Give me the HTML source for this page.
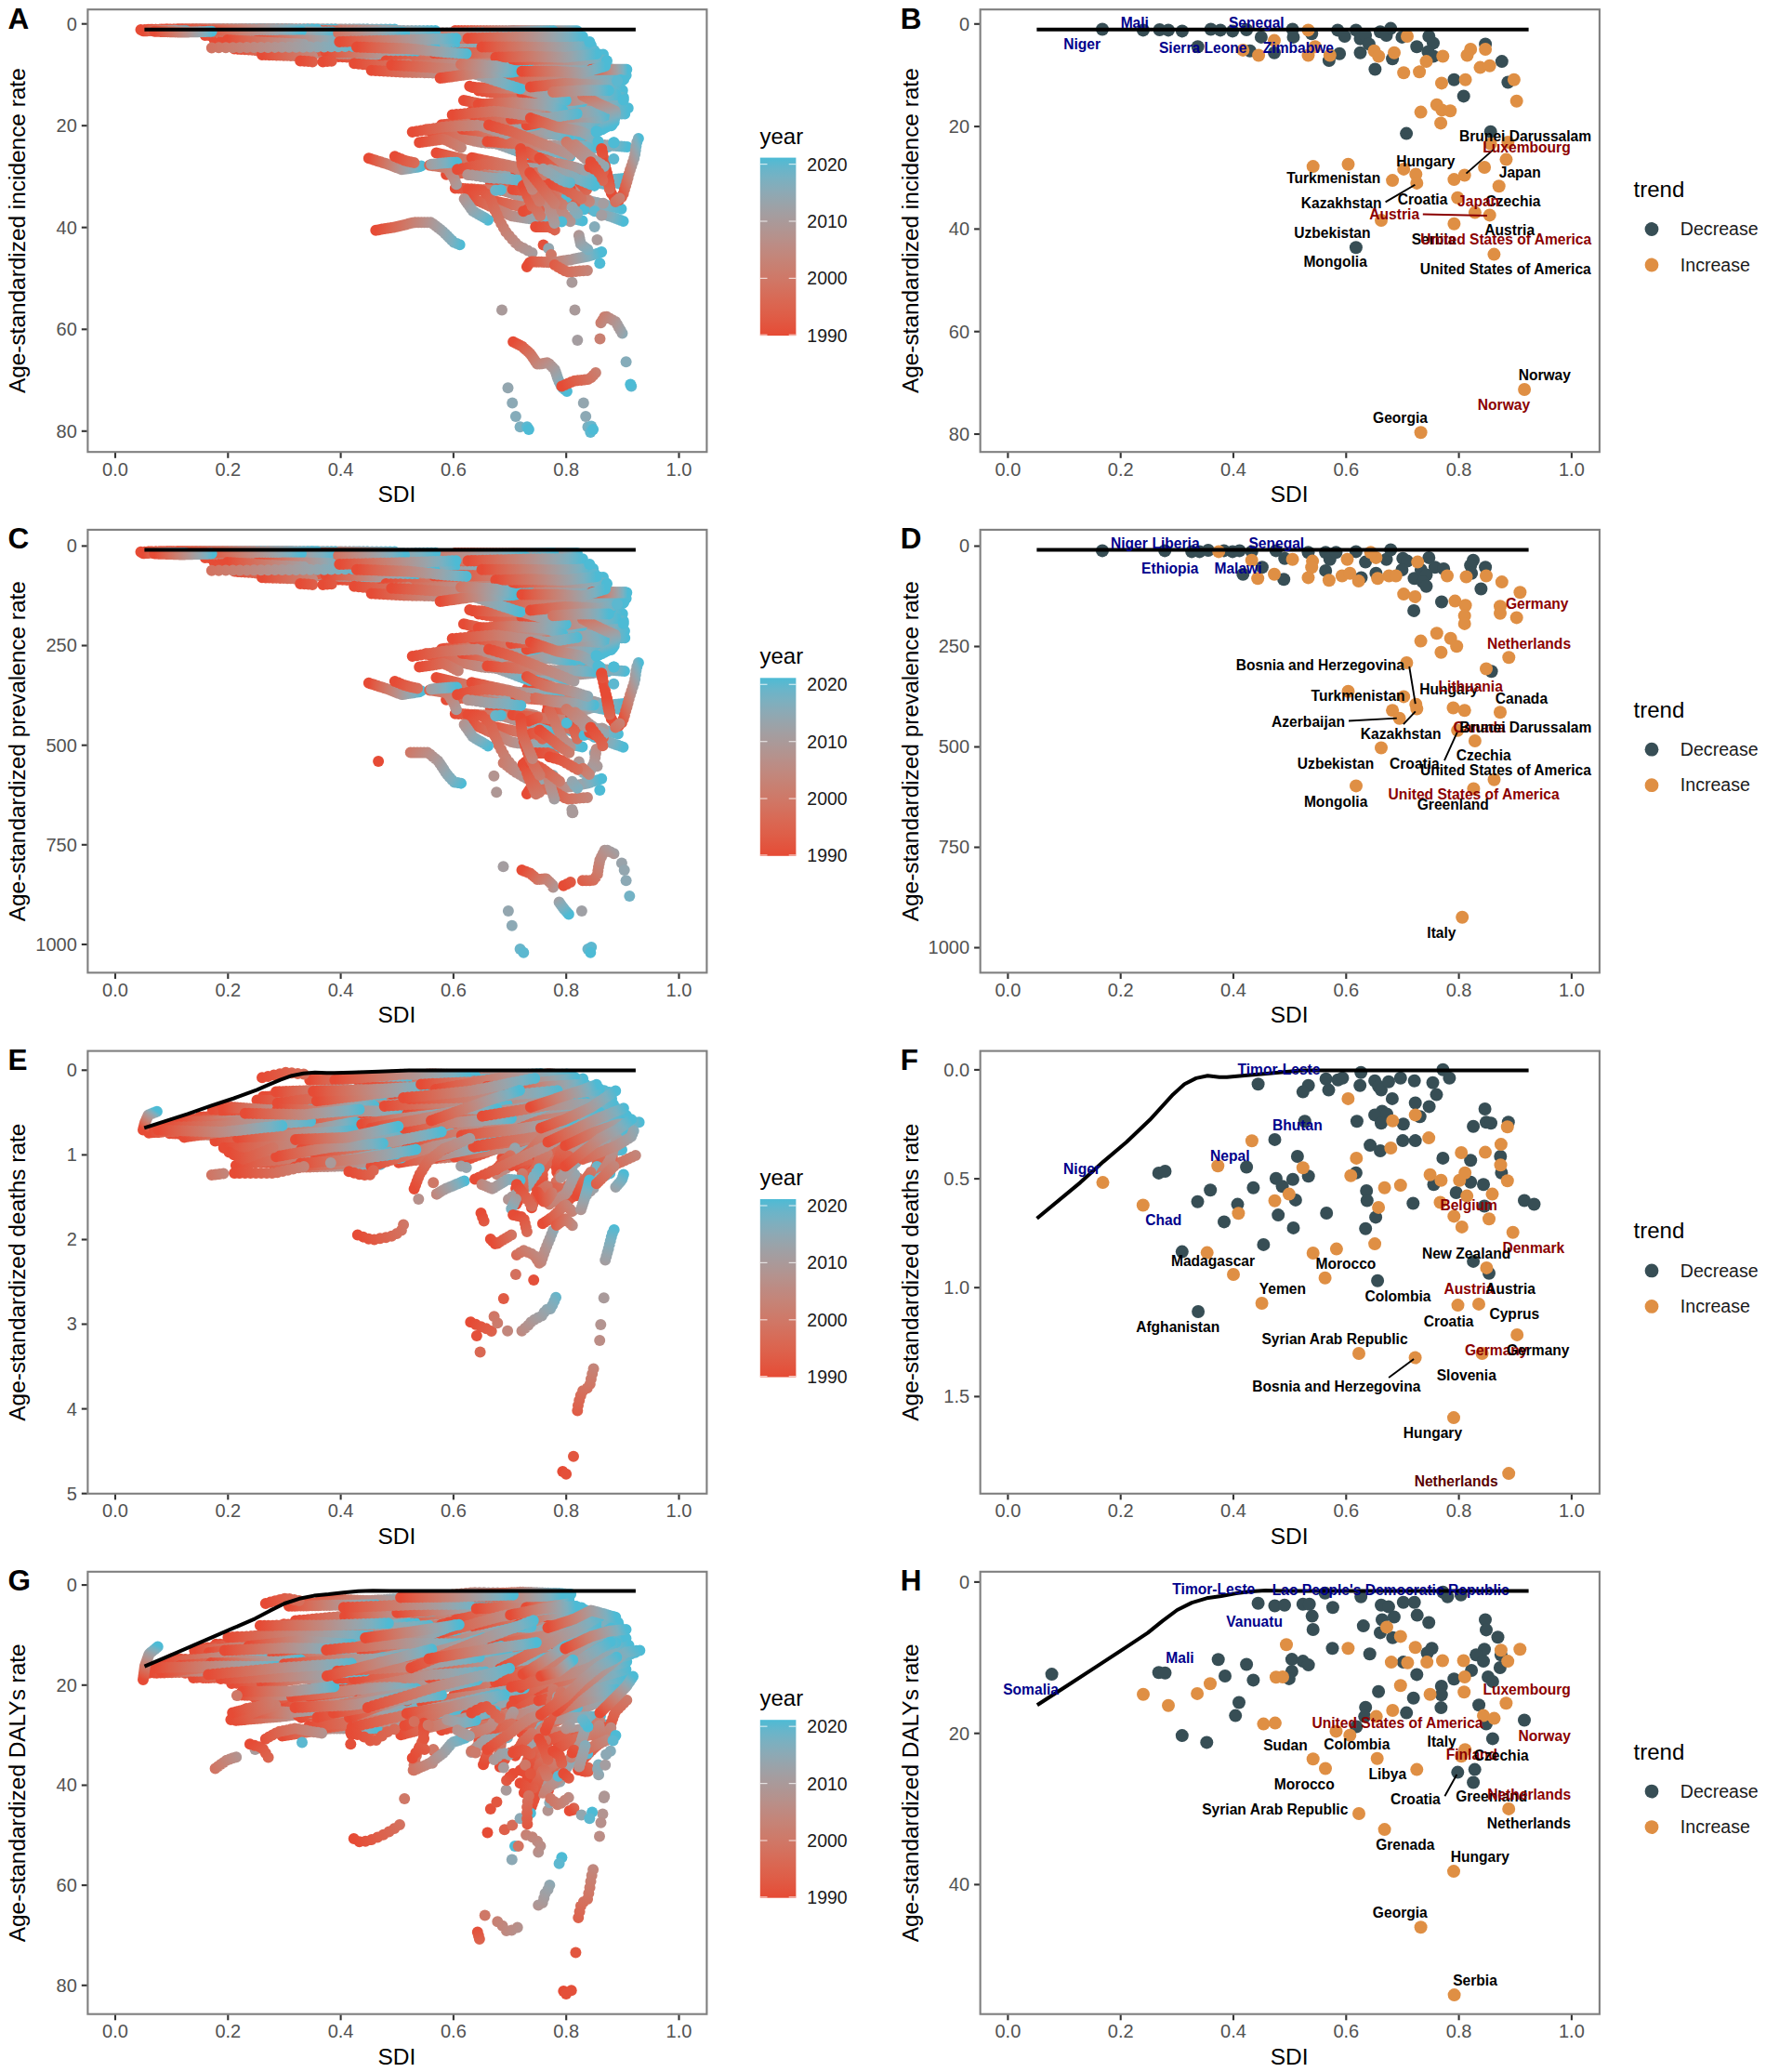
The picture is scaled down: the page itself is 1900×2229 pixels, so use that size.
<!DOCTYPE html><html><head><meta charset="utf-8"><title>SDI frontier analysis</title>
<style>html,body{margin:0;padding:0;background:#fff}svg{display:block}text{font-family:"Liberation Sans", Arial, Helvetica, sans-serif}</style></head><body>
<svg width="1900" height="2229" viewBox="0 0 1900 2229">
<defs><linearGradient id="gy" x1="0" y1="0" x2="0" y2="1"><stop offset="0.000" stop-color="#4dbbd5"/><stop offset="0.062" stop-color="#68b5ca"/><stop offset="0.125" stop-color="#7bb0c0"/><stop offset="0.188" stop-color="#8baab6"/><stop offset="0.250" stop-color="#98a4ab"/><stop offset="0.312" stop-color="#a39ea1"/><stop offset="0.375" stop-color="#ac9897"/><stop offset="0.438" stop-color="#b5928d"/><stop offset="0.500" stop-color="#bd8b83"/><stop offset="0.562" stop-color="#c48579"/><stop offset="0.625" stop-color="#ca7e6f"/><stop offset="0.688" stop-color="#d07766"/><stop offset="0.750" stop-color="#d56f5c"/><stop offset="0.812" stop-color="#da6752"/><stop offset="0.875" stop-color="#de5f49"/><stop offset="0.938" stop-color="#e2553f"/><stop offset="1.000" stop-color="#e64b35"/></linearGradient><linearGradient id="yg"><stop offset="0.000" stop-color="#e64b35"/><stop offset="0.125" stop-color="#de5f49"/><stop offset="0.250" stop-color="#d56f5c"/><stop offset="0.375" stop-color="#ca7e6f"/><stop offset="0.500" stop-color="#bd8b83"/><stop offset="0.625" stop-color="#ac9897"/><stop offset="0.750" stop-color="#98a4ab"/><stop offset="0.875" stop-color="#7bb0c0"/><stop offset="1.000" stop-color="#4dbbd5"/></linearGradient></defs>
<rect width="1900" height="2229" fill="#fff"/>
<g fill="none" stroke-width="12" stroke-linecap="round" stroke-linejoin="round">
<linearGradient id="t1" href="#yg" gradientUnits="userSpaceOnUse" x1="179.7" y1="31.6" x2="290.4" y2="32.2"/>
<path d="M179.7 31.6L235.1 32.1L290.4 32.2" stroke="url(#t1)" stroke-dasharray="0 3.57"/>
<linearGradient id="t2" href="#yg" gradientUnits="userSpaceOnUse" x1="574.5" y1="164.8" x2="656.9" y2="157.7"/>
<path d="M574.5 164.8L615.7 161.8L656.9 157.7" stroke="url(#t2)" stroke-dasharray="0 2.67"/>
<linearGradient id="t3" href="#yg" gradientUnits="userSpaceOnUse" x1="208.2" y1="31.6" x2="306.6" y2="32.2"/>
<path d="M208.2 31.6L257.4 32.1L306.6 32.2" stroke="url(#t3)" stroke-dasharray="0 3.17"/>
<linearGradient id="t4" href="#yg" gradientUnits="userSpaceOnUse" x1="530.0" y1="61.4" x2="633.3" y2="61.0"/>
<path d="M530.0 61.4L581.6 61.9L633.3 61.0" stroke="url(#t4)" stroke-dasharray="0 3.33"/>
<linearGradient id="t5" href="#yg" gradientUnits="userSpaceOnUse" x1="364.6" y1="46.4" x2="460.9" y2="44.1"/>
<path d="M364.6 46.4L412.7 46.1L460.9 44.1" stroke="url(#t5)" stroke-dasharray="0 3.11"/>
<linearGradient id="t6" href="#yg" gradientUnits="userSpaceOnUse" x1="527.8" y1="196.8" x2="623.4" y2="224.5"/>
<path d="M527.8 196.8L575.6 204.3L623.4 224.5" stroke="url(#t6)" stroke-dasharray="0 3.23"/>
<linearGradient id="t7" href="#yg" gradientUnits="userSpaceOnUse" x1="405.8" y1="34.9" x2="534.1" y2="35.4"/>
<path d="M405.8 34.9L470.0 35.4L534.1 35.4" stroke="url(#t7)" stroke-dasharray="0 4.14"/>
<linearGradient id="t8" href="#yg" gradientUnits="userSpaceOnUse" x1="587.8" y1="211.1" x2="670.6" y2="238.0"/>
<path d="M587.8 211.1L629.2 222.7L670.6 238.0" stroke="url(#t8)" stroke-dasharray="0 2.81"/>
<linearGradient id="t9" href="#yg" gradientUnits="userSpaceOnUse" x1="414.7" y1="37.9" x2="529.4" y2="38.5"/>
<path d="M414.7 37.9L472.0 38.4L529.4 38.5" stroke="url(#t9)" stroke-dasharray="0 3.70"/>
<linearGradient id="t10" href="#yg" gradientUnits="userSpaceOnUse" x1="346.0" y1="53.0" x2="502.2" y2="59.0"/>
<path d="M346.0 53.0L424.1 54.9L502.2 59.0" stroke="url(#t10)" stroke-dasharray="0 5.04"/>
<linearGradient id="t11" href="#yg" gradientUnits="userSpaceOnUse" x1="213.3" y1="32.5" x2="354.9" y2="37.6"/>
<path d="M213.3 32.5L284.1 37.0L354.9 37.6" stroke="url(#t11)" stroke-dasharray="0 4.57"/>
<linearGradient id="t12" href="#yg" gradientUnits="userSpaceOnUse" x1="375.3" y1="58.3" x2="527.7" y2="57.4"/>
<path d="M375.3 58.3L451.5 57.4L527.7 57.4" stroke="url(#t12)" stroke-dasharray="0 4.92"/>
<linearGradient id="t13" href="#yg" gradientUnits="userSpaceOnUse" x1="220.7" y1="38.0" x2="346.4" y2="37.7"/>
<path d="M220.7 38.0L283.6 37.9L346.4 37.7" stroke="url(#t13)" stroke-dasharray="0 4.06"/>
<linearGradient id="t14" href="#yg" gradientUnits="userSpaceOnUse" x1="432.0" y1="47.3" x2="590.8" y2="49.2"/>
<path d="M432.0 47.3L511.4 48.5L590.8 49.2" stroke="url(#t14)" stroke-dasharray="0 5.12"/>
<linearGradient id="t15" href="#yg" gradientUnits="userSpaceOnUse" x1="355.0" y1="43.3" x2="461.6" y2="42.7"/>
<path d="M355.0 43.3L408.3 41.9L461.6 42.7" stroke="url(#t15)" stroke-dasharray="0 3.44"/>
<linearGradient id="t16" href="#yg" gradientUnits="userSpaceOnUse" x1="193.0" y1="31.6" x2="305.2" y2="31.5"/>
<path d="M193.0 31.6L249.1 31.4L305.2 31.5" stroke="url(#t16)" stroke-dasharray="0 3.62"/>
<linearGradient id="t17" href="#yg" gradientUnits="userSpaceOnUse" x1="548.4" y1="58.3" x2="636.5" y2="60.6"/>
<path d="M548.4 58.3L592.5 58.6L636.5 60.6" stroke="url(#t17)" stroke-dasharray="0 2.85"/>
<linearGradient id="t18" href="#yg" gradientUnits="userSpaceOnUse" x1="212.3" y1="31.6" x2="339.1" y2="31.9"/>
<path d="M212.3 31.6L275.7 31.8L339.1 31.9" stroke="url(#t18)" stroke-dasharray="0 4.09"/>
<linearGradient id="t19" href="#yg" gradientUnits="userSpaceOnUse" x1="379.4" y1="59.2" x2="535.7" y2="56.4"/>
<path d="M379.4 59.2L457.6 57.5L535.7 56.4" stroke="url(#t19)" stroke-dasharray="0 5.04"/>
<linearGradient id="t20" href="#yg" gradientUnits="userSpaceOnUse" x1="208.1" y1="32.9" x2="337.2" y2="39.1"/>
<path d="M208.1 32.9L272.6 36.0L337.2 39.1" stroke="url(#t20)" stroke-dasharray="0 4.17"/>
<linearGradient id="t21" href="#yg" gradientUnits="userSpaceOnUse" x1="480.1" y1="187.8" x2="590.3" y2="184.5"/>
<path d="M480.1 187.8L535.2 182.3L590.3 184.5" stroke="url(#t21)" stroke-dasharray="0 3.56"/>
<linearGradient id="t22" href="#yg" gradientUnits="userSpaceOnUse" x1="517.2" y1="66.6" x2="643.0" y2="66.9"/>
<path d="M517.2 66.6L580.1 68.3L643.0 66.9" stroke="url(#t22)" stroke-dasharray="0 4.06"/>
<linearGradient id="t23" href="#yg" gradientUnits="userSpaceOnUse" x1="276.9" y1="31.5" x2="395.1" y2="31.6"/>
<path d="M276.9 31.5L336.0 31.6L395.1 31.6" stroke="url(#t23)" stroke-dasharray="0 3.81"/>
<linearGradient id="t24" href="#yg" gradientUnits="userSpaceOnUse" x1="537.8" y1="121.4" x2="626.5" y2="131.2"/>
<path d="M537.8 121.4L582.1 133.1L626.5 131.2" stroke="url(#t24)" stroke-dasharray="0 2.91"/>
<linearGradient id="t25" href="#yg" gradientUnits="userSpaceOnUse" x1="550.4" y1="93.1" x2="675.8" y2="116.3"/>
<path d="M550.4 93.1L613.1 98.6L675.8 116.3" stroke="url(#t25)" stroke-dasharray="0 4.13"/>
<linearGradient id="t26" href="#yg" gradientUnits="userSpaceOnUse" x1="521.6" y1="59.6" x2="649.0" y2="58.5"/>
<path d="M521.6 59.6L585.3 57.9L649.0 58.5" stroke="url(#t26)" stroke-dasharray="0 4.11"/>
<linearGradient id="t27" href="#yg" gradientUnits="userSpaceOnUse" x1="550.3" y1="73.4" x2="662.2" y2="75.4"/>
<path d="M550.3 73.4L606.2 74.0L662.2 75.4" stroke="url(#t27)" stroke-dasharray="0 3.61"/>
<linearGradient id="t28" href="#yg" gradientUnits="userSpaceOnUse" x1="191.6" y1="31.5" x2="310.2" y2="31.7"/>
<path d="M191.6 31.5L250.9 31.5L310.2 31.7" stroke="url(#t28)" stroke-dasharray="0 3.83"/>
<linearGradient id="t29" href="#yg" gradientUnits="userSpaceOnUse" x1="542.3" y1="93.4" x2="644.6" y2="89.5"/>
<path d="M542.3 93.4L593.4 89.3L644.6 89.5" stroke="url(#t29)" stroke-dasharray="0 3.31"/>
<linearGradient id="t30" href="#yg" gradientUnits="userSpaceOnUse" x1="170.7" y1="31.9" x2="278.8" y2="33.9"/>
<path d="M170.7 31.9L224.7 32.5L278.8 33.9" stroke="url(#t30)" stroke-dasharray="0 3.49"/>
<linearGradient id="t31" href="#yg" gradientUnits="userSpaceOnUse" x1="508.9" y1="70.6" x2="624.3" y2="72.9"/>
<path d="M508.9 70.6L566.6 71.6L624.3 72.9" stroke="url(#t31)" stroke-dasharray="0 3.72"/>
<linearGradient id="t32" href="#yg" gradientUnits="userSpaceOnUse" x1="257.9" y1="52.4" x2="415.4" y2="50.9"/>
<path d="M257.9 52.4L336.7 54.4L415.4 50.9" stroke="url(#t32)" stroke-dasharray="0 5.08"/>
<linearGradient id="t33" href="#yg" gradientUnits="userSpaceOnUse" x1="324.1" y1="35.7" x2="472.8" y2="36.3"/>
<path d="M324.1 35.7L398.4 36.4L472.8 36.3" stroke="url(#t33)" stroke-dasharray="0 4.80"/>
<linearGradient id="t34" href="#yg" gradientUnits="userSpaceOnUse" x1="202.1" y1="32.8" x2="306.9" y2="31.5"/>
<path d="M202.1 32.8L254.5 33.9L306.9 31.5" stroke="url(#t34)" stroke-dasharray="0 3.38"/>
<linearGradient id="t35" href="#yg" gradientUnits="userSpaceOnUse" x1="297.1" y1="55.7" x2="449.6" y2="53.2"/>
<path d="M297.1 55.7L373.3 52.9L449.6 53.2" stroke="url(#t35)" stroke-dasharray="0 4.92"/>
<linearGradient id="t36" href="#yg" gradientUnits="userSpaceOnUse" x1="429.0" y1="46.1" x2="551.8" y2="46.5"/>
<path d="M429.0 46.1L490.4 45.9L551.8 46.5" stroke="url(#t36)" stroke-dasharray="0 3.96"/>
<linearGradient id="t37" href="#yg" gradientUnits="userSpaceOnUse" x1="203.0" y1="32.1" x2="314.1" y2="31.5"/>
<path d="M203.0 32.1L258.6 31.7L314.1 31.5" stroke="url(#t37)" stroke-dasharray="0 3.58"/>
<linearGradient id="t38" href="#yg" gradientUnits="userSpaceOnUse" x1="446.1" y1="56.2" x2="542.3" y2="53.4"/>
<path d="M446.1 56.2L494.2 54.2L542.3 53.4" stroke="url(#t38)" stroke-dasharray="0 3.11"/>
<linearGradient id="t39" href="#yg" gradientUnits="userSpaceOnUse" x1="270.9" y1="43.5" x2="427.8" y2="42.6"/>
<path d="M270.9 43.5L349.4 42.8L427.8 42.6" stroke="url(#t39)" stroke-dasharray="0 5.06"/>
<linearGradient id="t40" href="#yg" gradientUnits="userSpaceOnUse" x1="210.4" y1="32.6" x2="322.0" y2="34.9"/>
<path d="M210.4 32.6L266.2 31.5L322.0 34.9" stroke="url(#t40)" stroke-dasharray="0 3.60"/>
<linearGradient id="t41" href="#yg" gradientUnits="userSpaceOnUse" x1="485.5" y1="44.0" x2="628.6" y2="44.0"/>
<path d="M485.5 44.0L557.1 43.2L628.6 44.0" stroke="url(#t41)" stroke-dasharray="0 4.62"/>
<linearGradient id="t42" href="#yg" gradientUnits="userSpaceOnUse" x1="257.1" y1="35.8" x2="375.9" y2="36.3"/>
<path d="M257.1 35.8L316.5 36.3L375.9 36.3" stroke="url(#t42)" stroke-dasharray="0 3.83"/>
<linearGradient id="t43" href="#yg" gradientUnits="userSpaceOnUse" x1="341.1" y1="34.7" x2="467.5" y2="34.7"/>
<path d="M341.1 34.7L404.3 34.5L467.5 34.7" stroke="url(#t43)" stroke-dasharray="0 4.08"/>
<linearGradient id="t44" href="#yg" gradientUnits="userSpaceOnUse" x1="193.0" y1="32.3" x2="342.3" y2="34.5"/>
<path d="M193.0 32.3L267.7 34.0L342.3 34.5" stroke="url(#t44)" stroke-dasharray="0 4.82"/>
<linearGradient id="t45" href="#yg" gradientUnits="userSpaceOnUse" x1="488.7" y1="136.5" x2="614.5" y2="143.8"/>
<path d="M488.7 136.5L551.6 135.0L614.5 143.8" stroke="url(#t45)" stroke-dasharray="0 4.08"/>
<linearGradient id="t46" href="#yg" gradientUnits="userSpaceOnUse" x1="513.6" y1="46.4" x2="626.8" y2="46.9"/>
<path d="M513.6 46.4L570.2 45.9L626.8 46.9" stroke="url(#t46)" stroke-dasharray="0 3.65"/>
<linearGradient id="t47" href="#yg" gradientUnits="userSpaceOnUse" x1="196.0" y1="32.3" x2="295.5" y2="32.5"/>
<path d="M196.0 32.3L245.8 31.5L295.5 32.5" stroke="url(#t47)" stroke-dasharray="0 3.21"/>
<linearGradient id="t48" href="#yg" gradientUnits="userSpaceOnUse" x1="504.0" y1="140.5" x2="591.4" y2="158.9"/>
<path d="M504.0 140.5L547.7 156.0L591.4 158.9" stroke="url(#t48)" stroke-dasharray="0 2.91"/>
<linearGradient id="t49" href="#yg" gradientUnits="userSpaceOnUse" x1="256.3" y1="34.9" x2="378.6" y2="34.9"/>
<path d="M256.3 34.9L317.5 34.9L378.6 34.9" stroke="url(#t49)" stroke-dasharray="0 3.94"/>
<linearGradient id="t50" href="#yg" gradientUnits="userSpaceOnUse" x1="457.7" y1="63.0" x2="595.5" y2="63.3"/>
<path d="M457.7 63.0L526.6 62.4L595.5 63.3" stroke="url(#t50)" stroke-dasharray="0 4.44"/>
<linearGradient id="t51" href="#yg" gradientUnits="userSpaceOnUse" x1="209.1" y1="32.0" x2="311.8" y2="31.5"/>
<path d="M209.1 32.0L260.5 31.9L311.8 31.5" stroke="url(#t51)" stroke-dasharray="0 3.31"/>
<linearGradient id="t52" href="#yg" gradientUnits="userSpaceOnUse" x1="503.8" y1="47.8" x2="612.8" y2="48.0"/>
<path d="M503.8 47.8L558.3 47.8L612.8 48.0" stroke="url(#t52)" stroke-dasharray="0 3.52"/>
<linearGradient id="t53" href="#yg" gradientUnits="userSpaceOnUse" x1="177.3" y1="32.1" x2="328.4" y2="33.4"/>
<path d="M177.3 32.1L252.9 34.0L328.4 33.4" stroke="url(#t53)" stroke-dasharray="0 4.87"/>
<linearGradient id="t54" href="#yg" gradientUnits="userSpaceOnUse" x1="517.0" y1="115.1" x2="597.2" y2="141.6"/>
<path d="M517.0 115.1L557.1 130.5L597.2 141.6" stroke="url(#t54)" stroke-dasharray="0 2.73"/>
<linearGradient id="t55" href="#yg" gradientUnits="userSpaceOnUse" x1="488.7" y1="45.5" x2="597.4" y2="45.0"/>
<path d="M488.7 45.5L543.1 45.4L597.4 45.0" stroke="url(#t55)" stroke-dasharray="0 3.51"/>
<linearGradient id="t56" href="#yg" gradientUnits="userSpaceOnUse" x1="550.8" y1="108.7" x2="669.9" y2="97.2"/>
<path d="M550.8 108.7L610.4 100.2L669.9 97.2" stroke="url(#t56)" stroke-dasharray="0 3.86"/>
<linearGradient id="t57" href="#yg" gradientUnits="userSpaceOnUse" x1="569.0" y1="127.9" x2="657.7" y2="135.2"/>
<path d="M569.0 127.9L613.3 126.1L657.7 135.2" stroke="url(#t57)" stroke-dasharray="0 2.89"/>
<linearGradient id="t58" href="#yg" gradientUnits="userSpaceOnUse" x1="588.7" y1="200.0" x2="670.9" y2="192.0"/>
<path d="M588.7 200.0L629.8 196.0L670.9 192.0" stroke="url(#t58)" stroke-dasharray="0 2.66"/>
<linearGradient id="t59" href="#yg" gradientUnits="userSpaceOnUse" x1="364.2" y1="61.1" x2="503.5" y2="64.9"/>
<path d="M364.2 61.1L433.8 64.5L503.5 64.9" stroke="url(#t59)" stroke-dasharray="0 4.50"/>
<linearGradient id="t60" href="#yg" gradientUnits="userSpaceOnUse" x1="230.6" y1="42.7" x2="338.9" y2="47.2"/>
<path d="M230.6 42.7L284.8 44.9L338.9 47.2" stroke="url(#t60)" stroke-dasharray="0 3.50"/>
<linearGradient id="t61" href="#yg" gradientUnits="userSpaceOnUse" x1="389.2" y1="48.1" x2="543.0" y2="49.0"/>
<path d="M389.2 48.1L466.1 48.6L543.0 49.0" stroke="url(#t61)" stroke-dasharray="0 4.96"/>
<linearGradient id="t62" href="#yg" gradientUnits="userSpaceOnUse" x1="423.6" y1="42.3" x2="578.8" y2="42.2"/>
<path d="M423.6 42.3L501.2 42.1L578.8 42.2" stroke="url(#t62)" stroke-dasharray="0 5.00"/>
<linearGradient id="t63" href="#yg" gradientUnits="userSpaceOnUse" x1="498.9" y1="108.0" x2="580.9" y2="109.7"/>
<path d="M498.9 108.0L539.9 116.5L580.9 109.7" stroke="url(#t63)" stroke-dasharray="0 2.69"/>
<linearGradient id="t64" href="#yg" gradientUnits="userSpaceOnUse" x1="551.0" y1="33.1" x2="623.1" y2="33.3"/>
<path d="M551.0 33.1L587.1 33.3L623.1 33.3" stroke="url(#t64)" stroke-dasharray="0 2.33"/>
<linearGradient id="t65" href="#yg" gradientUnits="userSpaceOnUse" x1="547.6" y1="82.5" x2="662.9" y2="80.9"/>
<path d="M547.6 82.5L605.3 83.0L662.9 80.9" stroke="url(#t65)" stroke-dasharray="0 3.72"/>
<linearGradient id="t66" href="#yg" gradientUnits="userSpaceOnUse" x1="450.3" y1="64.2" x2="574.6" y2="63.4"/>
<path d="M450.3 64.2L512.4 61.7L574.6 63.4" stroke="url(#t66)" stroke-dasharray="0 4.01"/>
<linearGradient id="t67" href="#yg" gradientUnits="userSpaceOnUse" x1="489.8" y1="33.1" x2="595.3" y2="33.2"/>
<path d="M489.8 33.1L542.6 33.1L595.3 33.2" stroke="url(#t67)" stroke-dasharray="0 3.40"/>
<linearGradient id="t68" href="#yg" gradientUnits="userSpaceOnUse" x1="543.0" y1="96.7" x2="657.0" y2="93.0"/>
<path d="M543.0 96.7L600.0 88.8L657.0 93.0" stroke="url(#t68)" stroke-dasharray="0 3.70"/>
<linearGradient id="t69" href="#yg" gradientUnits="userSpaceOnUse" x1="456.0" y1="60.9" x2="553.1" y2="61.0"/>
<path d="M456.0 60.9L504.5 60.2L553.1 61.0" stroke="url(#t69)" stroke-dasharray="0 3.13"/>
<linearGradient id="t70" href="#yg" gradientUnits="userSpaceOnUse" x1="334.3" y1="38.5" x2="446.7" y2="38.0"/>
<path d="M334.3 38.5L390.5 38.4L446.7 38.0" stroke="url(#t70)" stroke-dasharray="0 3.63"/>
<linearGradient id="t71" href="#yg" gradientUnits="userSpaceOnUse" x1="488.5" y1="78.7" x2="639.1" y2="75.3"/>
<path d="M488.5 78.7L563.8 74.9L639.1 75.3" stroke="url(#t71)" stroke-dasharray="0 4.86"/>
<linearGradient id="t72" href="#yg" gradientUnits="userSpaceOnUse" x1="161.5" y1="31.8" x2="274.6" y2="34.3"/>
<path d="M161.5 31.8L218.0 33.0L274.6 34.3" stroke="url(#t72)" stroke-dasharray="0 3.65"/>
<linearGradient id="t73" href="#yg" gradientUnits="userSpaceOnUse" x1="253.4" y1="40.0" x2="371.0" y2="42.7"/>
<path d="M253.4 40.0L312.2 42.6L371.0 42.7" stroke="url(#t73)" stroke-dasharray="0 3.79"/>
<linearGradient id="t74" href="#yg" gradientUnits="userSpaceOnUse" x1="572.7" y1="125.4" x2="675.4" y2="122.6"/>
<path d="M572.7 125.4L624.0 122.4L675.4 122.6" stroke="url(#t74)" stroke-dasharray="0 3.32"/>
<linearGradient id="t75" href="#yg" gradientUnits="userSpaceOnUse" x1="386.6" y1="65.7" x2="507.4" y2="72.6"/>
<path d="M386.6 65.7L447.0 67.9L507.4 72.6" stroke="url(#t75)" stroke-dasharray="0 3.90"/>
<linearGradient id="t76" href="#yg" gradientUnits="userSpaceOnUse" x1="422.8" y1="38.8" x2="579.4" y2="38.4"/>
<path d="M422.8 38.8L501.1 39.1L579.4 38.4" stroke="url(#t76)" stroke-dasharray="0 5.05"/>
<linearGradient id="t77" href="#yg" gradientUnits="userSpaceOnUse" x1="279.6" y1="31.6" x2="429.2" y2="31.6"/>
<path d="M279.6 31.6L354.4 31.6L429.2 31.6" stroke="url(#t77)" stroke-dasharray="0 4.83"/>
<linearGradient id="t78" href="#yg" gradientUnits="userSpaceOnUse" x1="515.8" y1="117.7" x2="653.3" y2="116.7"/>
<path d="M515.8 117.7L584.6 120.6L653.3 116.7" stroke="url(#t78)" stroke-dasharray="0 4.44"/>
<linearGradient id="t79" href="#yg" gradientUnits="userSpaceOnUse" x1="489.8" y1="202.4" x2="594.5" y2="222.6"/>
<path d="M489.8 202.4L542.2 205.2L594.5 222.6" stroke="url(#t79)" stroke-dasharray="0 3.47"/>
<linearGradient id="t80" href="#yg" gradientUnits="userSpaceOnUse" x1="235.6" y1="38.7" x2="341.1" y2="36.8"/>
<path d="M235.6 38.7L288.4 37.0L341.1 36.8" stroke="url(#t80)" stroke-dasharray="0 3.41"/>
<linearGradient id="t81" href="#yg" gradientUnits="userSpaceOnUse" x1="175.4" y1="32.7" x2="288.5" y2="34.7"/>
<path d="M175.4 32.7L232.0 34.4L288.5 34.7" stroke="url(#t81)" stroke-dasharray="0 3.65"/>
<linearGradient id="t82" href="#yg" gradientUnits="userSpaceOnUse" x1="450.6" y1="40.9" x2="581.4" y2="42.7"/>
<path d="M450.6 40.9L516.0 41.3L581.4 42.7" stroke="url(#t82)" stroke-dasharray="0 4.22"/>
<linearGradient id="t83" href="#yg" gradientUnits="userSpaceOnUse" x1="450.4" y1="71.1" x2="610.3" y2="68.8"/>
<path d="M450.4 71.1L530.3 72.4L610.3 68.8" stroke="url(#t83)" stroke-dasharray="0 5.16"/>
<linearGradient id="t84" href="#yg" gradientUnits="userSpaceOnUse" x1="430.0" y1="42.5" x2="570.1" y2="41.7"/>
<path d="M430.0 42.5L500.0 41.9L570.1 41.7" stroke="url(#t84)" stroke-dasharray="0 4.52"/>
<linearGradient id="t85" href="#yg" gradientUnits="userSpaceOnUse" x1="484.8" y1="139.0" x2="613.3" y2="168.6"/>
<path d="M484.8 139.0L549.1 147.4L613.3 168.6" stroke="url(#t85)" stroke-dasharray="0 4.27"/>
<linearGradient id="t86" href="#yg" gradientUnits="userSpaceOnUse" x1="429.9" y1="65.2" x2="537.7" y2="66.9"/>
<path d="M429.9 65.2L483.8 64.6L537.7 66.9" stroke="url(#t86)" stroke-dasharray="0 3.48"/>
<linearGradient id="t87" href="#yg" gradientUnits="userSpaceOnUse" x1="457.4" y1="50.7" x2="579.2" y2="50.8"/>
<path d="M457.4 50.7L518.3 50.3L579.2 50.8" stroke="url(#t87)" stroke-dasharray="0 3.93"/>
<linearGradient id="t88" href="#yg" gradientUnits="userSpaceOnUse" x1="356.8" y1="56.7" x2="506.1" y2="59.3"/>
<path d="M356.8 56.7L431.4 59.9L506.1 59.3" stroke="url(#t88)" stroke-dasharray="0 4.82"/>
<linearGradient id="t89" href="#yg" gradientUnits="userSpaceOnUse" x1="377.7" y1="35.8" x2="523.7" y2="35.6"/>
<path d="M377.7 35.8L450.7 35.5L523.7 35.6" stroke="url(#t89)" stroke-dasharray="0 4.71"/>
<linearGradient id="t90" href="#yg" gradientUnits="userSpaceOnUse" x1="232.4" y1="31.7" x2="360.2" y2="31.6"/>
<path d="M232.4 31.7L296.3 31.6L360.2 31.6" stroke="url(#t90)" stroke-dasharray="0 4.12"/>
<linearGradient id="t91" href="#yg" gradientUnits="userSpaceOnUse" x1="346.4" y1="54.9" x2="485.8" y2="58.1"/>
<path d="M346.4 54.9L416.1 54.5L485.8 58.1" stroke="url(#t91)" stroke-dasharray="0 4.50"/>
<linearGradient id="t92" href="#yg" gradientUnits="userSpaceOnUse" x1="475.7" y1="44.0" x2="616.1" y2="44.7"/>
<path d="M475.7 44.0L545.9 45.0L616.1 44.7" stroke="url(#t92)" stroke-dasharray="0 4.53"/>
<linearGradient id="t93" href="#yg" gradientUnits="userSpaceOnUse" x1="567.3" y1="176.1" x2="672.4" y2="199.4"/>
<path d="M567.3 176.1L619.8 184.5L672.4 199.4" stroke="url(#t93)" stroke-dasharray="0 3.48"/>
<linearGradient id="t94" href="#yg" gradientUnits="userSpaceOnUse" x1="584.2" y1="136.8" x2="674.9" y2="158.0"/>
<path d="M584.2 136.8L629.6 154.3L674.9 158.0" stroke="url(#t94)" stroke-dasharray="0 3.03"/>
<linearGradient id="t95" href="#yg" gradientUnits="userSpaceOnUse" x1="240.0" y1="40.1" x2="396.9" y2="44.0"/>
<path d="M240.0 40.1L318.5 42.9L396.9 44.0" stroke="url(#t95)" stroke-dasharray="0 5.06"/>
<linearGradient id="t96" href="#yg" gradientUnits="userSpaceOnUse" x1="457.6" y1="40.5" x2="583.6" y2="40.4"/>
<path d="M457.6 40.5L520.6 40.9L583.6 40.4" stroke="url(#t96)" stroke-dasharray="0 4.07"/>
<linearGradient id="t97" href="#yg" gradientUnits="userSpaceOnUse" x1="361.8" y1="47.1" x2="487.0" y2="50.9"/>
<path d="M361.8 47.1L424.4 48.1L487.0 50.9" stroke="url(#t97)" stroke-dasharray="0 4.04"/>
<linearGradient id="t98" href="#yg" gradientUnits="userSpaceOnUse" x1="301.4" y1="56.0" x2="433.2" y2="58.1"/>
<path d="M301.4 56.0L367.3 57.7L433.2 58.1" stroke="url(#t98)" stroke-dasharray="0 4.25"/>
<linearGradient id="t99" href="#yg" gradientUnits="userSpaceOnUse" x1="449.0" y1="63.6" x2="557.4" y2="65.1"/>
<path d="M449.0 63.6L503.2 63.8L557.4 65.1" stroke="url(#t99)" stroke-dasharray="0 3.50"/>
<linearGradient id="t100" href="#yg" gradientUnits="userSpaceOnUse" x1="530.9" y1="94.2" x2="656.3" y2="119.8"/>
<path d="M530.9 94.2L593.6 103.4L656.3 119.8" stroke="url(#t100)" stroke-dasharray="0 4.13"/>
<linearGradient id="t101" href="#yg" gradientUnits="userSpaceOnUse" x1="525.6" y1="115.5" x2="652.5" y2="111.8"/>
<path d="M525.6 115.5L589.1 117.7L652.5 111.8" stroke="url(#t101)" stroke-dasharray="0 4.10"/>
<linearGradient id="t102" href="#yg" gradientUnits="userSpaceOnUse" x1="383.9" y1="35.3" x2="524.5" y2="35.9"/>
<path d="M383.9 35.3L454.2 35.6L524.5 35.9" stroke="url(#t102)" stroke-dasharray="0 4.53"/>
<linearGradient id="t103" href="#yg" gradientUnits="userSpaceOnUse" x1="427.2" y1="69.0" x2="525.8" y2="75.6"/>
<path d="M427.2 69.0L476.5 73.9L525.8 75.6" stroke="url(#t103)" stroke-dasharray="0 3.19"/>
<linearGradient id="t104" href="#yg" gradientUnits="userSpaceOnUse" x1="151.5" y1="32.0" x2="278.4" y2="31.5"/>
<path d="M151.5 32.0L215.0 31.3L278.4 31.5" stroke="url(#t104)" stroke-dasharray="0 4.10"/>
<linearGradient id="t105" href="#yg" gradientUnits="userSpaceOnUse" x1="534.2" y1="88.4" x2="674.1" y2="86.5"/>
<path d="M534.2 88.4L604.1 85.9L674.1 86.5" stroke="url(#t105)" stroke-dasharray="0 4.52"/>
<linearGradient id="t106" href="#yg" gradientUnits="userSpaceOnUse" x1="290.2" y1="38.3" x2="391.1" y2="39.1"/>
<path d="M290.2 38.3L340.7 39.3L391.1 39.1" stroke="url(#t106)" stroke-dasharray="0 3.26"/>
<linearGradient id="t107" href="#yg" gradientUnits="userSpaceOnUse" x1="173.8" y1="31.6" x2="301.8" y2="31.5"/>
<path d="M173.8 31.6L237.8 31.4L301.8 31.5" stroke="url(#t107)" stroke-dasharray="0 4.13"/>
<linearGradient id="t108" href="#yg" gradientUnits="userSpaceOnUse" x1="512.3" y1="46.5" x2="636.0" y2="48.8"/>
<path d="M512.3 46.5L574.2 48.0L636.0 48.8" stroke="url(#t108)" stroke-dasharray="0 3.99"/>
<linearGradient id="t109" href="#yg" gradientUnits="userSpaceOnUse" x1="549.6" y1="92.2" x2="657.4" y2="84.0"/>
<path d="M549.6 92.2L603.5 90.1L657.4 84.0" stroke="url(#t109)" stroke-dasharray="0 3.49"/>
<linearGradient id="t110" href="#yg" gradientUnits="userSpaceOnUse" x1="259.8" y1="43.6" x2="363.2" y2="41.7"/>
<path d="M259.8 43.6L311.5 41.5L363.2 41.7" stroke="url(#t110)" stroke-dasharray="0 3.34"/>
<linearGradient id="t111" href="#yg" gradientUnits="userSpaceOnUse" x1="475.2" y1="134.3" x2="562.9" y2="126.2"/>
<path d="M475.2 134.3L519.1 129.3L562.9 126.2" stroke="url(#t111)" stroke-dasharray="0 2.84"/>
<linearGradient id="t112" href="#yg" gradientUnits="userSpaceOnUse" x1="534.6" y1="151.8" x2="627.7" y2="145.8"/>
<path d="M534.6 151.8L581.2 144.1L627.7 145.8" stroke="url(#t112)" stroke-dasharray="0 3.02"/>
<linearGradient id="t113" href="#yg" gradientUnits="userSpaceOnUse" x1="401.1" y1="53.5" x2="529.0" y2="54.2"/>
<path d="M401.1 53.5L465.1 54.0L529.0 54.2" stroke="url(#t113)" stroke-dasharray="0 4.12"/>
<linearGradient id="t114" href="#yg" gradientUnits="userSpaceOnUse" x1="459.6" y1="139.6" x2="569.9" y2="167.5"/>
<path d="M459.6 139.6L514.7 147.7L569.9 167.5" stroke="url(#t114)" stroke-dasharray="0 3.69"/>
<linearGradient id="t115" href="#yg" gradientUnits="userSpaceOnUse" x1="245.7" y1="44.1" x2="372.2" y2="41.0"/>
<path d="M245.7 44.1L308.9 42.3L372.2 41.0" stroke="url(#t115)" stroke-dasharray="0 4.08"/>
<linearGradient id="t116" href="#yg" gradientUnits="userSpaceOnUse" x1="589.6" y1="195.1" x2="653.1" y2="191.3"/>
<path d="M589.6 195.1L621.3 200.9L653.1 191.3" stroke="url(#t116)" stroke-dasharray="0 2.11"/>
<linearGradient id="t117" href="#yg" gradientUnits="userSpaceOnUse" x1="219.4" y1="33.8" x2="314.6" y2="36.4"/>
<path d="M219.4 33.8L267.0 34.4L314.6 36.4" stroke="url(#t117)" stroke-dasharray="0 3.07"/>
<linearGradient id="t118" href="#yg" gradientUnits="userSpaceOnUse" x1="499.2" y1="147.5" x2="623.5" y2="145.9"/>
<path d="M499.2 147.5L561.3 142.6L623.5 145.9" stroke="url(#t118)" stroke-dasharray="0 4.02"/>
<linearGradient id="t119" href="#yg" gradientUnits="userSpaceOnUse" x1="216.2" y1="33.2" x2="339.3" y2="31.9"/>
<path d="M216.2 33.2L277.7 31.9L339.3 31.9" stroke="url(#t119)" stroke-dasharray="0 3.97"/>
<linearGradient id="t120" href="#yg" gradientUnits="userSpaceOnUse" x1="285.2" y1="51.4" x2="394.7" y2="57.1"/>
<path d="M285.2 51.4L339.9 55.8L394.7 57.1" stroke="url(#t120)" stroke-dasharray="0 3.54"/>
<linearGradient id="t121" href="#yg" gradientUnits="userSpaceOnUse" x1="265.6" y1="38.8" x2="376.3" y2="37.9"/>
<path d="M265.6 38.8L321.0 38.3L376.3 37.9" stroke="url(#t121)" stroke-dasharray="0 3.57"/>
<linearGradient id="t122" href="#yg" gradientUnits="userSpaceOnUse" x1="551.6" y1="203.8" x2="668.6" y2="224.8"/>
<path d="M551.6 203.8L610.1 209.8L668.6 224.8" stroke="url(#t122)" stroke-dasharray="0 3.84"/>
<linearGradient id="t123" href="#yg" gradientUnits="userSpaceOnUse" x1="315.9" y1="33.5" x2="433.5" y2="33.2"/>
<path d="M315.9 33.5L374.7 33.4L433.5 33.2" stroke="url(#t123)" stroke-dasharray="0 3.79"/>
<linearGradient id="t124" href="#yg" gradientUnits="userSpaceOnUse" x1="505.3" y1="92.8" x2="640.5" y2="112.2"/>
<path d="M505.3 92.8L572.9 108.9L640.5 112.2" stroke="url(#t124)" stroke-dasharray="0 4.42"/>
<linearGradient id="t125" href="#yg" gradientUnits="userSpaceOnUse" x1="579.2" y1="99.8" x2="673.8" y2="104.4"/>
<path d="M579.2 99.8L626.5 110.0L673.8 104.4" stroke="url(#t125)" stroke-dasharray="0 3.10"/>
<linearGradient id="t126" href="#yg" gradientUnits="userSpaceOnUse" x1="546.4" y1="114.7" x2="647.9" y2="139.0"/>
<path d="M546.4 114.7L597.1 134.8L647.9 139.0" stroke="url(#t126)" stroke-dasharray="0 3.40"/>
<linearGradient id="t127" href="#yg" gradientUnits="userSpaceOnUse" x1="167.1" y1="31.9" x2="263.5" y2="33.0"/>
<path d="M167.1 31.9L215.3 32.5L263.5 33.0" stroke="url(#t127)" stroke-dasharray="0 3.11"/>
<linearGradient id="t128" href="#yg" gradientUnits="userSpaceOnUse" x1="515.0" y1="97.4" x2="653.4" y2="124.4"/>
<path d="M515.0 97.4L584.2 108.8L653.4 124.4" stroke="url(#t128)" stroke-dasharray="0 4.55"/>
<linearGradient id="t129" href="#yg" gradientUnits="userSpaceOnUse" x1="159.3" y1="31.7" x2="284.3" y2="31.5"/>
<path d="M159.3 31.7L221.8 31.9L284.3 31.5" stroke="url(#t129)" stroke-dasharray="0 4.03"/>
<linearGradient id="t130" href="#yg" gradientUnits="userSpaceOnUse" x1="412.0" y1="55.1" x2="531.2" y2="52.7"/>
<path d="M412.0 55.1L471.6 52.9L531.2 52.7" stroke="url(#t130)" stroke-dasharray="0 3.85"/>
<linearGradient id="t131" href="#yg" gradientUnits="userSpaceOnUse" x1="494.4" y1="57.1" x2="639.3" y2="55.0"/>
<path d="M494.4 57.1L566.8 56.6L639.3 55.0" stroke="url(#t131)" stroke-dasharray="0 4.68"/>
<linearGradient id="t132" href="#yg" gradientUnits="userSpaceOnUse" x1="506.6" y1="120.5" x2="630.2" y2="108.8"/>
<path d="M506.6 120.5L568.4 121.1L630.2 108.8" stroke="url(#t132)" stroke-dasharray="0 4.03"/>
<linearGradient id="t133" href="#yg" gradientUnits="userSpaceOnUse" x1="525.2" y1="215.1" x2="626.6" y2="237.6"/>
<path d="M525.2 215.1L575.9 225.3L626.6 237.6" stroke="url(#t133)" stroke-dasharray="0 3.35"/>
<linearGradient id="t134" href="#yg" gradientUnits="userSpaceOnUse" x1="417.7" y1="35.9" x2="564.7" y2="36.8"/>
<path d="M417.7 35.9L491.2 36.5L564.7 36.8" stroke="url(#t134)" stroke-dasharray="0 4.74"/>
<linearGradient id="t135" href="#yg" gradientUnits="userSpaceOnUse" x1="561.4" y1="100.6" x2="666.0" y2="101.5"/>
<path d="M561.4 100.6L613.7 108.3L666.0 101.5" stroke="url(#t135)" stroke-dasharray="0 3.41"/>
<linearGradient id="t136" href="#yg" gradientUnits="userSpaceOnUse" x1="559.5" y1="56.2" x2="641.8" y2="55.7"/>
<path d="M559.5 56.2L600.7 54.9L641.8 55.7" stroke="url(#t136)" stroke-dasharray="0 2.66"/>
<linearGradient id="t137" href="#yg" gradientUnits="userSpaceOnUse" x1="503.6" y1="211.1" x2="597.6" y2="239.3"/>
<path d="M503.6 211.1L550.6 232.4L597.6 239.3" stroke="url(#t137)" stroke-dasharray="0 3.20"/>
<linearGradient id="t138" href="#yg" gradientUnits="userSpaceOnUse" x1="541.1" y1="84.7" x2="678.0" y2="80.7"/>
<path d="M541.1 84.7L609.6 83.8L678.0 80.7" stroke="url(#t138)" stroke-dasharray="0 4.42"/>
<linearGradient id="t139" href="#yg" gradientUnits="userSpaceOnUse" x1="337.5" y1="33.1" x2="468.4" y2="33.0"/>
<path d="M337.5 33.1L402.9 33.2L468.4 33.0" stroke="url(#t139)" stroke-dasharray="0 4.22"/>
<linearGradient id="t140" href="#yg" gradientUnits="userSpaceOnUse" x1="553.7" y1="77.7" x2="658.5" y2="74.4"/>
<path d="M553.7 77.7L606.1 77.5L658.5 74.4" stroke="url(#t140)" stroke-dasharray="0 3.38"/>
<linearGradient id="t141" href="#yg" gradientUnits="userSpaceOnUse" x1="548.1" y1="65.8" x2="644.4" y2="66.4"/>
<path d="M548.1 65.8L596.3 67.3L644.4 66.4" stroke="url(#t141)" stroke-dasharray="0 3.11"/>
<linearGradient id="t142" href="#yg" gradientUnits="userSpaceOnUse" x1="323.1" y1="54.6" x2="477.4" y2="52.2"/>
<path d="M323.1 54.6L400.2 55.5L477.4 52.2" stroke="url(#t142)" stroke-dasharray="0 4.98"/>
<linearGradient id="t143" href="#yg" gradientUnits="userSpaceOnUse" x1="449.1" y1="72.9" x2="562.8" y2="73.7"/>
<path d="M449.1 72.9L505.9 74.8L562.8 73.7" stroke="url(#t143)" stroke-dasharray="0 3.67"/>
<linearGradient id="t144" href="#yg" gradientUnits="userSpaceOnUse" x1="282.8" y1="47.6" x2="387.6" y2="49.3"/>
<path d="M282.8 47.6L335.2 48.0L387.6 49.3" stroke="url(#t144)" stroke-dasharray="0 3.38"/>
<linearGradient id="t145" href="#yg" gradientUnits="userSpaceOnUse" x1="420.3" y1="62.6" x2="519.6" y2="59.6"/>
<path d="M420.3 62.6L470.0 60.0L519.6 59.6" stroke="url(#t145)" stroke-dasharray="0 3.21"/>
<linearGradient id="t146" href="#yg" gradientUnits="userSpaceOnUse" x1="350.6" y1="56.1" x2="445.8" y2="57.7"/>
<path d="M350.6 56.1L398.2 57.1L445.8 57.7" stroke="url(#t146)" stroke-dasharray="0 3.07"/>
<linearGradient id="t147" href="#yg" gradientUnits="userSpaceOnUse" x1="458.1" y1="139.4" x2="576.3" y2="158.2"/>
<path d="M458.1 139.4L517.2 153.2L576.3 158.2" stroke="url(#t147)" stroke-dasharray="0 3.87"/>
<linearGradient id="t148" href="#yg" gradientUnits="userSpaceOnUse" x1="508.5" y1="123.2" x2="614.3" y2="150.2"/>
<path d="M508.5 123.2L561.4 131.7L614.3 150.2" stroke="url(#t148)" stroke-dasharray="0 3.54"/>
<linearGradient id="t149" href="#yg" gradientUnits="userSpaceOnUse" x1="515.7" y1="74.1" x2="651.5" y2="71.8"/>
<path d="M515.7 74.1L583.6 73.0L651.5 71.8" stroke="url(#t149)" stroke-dasharray="0 4.38"/>
<linearGradient id="t150" href="#yg" gradientUnits="userSpaceOnUse" x1="415.3" y1="65.6" x2="574.9" y2="66.0"/>
<path d="M415.3 65.6L495.1 66.6L574.9 66.0" stroke="url(#t150)" stroke-dasharray="0 5.15"/>
<linearGradient id="t151" href="#yg" gradientUnits="userSpaceOnUse" x1="466.6" y1="57.0" x2="594.6" y2="61.6"/>
<path d="M466.6 57.0L530.6 59.1L594.6 61.6" stroke="url(#t151)" stroke-dasharray="0 4.13"/>
<linearGradient id="t152" href="#yg" gradientUnits="userSpaceOnUse" x1="179.7" y1="32.3" x2="335.7" y2="31.5"/>
<path d="M179.7 32.3L257.7 33.3L335.7 31.5" stroke="url(#t152)" stroke-dasharray="0 5.03"/>
<linearGradient id="t153" href="#yg" gradientUnits="userSpaceOnUse" x1="396.4" y1="44.9" x2="492.1" y2="47.7"/>
<path d="M396.4 44.9L444.3 46.6L492.1 47.7" stroke="url(#t153)" stroke-dasharray="0 3.09"/>
<linearGradient id="t154" href="#yg" gradientUnits="userSpaceOnUse" x1="310.9" y1="34.9" x2="431.8" y2="34.4"/>
<path d="M310.9 34.9L371.3 34.3L431.8 34.4" stroke="url(#t154)" stroke-dasharray="0 3.90"/>
<linearGradient id="t155" href="#yg" gradientUnits="userSpaceOnUse" x1="174.9" y1="32.3" x2="287.3" y2="35.5"/>
<path d="M174.9 32.3L231.1 33.0L287.3 35.5" stroke="url(#t155)" stroke-dasharray="0 3.63"/>
<linearGradient id="t156" href="#yg" gradientUnits="userSpaceOnUse" x1="497.1" y1="138.8" x2="579.3" y2="133.6"/>
<path d="M497.1 138.8L538.2 143.2L579.3 133.6" stroke="url(#t156)" stroke-dasharray="0 2.70"/>
<linearGradient id="t157" href="#yg" gradientUnits="userSpaceOnUse" x1="551.9" y1="55.4" x2="639.4" y2="54.2"/>
<path d="M551.9 55.4L595.7 53.7L639.4 54.2" stroke="url(#t157)" stroke-dasharray="0 2.82"/>
<linearGradient id="t158" href="#yg" gradientUnits="userSpaceOnUse" x1="469.4" y1="164.6" x2="568.1" y2="186.0"/>
<path d="M469.4 164.6L518.7 176.1L568.1 186.0" stroke="url(#t158)" stroke-dasharray="0 3.26"/>
<linearGradient id="t159" href="#yg" gradientUnits="userSpaceOnUse" x1="191.7" y1="31.9" x2="341.0" y2="31.5"/>
<path d="M191.7 31.9L266.3 31.3L341.0 31.5" stroke="url(#t159)" stroke-dasharray="0 4.81"/>
<linearGradient id="t160" href="#yg" gradientUnits="userSpaceOnUse" x1="408.7" y1="69.8" x2="563.0" y2="74.6"/>
<path d="M408.7 69.8L485.9 69.6L563.0 74.6" stroke="url(#t160)" stroke-dasharray="0 4.98"/>
<linearGradient id="t161" href="#yg" gradientUnits="userSpaceOnUse" x1="254.8" y1="33.8" x2="360.4" y2="34.6"/>
<path d="M254.8 33.8L307.6 34.3L360.4 34.6" stroke="url(#t161)" stroke-dasharray="0 3.41"/>
<linearGradient id="t162" href="#yg" gradientUnits="userSpaceOnUse" x1="359.5" y1="44.2" x2="466.8" y2="47.2"/>
<path d="M359.5 44.2L413.2 46.5L466.8 47.2" stroke="url(#t162)" stroke-dasharray="0 3.46"/>
<linearGradient id="t163" href="#yg" gradientUnits="userSpaceOnUse" x1="218.6" y1="33.0" x2="324.1" y2="33.5"/>
<path d="M218.6 33.0L271.4 32.8L324.1 33.5" stroke="url(#t163)" stroke-dasharray="0 3.40"/>
<linearGradient id="t164" href="#yg" gradientUnits="userSpaceOnUse" x1="524.4" y1="152.3" x2="642.0" y2="158.0"/>
<path d="M524.4 152.3L583.2 156.5L642.0 158.0" stroke="url(#t164)" stroke-dasharray="0 3.80"/>
<linearGradient id="t165" href="#yg" gradientUnits="userSpaceOnUse" x1="507.6" y1="169.7" x2="601.6" y2="183.8"/>
<path d="M507.6 169.7L554.6 179.5L601.6 183.8" stroke="url(#t165)" stroke-dasharray="0 3.07"/>
<linearGradient id="t166" href="#yg" gradientUnits="userSpaceOnUse" x1="485.8" y1="56.8" x2="608.8" y2="57.0"/>
<path d="M485.8 56.8L547.3 56.9L608.8 57.0" stroke="url(#t166)" stroke-dasharray="0 3.97"/>
<linearGradient id="t167" href="#yg" gradientUnits="userSpaceOnUse" x1="372.7" y1="49.4" x2="469.5" y2="53.4"/>
<path d="M372.7 49.4L421.1 52.1L469.5 53.4" stroke="url(#t167)" stroke-dasharray="0 3.12"/>
<linearGradient id="t168" href="#yg" gradientUnits="userSpaceOnUse" x1="508.3" y1="94.1" x2="612.0" y2="108.9"/>
<path d="M508.3 94.1L560.1 95.0L612.0 108.9" stroke="url(#t168)" stroke-dasharray="0 3.41"/>
<linearGradient id="t169" href="#yg" gradientUnits="userSpaceOnUse" x1="555.4" y1="185.5" x2="655.1" y2="199.0"/>
<path d="M555.4 185.5L605.3 189.5L655.1 199.0" stroke="url(#t169)" stroke-dasharray="0 3.25"/>
<linearGradient id="t170" href="#yg" gradientUnits="userSpaceOnUse" x1="566.7" y1="134.5" x2="656.4" y2="124.2"/>
<path d="M566.7 134.5L611.5 126.1L656.4 124.2" stroke="url(#t170)" stroke-dasharray="0 2.92"/>
<linearGradient id="t171" href="#yg" gradientUnits="userSpaceOnUse" x1="276.0" y1="43.9" x2="372.4" y2="44.3"/>
<path d="M276.0 43.9L324.2 43.3L372.4 44.3" stroke="url(#t171)" stroke-dasharray="0 3.11"/>
<linearGradient id="t172" href="#yg" gradientUnits="userSpaceOnUse" x1="529.8" y1="85.0" x2="671.2" y2="85.2"/>
<path d="M529.8 85.0L600.5 84.5L671.2 85.2" stroke="url(#t172)" stroke-dasharray="0 4.56"/>
<linearGradient id="t173" href="#yg" gradientUnits="userSpaceOnUse" x1="549.9" y1="128.1" x2="656.7" y2="117.1"/>
<path d="M549.9 128.1L603.3 124.5L656.7 117.1" stroke="url(#t173)" stroke-dasharray="0 3.47"/>
<linearGradient id="t174" href="#yg" gradientUnits="userSpaceOnUse" x1="154.0" y1="33.3" x2="201.7" y2="33.3"/>
<path d="M154.0 33.3L168.0 32.8L201.7 33.3" stroke="url(#t174)" stroke-dasharray="0 1.54"/>
<linearGradient id="t175" href="#yg" gradientUnits="userSpaceOnUse" x1="166.2" y1="33.7" x2="229.7" y2="33.7"/>
<path d="M166.2 33.7L196.1 34.6L229.7 33.7" stroke="url(#t175)" stroke-dasharray="0 2.05"/>
<linearGradient id="t176" href="#yg" gradientUnits="userSpaceOnUse" x1="244.6" y1="43.0" x2="360.5" y2="49.6"/>
<path d="M244.6 43.0L289.5 45.8L326.9 47.7" stroke="url(#t176)" stroke-dasharray="0 3.74"/>
<linearGradient id="t177" href="#yg" gradientUnits="userSpaceOnUse" x1="252.1" y1="52.4" x2="371.6" y2="61.4"/>
<path d="M252.1 52.4L289.5 55.2L313.8 57.0" stroke="url(#t177)" stroke-dasharray="0 3.87"/>
<linearGradient id="t178" href="#yg" gradientUnits="userSpaceOnUse" x1="282.0" y1="58.9" x2="402.0" y2="63.1"/>
<path d="M282.0 58.9L308.2 59.8L336.2 60.8" stroke="url(#t178)" stroke-dasharray="0 3.87"/>
<linearGradient id="t179" href="#yg" gradientUnits="userSpaceOnUse" x1="323.1" y1="65.5" x2="458.3" y2="75.1"/>
<path d="M323.1 65.5L336.2 66.4" stroke="url(#t179)" stroke-dasharray="0 4.37"/>
<linearGradient id="t180" href="#yg" gradientUnits="userSpaceOnUse" x1="347.4" y1="66.4" x2="492.2" y2="57.7"/>
<path d="M347.4 66.4L356.8 65.8" stroke="url(#t180)" stroke-dasharray="0 4.68"/>
<linearGradient id="t181" href="#yg" gradientUnits="userSpaceOnUse" x1="381.1" y1="68.3" x2="530.7" y2="70.7"/>
<path d="M381.1 68.3L411.0 71.1L439.0 69.2" stroke="url(#t181)" stroke-dasharray="0 4.84"/>
<linearGradient id="t182" href="#yg" gradientUnits="userSpaceOnUse" x1="399.7" y1="75.7" x2="535.9" y2="81.2"/>
<path d="M399.7 75.7L429.6 77.6L470.0 78.5" stroke="url(#t182)" stroke-dasharray="0 4.40"/>
<linearGradient id="t183" href="#yg" gradientUnits="userSpaceOnUse" x1="330.4" y1="35.7" x2="435.2" y2="35.2"/>
<path d="M364.2 35.6L401.6 35.9L435.2 35.2" stroke="url(#t183)" stroke-dasharray="0 3.38"/>
<linearGradient id="t184" href="#yg" gradientUnits="userSpaceOnUse" x1="159.8" y1="52.2" x2="394.1" y2="49.6"/>
<path d="M227.8 51.4L345.5 50.5L394.1 49.6" stroke="url(#t184)" stroke-dasharray="0 7.56"/>
<linearGradient id="t185" href="#yg" gradientUnits="userSpaceOnUse" x1="365.3" y1="44.9" x2="490.5" y2="41.2"/>
<path d="M365.3 44.9L440.0 43.0L490.5 41.2" stroke="url(#t185)" stroke-dasharray="0 4.04"/>
<linearGradient id="t186" href="#yg" gradientUnits="userSpaceOnUse" x1="383.9" y1="50.5" x2="505.4" y2="58.0"/>
<path d="M383.9 50.5L440.0 52.4L477.4 56.1L505.4 58.0" stroke="url(#t186)" stroke-dasharray="0 3.93"/>
<linearGradient id="t187" href="#yg" gradientUnits="userSpaceOnUse" x1="421.3" y1="70.1" x2="559.6" y2="95.4"/>
<path d="M421.3 70.1L440.0 71.1L496.1 74.8L559.6 95.4" stroke="url(#t187)" stroke-dasharray="0 4.57"/>
<linearGradient id="t188" href="#yg" gradientUnits="userSpaceOnUse" x1="503.5" y1="41.2" x2="626.9" y2="39.3"/>
<path d="M503.5 41.2L540.9 40.2L570.8 39.3L626.9 39.3" stroke="url(#t188)" stroke-dasharray="0 3.98"/>
<linearGradient id="t189" href="#yg" gradientUnits="userSpaceOnUse" x1="518.5" y1="50.5" x2="638.1" y2="49.6"/>
<path d="M518.5 50.5L561.5 50.5L598.8 51.4L638.1 49.6" stroke="url(#t189)" stroke-dasharray="0 3.86"/>
<linearGradient id="t190" href="#yg" gradientUnits="userSpaceOnUse" x1="552.1" y1="64.5" x2="654.9" y2="64.5"/>
<path d="M552.1 64.5L589.5 63.6L626.9 64.5L654.9 64.5" stroke="url(#t190)" stroke-dasharray="0 3.32"/>
<linearGradient id="t191" href="#yg" gradientUnits="userSpaceOnUse" x1="473.6" y1="84.1" x2="552.1" y2="77.6"/>
<path d="M473.6 84.1L514.7 78.5L552.1 77.6" stroke="url(#t191)" stroke-dasharray="0 2.54"/>
<linearGradient id="t192" href="#yg" gradientUnits="userSpaceOnUse" x1="636.2" y1="74.8" x2="675.4" y2="74.8"/>
<path d="M636.2 74.8L675.4 74.8" stroke="url(#t192)" stroke-dasharray="0 1.27"/>
<linearGradient id="t193" href="#yg" gradientUnits="userSpaceOnUse" x1="570.8" y1="93.5" x2="668.0" y2="86.0"/>
<path d="M570.8 93.5L608.2 89.7L645.5 91.6L668.0 86.0" stroke="url(#t193)" stroke-dasharray="0 3.16"/>
<linearGradient id="t194" href="#yg" gradientUnits="userSpaceOnUse" x1="514.7" y1="112.2" x2="608.2" y2="119.6"/>
<path d="M514.7 112.2L552.1 110.3L585.8 112.2L608.2 119.6" stroke="url(#t194)" stroke-dasharray="0 3.06"/>
<linearGradient id="t195" href="#yg" gradientUnits="userSpaceOnUse" x1="486.7" y1="123.4" x2="625.0" y2="121.5"/>
<path d="M486.7 123.4L533.4 119.6L589.5 127.1L625.0 121.5" stroke="url(#t195)" stroke-dasharray="0 4.50"/>
<linearGradient id="t196" href="#yg" gradientUnits="userSpaceOnUse" x1="443.7" y1="142.1" x2="585.9" y2="144.7"/>
<path d="M443.7 142.1L477.4 136.5L514.7 134.6L544.6 143.9" stroke="url(#t196)" stroke-dasharray="0 4.67"/>
<linearGradient id="t197" href="#yg" gradientUnits="userSpaceOnUse" x1="451.2" y1="153.3" x2="558.2" y2="166.6"/>
<path d="M451.2 153.3L477.4 149.5L496.1 158.9" stroke="url(#t197)" stroke-dasharray="0 3.64"/>
<linearGradient id="t198" href="#yg" gradientUnits="userSpaceOnUse" x1="570.8" y1="127.1" x2="645.5" y2="153.3"/>
<path d="M570.8 127.1L598.8 136.5L626.9 142.1L645.5 153.3" stroke="url(#t198)" stroke-dasharray="0 2.58"/>
<linearGradient id="t199" href="#yg" gradientUnits="userSpaceOnUse" x1="526.0" y1="134.6" x2="667.9" y2="186.7"/>
<path d="M526.0 134.6L552.1 142.1L589.5 157.0L617.5 168.2" stroke="url(#t199)" stroke-dasharray="0 4.88"/>
<linearGradient id="t200" href="#yg" gradientUnits="userSpaceOnUse" x1="621.7" y1="89.2" x2="641.8" y2="142.1"/>
<path d="M626.9 102.8L645.5 112.2L662.4 119.6L660.5 132.7L641.8 142.1" stroke="url(#t200)" stroke-dasharray="0 3.19"/>
<circle cx="670.8" cy="107.5" r="6" fill="#4dbbd5"/>
<circle cx="660.5" cy="153.3" r="6" fill="#4dbbd5"/>
<circle cx="653.0" cy="65.5" r="6" fill="#4dbbd5"/>
<circle cx="639.0" cy="55.2" r="6" fill="#5cb8d0"/>
<circle cx="634.3" cy="44.9" r="6" fill="#4dbbd5"/>
<circle cx="664.2" cy="86.9" r="6" fill="#5cb8d0"/>
<linearGradient id="t201" href="#yg" gradientUnits="userSpaceOnUse" x1="647.4" y1="160.8" x2="688.5" y2="144.9"/>
<path d="M647.4 160.8L649.3 170.1L653.0 186.9L654.9 194.4L656.8 206.5L664.2 216.8L669.8 211.2L674.5 195.3L677.3 185.0L682.9 168.2L684.8 154.2L688.5 144.9" stroke="url(#t201)" stroke-dasharray="0 4.40"/>
<linearGradient id="t202" href="#yg" gradientUnits="userSpaceOnUse" x1="533.4" y1="61.7" x2="641.8" y2="58.0"/>
<path d="M533.4 61.7L570.8 60.8L608.2 61.7L641.8 58.0" stroke="url(#t202)" stroke-dasharray="0 3.50"/>
<linearGradient id="t203" href="#yg" gradientUnits="userSpaceOnUse" x1="467.6" y1="65.6" x2="555.9" y2="76.7"/>
<path d="M496.1 69.2L533.4 71.1L555.9 76.7" stroke="url(#t203)" stroke-dasharray="0 2.88"/>
<linearGradient id="t204" href="#yg" gradientUnits="userSpaceOnUse" x1="561.5" y1="76.7" x2="651.2" y2="71.1"/>
<path d="M561.5 76.7L598.8 76.7L626.9 78.5L651.2 71.1" stroke="url(#t204)" stroke-dasharray="0 2.93"/>
<linearGradient id="t205" href="#yg" gradientUnits="userSpaceOnUse" x1="566.6" y1="100.0" x2="654.9" y2="97.2"/>
<path d="M595.1 99.1L626.9 97.2L654.9 97.2" stroke="url(#t205)" stroke-dasharray="0 2.85"/>
<linearGradient id="t206" href="#yg" gradientUnits="userSpaceOnUse" x1="396.8" y1="170.2" x2="454.7" y2="177.7"/>
<path d="M396.8 170.2L417.4 176.7L432.3 182.3L451.0 179.5L454.7 177.7" stroke="url(#t206)" stroke-dasharray="0 1.96"/>
<linearGradient id="t207" href="#yg" gradientUnits="userSpaceOnUse" x1="424.8" y1="168.3" x2="532.4" y2="201.4"/>
<path d="M424.8 168.3L436.1 173.0L449.1 175.8" stroke="url(#t207)" stroke-dasharray="0 3.65"/>
<linearGradient id="t208" href="#yg" gradientUnits="userSpaceOnUse" x1="449.4" y1="167.6" x2="515.6" y2="219.4"/>
<path d="M462.2 177.7L480.9 180.5L488.4 191.7L492.1 201.0" stroke="url(#t208)" stroke-dasharray="0 3.03"/>
<linearGradient id="t209" href="#yg" gradientUnits="userSpaceOnUse" x1="397.9" y1="181.3" x2="491.2" y2="174.8"/>
<path d="M464.1 176.7L484.6 174.8L491.2 174.8" stroke="url(#t209)" stroke-dasharray="0 3.02"/>
<linearGradient id="t210" href="#yg" gradientUnits="userSpaceOnUse" x1="492.1" y1="182.3" x2="657.6" y2="190.6"/>
<path d="M492.1 182.3L520.1 176.7L548.2 178.6L566.9 186.1" stroke="url(#t210)" stroke-dasharray="0 5.49"/>
<linearGradient id="t211" href="#yg" gradientUnits="userSpaceOnUse" x1="417.9" y1="178.9" x2="565.0" y2="194.5"/>
<path d="M503.3 187.9L529.5 191.7L538.8 191.7L565.0 194.5" stroke="url(#t211)" stroke-dasharray="0 4.78"/>
<linearGradient id="t212" href="#yg" gradientUnits="userSpaceOnUse" x1="503.3" y1="203.8" x2="610.5" y2="309.5"/>
<path d="M503.3 203.8L518.3 204.7L527.6 212.2L531.4 223.4L537.0 236.5L544.4 249.6L556.6 263.6L572.5 272.0" stroke="url(#t212)" stroke-dasharray="0 5.23"/>
<linearGradient id="t213" href="#yg" gradientUnits="userSpaceOnUse" x1="455.2" y1="175.6" x2="527.6" y2="238.4"/>
<path d="M499.6 214.1L508.9 227.2L522.0 234.6L527.6 238.4" stroke="url(#t213)" stroke-dasharray="0 3.16"/>
<linearGradient id="t214" href="#yg" gradientUnits="userSpaceOnUse" x1="370.7" y1="218.3" x2="544.4" y2="203.8"/>
<path d="M533.2 204.7L544.4 203.8" stroke="url(#t214)" stroke-dasharray="0 5.63"/>
<linearGradient id="t215" href="#yg" gradientUnits="userSpaceOnUse" x1="404.3" y1="247.7" x2="497.7" y2="264.5"/>
<path d="M404.3 247.7L426.7 244.0L445.4 239.3L464.1 239.3L477.2 249.6L488.4 260.8L497.7 264.5" stroke="url(#t215)" stroke-dasharray="0 3.33"/>
<linearGradient id="t216" href="#yg" gradientUnits="userSpaceOnUse" x1="568.7" y1="210.4" x2="665.3" y2="171.7"/>
<path d="M568.7 210.4L578.1 206.6" stroke="url(#t216)" stroke-dasharray="0 3.35"/>
<linearGradient id="t217" href="#yg" gradientUnits="userSpaceOnUse" x1="563.1" y1="227.2" x2="690.6" y2="238.8"/>
<path d="M563.1 227.2L576.2 221.6L583.7 229.0" stroke="url(#t217)" stroke-dasharray="0 4.96"/>
<linearGradient id="t218" href="#yg" gradientUnits="userSpaceOnUse" x1="576.2" y1="244.0" x2="701.7" y2="273.0"/>
<path d="M576.2 244.0L591.2 244.0L600.5 249.6" stroke="url(#t218)" stroke-dasharray="0 4.31"/>
<linearGradient id="t219" href="#yg" gradientUnits="userSpaceOnUse" x1="579.9" y1="179.5" x2="637.9" y2="280.9"/>
<path d="M591.2 199.1L598.6 214.1L604.2 227.2L613.6 238.4" stroke="url(#t219)" stroke-dasharray="0 3.79"/>
<linearGradient id="t220" href="#yg" gradientUnits="userSpaceOnUse" x1="613.6" y1="202.9" x2="646.7" y2="318.7"/>
<path d="M613.6 202.9L617.3 217.8L621.1 229.0" stroke="url(#t220)" stroke-dasharray="0 3.89"/>
<circle cx="604.2" cy="238.4" r="6" fill="#4dbbd5"/>
<circle cx="609.8" cy="212.2" r="6" fill="#4dbbd5"/>
<circle cx="628.5" cy="225.3" r="6" fill="#4dbbd5"/>
<circle cx="639.7" cy="227.2" r="6" fill="#5cb8d0"/>
<circle cx="639.7" cy="244.0" r="6" fill="#85acba"/>
<circle cx="649.1" cy="218.8" r="6" fill="#a49da0"/>
<circle cx="647.2" cy="231.8" r="6" fill="#a49da0"/>
<circle cx="642.5" cy="258.0" r="6" fill="#a99a9a"/>
<circle cx="647.2" cy="271.1" r="6" fill="#4dbbd5"/>
<circle cx="645.3" cy="283.2" r="6" fill="#4dbbd5"/>
<circle cx="615.4" cy="303.8" r="6" fill="#a99a9a"/>
<circle cx="584.6" cy="263.6" r="6" fill="#e4503a"/>
<circle cx="590.2" cy="267.3" r="6" fill="#93a6af"/>
<circle cx="593.0" cy="273.9" r="6" fill="#cf7867"/>
<circle cx="641.6" cy="141.2" r="6" fill="#4dbbd5"/>
<circle cx="660.3" cy="153.4" r="6" fill="#4dbbd5"/>
<circle cx="643.5" cy="152.4" r="6" fill="#4dbbd5"/>
<circle cx="660.3" cy="171.1" r="6" fill="#5cb8d0"/>
<linearGradient id="t221" href="#yg" gradientUnits="userSpaceOnUse" x1="566.9" y1="287.0" x2="645.3" y2="272.0"/>
<path d="M566.9 287.0L570.6 281.4L594.9 282.3L613.6 279.5L632.3 275.8L645.3 272.0" stroke="url(#t221)" stroke-dasharray="0 2.66"/>
<linearGradient id="t222" href="#yg" gradientUnits="userSpaceOnUse" x1="581.1" y1="282.9" x2="702.7" y2="300.2"/>
<path d="M596.8 285.1L609.8 292.6L636.0 290.7" stroke="url(#t222)" stroke-dasharray="0 4.13"/>
<linearGradient id="t223" href="#yg" gradientUnits="userSpaceOnUse" x1="591.8" y1="203.5" x2="640.1" y2="280.7"/>
<path d="M622.9 253.3L624.8 262.7L632.3 268.3" stroke="url(#t223)" stroke-dasharray="0 3.15"/>
<linearGradient id="t224" href="#yg" gradientUnits="userSpaceOnUse" x1="647.2" y1="159.9" x2="676.2" y2="304.7"/>
<path d="M647.2 159.9L649.1 169.2" stroke="url(#t224)" stroke-dasharray="0 4.76"/>
<linearGradient id="t225" href="#yg" gradientUnits="userSpaceOnUse" x1="652.8" y1="186.1" x2="672.1" y2="292.3"/>
<path d="M652.8 186.1L653.8 193.5L656.6 206.6" stroke="url(#t225)" stroke-dasharray="0 3.49"/>
<linearGradient id="t226" href="#yg" gradientUnits="userSpaceOnUse" x1="642.5" y1="233.7" x2="710.1" y2="175.8"/>
<path d="M662.2 216.9L668.7 211.3" stroke="url(#t226)" stroke-dasharray="0 2.87"/>
<linearGradient id="t227" href="#yg" gradientUnits="userSpaceOnUse" x1="553.5" y1="183.5" x2="641.6" y2="193.5"/>
<path d="M576.2 186.1L594.9 189.8L613.6 191.7L641.6 193.5" stroke="url(#t227)" stroke-dasharray="0 2.87"/>
<linearGradient id="t228" href="#yg" gradientUnits="userSpaceOnUse" x1="560.9" y1="161.8" x2="653.1" y2="190.7"/>
<path d="M566.9 163.6L585.5 173.0L613.6 178.6L632.3 184.2" stroke="url(#t228)" stroke-dasharray="0 3.14"/>
<circle cx="540.0" cy="333.5" r="6" fill="#a99a9a"/>
<circle cx="618.5" cy="333.5" r="6" fill="#a99a9a"/>
<circle cx="621.3" cy="365.9" r="6" fill="#a49da0"/>
<circle cx="645.5" cy="364.4" r="6" fill="#c97f71"/>
<linearGradient id="t229" href="#yg" gradientUnits="userSpaceOnUse" x1="616.6" y1="332.6" x2="687.9" y2="367.3"/>
<path d="M646.5 347.2L651.2 339.7L662.4 346.2L669.5 358.4" stroke="url(#t229)" stroke-dasharray="0 3.59"/>
<circle cx="673.6" cy="389.2" r="6" fill="#85acba"/>
<circle cx="679.2" cy="415.4" r="6" fill="#5cb8d0"/>
<circle cx="678.3" cy="413.5" r="6" fill="#4dbbd5"/>
<linearGradient id="t230" href="#yg" gradientUnits="userSpaceOnUse" x1="552.1" y1="367.7" x2="610.0" y2="421.0"/>
<path d="M552.1 367.7L561.5 372.4L570.8 380.8L578.3 392.0L589.5 390.1L597.0 397.6L600.7 408.8L604.4 416.3L610.0 421.0" stroke="url(#t230)" stroke-dasharray="0 2.77"/>
<linearGradient id="t231" href="#yg" gradientUnits="userSpaceOnUse" x1="604.4" y1="415.4" x2="707.1" y2="374.8"/>
<path d="M604.4 415.4L617.5 409.8L634.3 407.9L640.9 401.0" stroke="url(#t231)" stroke-dasharray="0 3.70"/>
<circle cx="546.5" cy="417.2" r="6" fill="#93a6af"/>
<circle cx="551.2" cy="433.5" r="6" fill="#8ca9b5"/>
<circle cx="554.9" cy="448.1" r="6" fill="#85acba"/>
<circle cx="559.6" cy="459.3" r="6" fill="#7cafbf"/>
<circle cx="567.1" cy="459.3" r="6" fill="#5cb8d0"/>
<circle cx="568.9" cy="462.1" r="6" fill="#4dbbd5"/>
<circle cx="627.8" cy="433.5" r="6" fill="#93a6af"/>
<circle cx="630.2" cy="448.1" r="6" fill="#8ca9b5"/>
<circle cx="632.5" cy="459.3" r="6" fill="#7cafbf"/>
<circle cx="636.2" cy="458.4" r="6" fill="#69b5ca"/>
<circle cx="635.3" cy="464.9" r="6" fill="#5cb8d0"/>
<circle cx="638.1" cy="462.1" r="6" fill="#4dbbd5"/>
<linearGradient id="t232" href="#yg" gradientUnits="userSpaceOnUse" x1="576.0" y1="168.6" x2="607.8" y2="279.1"/>
<path d="M590.4 218.5L593.6 230.6L597.6 243.4" stroke="url(#t232)" stroke-dasharray="0 3.71"/>
<linearGradient id="t233" href="#yg" gradientUnits="userSpaceOnUse" x1="604.0" y1="190.1" x2="675.8" y2="253.1"/>
<path d="M627.2 210.4L635.3 217.9L636.4 218.5" stroke="url(#t233)" stroke-dasharray="0 3.09"/>
<linearGradient id="t234" href="#yg" gradientUnits="userSpaceOnUse" x1="591.3" y1="197.6" x2="723.1" y2="259.9"/>
<path d="M591.3 197.6L603.6 200.9L625.3 213.7" stroke="url(#t234)" stroke-dasharray="0 4.74"/>
<linearGradient id="t235" href="#yg" gradientUnits="userSpaceOnUse" x1="634.3" y1="179.6" x2="787.8" y2="225.7"/>
<path d="M634.3 179.6L646.6 184.9L654.1 185.5" stroke="url(#t235)" stroke-dasharray="0 5.23"/>
<linearGradient id="t236" href="#yg" gradientUnits="userSpaceOnUse" x1="575.7" y1="123.4" x2="671.5" y2="195.1"/>
<path d="M618.9 155.8L639.1 172.0L649.9 178.9" stroke="url(#t236)" stroke-dasharray="0 3.87"/>
<linearGradient id="t237" href="#yg" gradientUnits="userSpaceOnUse" x1="565.3" y1="198.0" x2="605.7" y2="319.9"/>
<path d="M565.3 198.0L566.3 208.2L574.4 225.5" stroke="url(#t237)" stroke-dasharray="0 4.20"/>
<linearGradient id="t238" href="#yg" gradientUnits="userSpaceOnUse" x1="562.7" y1="200.0" x2="619.9" y2="299.9"/>
<path d="M562.7 200.0L571.7 215.9L581.1 232.3" stroke="url(#t238)" stroke-dasharray="0 3.71"/>
<linearGradient id="t239" href="#yg" gradientUnits="userSpaceOnUse" x1="570.6" y1="198.0" x2="667.5" y2="260.1"/>
<path d="M570.6 198.0L582.1 203.3L605.0 220.1" stroke="url(#t239)" stroke-dasharray="0 3.73"/>
<linearGradient id="t240" href="#yg" gradientUnits="userSpaceOnUse" x1="580.5" y1="169.9" x2="670.5" y2="237.9"/>
<path d="M580.5 169.9L602.2 187.3L615.3 196.2" stroke="url(#t240)" stroke-dasharray="0 3.64"/>
<linearGradient id="t241" href="#yg" gradientUnits="userSpaceOnUse" x1="580.5" y1="127.4" x2="662.2" y2="198.9"/>
<path d="M609.5 152.8L620.9 162.8L633.2 173.5" stroke="url(#t241)" stroke-dasharray="0 3.50"/>
<linearGradient id="t242" href="#yg" gradientUnits="userSpaceOnUse" x1="563.8" y1="180.5" x2="616.4" y2="291.5"/>
<path d="M563.8 180.5L569.2 196.2L582.5 219.9" stroke="url(#t242)" stroke-dasharray="0 3.98"/>
<linearGradient id="t243" href="#yg" gradientUnits="userSpaceOnUse" x1="560.1" y1="160.1" x2="590.6" y2="264.2"/>
<path d="M560.1 160.1L561.6 177.1L572.9 203.8" stroke="url(#t243)" stroke-dasharray="0 3.54"/>
<linearGradient id="t244" href="#yg" gradientUnits="userSpaceOnUse" x1="547.4" y1="139.8" x2="635.5" y2="246.9"/>
<path d="M615.6 222.7L617.0 225.0L624.1 233.0" stroke="url(#t244)" stroke-dasharray="0 4.49"/>
<linearGradient id="t245" href="#yg" gradientUnits="userSpaceOnUse" x1="635.5" y1="174.3" x2="715.2" y2="296.9"/>
<path d="M635.5 174.3L647.2 189.4L648.4 194.1" stroke="url(#t245)" stroke-dasharray="0 4.78"/>
<linearGradient id="t246" href="#yg" gradientUnits="userSpaceOnUse" x1="621.3" y1="192.8" x2="682.3" y2="262.1"/>
<path d="M621.3 192.8L624.5 196.7L631.2 204.0" stroke="url(#t246)" stroke-dasharray="0 2.98"/>
<linearGradient id="t247" href="#yg" gradientUnits="userSpaceOnUse" x1="505.7" y1="150.7" x2="639.6" y2="199.9"/>
<path d="M592.1 182.4L614.3 189.6L639.6 199.9" stroke="url(#t247)" stroke-dasharray="0 4.60"/>
<linearGradient id="t248" href="#yg" gradientUnits="userSpaceOnUse" x1="492.7" y1="138.6" x2="621.7" y2="199.5"/>
<path d="M584.3 181.8L606.2 195.0L617.5 197.5" stroke="url(#t248)" stroke-dasharray="0 4.65"/>
<linearGradient id="t249" href="#yg" gradientUnits="userSpaceOnUse" x1="570.2" y1="185.7" x2="645.1" y2="279.4"/>
<path d="M570.2 185.7L583.7 202.6L596.8 219.0" stroke="url(#t249)" stroke-dasharray="0 3.87"/>
</g>
<polyline points="155.4,31.7 683.9,31.7" fill="none" stroke="#000" stroke-width="4" stroke-linejoin="round"/>
<g fill="none" stroke-width="12" stroke-linecap="round" stroke-linejoin="round">
<linearGradient id="t250" href="#yg" gradientUnits="userSpaceOnUse" x1="179.7" y1="593.4" x2="290.4" y2="594.0"/>
<path d="M179.7 593.4L235.1 594.0L290.4 594.0" stroke="url(#t250)" stroke-dasharray="0 3.57"/>
<linearGradient id="t251" href="#yg" gradientUnits="userSpaceOnUse" x1="574.5" y1="729.3" x2="656.9" y2="722.0"/>
<path d="M574.5 729.3L615.7 726.2L656.9 722.0" stroke="url(#t251)" stroke-dasharray="0 2.67"/>
<linearGradient id="t252" href="#yg" gradientUnits="userSpaceOnUse" x1="208.2" y1="593.4" x2="306.6" y2="594.0"/>
<path d="M208.2 593.4L257.4 593.9L306.6 594.0" stroke="url(#t252)" stroke-dasharray="0 3.17"/>
<linearGradient id="t253" href="#yg" gradientUnits="userSpaceOnUse" x1="530.0" y1="623.8" x2="633.3" y2="623.4"/>
<path d="M530.0 623.8L581.6 624.3L633.3 623.4" stroke="url(#t253)" stroke-dasharray="0 3.33"/>
<linearGradient id="t254" href="#yg" gradientUnits="userSpaceOnUse" x1="364.6" y1="608.5" x2="460.9" y2="606.1"/>
<path d="M364.6 608.5L412.7 608.2L460.9 606.1" stroke="url(#t254)" stroke-dasharray="0 3.11"/>
<linearGradient id="t255" href="#yg" gradientUnits="userSpaceOnUse" x1="527.8" y1="761.9" x2="623.4" y2="790.2"/>
<path d="M527.8 761.9L575.6 769.6L623.4 790.2" stroke="url(#t255)" stroke-dasharray="0 3.24"/>
<linearGradient id="t256" href="#yg" gradientUnits="userSpaceOnUse" x1="405.8" y1="596.8" x2="534.1" y2="597.3"/>
<path d="M405.8 596.8L470.0 597.3L534.1 597.3" stroke="url(#t256)" stroke-dasharray="0 4.14"/>
<linearGradient id="t257" href="#yg" gradientUnits="userSpaceOnUse" x1="587.8" y1="776.5" x2="670.6" y2="803.9"/>
<path d="M587.8 776.5L629.2 788.4L670.6 803.9" stroke="url(#t257)" stroke-dasharray="0 2.81"/>
<linearGradient id="t258" href="#yg" gradientUnits="userSpaceOnUse" x1="414.7" y1="599.8" x2="529.4" y2="600.5"/>
<path d="M414.7 599.8L472.0 600.3L529.4 600.5" stroke="url(#t258)" stroke-dasharray="0 3.70"/>
<linearGradient id="t259" href="#yg" gradientUnits="userSpaceOnUse" x1="346.0" y1="615.3" x2="502.2" y2="621.3"/>
<path d="M346.0 615.3L424.1 617.2L502.2 621.3" stroke="url(#t259)" stroke-dasharray="0 5.04"/>
<linearGradient id="t260" href="#yg" gradientUnits="userSpaceOnUse" x1="213.3" y1="594.4" x2="354.9" y2="599.5"/>
<path d="M213.3 594.4L284.1 598.9L354.9 599.5" stroke="url(#t260)" stroke-dasharray="0 4.57"/>
<linearGradient id="t261" href="#yg" gradientUnits="userSpaceOnUse" x1="375.3" y1="620.6" x2="527.7" y2="619.7"/>
<path d="M375.3 620.6L451.5 619.7L527.7 619.7" stroke="url(#t261)" stroke-dasharray="0 4.92"/>
<linearGradient id="t262" href="#yg" gradientUnits="userSpaceOnUse" x1="220.7" y1="600.0" x2="346.4" y2="599.6"/>
<path d="M220.7 600.0L283.6 599.9L346.4 599.6" stroke="url(#t262)" stroke-dasharray="0 4.06"/>
<linearGradient id="t263" href="#yg" gradientUnits="userSpaceOnUse" x1="432.0" y1="609.4" x2="590.8" y2="611.3"/>
<path d="M432.0 609.4L511.4 610.7L590.8 611.3" stroke="url(#t263)" stroke-dasharray="0 5.12"/>
<linearGradient id="t264" href="#yg" gradientUnits="userSpaceOnUse" x1="355.0" y1="605.3" x2="461.6" y2="604.7"/>
<path d="M355.0 605.3L408.3 603.9L461.6 604.7" stroke="url(#t264)" stroke-dasharray="0 3.44"/>
<linearGradient id="t265" href="#yg" gradientUnits="userSpaceOnUse" x1="193.0" y1="593.4" x2="305.2" y2="593.3"/>
<path d="M193.0 593.4L249.1 593.2L305.2 593.3" stroke="url(#t265)" stroke-dasharray="0 3.62"/>
<linearGradient id="t266" href="#yg" gradientUnits="userSpaceOnUse" x1="548.4" y1="620.7" x2="636.5" y2="623.0"/>
<path d="M548.4 620.7L592.5 621.0L636.5 623.0" stroke="url(#t266)" stroke-dasharray="0 2.85"/>
<linearGradient id="t267" href="#yg" gradientUnits="userSpaceOnUse" x1="212.3" y1="593.4" x2="339.1" y2="593.7"/>
<path d="M212.3 593.4L275.7 593.6L339.1 593.7" stroke="url(#t267)" stroke-dasharray="0 4.09"/>
<linearGradient id="t268" href="#yg" gradientUnits="userSpaceOnUse" x1="379.4" y1="621.5" x2="535.7" y2="618.7"/>
<path d="M379.4 621.5L457.6 619.8L535.7 618.7" stroke="url(#t268)" stroke-dasharray="0 5.04"/>
<linearGradient id="t269" href="#yg" gradientUnits="userSpaceOnUse" x1="208.1" y1="594.7" x2="337.2" y2="601.1"/>
<path d="M208.1 594.7L272.6 597.9L337.2 601.1" stroke="url(#t269)" stroke-dasharray="0 4.17"/>
<linearGradient id="t270" href="#yg" gradientUnits="userSpaceOnUse" x1="480.1" y1="752.7" x2="590.3" y2="749.4"/>
<path d="M480.1 752.7L535.2 747.2L590.3 749.4" stroke="url(#t270)" stroke-dasharray="0 3.56"/>
<linearGradient id="t271" href="#yg" gradientUnits="userSpaceOnUse" x1="517.2" y1="629.1" x2="643.0" y2="629.4"/>
<path d="M517.2 629.1L580.1 630.9L643.0 629.4" stroke="url(#t271)" stroke-dasharray="0 4.06"/>
<linearGradient id="t272" href="#yg" gradientUnits="userSpaceOnUse" x1="276.9" y1="593.4" x2="395.1" y2="593.4"/>
<path d="M276.9 593.4L336.0 593.4L395.1 593.4" stroke="url(#t272)" stroke-dasharray="0 3.81"/>
<linearGradient id="t273" href="#yg" gradientUnits="userSpaceOnUse" x1="537.8" y1="685.0" x2="626.5" y2="695.1"/>
<path d="M537.8 685.0L582.1 697.0L626.5 695.1" stroke="url(#t273)" stroke-dasharray="0 2.92"/>
<linearGradient id="t274" href="#yg" gradientUnits="userSpaceOnUse" x1="550.4" y1="656.1" x2="675.8" y2="679.8"/>
<path d="M550.4 656.1L613.1 661.7L675.8 679.8" stroke="url(#t274)" stroke-dasharray="0 4.14"/>
<linearGradient id="t275" href="#yg" gradientUnits="userSpaceOnUse" x1="521.6" y1="622.0" x2="649.0" y2="620.9"/>
<path d="M521.6 622.0L585.3 620.2L649.0 620.9" stroke="url(#t275)" stroke-dasharray="0 4.11"/>
<linearGradient id="t276" href="#yg" gradientUnits="userSpaceOnUse" x1="550.3" y1="636.1" x2="662.2" y2="638.0"/>
<path d="M550.3 636.1L606.2 636.6L662.2 638.0" stroke="url(#t276)" stroke-dasharray="0 3.61"/>
<linearGradient id="t277" href="#yg" gradientUnits="userSpaceOnUse" x1="191.6" y1="593.4" x2="310.2" y2="593.5"/>
<path d="M191.6 593.4L250.9 593.4L310.2 593.5" stroke="url(#t277)" stroke-dasharray="0 3.83"/>
<linearGradient id="t278" href="#yg" gradientUnits="userSpaceOnUse" x1="542.3" y1="656.5" x2="644.6" y2="652.5"/>
<path d="M542.3 656.5L593.4 652.3L644.6 652.5" stroke="url(#t278)" stroke-dasharray="0 3.31"/>
<linearGradient id="t279" href="#yg" gradientUnits="userSpaceOnUse" x1="170.7" y1="593.7" x2="278.8" y2="595.7"/>
<path d="M170.7 593.7L224.7 594.3L278.8 595.7" stroke="url(#t279)" stroke-dasharray="0 3.49"/>
<linearGradient id="t280" href="#yg" gradientUnits="userSpaceOnUse" x1="508.9" y1="633.2" x2="624.3" y2="635.5"/>
<path d="M508.9 633.2L566.6 634.2L624.3 635.5" stroke="url(#t280)" stroke-dasharray="0 3.72"/>
<linearGradient id="t281" href="#yg" gradientUnits="userSpaceOnUse" x1="257.9" y1="614.7" x2="415.4" y2="613.1"/>
<path d="M257.9 614.7L336.7 616.6L415.4 613.1" stroke="url(#t281)" stroke-dasharray="0 5.08"/>
<linearGradient id="t282" href="#yg" gradientUnits="userSpaceOnUse" x1="324.1" y1="597.6" x2="472.8" y2="598.2"/>
<path d="M324.1 597.6L398.4 598.3L472.8 598.2" stroke="url(#t282)" stroke-dasharray="0 4.80"/>
<linearGradient id="t283" href="#yg" gradientUnits="userSpaceOnUse" x1="202.1" y1="594.6" x2="306.9" y2="593.3"/>
<path d="M202.1 594.6L254.5 595.8L306.9 593.3" stroke="url(#t283)" stroke-dasharray="0 3.38"/>
<linearGradient id="t284" href="#yg" gradientUnits="userSpaceOnUse" x1="297.1" y1="618.0" x2="449.6" y2="615.5"/>
<path d="M297.1 618.0L373.3 615.2L449.6 615.5" stroke="url(#t284)" stroke-dasharray="0 4.92"/>
<linearGradient id="t285" href="#yg" gradientUnits="userSpaceOnUse" x1="429.0" y1="608.2" x2="551.8" y2="608.7"/>
<path d="M429.0 608.2L490.4 608.0L551.8 608.7" stroke="url(#t285)" stroke-dasharray="0 3.96"/>
<linearGradient id="t286" href="#yg" gradientUnits="userSpaceOnUse" x1="203.0" y1="593.9" x2="314.1" y2="593.3"/>
<path d="M203.0 593.9L258.6 593.5L314.1 593.3" stroke="url(#t286)" stroke-dasharray="0 3.58"/>
<linearGradient id="t287" href="#yg" gradientUnits="userSpaceOnUse" x1="446.1" y1="618.5" x2="542.3" y2="615.7"/>
<path d="M446.1 618.5L494.2 616.5L542.3 615.7" stroke="url(#t287)" stroke-dasharray="0 3.11"/>
<linearGradient id="t288" href="#yg" gradientUnits="userSpaceOnUse" x1="270.9" y1="605.6" x2="427.8" y2="604.6"/>
<path d="M270.9 605.6L349.4 604.8L427.8 604.6" stroke="url(#t288)" stroke-dasharray="0 5.06"/>
<linearGradient id="t289" href="#yg" gradientUnits="userSpaceOnUse" x1="210.4" y1="594.5" x2="322.0" y2="596.8"/>
<path d="M210.4 594.5L266.2 593.3L322.0 596.8" stroke="url(#t289)" stroke-dasharray="0 3.60"/>
<linearGradient id="t290" href="#yg" gradientUnits="userSpaceOnUse" x1="485.5" y1="606.1" x2="628.6" y2="606.1"/>
<path d="M485.5 606.1L557.1 605.3L628.6 606.1" stroke="url(#t290)" stroke-dasharray="0 4.62"/>
<linearGradient id="t291" href="#yg" gradientUnits="userSpaceOnUse" x1="257.1" y1="597.7" x2="375.9" y2="598.2"/>
<path d="M257.1 597.7L316.5 598.3L375.9 598.2" stroke="url(#t291)" stroke-dasharray="0 3.83"/>
<linearGradient id="t292" href="#yg" gradientUnits="userSpaceOnUse" x1="341.1" y1="596.6" x2="467.5" y2="596.6"/>
<path d="M341.1 596.6L404.3 596.4L467.5 596.6" stroke="url(#t292)" stroke-dasharray="0 4.08"/>
<linearGradient id="t293" href="#yg" gradientUnits="userSpaceOnUse" x1="193.0" y1="594.1" x2="342.3" y2="596.4"/>
<path d="M193.0 594.1L267.7 595.9L342.3 596.4" stroke="url(#t293)" stroke-dasharray="0 4.82"/>
<linearGradient id="t294" href="#yg" gradientUnits="userSpaceOnUse" x1="488.7" y1="700.4" x2="614.5" y2="707.8"/>
<path d="M488.7 700.4L551.6 698.9L614.5 707.8" stroke="url(#t294)" stroke-dasharray="0 4.08"/>
<linearGradient id="t295" href="#yg" gradientUnits="userSpaceOnUse" x1="513.6" y1="608.5" x2="626.8" y2="609.0"/>
<path d="M513.6 608.5L570.2 608.0L626.8 609.0" stroke="url(#t295)" stroke-dasharray="0 3.65"/>
<linearGradient id="t296" href="#yg" gradientUnits="userSpaceOnUse" x1="196.0" y1="594.1" x2="295.5" y2="594.3"/>
<path d="M196.0 594.1L245.8 593.3L295.5 594.3" stroke="url(#t296)" stroke-dasharray="0 3.21"/>
<linearGradient id="t297" href="#yg" gradientUnits="userSpaceOnUse" x1="504.0" y1="704.4" x2="591.4" y2="723.3"/>
<path d="M504.0 704.4L547.7 720.3L591.4 723.3" stroke="url(#t297)" stroke-dasharray="0 2.91"/>
<linearGradient id="t298" href="#yg" gradientUnits="userSpaceOnUse" x1="256.3" y1="596.8" x2="378.6" y2="596.8"/>
<path d="M256.3 596.8L317.5 596.8L378.6 596.8" stroke="url(#t298)" stroke-dasharray="0 3.94"/>
<linearGradient id="t299" href="#yg" gradientUnits="userSpaceOnUse" x1="457.7" y1="625.4" x2="595.5" y2="625.7"/>
<path d="M457.7 625.4L526.6 624.8L595.5 625.7" stroke="url(#t299)" stroke-dasharray="0 4.44"/>
<linearGradient id="t300" href="#yg" gradientUnits="userSpaceOnUse" x1="209.1" y1="593.8" x2="311.8" y2="593.3"/>
<path d="M209.1 593.8L260.5 593.7L311.8 593.3" stroke="url(#t300)" stroke-dasharray="0 3.31"/>
<linearGradient id="t301" href="#yg" gradientUnits="userSpaceOnUse" x1="503.8" y1="609.9" x2="612.8" y2="610.1"/>
<path d="M503.8 609.9L558.3 609.9L612.8 610.1" stroke="url(#t301)" stroke-dasharray="0 3.52"/>
<linearGradient id="t302" href="#yg" gradientUnits="userSpaceOnUse" x1="177.3" y1="593.9" x2="328.4" y2="595.3"/>
<path d="M177.3 593.9L252.9 595.9L328.4 595.3" stroke="url(#t302)" stroke-dasharray="0 4.87"/>
<linearGradient id="t303" href="#yg" gradientUnits="userSpaceOnUse" x1="517.0" y1="678.6" x2="597.2" y2="705.7"/>
<path d="M517.0 678.6L557.1 694.3L597.2 705.7" stroke="url(#t303)" stroke-dasharray="0 2.73"/>
<linearGradient id="t304" href="#yg" gradientUnits="userSpaceOnUse" x1="488.7" y1="607.6" x2="597.4" y2="607.1"/>
<path d="M488.7 607.6L543.1 607.5L597.4 607.1" stroke="url(#t304)" stroke-dasharray="0 3.51"/>
<linearGradient id="t305" href="#yg" gradientUnits="userSpaceOnUse" x1="550.8" y1="672.1" x2="669.9" y2="660.3"/>
<path d="M550.8 672.1L610.4 663.4L669.9 660.3" stroke="url(#t305)" stroke-dasharray="0 3.86"/>
<linearGradient id="t306" href="#yg" gradientUnits="userSpaceOnUse" x1="569.0" y1="691.6" x2="657.7" y2="699.1"/>
<path d="M569.0 691.6L613.3 689.8L657.7 699.1" stroke="url(#t306)" stroke-dasharray="0 2.89"/>
<linearGradient id="t307" href="#yg" gradientUnits="userSpaceOnUse" x1="588.7" y1="765.1" x2="670.9" y2="757.0"/>
<path d="M588.7 765.1L629.8 761.1L670.9 757.0" stroke="url(#t307)" stroke-dasharray="0 2.66"/>
<linearGradient id="t308" href="#yg" gradientUnits="userSpaceOnUse" x1="364.2" y1="623.5" x2="503.5" y2="627.4"/>
<path d="M364.2 623.5L433.8 627.0L503.5 627.4" stroke="url(#t308)" stroke-dasharray="0 4.50"/>
<linearGradient id="t309" href="#yg" gradientUnits="userSpaceOnUse" x1="230.6" y1="604.8" x2="338.9" y2="609.3"/>
<path d="M230.6 604.8L284.8 607.0L338.9 609.3" stroke="url(#t309)" stroke-dasharray="0 3.50"/>
<linearGradient id="t310" href="#yg" gradientUnits="userSpaceOnUse" x1="389.2" y1="610.2" x2="543.0" y2="611.2"/>
<path d="M389.2 610.2L466.1 610.8L543.0 611.2" stroke="url(#t310)" stroke-dasharray="0 4.96"/>
<linearGradient id="t311" href="#yg" gradientUnits="userSpaceOnUse" x1="423.6" y1="604.3" x2="578.8" y2="604.3"/>
<path d="M423.6 604.3L501.2 604.2L578.8 604.3" stroke="url(#t311)" stroke-dasharray="0 5.00"/>
<linearGradient id="t312" href="#yg" gradientUnits="userSpaceOnUse" x1="498.9" y1="671.3" x2="580.9" y2="673.0"/>
<path d="M498.9 671.3L539.9 680.0L580.9 673.0" stroke="url(#t312)" stroke-dasharray="0 2.69"/>
<linearGradient id="t313" href="#yg" gradientUnits="userSpaceOnUse" x1="551.0" y1="595.0" x2="623.1" y2="595.1"/>
<path d="M551.0 595.0L587.1 595.1L623.1 595.1" stroke="url(#t313)" stroke-dasharray="0 2.33"/>
<linearGradient id="t314" href="#yg" gradientUnits="userSpaceOnUse" x1="547.6" y1="645.3" x2="662.9" y2="643.7"/>
<path d="M547.6 645.3L605.3 645.8L662.9 643.7" stroke="url(#t314)" stroke-dasharray="0 3.72"/>
<linearGradient id="t315" href="#yg" gradientUnits="userSpaceOnUse" x1="450.3" y1="626.6" x2="574.6" y2="625.8"/>
<path d="M450.3 626.6L512.4 624.1L574.6 625.8" stroke="url(#t315)" stroke-dasharray="0 4.01"/>
<linearGradient id="t316" href="#yg" gradientUnits="userSpaceOnUse" x1="489.8" y1="595.0" x2="595.3" y2="595.1"/>
<path d="M489.8 595.0L542.6 595.0L595.3 595.1" stroke="url(#t316)" stroke-dasharray="0 3.40"/>
<linearGradient id="t317" href="#yg" gradientUnits="userSpaceOnUse" x1="543.0" y1="659.8" x2="657.0" y2="656.0"/>
<path d="M543.0 659.8L600.0 651.8L657.0 656.0" stroke="url(#t317)" stroke-dasharray="0 3.70"/>
<linearGradient id="t318" href="#yg" gradientUnits="userSpaceOnUse" x1="456.0" y1="623.3" x2="553.1" y2="623.4"/>
<path d="M456.0 623.3L504.5 622.6L553.1 623.4" stroke="url(#t318)" stroke-dasharray="0 3.13"/>
<linearGradient id="t319" href="#yg" gradientUnits="userSpaceOnUse" x1="334.3" y1="600.5" x2="446.7" y2="600.0"/>
<path d="M334.3 600.5L390.5 600.4L446.7 600.0" stroke="url(#t319)" stroke-dasharray="0 3.63"/>
<linearGradient id="t320" href="#yg" gradientUnits="userSpaceOnUse" x1="488.5" y1="641.4" x2="639.1" y2="638.0"/>
<path d="M488.5 641.4L563.8 637.6L639.1 638.0" stroke="url(#t320)" stroke-dasharray="0 4.86"/>
<linearGradient id="t321" href="#yg" gradientUnits="userSpaceOnUse" x1="161.5" y1="593.6" x2="274.6" y2="596.2"/>
<path d="M161.5 593.6L218.0 594.8L274.6 596.2" stroke="url(#t321)" stroke-dasharray="0 3.65"/>
<linearGradient id="t322" href="#yg" gradientUnits="userSpaceOnUse" x1="253.4" y1="602.0" x2="371.0" y2="604.8"/>
<path d="M253.4 602.0L312.2 604.6L371.0 604.8" stroke="url(#t322)" stroke-dasharray="0 3.79"/>
<linearGradient id="t323" href="#yg" gradientUnits="userSpaceOnUse" x1="572.7" y1="689.1" x2="675.4" y2="686.2"/>
<path d="M572.7 689.1L624.0 686.1L675.4 686.2" stroke="url(#t323)" stroke-dasharray="0 3.32"/>
<linearGradient id="t324" href="#yg" gradientUnits="userSpaceOnUse" x1="386.6" y1="628.2" x2="507.4" y2="635.2"/>
<path d="M386.6 628.2L447.0 630.5L507.4 635.2" stroke="url(#t324)" stroke-dasharray="0 3.90"/>
<linearGradient id="t325" href="#yg" gradientUnits="userSpaceOnUse" x1="422.8" y1="600.7" x2="579.4" y2="600.4"/>
<path d="M422.8 600.7L501.1 601.1L579.4 600.4" stroke="url(#t325)" stroke-dasharray="0 5.05"/>
<linearGradient id="t326" href="#yg" gradientUnits="userSpaceOnUse" x1="279.6" y1="593.4" x2="429.2" y2="593.4"/>
<path d="M279.6 593.4L354.4 593.4L429.2 593.4" stroke="url(#t326)" stroke-dasharray="0 4.83"/>
<linearGradient id="t327" href="#yg" gradientUnits="userSpaceOnUse" x1="515.8" y1="681.2" x2="653.3" y2="680.2"/>
<path d="M515.8 681.2L584.6 684.2L653.3 680.2" stroke="url(#t327)" stroke-dasharray="0 4.44"/>
<linearGradient id="t328" href="#yg" gradientUnits="userSpaceOnUse" x1="489.8" y1="767.7" x2="594.5" y2="788.3"/>
<path d="M489.8 767.7L542.2 770.5L594.5 788.3" stroke="url(#t328)" stroke-dasharray="0 3.47"/>
<linearGradient id="t329" href="#yg" gradientUnits="userSpaceOnUse" x1="235.6" y1="600.7" x2="341.1" y2="598.7"/>
<path d="M235.6 600.7L288.4 598.9L341.1 598.7" stroke="url(#t329)" stroke-dasharray="0 3.41"/>
<linearGradient id="t330" href="#yg" gradientUnits="userSpaceOnUse" x1="175.4" y1="594.5" x2="288.5" y2="596.5"/>
<path d="M175.4 594.5L232.0 596.3L288.5 596.5" stroke="url(#t330)" stroke-dasharray="0 3.65"/>
<linearGradient id="t331" href="#yg" gradientUnits="userSpaceOnUse" x1="450.6" y1="602.9" x2="581.4" y2="604.8"/>
<path d="M450.6 602.9L516.0 603.3L581.4 604.8" stroke="url(#t331)" stroke-dasharray="0 4.22"/>
<linearGradient id="t332" href="#yg" gradientUnits="userSpaceOnUse" x1="450.4" y1="633.7" x2="610.3" y2="631.4"/>
<path d="M450.4 633.7L530.3 635.0L610.3 631.4" stroke="url(#t332)" stroke-dasharray="0 5.16"/>
<linearGradient id="t333" href="#yg" gradientUnits="userSpaceOnUse" x1="430.0" y1="604.5" x2="570.1" y2="603.7"/>
<path d="M430.0 604.5L500.0 603.9L570.1 603.7" stroke="url(#t333)" stroke-dasharray="0 4.52"/>
<linearGradient id="t334" href="#yg" gradientUnits="userSpaceOnUse" x1="484.8" y1="702.9" x2="613.3" y2="733.2"/>
<path d="M484.8 702.9L549.1 711.6L613.3 733.2" stroke="url(#t334)" stroke-dasharray="0 4.28"/>
<linearGradient id="t335" href="#yg" gradientUnits="userSpaceOnUse" x1="429.9" y1="627.7" x2="537.7" y2="629.4"/>
<path d="M429.9 627.7L483.8 627.1L537.7 629.4" stroke="url(#t335)" stroke-dasharray="0 3.48"/>
<linearGradient id="t336" href="#yg" gradientUnits="userSpaceOnUse" x1="457.4" y1="612.9" x2="579.2" y2="613.0"/>
<path d="M457.4 612.9L518.3 612.5L579.2 613.0" stroke="url(#t336)" stroke-dasharray="0 3.93"/>
<linearGradient id="t337" href="#yg" gradientUnits="userSpaceOnUse" x1="356.8" y1="619.0" x2="506.1" y2="621.7"/>
<path d="M356.8 619.0L431.4 622.3L506.1 621.7" stroke="url(#t337)" stroke-dasharray="0 4.82"/>
<linearGradient id="t338" href="#yg" gradientUnits="userSpaceOnUse" x1="377.7" y1="597.7" x2="523.7" y2="597.5"/>
<path d="M377.7 597.7L450.7 597.4L523.7 597.5" stroke="url(#t338)" stroke-dasharray="0 4.71"/>
<linearGradient id="t339" href="#yg" gradientUnits="userSpaceOnUse" x1="232.4" y1="593.5" x2="360.2" y2="593.4"/>
<path d="M232.4 593.5L296.3 593.4L360.2 593.4" stroke="url(#t339)" stroke-dasharray="0 4.12"/>
<linearGradient id="t340" href="#yg" gradientUnits="userSpaceOnUse" x1="346.4" y1="617.2" x2="485.8" y2="620.4"/>
<path d="M346.4 617.2L416.1 616.8L485.8 620.4" stroke="url(#t340)" stroke-dasharray="0 4.50"/>
<linearGradient id="t341" href="#yg" gradientUnits="userSpaceOnUse" x1="475.7" y1="606.1" x2="616.1" y2="606.8"/>
<path d="M475.7 606.1L545.9 607.1L616.1 606.8" stroke="url(#t341)" stroke-dasharray="0 4.53"/>
<linearGradient id="t342" href="#yg" gradientUnits="userSpaceOnUse" x1="567.3" y1="740.8" x2="672.4" y2="764.6"/>
<path d="M567.3 740.8L619.8 749.3L672.4 764.6" stroke="url(#t342)" stroke-dasharray="0 3.48"/>
<linearGradient id="t343" href="#yg" gradientUnits="userSpaceOnUse" x1="584.2" y1="700.8" x2="674.9" y2="722.3"/>
<path d="M584.2 700.8L629.6 718.6L674.9 722.3" stroke="url(#t343)" stroke-dasharray="0 3.04"/>
<linearGradient id="t344" href="#yg" gradientUnits="userSpaceOnUse" x1="240.0" y1="602.1" x2="396.9" y2="606.1"/>
<path d="M240.0 602.1L318.5 605.0L396.9 606.1" stroke="url(#t344)" stroke-dasharray="0 5.06"/>
<linearGradient id="t345" href="#yg" gradientUnits="userSpaceOnUse" x1="457.6" y1="602.5" x2="583.6" y2="602.4"/>
<path d="M457.6 602.5L520.6 602.9L583.6 602.4" stroke="url(#t345)" stroke-dasharray="0 4.07"/>
<linearGradient id="t346" href="#yg" gradientUnits="userSpaceOnUse" x1="361.8" y1="609.2" x2="487.0" y2="613.1"/>
<path d="M361.8 609.2L424.4 610.2L487.0 613.1" stroke="url(#t346)" stroke-dasharray="0 4.04"/>
<linearGradient id="t347" href="#yg" gradientUnits="userSpaceOnUse" x1="301.4" y1="618.3" x2="433.2" y2="620.4"/>
<path d="M301.4 618.3L367.3 620.0L433.2 620.4" stroke="url(#t347)" stroke-dasharray="0 4.25"/>
<linearGradient id="t348" href="#yg" gradientUnits="userSpaceOnUse" x1="449.0" y1="626.1" x2="557.4" y2="627.6"/>
<path d="M449.0 626.1L503.2 626.3L557.4 627.6" stroke="url(#t348)" stroke-dasharray="0 3.50"/>
<linearGradient id="t349" href="#yg" gradientUnits="userSpaceOnUse" x1="530.9" y1="657.2" x2="656.3" y2="683.4"/>
<path d="M530.9 657.2L593.6 666.7L656.3 683.4" stroke="url(#t349)" stroke-dasharray="0 4.14"/>
<linearGradient id="t350" href="#yg" gradientUnits="userSpaceOnUse" x1="525.6" y1="679.0" x2="652.5" y2="675.2"/>
<path d="M525.6 679.0L589.1 681.2L652.5 675.2" stroke="url(#t350)" stroke-dasharray="0 4.11"/>
<linearGradient id="t351" href="#yg" gradientUnits="userSpaceOnUse" x1="383.9" y1="597.2" x2="524.5" y2="597.8"/>
<path d="M383.9 597.2L454.2 597.5L524.5 597.8" stroke="url(#t351)" stroke-dasharray="0 4.53"/>
<linearGradient id="t352" href="#yg" gradientUnits="userSpaceOnUse" x1="427.2" y1="631.5" x2="525.8" y2="638.3"/>
<path d="M427.2 631.5L476.5 636.6L525.8 638.3" stroke="url(#t352)" stroke-dasharray="0 3.19"/>
<linearGradient id="t353" href="#yg" gradientUnits="userSpaceOnUse" x1="151.5" y1="593.8" x2="278.4" y2="593.3"/>
<path d="M151.5 593.8L215.0 593.1L278.4 593.3" stroke="url(#t353)" stroke-dasharray="0 4.10"/>
<linearGradient id="t354" href="#yg" gradientUnits="userSpaceOnUse" x1="534.2" y1="651.3" x2="674.1" y2="649.4"/>
<path d="M534.2 651.3L604.1 648.8L674.1 649.4" stroke="url(#t354)" stroke-dasharray="0 4.52"/>
<linearGradient id="t355" href="#yg" gradientUnits="userSpaceOnUse" x1="290.2" y1="600.2" x2="391.1" y2="601.0"/>
<path d="M290.2 600.2L340.7 601.3L391.1 601.0" stroke="url(#t355)" stroke-dasharray="0 3.26"/>
<linearGradient id="t356" href="#yg" gradientUnits="userSpaceOnUse" x1="173.8" y1="593.4" x2="301.8" y2="593.3"/>
<path d="M173.8 593.4L237.8 593.2L301.8 593.3" stroke="url(#t356)" stroke-dasharray="0 4.13"/>
<linearGradient id="t357" href="#yg" gradientUnits="userSpaceOnUse" x1="512.3" y1="608.6" x2="636.0" y2="611.0"/>
<path d="M512.3 608.6L574.2 610.1L636.0 611.0" stroke="url(#t357)" stroke-dasharray="0 3.99"/>
<linearGradient id="t358" href="#yg" gradientUnits="userSpaceOnUse" x1="549.6" y1="655.3" x2="657.4" y2="646.8"/>
<path d="M549.6 655.3L603.5 653.0L657.4 646.8" stroke="url(#t358)" stroke-dasharray="0 3.49"/>
<linearGradient id="t359" href="#yg" gradientUnits="userSpaceOnUse" x1="259.8" y1="605.7" x2="363.2" y2="603.7"/>
<path d="M259.8 605.7L311.5 603.5L363.2 603.7" stroke="url(#t359)" stroke-dasharray="0 3.34"/>
<linearGradient id="t360" href="#yg" gradientUnits="userSpaceOnUse" x1="475.2" y1="698.2" x2="562.9" y2="689.9"/>
<path d="M475.2 698.2L519.1 693.1L562.9 689.9" stroke="url(#t360)" stroke-dasharray="0 2.84"/>
<linearGradient id="t361" href="#yg" gradientUnits="userSpaceOnUse" x1="534.6" y1="716.1" x2="627.7" y2="709.9"/>
<path d="M534.6 716.1L581.2 708.1L627.7 709.9" stroke="url(#t361)" stroke-dasharray="0 3.02"/>
<linearGradient id="t362" href="#yg" gradientUnits="userSpaceOnUse" x1="401.1" y1="615.7" x2="529.0" y2="616.5"/>
<path d="M401.1 615.7L465.1 616.2L529.0 616.5" stroke="url(#t362)" stroke-dasharray="0 4.12"/>
<linearGradient id="t363" href="#yg" gradientUnits="userSpaceOnUse" x1="459.6" y1="703.5" x2="569.9" y2="732.0"/>
<path d="M459.6 703.5L514.7 711.8L569.9 732.0" stroke="url(#t363)" stroke-dasharray="0 3.69"/>
<linearGradient id="t364" href="#yg" gradientUnits="userSpaceOnUse" x1="245.7" y1="606.2" x2="372.2" y2="603.0"/>
<path d="M245.7 606.2L308.9 604.3L372.2 603.0" stroke="url(#t364)" stroke-dasharray="0 4.08"/>
<linearGradient id="t365" href="#yg" gradientUnits="userSpaceOnUse" x1="589.6" y1="760.2" x2="653.1" y2="756.3"/>
<path d="M589.6 760.2L621.3 766.1L653.1 756.3" stroke="url(#t365)" stroke-dasharray="0 2.12"/>
<linearGradient id="t366" href="#yg" gradientUnits="userSpaceOnUse" x1="219.4" y1="595.6" x2="314.6" y2="598.3"/>
<path d="M219.4 595.6L267.0 596.2L314.6 598.3" stroke="url(#t366)" stroke-dasharray="0 3.07"/>
<linearGradient id="t367" href="#yg" gradientUnits="userSpaceOnUse" x1="499.2" y1="711.6" x2="623.5" y2="710.0"/>
<path d="M499.2 711.6L561.3 706.6L623.5 710.0" stroke="url(#t367)" stroke-dasharray="0 4.02"/>
<linearGradient id="t368" href="#yg" gradientUnits="userSpaceOnUse" x1="216.2" y1="595.0" x2="339.3" y2="593.7"/>
<path d="M216.2 595.0L277.7 593.8L339.3 593.7" stroke="url(#t368)" stroke-dasharray="0 3.97"/>
<linearGradient id="t369" href="#yg" gradientUnits="userSpaceOnUse" x1="285.2" y1="613.6" x2="394.7" y2="619.5"/>
<path d="M285.2 613.6L339.9 618.1L394.7 619.5" stroke="url(#t369)" stroke-dasharray="0 3.54"/>
<linearGradient id="t370" href="#yg" gradientUnits="userSpaceOnUse" x1="265.6" y1="600.8" x2="376.3" y2="599.9"/>
<path d="M265.6 600.8L321.0 600.2L376.3 599.9" stroke="url(#t370)" stroke-dasharray="0 3.57"/>
<linearGradient id="t371" href="#yg" gradientUnits="userSpaceOnUse" x1="551.6" y1="769.0" x2="668.6" y2="790.5"/>
<path d="M551.6 769.0L610.1 775.2L668.6 790.5" stroke="url(#t371)" stroke-dasharray="0 3.85"/>
<linearGradient id="t372" href="#yg" gradientUnits="userSpaceOnUse" x1="315.9" y1="595.3" x2="433.5" y2="595.0"/>
<path d="M315.9 595.3L374.7 595.3L433.5 595.0" stroke="url(#t372)" stroke-dasharray="0 3.79"/>
<linearGradient id="t373" href="#yg" gradientUnits="userSpaceOnUse" x1="505.3" y1="655.9" x2="640.5" y2="675.7"/>
<path d="M505.3 655.9L572.9 672.3L640.5 675.7" stroke="url(#t373)" stroke-dasharray="0 4.43"/>
<linearGradient id="t374" href="#yg" gradientUnits="userSpaceOnUse" x1="579.2" y1="663.0" x2="673.8" y2="667.7"/>
<path d="M579.2 663.0L626.5 673.4L673.8 667.7" stroke="url(#t374)" stroke-dasharray="0 3.10"/>
<linearGradient id="t375" href="#yg" gradientUnits="userSpaceOnUse" x1="546.4" y1="678.2" x2="647.9" y2="703.0"/>
<path d="M546.4 678.2L597.1 698.7L647.9 703.0" stroke="url(#t375)" stroke-dasharray="0 3.41"/>
<linearGradient id="t376" href="#yg" gradientUnits="userSpaceOnUse" x1="167.1" y1="593.7" x2="263.5" y2="594.8"/>
<path d="M167.1 593.7L215.3 594.3L263.5 594.8" stroke="url(#t376)" stroke-dasharray="0 3.11"/>
<linearGradient id="t377" href="#yg" gradientUnits="userSpaceOnUse" x1="515.0" y1="660.5" x2="653.4" y2="688.1"/>
<path d="M515.0 660.5L584.2 672.2L653.4 688.1" stroke="url(#t377)" stroke-dasharray="0 4.55"/>
<linearGradient id="t378" href="#yg" gradientUnits="userSpaceOnUse" x1="159.3" y1="593.5" x2="284.3" y2="593.3"/>
<path d="M159.3 593.5L221.8 593.8L284.3 593.3" stroke="url(#t378)" stroke-dasharray="0 4.03"/>
<linearGradient id="t379" href="#yg" gradientUnits="userSpaceOnUse" x1="412.0" y1="617.4" x2="531.2" y2="614.9"/>
<path d="M412.0 617.4L471.6 615.1L531.2 614.9" stroke="url(#t379)" stroke-dasharray="0 3.85"/>
<linearGradient id="t380" href="#yg" gradientUnits="userSpaceOnUse" x1="494.4" y1="619.4" x2="639.3" y2="617.2"/>
<path d="M494.4 619.4L566.8 619.0L639.3 617.2" stroke="url(#t380)" stroke-dasharray="0 4.68"/>
<linearGradient id="t381" href="#yg" gradientUnits="userSpaceOnUse" x1="506.6" y1="684.1" x2="630.2" y2="672.1"/>
<path d="M506.6 684.1L568.4 684.7L630.2 672.1" stroke="url(#t381)" stroke-dasharray="0 4.03"/>
<linearGradient id="t382" href="#yg" gradientUnits="userSpaceOnUse" x1="525.2" y1="780.6" x2="626.6" y2="803.6"/>
<path d="M525.2 780.6L575.9 791.0L626.6 803.6" stroke="url(#t382)" stroke-dasharray="0 3.35"/>
<linearGradient id="t383" href="#yg" gradientUnits="userSpaceOnUse" x1="417.7" y1="597.8" x2="564.7" y2="598.7"/>
<path d="M417.7 597.8L491.2 598.4L564.7 598.7" stroke="url(#t383)" stroke-dasharray="0 4.74"/>
<linearGradient id="t384" href="#yg" gradientUnits="userSpaceOnUse" x1="561.4" y1="663.8" x2="666.0" y2="664.7"/>
<path d="M561.4 663.8L613.7 671.7L666.0 664.7" stroke="url(#t384)" stroke-dasharray="0 3.41"/>
<linearGradient id="t385" href="#yg" gradientUnits="userSpaceOnUse" x1="559.5" y1="618.5" x2="641.8" y2="618.0"/>
<path d="M559.5 618.5L600.7 617.2L641.8 618.0" stroke="url(#t385)" stroke-dasharray="0 2.66"/>
<linearGradient id="t386" href="#yg" gradientUnits="userSpaceOnUse" x1="503.6" y1="776.5" x2="597.6" y2="805.2"/>
<path d="M503.6 776.5L550.6 798.3L597.6 805.2" stroke="url(#t386)" stroke-dasharray="0 3.20"/>
<linearGradient id="t387" href="#yg" gradientUnits="userSpaceOnUse" x1="541.1" y1="647.6" x2="678.0" y2="643.5"/>
<path d="M541.1 647.6L609.6 646.7L678.0 643.5" stroke="url(#t387)" stroke-dasharray="0 4.42"/>
<linearGradient id="t388" href="#yg" gradientUnits="userSpaceOnUse" x1="337.5" y1="594.9" x2="468.4" y2="594.8"/>
<path d="M337.5 594.9L402.9 595.0L468.4 594.8" stroke="url(#t388)" stroke-dasharray="0 4.22"/>
<linearGradient id="t389" href="#yg" gradientUnits="userSpaceOnUse" x1="553.7" y1="640.4" x2="658.5" y2="637.1"/>
<path d="M553.7 640.4L606.1 640.3L658.5 637.1" stroke="url(#t389)" stroke-dasharray="0 3.38"/>
<linearGradient id="t390" href="#yg" gradientUnits="userSpaceOnUse" x1="548.1" y1="628.3" x2="644.4" y2="628.9"/>
<path d="M548.1 628.3L596.3 629.8L644.4 628.9" stroke="url(#t390)" stroke-dasharray="0 3.11"/>
<linearGradient id="t391" href="#yg" gradientUnits="userSpaceOnUse" x1="323.1" y1="616.9" x2="477.4" y2="614.4"/>
<path d="M323.1 616.9L400.2 617.8L477.4 614.4" stroke="url(#t391)" stroke-dasharray="0 4.98"/>
<linearGradient id="t392" href="#yg" gradientUnits="userSpaceOnUse" x1="449.1" y1="635.5" x2="562.8" y2="636.4"/>
<path d="M449.1 635.5L505.9 637.5L562.8 636.4" stroke="url(#t392)" stroke-dasharray="0 3.67"/>
<linearGradient id="t393" href="#yg" gradientUnits="userSpaceOnUse" x1="282.8" y1="609.8" x2="387.6" y2="611.5"/>
<path d="M282.8 609.8L335.2 610.1L387.6 611.5" stroke="url(#t393)" stroke-dasharray="0 3.38"/>
<linearGradient id="t394" href="#yg" gradientUnits="userSpaceOnUse" x1="420.3" y1="625.0" x2="519.6" y2="622.0"/>
<path d="M420.3 625.0L470.0 622.4L519.6 622.0" stroke="url(#t394)" stroke-dasharray="0 3.21"/>
<linearGradient id="t395" href="#yg" gradientUnits="userSpaceOnUse" x1="350.6" y1="618.4" x2="445.8" y2="620.1"/>
<path d="M350.6 618.4L398.2 619.4L445.8 620.1" stroke="url(#t395)" stroke-dasharray="0 3.07"/>
<linearGradient id="t396" href="#yg" gradientUnits="userSpaceOnUse" x1="458.1" y1="703.3" x2="576.3" y2="722.5"/>
<path d="M458.1 703.3L517.2 717.5L576.3 722.5" stroke="url(#t396)" stroke-dasharray="0 3.87"/>
<linearGradient id="t397" href="#yg" gradientUnits="userSpaceOnUse" x1="508.5" y1="686.9" x2="614.3" y2="714.4"/>
<path d="M508.5 686.9L561.4 695.5L614.3 714.4" stroke="url(#t397)" stroke-dasharray="0 3.54"/>
<linearGradient id="t398" href="#yg" gradientUnits="userSpaceOnUse" x1="515.7" y1="636.7" x2="651.5" y2="634.4"/>
<path d="M515.7 636.7L583.6 635.7L651.5 634.4" stroke="url(#t398)" stroke-dasharray="0 4.38"/>
<linearGradient id="t399" href="#yg" gradientUnits="userSpaceOnUse" x1="415.3" y1="628.1" x2="574.9" y2="628.5"/>
<path d="M415.3 628.1L495.1 629.2L574.9 628.5" stroke="url(#t399)" stroke-dasharray="0 5.15"/>
<linearGradient id="t400" href="#yg" gradientUnits="userSpaceOnUse" x1="466.6" y1="619.3" x2="594.6" y2="624.1"/>
<path d="M466.6 619.3L530.6 621.5L594.6 624.1" stroke="url(#t400)" stroke-dasharray="0 4.13"/>
<linearGradient id="t401" href="#yg" gradientUnits="userSpaceOnUse" x1="179.7" y1="594.2" x2="335.7" y2="593.3"/>
<path d="M179.7 594.2L257.7 595.2L335.7 593.3" stroke="url(#t401)" stroke-dasharray="0 5.03"/>
<linearGradient id="t402" href="#yg" gradientUnits="userSpaceOnUse" x1="396.4" y1="606.9" x2="492.1" y2="609.9"/>
<path d="M396.4 606.9L444.3 608.7L492.1 609.9" stroke="url(#t402)" stroke-dasharray="0 3.09"/>
<linearGradient id="t403" href="#yg" gradientUnits="userSpaceOnUse" x1="310.9" y1="596.8" x2="431.8" y2="596.3"/>
<path d="M310.9 596.8L371.3 596.2L431.8 596.3" stroke="url(#t403)" stroke-dasharray="0 3.90"/>
<linearGradient id="t404" href="#yg" gradientUnits="userSpaceOnUse" x1="174.9" y1="594.2" x2="287.3" y2="597.3"/>
<path d="M174.9 594.2L231.1 594.9L287.3 597.3" stroke="url(#t404)" stroke-dasharray="0 3.63"/>
<linearGradient id="t405" href="#yg" gradientUnits="userSpaceOnUse" x1="497.1" y1="702.8" x2="579.3" y2="697.4"/>
<path d="M497.1 702.8L538.2 707.2L579.3 697.4" stroke="url(#t405)" stroke-dasharray="0 2.70"/>
<linearGradient id="t406" href="#yg" gradientUnits="userSpaceOnUse" x1="551.9" y1="617.7" x2="639.4" y2="616.5"/>
<path d="M551.9 617.7L595.7 615.9L639.4 616.5" stroke="url(#t406)" stroke-dasharray="0 2.82"/>
<linearGradient id="t407" href="#yg" gradientUnits="userSpaceOnUse" x1="469.4" y1="729.1" x2="568.1" y2="750.9"/>
<path d="M469.4 729.1L518.7 740.8L568.1 750.9" stroke="url(#t407)" stroke-dasharray="0 3.26"/>
<linearGradient id="t408" href="#yg" gradientUnits="userSpaceOnUse" x1="191.7" y1="593.8" x2="341.0" y2="593.3"/>
<path d="M191.7 593.8L266.3 593.1L341.0 593.3" stroke="url(#t408)" stroke-dasharray="0 4.81"/>
<linearGradient id="t409" href="#yg" gradientUnits="userSpaceOnUse" x1="408.7" y1="632.4" x2="563.0" y2="637.3"/>
<path d="M408.7 632.4L485.9 632.2L563.0 637.3" stroke="url(#t409)" stroke-dasharray="0 4.99"/>
<linearGradient id="t410" href="#yg" gradientUnits="userSpaceOnUse" x1="254.8" y1="595.7" x2="360.4" y2="596.4"/>
<path d="M254.8 595.7L307.6 596.2L360.4 596.4" stroke="url(#t410)" stroke-dasharray="0 3.41"/>
<linearGradient id="t411" href="#yg" gradientUnits="userSpaceOnUse" x1="359.5" y1="606.3" x2="466.8" y2="609.4"/>
<path d="M359.5 606.3L413.2 608.6L466.8 609.4" stroke="url(#t411)" stroke-dasharray="0 3.46"/>
<linearGradient id="t412" href="#yg" gradientUnits="userSpaceOnUse" x1="218.6" y1="594.8" x2="324.1" y2="595.3"/>
<path d="M218.6 594.8L271.4 594.7L324.1 595.3" stroke="url(#t412)" stroke-dasharray="0 3.40"/>
<linearGradient id="t413" href="#yg" gradientUnits="userSpaceOnUse" x1="524.4" y1="716.6" x2="642.0" y2="722.3"/>
<path d="M524.4 716.6L583.2 720.8L642.0 722.3" stroke="url(#t413)" stroke-dasharray="0 3.80"/>
<linearGradient id="t414" href="#yg" gradientUnits="userSpaceOnUse" x1="507.6" y1="734.3" x2="601.6" y2="748.7"/>
<path d="M507.6 734.3L554.6 744.3L601.6 748.7" stroke="url(#t414)" stroke-dasharray="0 3.07"/>
<linearGradient id="t415" href="#yg" gradientUnits="userSpaceOnUse" x1="485.8" y1="619.1" x2="608.8" y2="619.4"/>
<path d="M485.8 619.1L547.3 619.2L608.8 619.4" stroke="url(#t415)" stroke-dasharray="0 3.97"/>
<linearGradient id="t416" href="#yg" gradientUnits="userSpaceOnUse" x1="372.7" y1="611.6" x2="469.5" y2="615.7"/>
<path d="M372.7 611.6L421.1 614.3L469.5 615.7" stroke="url(#t416)" stroke-dasharray="0 3.12"/>
<linearGradient id="t417" href="#yg" gradientUnits="userSpaceOnUse" x1="508.3" y1="657.1" x2="612.0" y2="672.3"/>
<path d="M508.3 657.1L560.1 658.0L612.0 672.3" stroke="url(#t417)" stroke-dasharray="0 3.41"/>
<linearGradient id="t418" href="#yg" gradientUnits="userSpaceOnUse" x1="555.4" y1="750.4" x2="655.1" y2="764.1"/>
<path d="M555.4 750.4L605.3 754.4L655.1 764.1" stroke="url(#t418)" stroke-dasharray="0 3.25"/>
<linearGradient id="t419" href="#yg" gradientUnits="userSpaceOnUse" x1="566.7" y1="698.4" x2="656.4" y2="687.9"/>
<path d="M566.7 698.4L611.5 689.8L656.4 687.9" stroke="url(#t419)" stroke-dasharray="0 2.92"/>
<linearGradient id="t420" href="#yg" gradientUnits="userSpaceOnUse" x1="276.0" y1="605.9" x2="372.4" y2="606.4"/>
<path d="M276.0 605.9L324.2 605.4L372.4 606.4" stroke="url(#t420)" stroke-dasharray="0 3.11"/>
<linearGradient id="t421" href="#yg" gradientUnits="userSpaceOnUse" x1="529.8" y1="647.9" x2="671.2" y2="648.1"/>
<path d="M529.8 647.9L600.5 647.4L671.2 648.1" stroke="url(#t421)" stroke-dasharray="0 4.56"/>
<linearGradient id="t422" href="#yg" gradientUnits="userSpaceOnUse" x1="549.9" y1="691.9" x2="656.7" y2="680.6"/>
<path d="M549.9 691.9L603.3 688.2L656.7 680.6" stroke="url(#t422)" stroke-dasharray="0 3.47"/>
<linearGradient id="t423" href="#yg" gradientUnits="userSpaceOnUse" x1="154.0" y1="595.2" x2="201.7" y2="595.2"/>
<path d="M154.0 595.2L168.0 594.6L201.7 595.2" stroke="url(#t423)" stroke-dasharray="0 1.54"/>
<linearGradient id="t424" href="#yg" gradientUnits="userSpaceOnUse" x1="166.2" y1="595.5" x2="229.7" y2="595.5"/>
<path d="M166.2 595.5L196.1 596.5L229.7 595.5" stroke="url(#t424)" stroke-dasharray="0 2.05"/>
<linearGradient id="t425" href="#yg" gradientUnits="userSpaceOnUse" x1="244.6" y1="605.1" x2="360.5" y2="611.8"/>
<path d="M244.6 605.1L289.5 607.9L326.9 609.8" stroke="url(#t425)" stroke-dasharray="0 3.74"/>
<linearGradient id="t426" href="#yg" gradientUnits="userSpaceOnUse" x1="252.1" y1="614.6" x2="371.6" y2="623.8"/>
<path d="M252.1 614.6L289.5 617.5L313.8 619.4" stroke="url(#t426)" stroke-dasharray="0 3.87"/>
<linearGradient id="t427" href="#yg" gradientUnits="userSpaceOnUse" x1="282.0" y1="621.3" x2="402.0" y2="625.5"/>
<path d="M282.0 621.3L308.2 622.2L336.2 623.2" stroke="url(#t427)" stroke-dasharray="0 3.87"/>
<linearGradient id="t428" href="#yg" gradientUnits="userSpaceOnUse" x1="323.1" y1="627.9" x2="458.3" y2="637.8"/>
<path d="M323.1 627.9L336.2 628.9" stroke="url(#t428)" stroke-dasharray="0 4.37"/>
<linearGradient id="t429" href="#yg" gradientUnits="userSpaceOnUse" x1="347.4" y1="628.9" x2="492.2" y2="620.0"/>
<path d="M347.4 628.9L356.8 628.3" stroke="url(#t429)" stroke-dasharray="0 4.68"/>
<linearGradient id="t430" href="#yg" gradientUnits="userSpaceOnUse" x1="381.1" y1="630.8" x2="530.7" y2="633.3"/>
<path d="M381.1 630.8L411.0 633.7L439.0 631.8" stroke="url(#t430)" stroke-dasharray="0 4.84"/>
<linearGradient id="t431" href="#yg" gradientUnits="userSpaceOnUse" x1="399.7" y1="638.4" x2="535.9" y2="644.0"/>
<path d="M399.7 638.4L429.6 640.3L470.0 641.3" stroke="url(#t431)" stroke-dasharray="0 4.40"/>
<linearGradient id="t432" href="#yg" gradientUnits="userSpaceOnUse" x1="330.4" y1="597.6" x2="435.2" y2="597.1"/>
<path d="M364.2 597.5L401.6 597.8L435.2 597.1" stroke="url(#t432)" stroke-dasharray="0 3.38"/>
<linearGradient id="t433" href="#yg" gradientUnits="userSpaceOnUse" x1="159.8" y1="614.4" x2="394.1" y2="611.7"/>
<path d="M227.8 613.7L345.5 612.7L394.1 611.7" stroke="url(#t433)" stroke-dasharray="0 7.56"/>
<linearGradient id="t434" href="#yg" gradientUnits="userSpaceOnUse" x1="365.3" y1="607.0" x2="490.5" y2="603.2"/>
<path d="M365.3 607.0L440.0 605.1L490.5 603.2" stroke="url(#t434)" stroke-dasharray="0 4.04"/>
<linearGradient id="t435" href="#yg" gradientUnits="userSpaceOnUse" x1="383.9" y1="612.7" x2="505.4" y2="620.3"/>
<path d="M383.9 612.7L440.0 614.6L477.4 618.4L505.4 620.3" stroke="url(#t435)" stroke-dasharray="0 3.93"/>
<linearGradient id="t436" href="#yg" gradientUnits="userSpaceOnUse" x1="421.3" y1="632.7" x2="559.6" y2="658.4"/>
<path d="M421.3 632.7L440.0 633.7L496.1 637.5L559.6 658.4" stroke="url(#t436)" stroke-dasharray="0 4.57"/>
<linearGradient id="t437" href="#yg" gradientUnits="userSpaceOnUse" x1="503.5" y1="603.2" x2="626.9" y2="601.3"/>
<path d="M503.5 603.2L540.9 602.2L570.8 601.3L626.9 601.3" stroke="url(#t437)" stroke-dasharray="0 3.98"/>
<linearGradient id="t438" href="#yg" gradientUnits="userSpaceOnUse" x1="518.5" y1="612.7" x2="638.1" y2="611.7"/>
<path d="M518.5 612.7L561.5 612.7L598.8 613.7L638.1 611.7" stroke="url(#t438)" stroke-dasharray="0 3.86"/>
<linearGradient id="t439" href="#yg" gradientUnits="userSpaceOnUse" x1="552.1" y1="627.0" x2="654.9" y2="627.0"/>
<path d="M552.1 627.0L589.5 626.0L626.9 627.0L654.9 627.0" stroke="url(#t439)" stroke-dasharray="0 3.32"/>
<linearGradient id="t440" href="#yg" gradientUnits="userSpaceOnUse" x1="473.6" y1="647.0" x2="552.1" y2="640.3"/>
<path d="M473.6 647.0L514.7 641.3L552.1 640.3" stroke="url(#t440)" stroke-dasharray="0 2.54"/>
<linearGradient id="t441" href="#yg" gradientUnits="userSpaceOnUse" x1="636.2" y1="637.5" x2="675.4" y2="637.5"/>
<path d="M636.2 637.5L675.4 637.5" stroke="url(#t441)" stroke-dasharray="0 1.27"/>
<linearGradient id="t442" href="#yg" gradientUnits="userSpaceOnUse" x1="570.8" y1="656.5" x2="668.0" y2="648.9"/>
<path d="M570.8 656.5L608.2 652.7L645.5 654.6L668.0 648.9" stroke="url(#t442)" stroke-dasharray="0 3.17"/>
<linearGradient id="t443" href="#yg" gradientUnits="userSpaceOnUse" x1="514.7" y1="675.6" x2="608.2" y2="683.2"/>
<path d="M514.7 675.6L552.1 673.7L585.8 675.6L608.2 683.2" stroke="url(#t443)" stroke-dasharray="0 3.06"/>
<linearGradient id="t444" href="#yg" gradientUnits="userSpaceOnUse" x1="486.7" y1="687.0" x2="625.0" y2="685.1"/>
<path d="M486.7 687.0L533.4 683.2L589.5 690.8L625.0 685.1" stroke="url(#t444)" stroke-dasharray="0 4.50"/>
<linearGradient id="t445" href="#yg" gradientUnits="userSpaceOnUse" x1="443.7" y1="706.1" x2="585.9" y2="708.8"/>
<path d="M443.7 706.1L477.4 700.4L514.7 698.5L544.6 708.0" stroke="url(#t445)" stroke-dasharray="0 4.68"/>
<linearGradient id="t446" href="#yg" gradientUnits="userSpaceOnUse" x1="451.2" y1="717.5" x2="558.2" y2="731.2"/>
<path d="M451.2 717.5L477.4 713.7L496.1 723.2" stroke="url(#t446)" stroke-dasharray="0 3.65"/>
<linearGradient id="t447" href="#yg" gradientUnits="userSpaceOnUse" x1="570.8" y1="690.8" x2="645.5" y2="717.5"/>
<path d="M570.8 690.8L598.8 700.4L626.9 706.1L645.5 717.5" stroke="url(#t447)" stroke-dasharray="0 2.58"/>
<linearGradient id="t448" href="#yg" gradientUnits="userSpaceOnUse" x1="526.0" y1="698.5" x2="667.9" y2="751.6"/>
<path d="M526.0 698.5L552.1 706.1L589.5 721.3L617.5 732.8" stroke="url(#t448)" stroke-dasharray="0 4.89"/>
<linearGradient id="t449" href="#yg" gradientUnits="userSpaceOnUse" x1="621.7" y1="652.1" x2="641.8" y2="706.1"/>
<path d="M626.9 666.1L645.5 675.6L662.4 683.2L660.5 696.6L641.8 706.1" stroke="url(#t449)" stroke-dasharray="0 3.21"/>
<circle cx="670.8" cy="670.8" r="6" fill="#4dbbd5"/>
<circle cx="660.5" cy="717.5" r="6" fill="#4dbbd5"/>
<circle cx="653.0" cy="627.9" r="6" fill="#4dbbd5"/>
<circle cx="639.0" cy="617.5" r="6" fill="#5cb8d0"/>
<circle cx="634.3" cy="607.0" r="6" fill="#4dbbd5"/>
<circle cx="664.2" cy="649.9" r="6" fill="#5cb8d0"/>
<linearGradient id="t450" href="#yg" gradientUnits="userSpaceOnUse" x1="647.4" y1="725.2" x2="688.5" y2="709.0"/>
<path d="M647.4 725.2L649.3 734.7L653.0 751.8L654.9 759.5L656.8 771.9L664.2 782.3L669.8 776.6L674.5 760.4L677.3 749.9L682.9 732.8L684.8 718.5L688.5 709.0" stroke="url(#t450)" stroke-dasharray="0 4.48"/>
<linearGradient id="t451" href="#yg" gradientUnits="userSpaceOnUse" x1="533.4" y1="624.1" x2="641.8" y2="620.3"/>
<path d="M533.4 624.1L570.8 623.2L608.2 624.1L641.8 620.3" stroke="url(#t451)" stroke-dasharray="0 3.50"/>
<linearGradient id="t452" href="#yg" gradientUnits="userSpaceOnUse" x1="467.6" y1="628.1" x2="555.9" y2="639.4"/>
<path d="M496.1 631.8L533.4 633.7L555.9 639.4" stroke="url(#t452)" stroke-dasharray="0 2.88"/>
<linearGradient id="t453" href="#yg" gradientUnits="userSpaceOnUse" x1="561.5" y1="639.4" x2="651.2" y2="633.7"/>
<path d="M561.5 639.4L598.8 639.4L626.9 641.3L651.2 633.7" stroke="url(#t453)" stroke-dasharray="0 2.93"/>
<linearGradient id="t454" href="#yg" gradientUnits="userSpaceOnUse" x1="566.6" y1="663.2" x2="654.9" y2="660.4"/>
<path d="M595.1 662.3L626.9 660.4L654.9 660.4" stroke="url(#t454)" stroke-dasharray="0 2.85"/>
<linearGradient id="t455" href="#yg" gradientUnits="userSpaceOnUse" x1="396.8" y1="734.8" x2="454.7" y2="742.4"/>
<path d="M396.8 734.8L417.4 741.4L432.3 747.2L451.0 744.3L454.7 742.4" stroke="url(#t455)" stroke-dasharray="0 1.96"/>
<linearGradient id="t456" href="#yg" gradientUnits="userSpaceOnUse" x1="424.8" y1="732.9" x2="532.4" y2="766.6"/>
<path d="M424.8 732.9L436.1 737.6L449.1 740.5" stroke="url(#t456)" stroke-dasharray="0 3.65"/>
<linearGradient id="t457" href="#yg" gradientUnits="userSpaceOnUse" x1="449.4" y1="732.2" x2="515.6" y2="784.9"/>
<path d="M462.2 742.4L480.9 745.2L488.4 756.7L492.1 766.2" stroke="url(#t457)" stroke-dasharray="0 3.06"/>
<linearGradient id="t458" href="#yg" gradientUnits="userSpaceOnUse" x1="397.9" y1="746.1" x2="491.2" y2="739.5"/>
<path d="M464.1 741.4L484.6 739.5L491.2 739.5" stroke="url(#t458)" stroke-dasharray="0 3.02"/>
<linearGradient id="t459" href="#yg" gradientUnits="userSpaceOnUse" x1="492.1" y1="747.2" x2="657.6" y2="755.6"/>
<path d="M492.1 747.2L520.1 741.4L548.2 743.3L566.9 751.0" stroke="url(#t459)" stroke-dasharray="0 5.49"/>
<linearGradient id="t460" href="#yg" gradientUnits="userSpaceOnUse" x1="417.9" y1="743.6" x2="565.0" y2="759.5"/>
<path d="M503.3 752.9L529.5 756.7L538.8 756.7L565.0 759.5" stroke="url(#t460)" stroke-dasharray="0 4.78"/>
<linearGradient id="t461" href="#yg" gradientUnits="userSpaceOnUse" x1="503.3" y1="769.1" x2="610.5" y2="876.9"/>
<path d="M503.3 769.1L518.3 770.0L527.6 777.7L531.4 789.1L537.0 802.4L544.4 815.8L556.6 830.1L572.5 838.6" stroke="url(#t461)" stroke-dasharray="0 5.28"/>
<linearGradient id="t462" href="#yg" gradientUnits="userSpaceOnUse" x1="455.2" y1="740.3" x2="527.6" y2="804.3"/>
<path d="M499.6 779.6L508.9 792.9L522.0 800.5L527.6 804.3" stroke="url(#t462)" stroke-dasharray="0 3.18"/>
<linearGradient id="t463" href="#yg" gradientUnits="userSpaceOnUse" x1="370.7" y1="783.8" x2="544.4" y2="769.1"/>
<path d="M533.2 770.0L544.4 769.1" stroke="url(#t463)" stroke-dasharray="0 5.63"/>
<linearGradient id="t464" href="#yg" gradientUnits="userSpaceOnUse" x1="568.7" y1="775.7" x2="665.3" y2="736.4"/>
<path d="M568.7 775.7L578.1 771.9" stroke="url(#t464)" stroke-dasharray="0 3.36"/>
<linearGradient id="t465" href="#yg" gradientUnits="userSpaceOnUse" x1="563.1" y1="792.9" x2="690.6" y2="804.7"/>
<path d="M563.1 792.9L576.2 787.2L583.7 794.8" stroke="url(#t465)" stroke-dasharray="0 4.99"/>
<linearGradient id="t466" href="#yg" gradientUnits="userSpaceOnUse" x1="576.2" y1="810.1" x2="701.7" y2="839.6"/>
<path d="M576.2 810.1L591.2 810.1L600.5 815.8" stroke="url(#t466)" stroke-dasharray="0 4.32"/>
<linearGradient id="t467" href="#yg" gradientUnits="userSpaceOnUse" x1="579.9" y1="744.3" x2="637.9" y2="847.7"/>
<path d="M591.2 764.3L598.6 779.6L604.2 792.9L613.6 804.3" stroke="url(#t467)" stroke-dasharray="0 3.85"/>
<linearGradient id="t468" href="#yg" gradientUnits="userSpaceOnUse" x1="613.6" y1="768.1" x2="646.7" y2="886.3"/>
<path d="M613.6 768.1L617.3 783.4L621.1 794.8" stroke="url(#t468)" stroke-dasharray="0 3.96"/>
<circle cx="604.2" cy="804.3" r="6" fill="#4dbbd5"/>
<circle cx="609.8" cy="777.7" r="6" fill="#4dbbd5"/>
<circle cx="628.5" cy="791.0" r="6" fill="#4dbbd5"/>
<circle cx="639.7" cy="792.9" r="6" fill="#5cb8d0"/>
<circle cx="639.7" cy="810.1" r="6" fill="#85acba"/>
<circle cx="649.1" cy="784.3" r="6" fill="#a49da0"/>
<circle cx="647.2" cy="797.7" r="6" fill="#a49da0"/>
<circle cx="642.5" cy="824.3" r="6" fill="#a99a9a"/>
<circle cx="647.2" cy="837.7" r="6" fill="#4dbbd5"/>
<circle cx="645.3" cy="850.1" r="6" fill="#4dbbd5"/>
<circle cx="615.4" cy="871.0" r="6" fill="#a99a9a"/>
<circle cx="584.6" cy="830.1" r="6" fill="#e4503a"/>
<circle cx="590.2" cy="833.9" r="6" fill="#93a6af"/>
<circle cx="593.0" cy="840.5" r="6" fill="#cf7867"/>
<circle cx="641.6" cy="705.2" r="6" fill="#4dbbd5"/>
<circle cx="660.3" cy="717.6" r="6" fill="#4dbbd5"/>
<circle cx="643.5" cy="716.7" r="6" fill="#4dbbd5"/>
<circle cx="660.3" cy="735.7" r="6" fill="#5cb8d0"/>
<linearGradient id="t469" href="#yg" gradientUnits="userSpaceOnUse" x1="566.9" y1="853.9" x2="645.3" y2="838.6"/>
<path d="M566.9 853.9L570.6 848.2L594.9 849.1L613.6 846.3L632.3 842.5L645.3 838.6" stroke="url(#t469)" stroke-dasharray="0 2.67"/>
<linearGradient id="t470" href="#yg" gradientUnits="userSpaceOnUse" x1="581.1" y1="849.7" x2="702.7" y2="867.4"/>
<path d="M596.8 852.0L609.8 859.6L636.0 857.7" stroke="url(#t470)" stroke-dasharray="0 4.14"/>
<linearGradient id="t471" href="#yg" gradientUnits="userSpaceOnUse" x1="591.8" y1="768.8" x2="640.1" y2="847.5"/>
<path d="M622.9 819.6L624.8 829.1L632.3 834.8" stroke="url(#t471)" stroke-dasharray="0 3.19"/>
<linearGradient id="t472" href="#yg" gradientUnits="userSpaceOnUse" x1="647.2" y1="724.3" x2="676.2" y2="872.0"/>
<path d="M647.2 724.3L649.1 733.8" stroke="url(#t472)" stroke-dasharray="0 4.86"/>
<linearGradient id="t473" href="#yg" gradientUnits="userSpaceOnUse" x1="652.8" y1="751.0" x2="672.1" y2="859.3"/>
<path d="M652.8 751.0L653.8 758.6L656.6 771.9" stroke="url(#t473)" stroke-dasharray="0 3.55"/>
<linearGradient id="t474" href="#yg" gradientUnits="userSpaceOnUse" x1="642.5" y1="799.6" x2="710.1" y2="740.5"/>
<path d="M662.2 782.4L668.7 776.7" stroke="url(#t474)" stroke-dasharray="0 2.90"/>
<linearGradient id="t475" href="#yg" gradientUnits="userSpaceOnUse" x1="553.5" y1="748.3" x2="641.6" y2="758.6"/>
<path d="M576.2 751.0L594.9 754.8L613.6 756.7L641.6 758.6" stroke="url(#t475)" stroke-dasharray="0 2.87"/>
<linearGradient id="t476" href="#yg" gradientUnits="userSpaceOnUse" x1="560.9" y1="726.2" x2="653.1" y2="755.7"/>
<path d="M566.9 728.1L585.5 737.6L613.6 743.3L632.3 749.1" stroke="url(#t476)" stroke-dasharray="0 3.14"/>
<circle cx="407.1" cy="818.9" r="6" fill="#e64b35"/>
<circle cx="531.4" cy="834.8" r="6" fill="#b39490"/>
<circle cx="534.2" cy="852.2" r="6" fill="#ae9795"/>
<circle cx="616.4" cy="874.1" r="6" fill="#a99a9a"/>
<circle cx="647.6" cy="783.4" r="6" fill="#a99a9a"/>
<linearGradient id="t477" href="#yg" gradientUnits="userSpaceOnUse" x1="409.8" y1="791.1" x2="499.6" y2="843.2"/>
<path d="M441.7 809.6L460.4 809.6L471.6 818.9L480.9 833.0L488.4 841.4L499.6 843.2" stroke="url(#t477)" stroke-dasharray="0 3.64"/>
<linearGradient id="t478" href="#yg" gradientUnits="userSpaceOnUse" x1="496.0" y1="809.6" x2="613.9" y2="838.6"/>
<path d="M541.6 820.8L553.8 830.1L566.9 837.6L574.3 839.5L585.5 837.6L594.9 833.9" stroke="url(#t478)" stroke-dasharray="0 4.25"/>
<linearGradient id="t479" href="#yg" gradientUnits="userSpaceOnUse" x1="661.5" y1="736.1" x2="622.9" y2="871.3"/>
<path d="M641.6 805.9L639.7 818.9L634.1 832.0" stroke="url(#t479)" stroke-dasharray="0 4.57"/>
<circle cx="615.7" cy="874.3" r="6" fill="#a99a9a"/>
<circle cx="541.5" cy="932.2" r="6" fill="#a49da0"/>
<circle cx="625.9" cy="979.9" r="6" fill="#9fa0a5"/>
<circle cx="546.9" cy="979.9" r="6" fill="#93a6af"/>
<circle cx="550.8" cy="995.8" r="6" fill="#8ca9b5"/>
<circle cx="559.6" cy="1021.0" r="6" fill="#69b5ca"/>
<circle cx="563.3" cy="1024.7" r="6" fill="#5cb8d0"/>
<circle cx="632.5" cy="1021.0" r="6" fill="#69b5ca"/>
<circle cx="636.2" cy="1019.1" r="6" fill="#5cb8d0"/>
<circle cx="635.3" cy="1024.7" r="6" fill="#4dbbd5"/>
<linearGradient id="t480" href="#yg" gradientUnits="userSpaceOnUse" x1="561.5" y1="936.0" x2="619.4" y2="972.0"/>
<path d="M561.5 936.0L570.8 939.7L578.3 946.2L587.6 945.3L595.1 952.8L595.1 956.9" stroke="url(#t480)" stroke-dasharray="0 2.45"/>
<linearGradient id="t481" href="#yg" gradientUnits="userSpaceOnUse" x1="606.3" y1="952.8" x2="722.2" y2="894.8"/>
<path d="M606.3 952.8L613.8 949.0" stroke="url(#t481)" stroke-dasharray="0 4.18"/>
<linearGradient id="t482" href="#yg" gradientUnits="userSpaceOnUse" x1="615.7" y1="956.8" x2="685.2" y2="897.0"/>
<path d="M626.9 947.2L638.1 947.2L642.7 941.6L643.7 934.1L645.5 924.7L651.2 913.5L660.5 918.2" stroke="url(#t482)" stroke-dasharray="0 3.90"/>
<circle cx="668.9" cy="928.5" r="6" fill="#99a3aa"/>
<circle cx="671.7" cy="936.0" r="6" fill="#93a6af"/>
<circle cx="673.6" cy="947.2" r="6" fill="#8ca9b5"/>
<circle cx="677.3" cy="964.0" r="6" fill="#73b2c5"/>
<linearGradient id="t483" href="#yg" gradientUnits="userSpaceOnUse" x1="566.4" y1="925.7" x2="611.9" y2="983.6"/>
<path d="M601.6 970.5L606.3 977.1L611.9 983.6" stroke="url(#t483)" stroke-dasharray="0 2.38"/>
<linearGradient id="t484" href="#yg" gradientUnits="userSpaceOnUse" x1="576.3" y1="790.0" x2="607.4" y2="897.7"/>
<path d="M590.4 838.6L593.0 848.7L596.4 859.5" stroke="url(#t484)" stroke-dasharray="0 3.62"/>
<linearGradient id="t485" href="#yg" gradientUnits="userSpaceOnUse" x1="604.0" y1="806.4" x2="675.8" y2="869.4"/>
<path d="M627.2 826.7L635.3 834.3L636.4 834.8" stroke="url(#t485)" stroke-dasharray="0 3.09"/>
<linearGradient id="t486" href="#yg" gradientUnits="userSpaceOnUse" x1="591.3" y1="814.2" x2="723.1" y2="876.4"/>
<path d="M591.3 814.2L603.6 817.5L625.3 830.2" stroke="url(#t486)" stroke-dasharray="0 4.74"/>
<linearGradient id="t487" href="#yg" gradientUnits="userSpaceOnUse" x1="634.3" y1="788.1" x2="787.8" y2="834.2"/>
<path d="M634.3 788.1L646.6 793.4L654.1 794.0" stroke="url(#t487)" stroke-dasharray="0 5.23"/>
<linearGradient id="t488" href="#yg" gradientUnits="userSpaceOnUse" x1="575.7" y1="734.1" x2="671.5" y2="805.8"/>
<path d="M618.9 766.5L639.1 782.8L649.9 789.6" stroke="url(#t488)" stroke-dasharray="0 3.87"/>
<linearGradient id="t489" href="#yg" gradientUnits="userSpaceOnUse" x1="565.3" y1="819.8" x2="604.7" y2="938.6"/>
<path d="M565.3 819.8L567.4 833.5L576.7 854.3" stroke="url(#t489)" stroke-dasharray="0 4.07"/>
<linearGradient id="t490" href="#yg" gradientUnits="userSpaceOnUse" x1="562.7" y1="822.0" x2="622.7" y2="926.9"/>
<path d="M562.7 822.0L572.1 838.6L582.1 855.8" stroke="url(#t490)" stroke-dasharray="0 3.90"/>
<linearGradient id="t491" href="#yg" gradientUnits="userSpaceOnUse" x1="570.6" y1="820.7" x2="667.5" y2="882.8"/>
<path d="M570.6 820.7L582.1 825.9L605.0 842.7" stroke="url(#t491)" stroke-dasharray="0 3.73"/>
<linearGradient id="t492" href="#yg" gradientUnits="userSpaceOnUse" x1="580.5" y1="785.5" x2="670.5" y2="853.4"/>
<path d="M580.5 785.5L602.2 802.8L615.3 811.8" stroke="url(#t492)" stroke-dasharray="0 3.64"/>
<linearGradient id="t493" href="#yg" gradientUnits="userSpaceOnUse" x1="580.5" y1="737.6" x2="662.2" y2="809.1"/>
<path d="M609.5 763.0L620.9 773.0L633.2 783.7" stroke="url(#t493)" stroke-dasharray="0 3.50"/>
<linearGradient id="t494" href="#yg" gradientUnits="userSpaceOnUse" x1="563.8" y1="797.9" x2="616.4" y2="908.9"/>
<path d="M563.8 797.9L569.2 813.6L582.5 837.3" stroke="url(#t494)" stroke-dasharray="0 3.98"/>
<linearGradient id="t495" href="#yg" gradientUnits="userSpaceOnUse" x1="560.1" y1="772.4" x2="590.6" y2="876.5"/>
<path d="M560.1 772.4L561.6 789.4L572.9 816.1" stroke="url(#t495)" stroke-dasharray="0 3.54"/>
<linearGradient id="t496" href="#yg" gradientUnits="userSpaceOnUse" x1="547.4" y1="757.9" x2="635.5" y2="865.0"/>
<path d="M615.6 840.8L617.0 843.1L624.1 851.2" stroke="url(#t496)" stroke-dasharray="0 4.49"/>
<linearGradient id="t497" href="#yg" gradientUnits="userSpaceOnUse" x1="635.5" y1="782.4" x2="715.2" y2="905.0"/>
<path d="M635.5 782.4L647.2 797.6L648.4 802.2" stroke="url(#t497)" stroke-dasharray="0 4.78"/>
</g>
<polyline points="155.4,591.6 683.9,591.6" fill="none" stroke="#000" stroke-width="4" stroke-linejoin="round"/>
<g fill="none" stroke-width="12" stroke-linecap="round" stroke-linejoin="round">
<linearGradient id="t498" href="#yg" gradientUnits="userSpaceOnUse" x1="201.4" y1="1204.6" x2="314.2" y2="1201.9"/>
<path d="M201.4 1204.6L257.8 1204.4L314.2 1201.9" stroke="url(#t498)" stroke-dasharray="0 3.64"/>
<linearGradient id="t499" href="#yg" gradientUnits="userSpaceOnUse" x1="589.3" y1="1230.5" x2="681.2" y2="1210.3"/>
<path d="M589.3 1230.5L635.2 1217.8L681.2 1210.3" stroke="url(#t499)" stroke-dasharray="0 3.04"/>
<linearGradient id="t500" href="#yg" gradientUnits="userSpaceOnUse" x1="262.1" y1="1231.2" x2="423.0" y2="1222.8"/>
<path d="M262.1 1231.2L342.6 1228.4L423.0 1222.8" stroke="url(#t500)" stroke-dasharray="0 5.20"/>
<linearGradient id="t501" href="#yg" gradientUnits="userSpaceOnUse" x1="270.2" y1="1220.2" x2="375.1" y2="1213.8"/>
<path d="M270.2 1220.2L322.7 1218.3L375.1 1213.8" stroke="url(#t501)" stroke-dasharray="0 3.39"/>
<linearGradient id="t502" href="#yg" gradientUnits="userSpaceOnUse" x1="507.3" y1="1240.7" x2="628.6" y2="1200.7"/>
<path d="M507.3 1240.7L567.9 1224.0L628.6 1200.7" stroke="url(#t502)" stroke-dasharray="0 4.12"/>
<linearGradient id="t503" href="#yg" gradientUnits="userSpaceOnUse" x1="232.1" y1="1216.2" x2="348.3" y2="1208.9"/>
<path d="M232.1 1216.2L290.2 1212.3L348.3 1208.9" stroke="url(#t503)" stroke-dasharray="0 3.76"/>
<linearGradient id="t504" href="#yg" gradientUnits="userSpaceOnUse" x1="375.9" y1="1193.0" x2="508.2" y2="1177.0"/>
<path d="M375.9 1193.0L442.0 1181.8L508.2 1177.0" stroke="url(#t504)" stroke-dasharray="0 4.30"/>
<linearGradient id="t505" href="#yg" gradientUnits="userSpaceOnUse" x1="245.4" y1="1223.1" x2="352.5" y2="1219.0"/>
<path d="M245.4 1223.1L298.9 1221.2L352.5 1219.0" stroke="url(#t505)" stroke-dasharray="0 3.46"/>
<linearGradient id="t506" href="#yg" gradientUnits="userSpaceOnUse" x1="255.9" y1="1198.9" x2="420.2" y2="1195.6"/>
<path d="M255.9 1198.9L338.1 1198.8L420.2 1195.6" stroke="url(#t506)" stroke-dasharray="0 5.30"/>
<linearGradient id="t507" href="#yg" gradientUnits="userSpaceOnUse" x1="429.6" y1="1249.5" x2="565.6" y2="1229.1"/>
<path d="M429.6 1249.5L497.6 1243.9L565.6 1229.1" stroke="url(#t507)" stroke-dasharray="0 4.45"/>
<linearGradient id="t508" href="#yg" gradientUnits="userSpaceOnUse" x1="182.5" y1="1219.2" x2="277.4" y2="1215.7"/>
<path d="M182.5 1219.2L230.0 1221.1L277.4 1215.7" stroke="url(#t508)" stroke-dasharray="0 3.07"/>
<linearGradient id="t509" href="#yg" gradientUnits="userSpaceOnUse" x1="187.4" y1="1215.6" x2="311.8" y2="1202.0"/>
<path d="M187.4 1215.6L249.6 1211.0L311.8 1202.0" stroke="url(#t509)" stroke-dasharray="0 4.04"/>
<linearGradient id="t510" href="#yg" gradientUnits="userSpaceOnUse" x1="391.5" y1="1224.2" x2="506.6" y2="1212.2"/>
<path d="M391.5 1224.2L449.1 1218.0L506.6 1212.2" stroke="url(#t510)" stroke-dasharray="0 3.73"/>
<linearGradient id="t511" href="#yg" gradientUnits="userSpaceOnUse" x1="404.6" y1="1193.5" x2="543.0" y2="1169.1"/>
<path d="M404.6 1193.5L473.8 1181.5L543.0 1169.1" stroke="url(#t511)" stroke-dasharray="0 4.53"/>
<linearGradient id="t512" href="#yg" gradientUnits="userSpaceOnUse" x1="373.8" y1="1204.0" x2="469.7" y2="1183.2"/>
<path d="M373.8 1204.0L421.7 1195.6L469.7 1183.2" stroke="url(#t512)" stroke-dasharray="0 3.17"/>
<linearGradient id="t513" href="#yg" gradientUnits="userSpaceOnUse" x1="578.7" y1="1241.4" x2="681.7" y2="1208.5"/>
<path d="M578.7 1241.4L630.2 1227.9L681.7 1208.5" stroke="url(#t513)" stroke-dasharray="0 3.49"/>
<linearGradient id="t514" href="#yg" gradientUnits="userSpaceOnUse" x1="465.4" y1="1229.5" x2="596.3" y2="1219.8"/>
<path d="M465.4 1229.5L530.9 1220.8L596.3 1219.8" stroke="url(#t514)" stroke-dasharray="0 4.24"/>
<linearGradient id="t515" href="#yg" gradientUnits="userSpaceOnUse" x1="508.6" y1="1192.7" x2="610.1" y2="1161.4"/>
<path d="M508.6 1192.7L559.3 1176.1L610.1 1161.4" stroke="url(#t515)" stroke-dasharray="0 3.43"/>
<linearGradient id="t516" href="#yg" gradientUnits="userSpaceOnUse" x1="592.1" y1="1163.9" x2="627.1" y2="1160.4"/>
<path d="M592.1 1163.9L609.6 1165.1L627.1 1160.4" stroke="url(#t516)" stroke-dasharray="0 1.15"/>
<linearGradient id="t517" href="#yg" gradientUnits="userSpaceOnUse" x1="587.2" y1="1189.4" x2="656.0" y2="1180.9"/>
<path d="M587.2 1189.4L621.6 1190.0L656.0 1180.9" stroke="url(#t517)" stroke-dasharray="0 2.26"/>
<linearGradient id="t518" href="#yg" gradientUnits="userSpaceOnUse" x1="215.7" y1="1212.8" x2="380.0" y2="1208.7"/>
<path d="M215.7 1212.8L297.9 1210.9L380.0 1208.7" stroke="url(#t518)" stroke-dasharray="0 5.30"/>
<linearGradient id="t519" href="#yg" gradientUnits="userSpaceOnUse" x1="214.8" y1="1201.8" x2="347.4" y2="1201.4"/>
<path d="M214.8 1201.8L281.1 1197.2L347.4 1201.4" stroke="url(#t519)" stroke-dasharray="0 4.29"/>
<linearGradient id="t520" href="#yg" gradientUnits="userSpaceOnUse" x1="285.3" y1="1197.2" x2="440.8" y2="1185.1"/>
<path d="M285.3 1197.2L363.1 1192.2L440.8 1185.1" stroke="url(#t520)" stroke-dasharray="0 5.03"/>
<linearGradient id="t521" href="#yg" gradientUnits="userSpaceOnUse" x1="577.6" y1="1179.9" x2="652.5" y2="1172.9"/>
<path d="M577.6 1179.9L615.1 1177.0L652.5 1172.9" stroke="url(#t521)" stroke-dasharray="0 2.43"/>
<linearGradient id="t522" href="#yg" gradientUnits="userSpaceOnUse" x1="208.5" y1="1217.6" x2="369.1" y2="1216.2"/>
<path d="M208.5 1217.6L288.8 1215.0L369.1 1216.2" stroke="url(#t522)" stroke-dasharray="0 5.18"/>
<linearGradient id="t523" href="#yg" gradientUnits="userSpaceOnUse" x1="325.3" y1="1183.2" x2="422.7" y2="1174.8"/>
<path d="M325.3 1183.2L374.0 1180.4L422.7 1174.8" stroke="url(#t523)" stroke-dasharray="0 3.15"/>
<linearGradient id="t524" href="#yg" gradientUnits="userSpaceOnUse" x1="323.5" y1="1227.9" x2="473.2" y2="1214.4"/>
<path d="M323.5 1227.9L398.4 1221.3L473.2 1214.4" stroke="url(#t524)" stroke-dasharray="0 4.85"/>
<linearGradient id="t525" href="#yg" gradientUnits="userSpaceOnUse" x1="211.7" y1="1210.1" x2="315.3" y2="1202.5"/>
<path d="M211.7 1210.1L263.5 1207.6L315.3 1202.5" stroke="url(#t525)" stroke-dasharray="0 3.35"/>
<linearGradient id="t526" href="#yg" gradientUnits="userSpaceOnUse" x1="497.4" y1="1190.8" x2="646.1" y2="1169.8"/>
<path d="M497.4 1190.8L571.8 1183.2L646.1 1169.8" stroke="url(#t526)" stroke-dasharray="0 4.85"/>
<linearGradient id="t527" href="#yg" gradientUnits="userSpaceOnUse" x1="175.1" y1="1217.1" x2="339.8" y2="1202.6"/>
<path d="M175.1 1217.1L257.4 1214.2L339.8 1202.6" stroke="url(#t527)" stroke-dasharray="0 5.34"/>
<linearGradient id="t528" href="#yg" gradientUnits="userSpaceOnUse" x1="239.6" y1="1219.6" x2="347.3" y2="1209.4"/>
<path d="M239.6 1219.6L293.5 1212.5L347.3 1209.4" stroke="url(#t528)" stroke-dasharray="0 3.49"/>
<linearGradient id="t529" href="#yg" gradientUnits="userSpaceOnUse" x1="349.4" y1="1162.9" x2="473.2" y2="1160.5"/>
<path d="M349.4 1162.9L411.3 1157.7L473.2 1160.5" stroke="url(#t529)" stroke-dasharray="0 4.00"/>
<linearGradient id="t530" href="#yg" gradientUnits="userSpaceOnUse" x1="247.8" y1="1195.1" x2="372.9" y2="1193.2"/>
<path d="M247.8 1195.1L310.3 1192.5L372.9 1193.2" stroke="url(#t530)" stroke-dasharray="0 4.04"/>
<linearGradient id="t531" href="#yg" gradientUnits="userSpaceOnUse" x1="470.9" y1="1221.4" x2="580.4" y2="1207.3"/>
<path d="M470.9 1221.4L525.7 1213.2L580.4 1207.3" stroke="url(#t531)" stroke-dasharray="0 3.56"/>
<linearGradient id="t532" href="#yg" gradientUnits="userSpaceOnUse" x1="241.8" y1="1217.5" x2="367.0" y2="1203.1"/>
<path d="M241.8 1217.5L304.4 1211.5L367.0 1203.1" stroke="url(#t532)" stroke-dasharray="0 4.07"/>
<linearGradient id="t533" href="#yg" gradientUnits="userSpaceOnUse" x1="450.5" y1="1157.3" x2="586.1" y2="1154.8"/>
<path d="M450.5 1157.3L518.3 1158.9L586.1 1154.8" stroke="url(#t533)" stroke-dasharray="0 4.38"/>
<linearGradient id="t534" href="#yg" gradientUnits="userSpaceOnUse" x1="312.5" y1="1191.5" x2="469.0" y2="1177.2"/>
<path d="M312.5 1191.5L390.8 1185.6L469.0 1177.2" stroke="url(#t534)" stroke-dasharray="0 5.07"/>
<linearGradient id="t535" href="#yg" gradientUnits="userSpaceOnUse" x1="349.2" y1="1179.0" x2="511.4" y2="1167.7"/>
<path d="M349.2 1179.0L430.3 1171.5L511.4 1167.7" stroke="url(#t535)" stroke-dasharray="0 5.25"/>
<linearGradient id="t536" href="#yg" gradientUnits="userSpaceOnUse" x1="425.4" y1="1174.2" x2="567.5" y2="1163.3"/>
<path d="M425.4 1174.2L496.4 1169.8L567.5 1163.3" stroke="url(#t536)" stroke-dasharray="0 4.60"/>
<linearGradient id="t537" href="#yg" gradientUnits="userSpaceOnUse" x1="387.1" y1="1162.6" x2="533.7" y2="1160.9"/>
<path d="M387.1 1162.6L460.4 1160.8L533.7 1160.9" stroke="url(#t537)" stroke-dasharray="0 4.73"/>
<linearGradient id="t538" href="#yg" gradientUnits="userSpaceOnUse" x1="596.7" y1="1248.2" x2="669.3" y2="1216.1"/>
<path d="M596.7 1248.2L633.0 1233.7L669.3 1216.1" stroke="url(#t538)" stroke-dasharray="0 2.56"/>
<linearGradient id="t539" href="#yg" gradientUnits="userSpaceOnUse" x1="284.8" y1="1198.1" x2="428.5" y2="1196.9"/>
<path d="M284.8 1198.1L356.6 1201.5L428.5 1196.9" stroke="url(#t539)" stroke-dasharray="0 4.64"/>
<linearGradient id="t540" href="#yg" gradientUnits="userSpaceOnUse" x1="395.8" y1="1217.8" x2="523.5" y2="1190.3"/>
<path d="M395.8 1217.8L459.7 1204.0L523.5 1190.3" stroke="url(#t540)" stroke-dasharray="0 4.22"/>
<linearGradient id="t541" href="#yg" gradientUnits="userSpaceOnUse" x1="547.3" y1="1216.2" x2="666.1" y2="1204.5"/>
<path d="M547.3 1216.2L606.7 1214.8L666.1 1204.5" stroke="url(#t541)" stroke-dasharray="0 3.86"/>
<linearGradient id="t542" href="#yg" gradientUnits="userSpaceOnUse" x1="474.2" y1="1180.0" x2="577.7" y2="1164.7"/>
<path d="M474.2 1180.0L526.0 1175.3L577.7 1164.7" stroke="url(#t542)" stroke-dasharray="0 3.38"/>
<linearGradient id="t543" href="#yg" gradientUnits="userSpaceOnUse" x1="380.4" y1="1195.7" x2="538.2" y2="1174.9"/>
<path d="M380.4 1195.7L459.3 1183.9L538.2 1174.9" stroke="url(#t543)" stroke-dasharray="0 5.13"/>
<linearGradient id="t544" href="#yg" gradientUnits="userSpaceOnUse" x1="567.8" y1="1185.5" x2="656.0" y2="1179.8"/>
<path d="M567.8 1185.5L611.9 1178.1L656.0 1179.8" stroke="url(#t544)" stroke-dasharray="0 2.87"/>
<linearGradient id="t545" href="#yg" gradientUnits="userSpaceOnUse" x1="571.3" y1="1182.6" x2="639.3" y2="1175.2"/>
<path d="M571.3 1182.6L605.3 1179.5L639.3 1175.2" stroke="url(#t545)" stroke-dasharray="0 2.21"/>
<linearGradient id="t546" href="#yg" gradientUnits="userSpaceOnUse" x1="290.0" y1="1249.9" x2="449.2" y2="1238.1"/>
<path d="M290.0 1249.9L369.6 1249.0L449.2 1238.1" stroke="url(#t546)" stroke-dasharray="0 5.16"/>
<linearGradient id="t547" href="#yg" gradientUnits="userSpaceOnUse" x1="333.3" y1="1205.7" x2="441.3" y2="1191.6"/>
<path d="M333.3 1205.7L387.3 1197.0L441.3 1191.6" stroke="url(#t547)" stroke-dasharray="0 3.51"/>
<linearGradient id="t548" href="#yg" gradientUnits="userSpaceOnUse" x1="229.3" y1="1213.6" x2="320.4" y2="1213.0"/>
<path d="M229.3 1213.6L274.9 1216.7L320.4 1213.0" stroke="url(#t548)" stroke-dasharray="0 2.95"/>
<linearGradient id="t549" href="#yg" gradientUnits="userSpaceOnUse" x1="386.0" y1="1163.6" x2="485.5" y2="1163.1"/>
<path d="M386.0 1163.6L435.8 1163.2L485.5 1163.1" stroke="url(#t549)" stroke-dasharray="0 3.21"/>
<linearGradient id="t550" href="#yg" gradientUnits="userSpaceOnUse" x1="168.4" y1="1215.8" x2="268.6" y2="1215.6"/>
<path d="M168.4 1215.8L218.5 1215.2L268.6 1215.6" stroke="url(#t550)" stroke-dasharray="0 3.23"/>
<linearGradient id="t551" href="#yg" gradientUnits="userSpaceOnUse" x1="487.0" y1="1216.6" x2="618.0" y2="1208.8"/>
<path d="M487.0 1216.6L552.5 1212.7L618.0 1208.8" stroke="url(#t551)" stroke-dasharray="0 4.23"/>
<linearGradient id="t552" href="#yg" gradientUnits="userSpaceOnUse" x1="464.1" y1="1168.5" x2="598.0" y2="1168.1"/>
<path d="M464.1 1168.5L531.1 1169.7L598.0 1168.1" stroke="url(#t552)" stroke-dasharray="0 4.32"/>
<linearGradient id="t553" href="#yg" gradientUnits="userSpaceOnUse" x1="363.2" y1="1235.4" x2="525.7" y2="1222.4"/>
<path d="M363.2 1235.4L444.4 1228.5L525.7 1222.4" stroke="url(#t553)" stroke-dasharray="0 5.26"/>
<linearGradient id="t554" href="#yg" gradientUnits="userSpaceOnUse" x1="594.2" y1="1235.8" x2="678.6" y2="1218.8"/>
<path d="M594.2 1235.8L636.4 1224.8L678.6 1218.8" stroke="url(#t554)" stroke-dasharray="0 2.78"/>
<linearGradient id="t555" href="#yg" gradientUnits="userSpaceOnUse" x1="473.8" y1="1218.1" x2="573.9" y2="1191.9"/>
<path d="M473.8 1218.1L523.8 1202.0L573.9 1191.9" stroke="url(#t555)" stroke-dasharray="0 3.34"/>
<linearGradient id="t556" href="#yg" gradientUnits="userSpaceOnUse" x1="543.7" y1="1224.1" x2="638.3" y2="1222.1"/>
<path d="M543.7 1224.1L591.0 1225.9L638.3 1222.1" stroke="url(#t556)" stroke-dasharray="0 3.06"/>
<linearGradient id="t557" href="#yg" gradientUnits="userSpaceOnUse" x1="591.5" y1="1233.8" x2="678.2" y2="1219.7"/>
<path d="M591.5 1233.8L634.9 1230.0L678.2 1219.7" stroke="url(#t557)" stroke-dasharray="0 2.84"/>
<linearGradient id="t558" href="#yg" gradientUnits="userSpaceOnUse" x1="558.7" y1="1255.4" x2="655.3" y2="1241.2"/>
<path d="M558.7 1255.4L607.0 1249.0L655.3 1241.2" stroke="url(#t558)" stroke-dasharray="0 3.15"/>
<linearGradient id="t559" href="#yg" gradientUnits="userSpaceOnUse" x1="562.6" y1="1244.5" x2="664.5" y2="1195.6"/>
<path d="M562.6 1244.5L613.5 1221.4L664.5 1195.6" stroke="url(#t559)" stroke-dasharray="0 3.65"/>
<linearGradient id="t560" href="#yg" gradientUnits="userSpaceOnUse" x1="509.0" y1="1188.3" x2="608.8" y2="1159.7"/>
<path d="M509.0 1188.3L558.9 1174.7L608.8 1159.7" stroke="url(#t560)" stroke-dasharray="0 3.35"/>
<linearGradient id="t561" href="#yg" gradientUnits="userSpaceOnUse" x1="468.6" y1="1219.6" x2="600.1" y2="1202.3"/>
<path d="M468.6 1219.6L534.3 1210.9L600.1 1202.3" stroke="url(#t561)" stroke-dasharray="0 4.28"/>
<linearGradient id="t562" href="#yg" gradientUnits="userSpaceOnUse" x1="357.3" y1="1197.5" x2="452.1" y2="1189.9"/>
<path d="M357.3 1197.5L404.7 1191.2L452.1 1189.9" stroke="url(#t562)" stroke-dasharray="0 3.07"/>
<linearGradient id="t563" href="#yg" gradientUnits="userSpaceOnUse" x1="421.1" y1="1193.1" x2="583.1" y2="1174.6"/>
<path d="M421.1 1193.1L502.1 1183.8L583.1 1174.6" stroke="url(#t563)" stroke-dasharray="0 5.26"/>
<linearGradient id="t564" href="#yg" gradientUnits="userSpaceOnUse" x1="415.1" y1="1231.1" x2="505.5" y2="1211.3"/>
<path d="M415.1 1231.1L460.3 1220.6L505.5 1211.3" stroke="url(#t564)" stroke-dasharray="0 2.99"/>
<linearGradient id="t565" href="#yg" gradientUnits="userSpaceOnUse" x1="302.4" y1="1217.6" x2="393.9" y2="1211.5"/>
<path d="M302.4 1217.6L348.1 1212.2L393.9 1211.5" stroke="url(#t565)" stroke-dasharray="0 2.96"/>
<linearGradient id="t566" href="#yg" gradientUnits="userSpaceOnUse" x1="287.0" y1="1192.7" x2="444.3" y2="1184.0"/>
<path d="M287.0 1192.7L365.6 1185.2L444.3 1184.0" stroke="url(#t566)" stroke-dasharray="0 5.09"/>
<linearGradient id="t567" href="#yg" gradientUnits="userSpaceOnUse" x1="317.9" y1="1190.1" x2="464.4" y2="1184.6"/>
<path d="M317.9 1190.1L391.2 1190.4L464.4 1184.6" stroke="url(#t567)" stroke-dasharray="0 4.73"/>
<linearGradient id="t568" href="#yg" gradientUnits="userSpaceOnUse" x1="406.1" y1="1176.2" x2="529.6" y2="1170.3"/>
<path d="M406.1 1176.2L467.9 1170.9L529.6 1170.3" stroke="url(#t568)" stroke-dasharray="0 3.99"/>
<linearGradient id="t569" href="#yg" gradientUnits="userSpaceOnUse" x1="391.5" y1="1187.7" x2="499.5" y2="1181.4"/>
<path d="M391.5 1187.7L445.5 1188.2L499.5 1181.4" stroke="url(#t569)" stroke-dasharray="0 3.50"/>
<linearGradient id="t570" href="#yg" gradientUnits="userSpaceOnUse" x1="320.5" y1="1193.9" x2="458.3" y2="1182.0"/>
<path d="M320.5 1193.9L389.4 1185.1L458.3 1182.0" stroke="url(#t570)" stroke-dasharray="0 4.47"/>
<linearGradient id="t571" href="#yg" gradientUnits="userSpaceOnUse" x1="170.6" y1="1217.9" x2="263.0" y2="1210.3"/>
<path d="M170.6 1217.9L216.8 1209.7L263.0 1210.3" stroke="url(#t571)" stroke-dasharray="0 3.00"/>
<linearGradient id="t572" href="#yg" gradientUnits="userSpaceOnUse" x1="442.4" y1="1222.0" x2="535.2" y2="1194.7"/>
<path d="M442.4 1222.0L488.8 1210.2L535.2 1194.7" stroke="url(#t572)" stroke-dasharray="0 3.12"/>
<linearGradient id="t573" href="#yg" gradientUnits="userSpaceOnUse" x1="417.6" y1="1159.5" x2="511.1" y2="1156.9"/>
<path d="M417.6 1159.5L464.3 1155.2L511.1 1156.9" stroke="url(#t573)" stroke-dasharray="0 3.02"/>
<linearGradient id="t574" href="#yg" gradientUnits="userSpaceOnUse" x1="578.4" y1="1182.4" x2="655.5" y2="1175.0"/>
<path d="M578.4 1182.4L617.0 1177.2L655.5 1175.0" stroke="url(#t574)" stroke-dasharray="0 2.50"/>
<linearGradient id="t575" href="#yg" gradientUnits="userSpaceOnUse" x1="337.5" y1="1209.5" x2="451.6" y2="1194.0"/>
<path d="M337.5 1209.5L394.5 1206.6L451.6 1194.0" stroke="url(#t575)" stroke-dasharray="0 3.73"/>
<linearGradient id="t576" href="#yg" gradientUnits="userSpaceOnUse" x1="587.0" y1="1232.2" x2="673.9" y2="1200.1"/>
<path d="M587.0 1232.2L630.5 1218.3L673.9 1200.1" stroke="url(#t576)" stroke-dasharray="0 2.99"/>
<linearGradient id="t577" href="#yg" gradientUnits="userSpaceOnUse" x1="192.7" y1="1219.5" x2="291.7" y2="1212.1"/>
<path d="M192.7 1219.5L242.2 1214.5L291.7 1212.1" stroke="url(#t577)" stroke-dasharray="0 3.20"/>
<linearGradient id="t578" href="#yg" gradientUnits="userSpaceOnUse" x1="356.1" y1="1174.8" x2="450.6" y2="1169.9"/>
<path d="M356.1 1174.8L403.4 1173.9L450.6 1169.9" stroke="url(#t578)" stroke-dasharray="0 3.06"/>
<linearGradient id="t579" href="#yg" gradientUnits="userSpaceOnUse" x1="333.3" y1="1162.1" x2="441.2" y2="1160.5"/>
<path d="M333.3 1162.1L387.3 1157.7L441.2 1160.5" stroke="url(#t579)" stroke-dasharray="0 3.49"/>
<linearGradient id="t580" href="#yg" gradientUnits="userSpaceOnUse" x1="562.9" y1="1159.8" x2="618.0" y2="1158.5"/>
<path d="M562.9 1159.8L590.4 1154.9L618.0 1158.5" stroke="url(#t580)" stroke-dasharray="0 1.80"/>
<linearGradient id="t581" href="#yg" gradientUnits="userSpaceOnUse" x1="212.1" y1="1207.1" x2="305.3" y2="1202.5"/>
<path d="M212.1 1207.1L258.7 1204.6L305.3 1202.5" stroke="url(#t581)" stroke-dasharray="0 3.01"/>
<linearGradient id="t582" href="#yg" gradientUnits="userSpaceOnUse" x1="359.0" y1="1244.7" x2="491.0" y2="1226.3"/>
<path d="M359.0 1244.7L425.0 1238.4L491.0 1226.3" stroke="url(#t582)" stroke-dasharray="0 4.30"/>
<linearGradient id="t583" href="#yg" gradientUnits="userSpaceOnUse" x1="417.8" y1="1189.2" x2="543.0" y2="1186.4"/>
<path d="M417.8 1189.2L480.4 1189.5L543.0 1186.4" stroke="url(#t583)" stroke-dasharray="0 4.04"/>
<linearGradient id="t584" href="#yg" gradientUnits="userSpaceOnUse" x1="396.0" y1="1169.5" x2="548.9" y2="1160.0"/>
<path d="M396.0 1169.5L472.5 1169.0L548.9 1160.0" stroke="url(#t584)" stroke-dasharray="0 4.95"/>
<linearGradient id="t585" href="#yg" gradientUnits="userSpaceOnUse" x1="292.7" y1="1234.3" x2="407.4" y2="1219.2"/>
<path d="M292.7 1234.3L350.0 1223.9L407.4 1219.2" stroke="url(#t585)" stroke-dasharray="0 3.74"/>
<linearGradient id="t586" href="#yg" gradientUnits="userSpaceOnUse" x1="493.5" y1="1199.6" x2="609.0" y2="1156.5"/>
<path d="M493.5 1199.6L551.3 1182.1L609.0 1156.5" stroke="url(#t586)" stroke-dasharray="0 3.98"/>
<linearGradient id="t587" href="#yg" gradientUnits="userSpaceOnUse" x1="586.1" y1="1211.8" x2="662.4" y2="1187.9"/>
<path d="M586.1 1211.8L624.3 1195.3L662.4 1187.9" stroke="url(#t587)" stroke-dasharray="0 2.60"/>
<linearGradient id="t588" href="#yg" gradientUnits="userSpaceOnUse" x1="569.9" y1="1206.5" x2="640.9" y2="1178.0"/>
<path d="M569.9 1206.5L605.4 1195.9L640.9 1178.0" stroke="url(#t588)" stroke-dasharray="0 2.48"/>
<linearGradient id="t589" href="#yg" gradientUnits="userSpaceOnUse" x1="345.4" y1="1179.1" x2="495.8" y2="1167.4"/>
<path d="M345.4 1179.1L420.6 1173.7L495.8 1167.4" stroke="url(#t589)" stroke-dasharray="0 4.87"/>
<linearGradient id="t590" href="#yg" gradientUnits="userSpaceOnUse" x1="468.6" y1="1245.2" x2="615.7" y2="1215.1"/>
<path d="M468.6 1245.2L542.1 1227.1L615.7 1215.1" stroke="url(#t590)" stroke-dasharray="0 4.85"/>
<linearGradient id="t591" href="#yg" gradientUnits="userSpaceOnUse" x1="410.3" y1="1237.1" x2="541.1" y2="1228.7"/>
<path d="M410.3 1237.1L475.7 1233.1L541.1 1228.7" stroke="url(#t591)" stroke-dasharray="0 4.23"/>
<linearGradient id="t592" href="#yg" gradientUnits="userSpaceOnUse" x1="391.4" y1="1200.2" x2="520.8" y2="1182.1"/>
<path d="M391.4 1200.2L456.1 1192.1L520.8 1182.1" stroke="url(#t592)" stroke-dasharray="0 4.21"/>
<linearGradient id="t593" href="#yg" gradientUnits="userSpaceOnUse" x1="479.8" y1="1177.6" x2="589.7" y2="1167.3"/>
<path d="M479.8 1177.6L534.8 1172.3L589.7 1167.3" stroke="url(#t593)" stroke-dasharray="0 3.56"/>
<linearGradient id="t594" href="#yg" gradientUnits="userSpaceOnUse" x1="540.3" y1="1245.8" x2="674.6" y2="1215.4"/>
<path d="M540.3 1245.8L607.5 1229.1L674.6 1215.4" stroke="url(#t594)" stroke-dasharray="0 4.44"/>
<linearGradient id="t595" href="#yg" gradientUnits="userSpaceOnUse" x1="523.1" y1="1170.8" x2="612.7" y2="1156.1"/>
<path d="M523.1 1170.8L567.9 1165.6L612.7 1156.1" stroke="url(#t595)" stroke-dasharray="0 2.93"/>
<linearGradient id="t596" href="#yg" gradientUnits="userSpaceOnUse" x1="283.0" y1="1179.8" x2="421.3" y2="1176.6"/>
<path d="M283.0 1179.8L352.2 1180.9L421.3 1176.6" stroke="url(#t596)" stroke-dasharray="0 4.47"/>
<linearGradient id="t597" href="#yg" gradientUnits="userSpaceOnUse" x1="594.3" y1="1229.4" x2="642.8" y2="1210.8"/>
<path d="M594.3 1229.4L618.5 1215.3L642.8 1210.8" stroke="url(#t597)" stroke-dasharray="0 1.70"/>
<linearGradient id="t598" href="#yg" gradientUnits="userSpaceOnUse" x1="327.4" y1="1246.8" x2="422.3" y2="1242.9"/>
<path d="M327.4 1246.8L374.8 1249.2L422.3 1242.9" stroke="url(#t598)" stroke-dasharray="0 3.08"/>
<linearGradient id="t599" href="#yg" gradientUnits="userSpaceOnUse" x1="484.3" y1="1163.1" x2="618.4" y2="1159.1"/>
<path d="M484.3 1163.1L551.3 1163.7L618.4 1159.1" stroke="url(#t599)" stroke-dasharray="0 4.33"/>
<linearGradient id="t600" href="#yg" gradientUnits="userSpaceOnUse" x1="194.5" y1="1215.2" x2="290.8" y2="1209.6"/>
<path d="M194.5 1215.2L242.7 1214.0L290.8 1209.6" stroke="url(#t600)" stroke-dasharray="0 3.11"/>
<linearGradient id="t601" href="#yg" gradientUnits="userSpaceOnUse" x1="502.3" y1="1247.5" x2="632.1" y2="1196.5"/>
<path d="M502.3 1247.5L567.2 1223.3L632.1 1196.5" stroke="url(#t601)" stroke-dasharray="0 4.50"/>
<linearGradient id="t602" href="#yg" gradientUnits="userSpaceOnUse" x1="575.6" y1="1158.2" x2="612.9" y2="1156.6"/>
<path d="M575.6 1158.2L594.2 1157.4L612.9 1156.6" stroke="url(#t602)" stroke-dasharray="0 1.20"/>
<linearGradient id="t603" href="#yg" gradientUnits="userSpaceOnUse" x1="341.1" y1="1243.6" x2="441.0" y2="1234.8"/>
<path d="M341.1 1243.6L391.0 1239.7L441.0 1234.8" stroke="url(#t603)" stroke-dasharray="0 3.24"/>
<linearGradient id="t604" href="#yg" gradientUnits="userSpaceOnUse" x1="539.6" y1="1194.4" x2="644.9" y2="1171.2"/>
<path d="M539.6 1194.4L592.3 1180.4L644.9 1171.2" stroke="url(#t604)" stroke-dasharray="0 3.48"/>
<linearGradient id="t605" href="#yg" gradientUnits="userSpaceOnUse" x1="541.0" y1="1185.3" x2="648.0" y2="1177.1"/>
<path d="M541.0 1185.3L594.5 1184.3L648.0 1177.1" stroke="url(#t605)" stroke-dasharray="0 3.47"/>
<linearGradient id="t606" href="#yg" gradientUnits="userSpaceOnUse" x1="546.9" y1="1253.6" x2="682.7" y2="1206.7"/>
<path d="M546.9 1253.6L614.8 1232.3L682.7 1206.7" stroke="url(#t606)" stroke-dasharray="0 4.64"/>
<linearGradient id="t607" href="#yg" gradientUnits="userSpaceOnUse" x1="198.0" y1="1214.9" x2="338.8" y2="1204.4"/>
<path d="M198.0 1214.9L268.4 1213.1L338.8 1204.4" stroke="url(#t607)" stroke-dasharray="0 4.56"/>
<linearGradient id="t608" href="#yg" gradientUnits="userSpaceOnUse" x1="280.0" y1="1197.9" x2="391.3" y2="1191.8"/>
<path d="M280.0 1197.9L335.6 1195.3L391.3 1191.8" stroke="url(#t608)" stroke-dasharray="0 3.60"/>
<linearGradient id="t609" href="#yg" gradientUnits="userSpaceOnUse" x1="307.4" y1="1176.7" x2="456.5" y2="1173.7"/>
<path d="M307.4 1176.7L381.9 1175.1L456.5 1173.7" stroke="url(#t609)" stroke-dasharray="0 4.81"/>
<linearGradient id="t610" href="#yg" gradientUnits="userSpaceOnUse" x1="249.6" y1="1219.5" x2="343.5" y2="1218.2"/>
<path d="M249.6 1219.5L296.6 1218.1L343.5 1218.2" stroke="url(#t610)" stroke-dasharray="0 3.03"/>
<linearGradient id="t611" href="#yg" gradientUnits="userSpaceOnUse" x1="401.7" y1="1238.0" x2="559.6" y2="1222.0"/>
<path d="M401.7 1238.0L480.6 1233.4L559.6 1222.0" stroke="url(#t611)" stroke-dasharray="0 5.13"/>
<linearGradient id="t612" href="#yg" gradientUnits="userSpaceOnUse" x1="496.5" y1="1237.6" x2="630.2" y2="1188.7"/>
<path d="M496.5 1237.6L563.4 1216.7L630.2 1188.7" stroke="url(#t612)" stroke-dasharray="0 4.60"/>
<linearGradient id="t613" href="#yg" gradientUnits="userSpaceOnUse" x1="525.6" y1="1167.7" x2="616.5" y2="1158.9"/>
<path d="M525.6 1167.7L571.1 1167.7L616.5 1158.9" stroke="url(#t613)" stroke-dasharray="0 2.96"/>
<linearGradient id="t614" href="#yg" gradientUnits="userSpaceOnUse" x1="516.2" y1="1211.9" x2="611.9" y2="1201.4"/>
<path d="M516.2 1211.9L564.0 1206.6L611.9 1201.4" stroke="url(#t614)" stroke-dasharray="0 3.11"/>
<linearGradient id="t615" href="#yg" gradientUnits="userSpaceOnUse" x1="490.7" y1="1195.9" x2="609.0" y2="1186.8"/>
<path d="M490.7 1195.9L549.9 1194.7L609.0 1186.8" stroke="url(#t615)" stroke-dasharray="0 3.83"/>
<linearGradient id="t616" href="#yg" gradientUnits="userSpaceOnUse" x1="342.3" y1="1193.3" x2="506.6" y2="1174.1"/>
<path d="M342.3 1193.3L424.4 1186.5L506.6 1174.1" stroke="url(#t616)" stroke-dasharray="0 5.34"/>
<linearGradient id="t617" href="#yg" gradientUnits="userSpaceOnUse" x1="390.5" y1="1236.7" x2="533.8" y2="1216.8"/>
<path d="M390.5 1236.7L462.1 1223.4L533.8 1216.8" stroke="url(#t617)" stroke-dasharray="0 4.67"/>
<linearGradient id="t618" href="#yg" gradientUnits="userSpaceOnUse" x1="228.9" y1="1194.1" x2="358.7" y2="1193.9"/>
<path d="M228.9 1194.1L293.8 1193.2L358.7 1193.9" stroke="url(#t618)" stroke-dasharray="0 4.19"/>
<linearGradient id="t619" href="#yg" gradientUnits="userSpaceOnUse" x1="491.4" y1="1183.2" x2="589.0" y2="1176.6"/>
<path d="M491.4 1183.2L540.2 1176.4L589.0 1176.6" stroke="url(#t619)" stroke-dasharray="0 3.17"/>
<linearGradient id="t620" href="#yg" gradientUnits="userSpaceOnUse" x1="187.3" y1="1213.8" x2="348.6" y2="1201.4"/>
<path d="M187.3 1213.8L267.9 1202.7L348.6 1201.4" stroke="url(#t620)" stroke-dasharray="0 5.23"/>
<linearGradient id="t621" href="#yg" gradientUnits="userSpaceOnUse" x1="558.5" y1="1202.8" x2="658.1" y2="1182.0"/>
<path d="M558.5 1202.8L608.3 1196.6L658.1 1182.0" stroke="url(#t621)" stroke-dasharray="0 3.29"/>
<linearGradient id="t622" href="#yg" gradientUnits="userSpaceOnUse" x1="440.9" y1="1240.2" x2="570.6" y2="1198.9"/>
<path d="M440.9 1240.2L505.8 1217.7L570.6 1198.9" stroke="url(#t622)" stroke-dasharray="0 4.39"/>
<linearGradient id="t623" href="#yg" gradientUnits="userSpaceOnUse" x1="482.9" y1="1214.3" x2="613.0" y2="1164.7"/>
<path d="M482.9 1214.3L548.0 1192.4L613.0 1164.7" stroke="url(#t623)" stroke-dasharray="0 4.49"/>
<linearGradient id="t624" href="#yg" gradientUnits="userSpaceOnUse" x1="203.7" y1="1203.8" x2="361.0" y2="1202.2"/>
<path d="M203.7 1203.8L282.4 1207.5L361.0 1202.2" stroke="url(#t624)" stroke-dasharray="0 5.08"/>
<linearGradient id="t625" href="#yg" gradientUnits="userSpaceOnUse" x1="447.6" y1="1187.3" x2="611.8" y2="1158.0"/>
<path d="M447.6 1187.3L529.7 1176.4L611.8 1158.0" stroke="url(#t625)" stroke-dasharray="0 5.39"/>
<linearGradient id="t626" href="#yg" gradientUnits="userSpaceOnUse" x1="360.3" y1="1161.9" x2="506.2" y2="1157.8"/>
<path d="M360.3 1161.9L433.3 1155.6L506.2 1157.8" stroke="url(#t626)" stroke-dasharray="0 4.72"/>
<linearGradient id="t627" href="#yg" gradientUnits="userSpaceOnUse" x1="262.7" y1="1209.1" x2="386.7" y2="1200.0"/>
<path d="M262.7 1209.1L324.7 1209.1L386.7 1200.0" stroke="url(#t627)" stroke-dasharray="0 4.02"/>
<linearGradient id="t628" href="#yg" gradientUnits="userSpaceOnUse" x1="196.0" y1="1218.3" x2="308.7" y2="1208.9"/>
<path d="M196.0 1218.3L252.3 1209.8L308.7 1208.9" stroke="url(#t628)" stroke-dasharray="0 3.66"/>
<linearGradient id="t629" href="#yg" gradientUnits="userSpaceOnUse" x1="164.6" y1="1218.1" x2="329.0" y2="1214.0"/>
<path d="M164.6 1218.1L246.8 1214.4L329.0 1214.0" stroke="url(#t629)" stroke-dasharray="0 5.30"/>
<linearGradient id="t630" href="#yg" gradientUnits="userSpaceOnUse" x1="504.8" y1="1177.6" x2="619.8" y2="1167.7"/>
<path d="M504.8 1177.6L562.3 1170.0L619.8 1167.7" stroke="url(#t630)" stroke-dasharray="0 3.73"/>
<linearGradient id="t631" href="#yg" gradientUnits="userSpaceOnUse" x1="421.7" y1="1174.8" x2="528.5" y2="1171.5"/>
<path d="M421.7 1174.8L475.1 1173.0L528.5 1171.5" stroke="url(#t631)" stroke-dasharray="0 3.45"/>
<linearGradient id="t632" href="#yg" gradientUnits="userSpaceOnUse" x1="526.2" y1="1232.4" x2="647.8" y2="1210.3"/>
<path d="M526.2 1232.4L587.0 1225.5L647.8 1210.3" stroke="url(#t632)" stroke-dasharray="0 4.00"/>
<linearGradient id="t633" href="#yg" gradientUnits="userSpaceOnUse" x1="388.4" y1="1206.6" x2="526.4" y2="1184.9"/>
<path d="M388.4 1206.6L457.4 1197.8L526.4 1184.9" stroke="url(#t633)" stroke-dasharray="0 4.51"/>
<linearGradient id="t634" href="#yg" gradientUnits="userSpaceOnUse" x1="332.6" y1="1182.9" x2="472.6" y2="1174.8"/>
<path d="M332.6 1182.9L402.6 1177.2L472.6 1174.8" stroke="url(#t634)" stroke-dasharray="0 4.53"/>
<linearGradient id="t635" href="#yg" gradientUnits="userSpaceOnUse" x1="185.0" y1="1208.5" x2="332.2" y2="1206.5"/>
<path d="M185.0 1208.5L258.6 1210.0L332.2 1206.5" stroke="url(#t635)" stroke-dasharray="0 4.75"/>
<linearGradient id="t636" href="#yg" gradientUnits="userSpaceOnUse" x1="231.5" y1="1227.5" x2="386.5" y2="1226.5"/>
<path d="M231.5 1227.5L309.0 1224.5L386.5 1226.5" stroke="url(#t636)" stroke-dasharray="0 5.00"/>
<linearGradient id="t637" href="#yg" gradientUnits="userSpaceOnUse" x1="240.7" y1="1234.7" x2="357.5" y2="1232.6"/>
<path d="M240.7 1234.7L299.1 1237.5L357.5 1232.6" stroke="url(#t637)" stroke-dasharray="0 3.78"/>
<linearGradient id="t638" href="#yg" gradientUnits="userSpaceOnUse" x1="372.2" y1="1188.0" x2="517.0" y2="1176.2"/>
<path d="M372.2 1188.0L444.6 1184.2L517.0 1176.2" stroke="url(#t638)" stroke-dasharray="0 4.69"/>
<linearGradient id="t639" href="#yg" gradientUnits="userSpaceOnUse" x1="332.9" y1="1227.1" x2="492.2" y2="1214.8"/>
<path d="M332.9 1227.1L412.5 1223.2L492.2 1214.8" stroke="url(#t639)" stroke-dasharray="0 5.15"/>
<linearGradient id="t640" href="#yg" gradientUnits="userSpaceOnUse" x1="248.9" y1="1198.1" x2="386.3" y2="1192.2"/>
<path d="M248.9 1198.1L317.6 1198.9L386.3 1192.2" stroke="url(#t640)" stroke-dasharray="0 4.44"/>
<linearGradient id="t641" href="#yg" gradientUnits="userSpaceOnUse" x1="489.3" y1="1244.6" x2="583.0" y2="1231.5"/>
<path d="M489.3 1244.6L536.2 1235.5L583.0 1231.5" stroke="url(#t641)" stroke-dasharray="0 3.06"/>
<linearGradient id="t642" href="#yg" gradientUnits="userSpaceOnUse" x1="470.3" y1="1238.3" x2="579.1" y2="1217.2"/>
<path d="M470.3 1238.3L524.7 1230.9L579.1 1217.2" stroke="url(#t642)" stroke-dasharray="0 3.58"/>
<linearGradient id="t643" href="#yg" gradientUnits="userSpaceOnUse" x1="160.2" y1="1218.7" x2="266.0" y2="1212.7"/>
<path d="M160.2 1218.7L213.1 1213.4L266.0 1212.7" stroke="url(#t643)" stroke-dasharray="0 3.42"/>
<linearGradient id="t644" href="#yg" gradientUnits="userSpaceOnUse" x1="428.9" y1="1250.8" x2="523.3" y2="1232.7"/>
<path d="M428.9 1250.8L476.1 1242.3L523.3 1232.7" stroke="url(#t644)" stroke-dasharray="0 3.10"/>
<linearGradient id="t645" href="#yg" gradientUnits="userSpaceOnUse" x1="329.2" y1="1216.4" x2="436.5" y2="1202.5"/>
<path d="M329.2 1216.4L382.9 1210.4L436.5 1202.5" stroke="url(#t645)" stroke-dasharray="0 3.49"/>
<linearGradient id="t646" href="#yg" gradientUnits="userSpaceOnUse" x1="402.7" y1="1214.9" x2="531.3" y2="1207.2"/>
<path d="M402.7 1214.9L467.0 1207.0L531.3 1207.2" stroke="url(#t646)" stroke-dasharray="0 4.16"/>
<linearGradient id="t647" href="#yg" gradientUnits="userSpaceOnUse" x1="269.8" y1="1236.5" x2="374.0" y2="1224.2"/>
<path d="M269.8 1236.5L321.9 1226.4L374.0 1224.2" stroke="url(#t647)" stroke-dasharray="0 3.40"/>
<linearGradient id="t648" href="#yg" gradientUnits="userSpaceOnUse" x1="346.9" y1="1196.9" x2="498.4" y2="1182.2"/>
<path d="M346.9 1196.9L422.6 1190.4L498.4 1182.2" stroke="url(#t648)" stroke-dasharray="0 4.91"/>
<linearGradient id="t649" href="#yg" gradientUnits="userSpaceOnUse" x1="389.5" y1="1196.3" x2="536.8" y2="1170.1"/>
<path d="M389.5 1196.3L463.2 1185.3L536.8 1170.1" stroke="url(#t649)" stroke-dasharray="0 4.83"/>
<linearGradient id="t650" href="#yg" gradientUnits="userSpaceOnUse" x1="190.3" y1="1215.2" x2="297.4" y2="1204.3"/>
<path d="M190.3 1215.2L243.8 1207.4L297.4 1204.3" stroke="url(#t650)" stroke-dasharray="0 3.48"/>
<linearGradient id="t651" href="#yg" gradientUnits="userSpaceOnUse" x1="295.8" y1="1256.3" x2="412.8" y2="1252.7"/>
<path d="M295.8 1256.3L354.3 1254.9L412.8 1252.7" stroke="url(#t651)" stroke-dasharray="0 3.78"/>
<linearGradient id="t652" href="#yg" gradientUnits="userSpaceOnUse" x1="490.8" y1="1209.1" x2="603.7" y2="1203.1"/>
<path d="M490.8 1209.1L547.3 1208.1L603.7 1203.1" stroke="url(#t652)" stroke-dasharray="0 3.65"/>
<linearGradient id="t653" href="#yg" gradientUnits="userSpaceOnUse" x1="285.7" y1="1179.7" x2="426.7" y2="1174.3"/>
<path d="M285.7 1179.7L356.2 1178.4L426.7 1174.3" stroke="url(#t653)" stroke-dasharray="0 4.55"/>
<linearGradient id="t654" href="#yg" gradientUnits="userSpaceOnUse" x1="423.9" y1="1181.4" x2="535.2" y2="1174.7"/>
<path d="M423.9 1181.4L479.5 1178.5L535.2 1174.7" stroke="url(#t654)" stroke-dasharray="0 3.60"/>
<linearGradient id="t655" href="#yg" gradientUnits="userSpaceOnUse" x1="198.3" y1="1223.4" x2="313.3" y2="1213.0"/>
<path d="M198.3 1223.4L255.8 1215.0L313.3 1213.0" stroke="url(#t655)" stroke-dasharray="0 3.73"/>
<linearGradient id="t656" href="#yg" gradientUnits="userSpaceOnUse" x1="186.9" y1="1212.4" x2="307.7" y2="1210.3"/>
<path d="M186.9 1212.4L247.3 1207.8L307.7 1210.3" stroke="url(#t656)" stroke-dasharray="0 3.90"/>
<linearGradient id="t657" href="#yg" gradientUnits="userSpaceOnUse" x1="308.8" y1="1198.7" x2="458.1" y2="1189.5"/>
<path d="M308.8 1198.7L383.4 1194.1L458.1 1189.5" stroke="url(#t657)" stroke-dasharray="0 4.82"/>
<linearGradient id="t658" href="#yg" gradientUnits="userSpaceOnUse" x1="273.6" y1="1236.9" x2="432.0" y2="1217.5"/>
<path d="M273.6 1236.9L352.8 1229.9L432.0 1217.5" stroke="url(#t658)" stroke-dasharray="0 5.15"/>
<linearGradient id="t659" href="#yg" gradientUnits="userSpaceOnUse" x1="253.8" y1="1239.2" x2="363.2" y2="1234.7"/>
<path d="M253.8 1239.2L308.5 1237.9L363.2 1234.7" stroke="url(#t659)" stroke-dasharray="0 3.53"/>
<linearGradient id="t660" href="#yg" gradientUnits="userSpaceOnUse" x1="276.5" y1="1183.5" x2="410.6" y2="1180.1"/>
<path d="M276.5 1183.5L343.6 1184.7L410.6 1180.1" stroke="url(#t660)" stroke-dasharray="0 4.33"/>
<linearGradient id="t661" href="#yg" gradientUnits="userSpaceOnUse" x1="240.8" y1="1196.6" x2="372.0" y2="1195.5"/>
<path d="M240.8 1196.6L306.4 1197.9L372.0 1195.5" stroke="url(#t661)" stroke-dasharray="0 4.23"/>
<linearGradient id="t662" href="#yg" gradientUnits="userSpaceOnUse" x1="540.4" y1="1200.7" x2="617.2" y2="1174.8"/>
<path d="M540.4 1200.7L578.8 1183.5L617.2 1174.8" stroke="url(#t662)" stroke-dasharray="0 2.62"/>
<linearGradient id="t663" href="#yg" gradientUnits="userSpaceOnUse" x1="199.6" y1="1206.5" x2="306.6" y2="1205.9"/>
<path d="M199.6 1206.5L253.1 1207.7L306.6 1205.9" stroke="url(#t663)" stroke-dasharray="0 3.45"/>
<linearGradient id="t664" href="#yg" gradientUnits="userSpaceOnUse" x1="239.2" y1="1190.4" x2="340.6" y2="1189.6"/>
<path d="M239.2 1190.4L289.9 1194.1L340.6 1189.6" stroke="url(#t664)" stroke-dasharray="0 3.28"/>
<linearGradient id="t665" href="#yg" gradientUnits="userSpaceOnUse" x1="373.1" y1="1234.3" x2="494.2" y2="1227.2"/>
<path d="M373.1 1234.3L433.6 1235.1L494.2 1227.2" stroke="url(#t665)" stroke-dasharray="0 3.92"/>
<linearGradient id="t666" href="#yg" gradientUnits="userSpaceOnUse" x1="320.2" y1="1254.0" x2="435.4" y2="1245.1"/>
<path d="M320.2 1254.0L377.8 1251.5L435.4 1245.1" stroke="url(#t666)" stroke-dasharray="0 3.73"/>
<linearGradient id="t667" href="#yg" gradientUnits="userSpaceOnUse" x1="249.9" y1="1204.8" x2="371.8" y2="1196.7"/>
<path d="M249.9 1204.8L310.9 1197.5L371.8 1196.7" stroke="url(#t667)" stroke-dasharray="0 3.95"/>
<linearGradient id="t668" href="#yg" gradientUnits="userSpaceOnUse" x1="437.2" y1="1236.2" x2="576.3" y2="1193.4"/>
<path d="M437.2 1236.2L506.7 1214.5L576.3 1193.4" stroke="url(#t668)" stroke-dasharray="0 4.70"/>
<linearGradient id="t669" href="#yg" gradientUnits="userSpaceOnUse" x1="194.5" y1="1206.8" x2="304.0" y2="1203.5"/>
<path d="M194.5 1206.8L249.3 1205.8L304.0 1203.5" stroke="url(#t669)" stroke-dasharray="0 3.54"/>
<linearGradient id="t670" href="#yg" gradientUnits="userSpaceOnUse" x1="536.8" y1="1206.4" x2="667.7" y2="1192.4"/>
<path d="M536.8 1206.4L602.3 1198.6L667.7 1192.4" stroke="url(#t670)" stroke-dasharray="0 4.25"/>
<linearGradient id="t671" href="#yg" gradientUnits="userSpaceOnUse" x1="297.0" y1="1174.4" x2="410.3" y2="1172.7"/>
<path d="M297.0 1174.4L353.7 1172.5L410.3 1172.7" stroke="url(#t671)" stroke-dasharray="0 3.66"/>
<linearGradient id="t672" href="#yg" gradientUnits="userSpaceOnUse" x1="298.6" y1="1186.8" x2="457.8" y2="1173.6"/>
<path d="M298.6 1186.8L378.2 1176.1L457.8 1173.6" stroke="url(#t672)" stroke-dasharray="0 5.16"/>
<linearGradient id="t673" href="#yg" gradientUnits="userSpaceOnUse" x1="326.1" y1="1200.6" x2="469.9" y2="1184.8"/>
<path d="M326.1 1200.6L398.0 1190.0L469.9 1184.8" stroke="url(#t673)" stroke-dasharray="0 4.67"/>
<linearGradient id="t674" href="#yg" gradientUnits="userSpaceOnUse" x1="559.1" y1="1190.0" x2="650.6" y2="1185.2"/>
<path d="M559.1 1190.0L604.9 1183.2L650.6 1185.2" stroke="url(#t674)" stroke-dasharray="0 2.97"/>
<linearGradient id="t675" href="#yg" gradientUnits="userSpaceOnUse" x1="377.2" y1="1194.9" x2="518.9" y2="1183.3"/>
<path d="M377.2 1194.9L448.1 1187.5L518.9 1183.3" stroke="url(#t675)" stroke-dasharray="0 4.59"/>
<linearGradient id="t676" href="#yg" gradientUnits="userSpaceOnUse" x1="512.6" y1="1205.0" x2="631.5" y2="1185.9"/>
<path d="M512.6 1205.0L572.1 1195.2L631.5 1185.9" stroke="url(#t676)" stroke-dasharray="0 3.88"/>
<linearGradient id="t677" href="#yg" gradientUnits="userSpaceOnUse" x1="483.4" y1="1194.8" x2="617.0" y2="1180.8"/>
<path d="M483.4 1194.8L550.2 1185.1L617.0 1180.8" stroke="url(#t677)" stroke-dasharray="0 4.34"/>
<linearGradient id="t678" href="#yg" gradientUnits="userSpaceOnUse" x1="298.7" y1="1193.2" x2="405.9" y2="1189.3"/>
<path d="M298.7 1193.2L352.3 1194.7L405.9 1189.3" stroke="url(#t678)" stroke-dasharray="0 3.47"/>
<linearGradient id="t679" href="#yg" gradientUnits="userSpaceOnUse" x1="390.3" y1="1228.8" x2="550.6" y2="1186.8"/>
<path d="M390.3 1228.8L470.4 1207.4L550.6 1186.8" stroke="url(#t679)" stroke-dasharray="0 5.35"/>
<linearGradient id="t680" href="#yg" gradientUnits="userSpaceOnUse" x1="597.2" y1="1252.8" x2="669.0" y2="1236.9"/>
<path d="M597.2 1252.8L633.1 1241.8L669.0 1236.9" stroke="url(#t680)" stroke-dasharray="0 2.38"/>
<linearGradient id="t681" href="#yg" gradientUnits="userSpaceOnUse" x1="467.3" y1="1212.0" x2="594.6" y2="1187.3"/>
<path d="M467.3 1212.0L530.9 1196.3L594.6 1187.3" stroke="url(#t681)" stroke-dasharray="0 4.19"/>
<linearGradient id="t682" href="#yg" gradientUnits="userSpaceOnUse" x1="281.8" y1="1211.9" x2="384.5" y2="1208.3"/>
<path d="M281.8 1211.9L333.1 1213.5L384.5 1208.3" stroke="url(#t682)" stroke-dasharray="0 3.32"/>
<linearGradient id="t683" href="#yg" gradientUnits="userSpaceOnUse" x1="472.1" y1="1238.6" x2="604.8" y2="1183.3"/>
<path d="M472.1 1238.6L538.4 1210.0L604.8 1183.3" stroke="url(#t683)" stroke-dasharray="0 4.64"/>
<linearGradient id="t684" href="#yg" gradientUnits="userSpaceOnUse" x1="323.6" y1="1205.9" x2="437.2" y2="1194.9"/>
<path d="M323.6 1205.9L380.4 1195.5L437.2 1194.9" stroke="url(#t684)" stroke-dasharray="0 3.69"/>
<linearGradient id="t685" href="#yg" gradientUnits="userSpaceOnUse" x1="242.0" y1="1234.9" x2="399.3" y2="1234.3"/>
<path d="M242.0 1234.9L320.6 1231.4L399.3 1234.3" stroke="url(#t685)" stroke-dasharray="0 5.08"/>
<linearGradient id="t686" href="#yg" gradientUnits="userSpaceOnUse" x1="474.9" y1="1185.4" x2="589.4" y2="1158.2"/>
<path d="M474.9 1185.4L532.2 1173.0L589.4 1158.2" stroke="url(#t686)" stroke-dasharray="0 3.80"/>
<linearGradient id="t687" href="#yg" gradientUnits="userSpaceOnUse" x1="340.8" y1="1184.3" x2="462.0" y2="1169.9"/>
<path d="M340.8 1184.3L401.4 1177.1L462.0 1169.9" stroke="url(#t687)" stroke-dasharray="0 3.94"/>
<linearGradient id="t688" href="#yg" gradientUnits="userSpaceOnUse" x1="438.3" y1="1198.2" x2="535.1" y2="1193.3"/>
<path d="M438.3 1198.2L486.7 1192.4L535.1 1193.3" stroke="url(#t688)" stroke-dasharray="0 3.13"/>
<linearGradient id="t689" href="#yg" gradientUnits="userSpaceOnUse" x1="337.1" y1="1173.9" x2="462.7" y2="1168.8"/>
<path d="M337.1 1173.9L399.9 1172.2L462.7 1168.8" stroke="url(#t689)" stroke-dasharray="0 4.06"/>
<linearGradient id="t690" href="#yg" gradientUnits="userSpaceOnUse" x1="399.4" y1="1254.8" x2="532.0" y2="1220.6"/>
<path d="M399.4 1254.8L465.7 1233.5L532.0 1220.6" stroke="url(#t690)" stroke-dasharray="0 4.42"/>
<linearGradient id="t691" href="#yg" gradientUnits="userSpaceOnUse" x1="453.1" y1="1166.4" x2="584.3" y2="1162.4"/>
<path d="M453.1 1166.4L518.7 1163.5L584.3 1162.4" stroke="url(#t691)" stroke-dasharray="0 4.23"/>
<linearGradient id="t692" href="#yg" gradientUnits="userSpaceOnUse" x1="324.3" y1="1236.2" x2="437.5" y2="1221.2"/>
<path d="M324.3 1236.2L380.9 1227.6L437.5 1221.2" stroke="url(#t692)" stroke-dasharray="0 3.68"/>
<linearGradient id="t693" href="#yg" gradientUnits="userSpaceOnUse" x1="468.5" y1="1172.1" x2="614.4" y2="1155.2"/>
<path d="M468.5 1172.1L541.4 1158.8L614.4 1155.2" stroke="url(#t693)" stroke-dasharray="0 4.75"/>
<linearGradient id="t694" href="#yg" gradientUnits="userSpaceOnUse" x1="196.3" y1="1218.2" x2="306.5" y2="1216.9"/>
<path d="M196.3 1218.2L251.4 1215.6L306.5 1216.9" stroke="url(#t694)" stroke-dasharray="0 3.56"/>
<linearGradient id="t695" href="#yg" gradientUnits="userSpaceOnUse" x1="274.6" y1="1250.5" x2="431.2" y2="1240.9"/>
<path d="M274.6 1250.5L352.9 1250.2L431.2 1240.9" stroke="url(#t695)" stroke-dasharray="0 5.07"/>
<linearGradient id="t696" href="#yg" gradientUnits="userSpaceOnUse" x1="196.4" y1="1214.9" x2="319.5" y2="1203.8"/>
<path d="M196.4 1214.9L258.0 1206.1L319.5 1203.8" stroke="url(#t696)" stroke-dasharray="0 3.99"/>
<linearGradient id="t697" href="#yg" gradientUnits="userSpaceOnUse" x1="177.0" y1="1212.5" x2="339.2" y2="1205.9"/>
<path d="M177.0 1212.5L258.1 1211.4L339.2 1205.9" stroke="url(#t697)" stroke-dasharray="0 5.24"/>
<linearGradient id="t698" href="#yg" gradientUnits="userSpaceOnUse" x1="573.1" y1="1259.4" x2="654.6" y2="1216.4"/>
<path d="M573.1 1259.4L613.9 1239.8L654.6 1216.4" stroke="url(#t698)" stroke-dasharray="0 2.97"/>
<linearGradient id="t699" href="#yg" gradientUnits="userSpaceOnUse" x1="523.8" y1="1169.1" x2="620.6" y2="1160.0"/>
<path d="M523.8 1169.1L572.2 1165.5L620.6 1160.0" stroke="url(#t699)" stroke-dasharray="0 3.14"/>
<linearGradient id="t700" href="#yg" gradientUnits="userSpaceOnUse" x1="389.3" y1="1209.4" x2="485.1" y2="1197.4"/>
<path d="M389.3 1209.4L437.2 1202.6L485.1 1197.4" stroke="url(#t700)" stroke-dasharray="0 3.11"/>
<linearGradient id="t701" href="#yg" gradientUnits="userSpaceOnUse" x1="553.0" y1="1230.1" x2="659.0" y2="1188.8"/>
<path d="M553.0 1230.1L606.0 1212.5L659.0 1188.8" stroke="url(#t701)" stroke-dasharray="0 3.67"/>
<linearGradient id="t702" href="#yg" gradientUnits="userSpaceOnUse" x1="435.0" y1="1213.9" x2="553.7" y2="1202.6"/>
<path d="M435.0 1213.9L494.3 1207.1L553.7 1202.6" stroke="url(#t702)" stroke-dasharray="0 3.85"/>
<linearGradient id="t703" href="#yg" gradientUnits="userSpaceOnUse" x1="518.9" y1="1200.8" x2="662.9" y2="1186.5"/>
<path d="M518.9 1200.8L590.9 1188.9L662.9 1186.5" stroke="url(#t703)" stroke-dasharray="0 4.68"/>
<linearGradient id="t704" href="#yg" gradientUnits="userSpaceOnUse" x1="510.7" y1="1233.7" x2="641.3" y2="1215.9"/>
<path d="M510.7 1233.7L576.0 1224.9L641.3 1215.9" stroke="url(#t704)" stroke-dasharray="0 4.25"/>
<linearGradient id="t705" href="#yg" gradientUnits="userSpaceOnUse" x1="253.9" y1="1253.8" x2="411.3" y2="1234.9"/>
<path d="M253.9 1253.8L332.6 1242.8L411.3 1234.9" stroke="url(#t705)" stroke-dasharray="0 5.12"/>
<linearGradient id="t706" href="#yg" gradientUnits="userSpaceOnUse" x1="338.8" y1="1240.8" x2="474.8" y2="1217.6"/>
<path d="M338.8 1240.8L406.8 1231.3L474.8 1217.6" stroke="url(#t706)" stroke-dasharray="0 4.45"/>
<linearGradient id="t707" href="#yg" gradientUnits="userSpaceOnUse" x1="399.1" y1="1213.7" x2="531.2" y2="1182.7"/>
<path d="M399.1 1213.7L465.1 1201.5L531.2 1182.7" stroke="url(#t707)" stroke-dasharray="0 4.38"/>
<linearGradient id="t708" href="#yg" gradientUnits="userSpaceOnUse" x1="413.7" y1="1189.9" x2="555.9" y2="1172.0"/>
<path d="M413.7 1189.9L484.8 1185.0L555.9 1172.0" stroke="url(#t708)" stroke-dasharray="0 4.63"/>
<linearGradient id="t709" href="#yg" gradientUnits="userSpaceOnUse" x1="263.8" y1="1197.7" x2="390.5" y2="1193.1"/>
<path d="M263.8 1197.7L327.2 1199.1L390.5 1193.1" stroke="url(#t709)" stroke-dasharray="0 4.10"/>
<linearGradient id="t710" href="#yg" gradientUnits="userSpaceOnUse" x1="545.7" y1="1175.9" x2="629.7" y2="1166.4"/>
<path d="M545.7 1175.9L587.7 1169.0L629.7 1166.4" stroke="url(#t710)" stroke-dasharray="0 2.73"/>
<linearGradient id="t711" href="#yg" gradientUnits="userSpaceOnUse" x1="255.8" y1="1223.8" x2="379.6" y2="1216.2"/>
<path d="M255.8 1223.8L317.7 1220.3L379.6 1216.2" stroke="url(#t711)" stroke-dasharray="0 4.00"/>
<linearGradient id="t712" href="#yg" gradientUnits="userSpaceOnUse" x1="509.4" y1="1233.3" x2="672.6" y2="1204.0"/>
<path d="M509.4 1233.3L591.0 1219.5L672.6 1204.0" stroke="url(#t712)" stroke-dasharray="0 5.35"/>
<linearGradient id="t713" href="#yg" gradientUnits="userSpaceOnUse" x1="317.3" y1="1255.6" x2="422.0" y2="1239.2"/>
<path d="M317.3 1255.6L369.7 1248.7L422.0 1239.2" stroke="url(#t713)" stroke-dasharray="0 3.42"/>
<linearGradient id="t714" href="#yg" gradientUnits="userSpaceOnUse" x1="170.2" y1="1215.6" x2="307.7" y2="1210.5"/>
<path d="M170.2 1215.6L239.0 1217.8L307.7 1210.5" stroke="url(#t714)" stroke-dasharray="0 4.45"/>
<linearGradient id="t715" href="#yg" gradientUnits="userSpaceOnUse" x1="297.1" y1="1244.2" x2="415.7" y2="1229.6"/>
<path d="M297.1 1244.2L356.4 1233.9L415.7 1229.6" stroke="url(#t715)" stroke-dasharray="0 3.86"/>
<linearGradient id="t716" href="#yg" gradientUnits="userSpaceOnUse" x1="318.0" y1="1225.9" x2="428.4" y2="1211.8"/>
<path d="M318.0 1225.9L373.2 1223.7L428.4 1211.8" stroke="url(#t716)" stroke-dasharray="0 3.60"/>
<linearGradient id="t717" href="#yg" gradientUnits="userSpaceOnUse" x1="496.7" y1="1221.5" x2="617.1" y2="1205.2"/>
<path d="M496.7 1221.5L556.9 1214.6L617.1 1205.2" stroke="url(#t717)" stroke-dasharray="0 3.92"/>
<linearGradient id="t718" href="#yg" gradientUnits="userSpaceOnUse" x1="323.5" y1="1251.5" x2="447.5" y2="1236.5"/>
<path d="M323.5 1251.5L385.5 1247.2L447.5 1236.5" stroke="url(#t718)" stroke-dasharray="0 4.03"/>
<linearGradient id="t719" href="#yg" gradientUnits="userSpaceOnUse" x1="440.3" y1="1182.0" x2="604.7" y2="1172.8"/>
<path d="M440.3 1182.0L522.5 1180.6L604.7 1172.8" stroke="url(#t719)" stroke-dasharray="0 5.32"/>
<linearGradient id="t720" href="#yg" gradientUnits="userSpaceOnUse" x1="434.1" y1="1181.1" x2="579.8" y2="1159.0"/>
<path d="M434.1 1181.1L506.9 1173.6L579.8 1159.0" stroke="url(#t720)" stroke-dasharray="0 4.76"/>
<linearGradient id="t721" href="#yg" gradientUnits="userSpaceOnUse" x1="578.4" y1="1244.3" x2="671.0" y2="1207.4"/>
<path d="M578.4 1244.3L624.7 1222.1L671.0 1207.4" stroke="url(#t721)" stroke-dasharray="0 3.22"/>
<linearGradient id="t722" href="#yg" gradientUnits="userSpaceOnUse" x1="464.0" y1="1205.5" x2="559.0" y2="1172.9"/>
<path d="M464.0 1205.5L511.5 1188.6L559.0 1172.9" stroke="url(#t722)" stroke-dasharray="0 3.24"/>
<linearGradient id="t723" href="#yg" gradientUnits="userSpaceOnUse" x1="642.2" y1="1259.0" x2="693.7" y2="1159.1"/>
<path d="M642.2 1259.0L644.2 1243.9L653.8 1236.4" stroke="url(#t723)" stroke-dasharray="0 3.91"/>
<linearGradient id="t724" href="#yg" gradientUnits="userSpaceOnUse" x1="608.3" y1="1294.6" x2="711.7" y2="1199.4"/>
<path d="M608.3 1294.6L627.6 1275.4L648.3 1257.7" stroke="url(#t724)" stroke-dasharray="0 4.54"/>
<linearGradient id="t725" href="#yg" gradientUnits="userSpaceOnUse" x1="573.9" y1="1275.2" x2="592.8" y2="1169.4"/>
<path d="M573.9 1275.2L579.5 1254.7L581.9 1230.9" stroke="url(#t725)" stroke-dasharray="0 3.48"/>
<linearGradient id="t726" href="#yg" gradientUnits="userSpaceOnUse" x1="584.0" y1="1276.7" x2="609.5" y2="1150.2"/>
<path d="M584.0 1276.7L583.7 1259.1L589.8 1248.1" stroke="url(#t726)" stroke-dasharray="0 4.31"/>
<linearGradient id="t727" href="#yg" gradientUnits="userSpaceOnUse" x1="599.2" y1="1260.9" x2="676.0" y2="1154.7"/>
<path d="M599.2 1260.9L599.7 1246.6L611.6 1243.8" stroke="url(#t727)" stroke-dasharray="0 5.29"/>
<linearGradient id="t728" href="#yg" gradientUnits="userSpaceOnUse" x1="557.0" y1="1290.0" x2="630.5" y2="1161.2"/>
<path d="M557.0 1290.0L559.3 1279.2L566.5 1273.4" stroke="url(#t728)" stroke-dasharray="0 5.08"/>
<linearGradient id="t729" href="#yg" gradientUnits="userSpaceOnUse" x1="639.2" y1="1272.7" x2="745.6" y2="1202.2"/>
<path d="M639.2 1272.7L658.1 1254.5L683.8 1243.1" stroke="url(#t729)" stroke-dasharray="0 4.18"/>
<linearGradient id="t730" href="#yg" gradientUnits="userSpaceOnUse" x1="644.0" y1="1256.5" x2="736.6" y2="1184.9"/>
<path d="M644.0 1256.5L648.9 1248.1L658.9 1244.9" stroke="url(#t730)" stroke-dasharray="0 4.03"/>
<linearGradient id="t731" href="#yg" gradientUnits="userSpaceOnUse" x1="636.9" y1="1266.1" x2="699.1" y2="1173.6"/>
<path d="M636.9 1266.1L643.5 1250.2L655.0 1239.3" stroke="url(#t731)" stroke-dasharray="0 3.67"/>
<linearGradient id="t732" href="#yg" gradientUnits="userSpaceOnUse" x1="592.9" y1="1371.8" x2="647.6" y2="1242.4"/>
<path d="M628.2 1288.3L640.2 1276.6L642.3 1254.9" stroke="url(#t732)" stroke-dasharray="0 4.82"/>
<linearGradient id="t733" href="#yg" gradientUnits="userSpaceOnUse" x1="504.1" y1="1306.6" x2="571.3" y2="1210.5"/>
<path d="M534.5 1263.2L549.1 1254.1L554.0 1235.3" stroke="url(#t733)" stroke-dasharray="0 4.07"/>
<linearGradient id="t734" href="#yg" gradientUnits="userSpaceOnUse" x1="555.1" y1="1278.4" x2="649.4" y2="1172.4"/>
<path d="M555.1 1278.4L574.8 1259.3L591.6 1237.4" stroke="url(#t734)" stroke-dasharray="0 4.59"/>
<linearGradient id="t735" href="#yg" gradientUnits="userSpaceOnUse" x1="484.5" y1="1352.5" x2="586.5" y2="1250.8"/>
<path d="M547.0 1290.2L566.7 1276.9L580.0 1257.3" stroke="url(#t735)" stroke-dasharray="0 4.74"/>
<linearGradient id="t736" href="#yg" gradientUnits="userSpaceOnUse" x1="602.7" y1="1294.5" x2="663.3" y2="1211.0"/>
<path d="M602.7 1294.5L608.8 1277.3L622.3 1267.5" stroke="url(#t736)" stroke-dasharray="0 3.48"/>
<linearGradient id="t737" href="#yg" gradientUnits="userSpaceOnUse" x1="555.3" y1="1295.6" x2="573.7" y2="1192.9"/>
<path d="M555.3 1295.6L563.0 1281.8L561.8 1259.2" stroke="url(#t737)" stroke-dasharray="0 3.50"/>
<linearGradient id="t738" href="#yg" gradientUnits="userSpaceOnUse" x1="629.9" y1="1298.3" x2="680.0" y2="1189.4"/>
<path d="M644.4 1266.7L656.3 1247.8L663.8 1224.5" stroke="url(#t738)" stroke-dasharray="0 3.90"/>
<linearGradient id="t739" href="#yg" gradientUnits="userSpaceOnUse" x1="598.9" y1="1256.6" x2="633.0" y2="1149.8"/>
<path d="M598.9 1256.6L604.3 1234.8L612.1 1215.3" stroke="url(#t739)" stroke-dasharray="0 3.63"/>
<linearGradient id="t740" href="#yg" gradientUnits="userSpaceOnUse" x1="571.0" y1="1293.6" x2="671.5" y2="1200.4"/>
<path d="M571.0 1293.6L591.4 1282.8L603.4 1263.5" stroke="url(#t740)" stroke-dasharray="0 4.58"/>
<linearGradient id="t741" href="#yg" gradientUnits="userSpaceOnUse" x1="583.4" y1="1288.7" x2="683.3" y2="1250.4"/>
<path d="M583.4 1288.7L590.6 1278.0L609.2 1278.8" stroke="url(#t741)" stroke-dasharray="0 3.94"/>
<linearGradient id="t742" href="#yg" gradientUnits="userSpaceOnUse" x1="540.1" y1="1345.4" x2="660.0" y2="1259.4"/>
<path d="M625.2 1284.4L637.8 1270.4L656.2 1262.2" stroke="url(#t742)" stroke-dasharray="0 4.87"/>
<linearGradient id="t743" href="#yg" gradientUnits="userSpaceOnUse" x1="620.0" y1="1286.3" x2="674.0" y2="1199.7"/>
<path d="M620.0 1286.3L627.9 1271.6L637.4 1258.4" stroke="url(#t743)" stroke-dasharray="0 3.30"/>
<linearGradient id="t744" href="#yg" gradientUnits="userSpaceOnUse" x1="550.3" y1="1253.7" x2="631.6" y2="1178.8"/>
<path d="M550.3 1253.7L570.2 1238.3L587.0 1219.9" stroke="url(#t744)" stroke-dasharray="0 3.58"/>
<linearGradient id="t745" href="#yg" gradientUnits="userSpaceOnUse" x1="561.4" y1="1330.5" x2="638.1" y2="1240.0"/>
<path d="M591.0 1295.5L609.3 1284.0L618.3 1263.3" stroke="url(#t745)" stroke-dasharray="0 4.01"/>
<linearGradient id="t746" href="#yg" gradientUnits="userSpaceOnUse" x1="534.0" y1="1258.0" x2="601.6" y2="1193.3"/>
<path d="M534.0 1258.0L541.9 1248.8L551.4 1241.3" stroke="url(#t746)" stroke-dasharray="0 3.03"/>
<linearGradient id="t747" href="#yg" gradientUnits="userSpaceOnUse" x1="544.8" y1="1331.1" x2="640.4" y2="1226.2"/>
<path d="M603.4 1266.8L619.6 1250.6L634.3 1232.9" stroke="url(#t747)" stroke-dasharray="0 4.59"/>
<linearGradient id="t748" href="#yg" gradientUnits="userSpaceOnUse" x1="572.0" y1="1299.3" x2="629.7" y2="1218.7"/>
<path d="M572.0 1299.3L577.0 1284.2L588.7 1275.9" stroke="url(#t748)" stroke-dasharray="0 3.36"/>
<linearGradient id="t749" href="#yg" gradientUnits="userSpaceOnUse" x1="154.0" y1="1215.4" x2="169.0" y2="1195.7"/>
<path d="M154.0 1215.4L155.9 1207.9L159.6 1199.5L169.0 1195.7" stroke="url(#t749)" stroke-dasharray="0 0.87"/>
<linearGradient id="t750" href="#yg" gradientUnits="userSpaceOnUse" x1="185.8" y1="1268.6" x2="316.1" y2="1254.1"/>
<path d="M227.8 1263.9L244.6 1262.1" stroke="url(#t750)" stroke-dasharray="0 4.23"/>
<linearGradient id="t751" href="#yg" gradientUnits="userSpaceOnUse" x1="252.1" y1="1262.1" x2="430.0" y2="1243.4"/>
<path d="M252.1 1262.1L295.1 1262.1L332.5 1253.7" stroke="url(#t751)" stroke-dasharray="0 5.81"/>
<circle cx="355.8" cy="1250.9" r="6" fill="#a99a9a"/>
<linearGradient id="t752" href="#yg" gradientUnits="userSpaceOnUse" x1="375.4" y1="1260.2" x2="529.9" y2="1231.2"/>
<path d="M375.4 1260.2L388.5 1263.9L397.9 1263.9L405.3 1254.6" stroke="url(#t752)" stroke-dasharray="0 5.82"/>
<linearGradient id="t753" href="#yg" gradientUnits="userSpaceOnUse" x1="384.8" y1="1328.4" x2="544.1" y2="1276.3"/>
<path d="M384.8 1328.4L399.7 1334.0L420.3 1330.3L431.5 1324.7L436.2 1311.6" stroke="url(#t753)" stroke-dasharray="0 6.33"/>
<linearGradient id="t754" href="#yg" gradientUnits="userSpaceOnUse" x1="246.5" y1="1239.6" x2="408.7" y2="1216.5"/>
<path d="M246.5 1239.6L261.5 1247.1L282.0 1239.6L298.8 1232.2" stroke="url(#t754)" stroke-dasharray="0 5.70"/>
<linearGradient id="t755" href="#yg" gradientUnits="userSpaceOnUse" x1="282.0" y1="1159.3" x2="480.6" y2="1142.7"/>
<path d="M282.0 1159.3L308.2 1153.7L326.9 1155.6" stroke="url(#t755)" stroke-dasharray="0 6.50"/>
<linearGradient id="t756" href="#yg" gradientUnits="userSpaceOnUse" x1="445.6" y1="1278.9" x2="538.3" y2="1194.9"/>
<path d="M445.6 1278.9L451.2 1263.9L460.6 1249.0L477.4 1235.9L505.4 1224.7" stroke="url(#t756)" stroke-dasharray="0 4.25"/>
<circle cx="450.3" cy="1290.1" r="6" fill="#b7908b"/>
<circle cx="469.9" cy="1284.5" r="6" fill="#bb8d86"/>
<circle cx="466.2" cy="1272.3" r="6" fill="#cf7867"/>
<linearGradient id="t757" href="#yg" gradientUnits="userSpaceOnUse" x1="436.0" y1="1300.4" x2="501.7" y2="1269.5"/>
<path d="M469.9 1284.5L479.2 1278.9L488.6 1275.1L501.7 1269.5" stroke="url(#t757)" stroke-dasharray="0 2.35"/>
<linearGradient id="t758" href="#yg" gradientUnits="userSpaceOnUse" x1="372.7" y1="1223.8" x2="546.5" y2="1267.2"/>
<path d="M496.1 1254.6L507.3 1257.4" stroke="url(#t758)" stroke-dasharray="0 5.78"/>
<linearGradient id="t759" href="#yg" gradientUnits="userSpaceOnUse" x1="511.0" y1="1268.6" x2="645.5" y2="1196.7"/>
<path d="M511.0 1268.6L552.1 1249.0L589.5 1232.2L617.5 1215.4L645.5 1196.7" stroke="url(#t759)" stroke-dasharray="0 4.93"/>
<linearGradient id="t760" href="#yg" gradientUnits="userSpaceOnUse" x1="477.3" y1="1278.2" x2="562.4" y2="1269.9"/>
<path d="M518.5 1274.2L529.7 1278.9L546.5 1268.6L562.4 1269.9" stroke="url(#t760)" stroke-dasharray="0 2.99"/>
<linearGradient id="t761" href="#yg" gradientUnits="userSpaceOnUse" x1="555.9" y1="1274.2" x2="628.3" y2="1375.6"/>
<path d="M555.9 1274.2L567.1 1290.1L574.5 1300.4" stroke="url(#t761)" stroke-dasharray="0 4.02"/>
<linearGradient id="t762" href="#yg" gradientUnits="userSpaceOnUse" x1="578.3" y1="1282.6" x2="630.4" y2="1276.8"/>
<path d="M578.3 1282.6L585.8 1293.8L589.5 1290.1L595.1 1280.8" stroke="url(#t762)" stroke-dasharray="0 2.97"/>
<linearGradient id="t763" href="#yg" gradientUnits="userSpaceOnUse" x1="580.6" y1="1233.6" x2="544.4" y2="1313.2"/>
<path d="M554.9 1290.1L550.2 1300.4" stroke="url(#t763)" stroke-dasharray="0 2.82"/>
<linearGradient id="t764" href="#yg" gradientUnits="userSpaceOnUse" x1="517.5" y1="1305.0" x2="566.8" y2="1435.4"/>
<path d="M517.5 1305.0L520.7 1313.5" stroke="url(#t764)" stroke-dasharray="0 4.49"/>
<linearGradient id="t765" href="#yg" gradientUnits="userSpaceOnUse" x1="552.1" y1="1306.9" x2="622.5" y2="1406.2"/>
<path d="M552.1 1306.9L563.3 1309.7L568.0 1329.3" stroke="url(#t765)" stroke-dasharray="0 4.53"/>
<linearGradient id="t766" href="#yg" gradientUnits="userSpaceOnUse" x1="527.8" y1="1333.1" x2="614.7" y2="1315.0"/>
<path d="M527.8 1333.1L533.4 1338.7L550.2 1328.4" stroke="url(#t766)" stroke-dasharray="0 3.45"/>
<linearGradient id="t767" href="#yg" gradientUnits="userSpaceOnUse" x1="536.2" y1="1363.0" x2="612.3" y2="1312.3"/>
<path d="M555.9 1349.9L563.3 1345.2L574.5 1349.9L581.1 1360.2L586.7 1344.3L595.1 1323.7" stroke="url(#t767)" stroke-dasharray="0 4.51"/>
<linearGradient id="t768" href="#yg" gradientUnits="userSpaceOnUse" x1="583.9" y1="1316.3" x2="659.6" y2="1285.1"/>
<path d="M583.9 1316.3L595.1 1308.8L608.2 1295.7L615.7 1303.2" stroke="url(#t768)" stroke-dasharray="0 3.27"/>
<linearGradient id="t769" href="#yg" gradientUnits="userSpaceOnUse" x1="589.5" y1="1317.2" x2="647.4" y2="1323.0"/>
<path d="M598.8 1318.1L608.2 1310.7L617.5 1320.0" stroke="url(#t769)" stroke-dasharray="0 2.52"/>
<linearGradient id="t770" href="#yg" gradientUnits="userSpaceOnUse" x1="608.0" y1="1359.1" x2="634.3" y2="1269.5"/>
<path d="M625.0 1301.3L628.7 1290.1L632.5 1277.0L634.3 1269.5" stroke="url(#t770)" stroke-dasharray="0 3.01"/>
<linearGradient id="t771" href="#yg" gradientUnits="userSpaceOnUse" x1="630.3" y1="1331.5" x2="671.7" y2="1261.1"/>
<path d="M662.4 1277.0L668.9 1269.5L671.7 1261.1" stroke="url(#t771)" stroke-dasharray="0 2.69"/>
<linearGradient id="t772" href="#yg" gradientUnits="userSpaceOnUse" x1="630.1" y1="1285.0" x2="702.5" y2="1212.5"/>
<path d="M641.8 1273.3L651.2 1263.9L660.5 1254.6" stroke="url(#t772)" stroke-dasharray="0 3.30"/>
<linearGradient id="t773" href="#yg" gradientUnits="userSpaceOnUse" x1="608.2" y1="1232.2" x2="690.4" y2="1206.9"/>
<path d="M608.2 1232.2L636.2 1219.1L664.2 1209.7L690.4 1206.9" stroke="url(#t773)" stroke-dasharray="0 2.80"/>
<linearGradient id="t774" href="#yg" gradientUnits="userSpaceOnUse" x1="612.8" y1="1255.5" x2="699.7" y2="1203.4"/>
<path d="M626.9 1247.1L645.5 1239.6L664.2 1232.2L679.2 1222.8L682.9 1213.5" stroke="url(#t774)" stroke-dasharray="0 3.40"/>
<linearGradient id="t775" href="#yg" gradientUnits="userSpaceOnUse" x1="582.0" y1="1213.5" x2="662.4" y2="1173.3"/>
<path d="M582.0 1213.5L608.2 1204.1L636.2 1191.1L662.4 1173.3" stroke="url(#t775)" stroke-dasharray="0 2.91"/>
<linearGradient id="t776" href="#yg" gradientUnits="userSpaceOnUse" x1="589.5" y1="1228.4" x2="673.6" y2="1191.1"/>
<path d="M589.5 1228.4L617.5 1215.4L645.5 1202.3L673.6 1191.1" stroke="url(#t776)" stroke-dasharray="0 2.97"/>
<linearGradient id="t777" href="#yg" gradientUnits="userSpaceOnUse" x1="608.2" y1="1254.6" x2="679.2" y2="1204.1"/>
<path d="M608.2 1254.6L626.9 1239.6L645.5 1224.7L664.2 1215.4L679.2 1204.1" stroke="url(#t777)" stroke-dasharray="0 2.82"/>
<linearGradient id="t778" href="#yg" gradientUnits="userSpaceOnUse" x1="570.8" y1="1191.1" x2="641.8" y2="1166.8"/>
<path d="M570.8 1191.1L598.8 1181.7L626.9 1172.4L641.8 1166.8" stroke="url(#t778)" stroke-dasharray="0 2.42"/>
<linearGradient id="t779" href="#yg" gradientUnits="userSpaceOnUse" x1="506.3" y1="1422.3" x2="680.1" y2="1497.6"/>
<path d="M506.3 1422.3L514.7 1426.1L522.2 1428.9L528.8 1432.0" stroke="url(#t779)" stroke-dasharray="0 6.11"/>
<circle cx="512.9" cy="1436.9" r="6" fill="#e4503a"/>
<circle cx="516.6" cy="1454.6" r="6" fill="#d96853"/>
<circle cx="546.1" cy="1431.7" r="6" fill="#c2867b"/>
<circle cx="554.9" cy="1370.9" r="6" fill="#d4705d"/>
<circle cx="574.2" cy="1377.1" r="6" fill="#e4503a"/>
<circle cx="541.8" cy="1397.1" r="6" fill="#e05b44"/>
<linearGradient id="t780" href="#yg" gradientUnits="userSpaceOnUse" x1="494.2" y1="1347.2" x2="610.0" y2="1561.5"/>
<path d="M531.6 1416.3L535.3 1423.3" stroke="url(#t780)" stroke-dasharray="0 7.86"/>
<linearGradient id="t781" href="#yg" gradientUnits="userSpaceOnUse" x1="514.3" y1="1481.1" x2="605.7" y2="1385.3"/>
<path d="M561.5 1431.7L567.1 1427.0L572.7 1420.8L583.0 1415.4L587.6 1408.7L591.4 1409.2L595.1 1402.7L599.8 1391.5" stroke="url(#t781)" stroke-dasharray="0 4.53"/>
<circle cx="605.4" cy="1583.0" r="6" fill="#e64b35"/>
<circle cx="609.1" cy="1585.8" r="6" fill="#e4503a"/>
<circle cx="617.0" cy="1566.8" r="6" fill="#e2563f"/>
<linearGradient id="t782" href="#yg" gradientUnits="userSpaceOnUse" x1="613.8" y1="1537.8" x2="671.7" y2="1381.4"/>
<path d="M621.3 1517.6L622.2 1510.1L624.1 1503.6L625.9 1497.1L634.3 1491.5L636.2 1482.1L639.9 1467.2" stroke="url(#t782)" stroke-dasharray="0 5.62"/>
<circle cx="645.2" cy="1441.9" r="6" fill="#bb8d86"/>
<circle cx="646.3" cy="1425.1" r="6" fill="#b39490"/>
<circle cx="649.7" cy="1396.2" r="6" fill="#a99a9a"/>
<linearGradient id="t783" href="#yg" gradientUnits="userSpaceOnUse" x1="623.7" y1="1444.6" x2="662.4" y2="1319.1"/>
<path d="M651.2 1355.5L654.9 1342.4L658.6 1327.5L662.4 1319.1" stroke="url(#t783)" stroke-dasharray="0 4.25"/>
</g>
<polyline points="155.2,1213.4 201.9,1198.4 226.8,1189.7 251.7,1181.5 276.6,1172.3 289.1,1166.9 301.6,1161.6 314.0,1157.2 326.5,1154.8 338.9,1153.7 351.4,1154.3 359.6,1154.3 378.8,1153.7 407.6,1152.7 439.6,1151.5 683.9,1151.5" fill="none" stroke="#000" stroke-width="4" stroke-linejoin="round"/>
<g fill="none" stroke-width="12" stroke-linecap="round" stroke-linejoin="round">
<linearGradient id="t784" href="#yg" gradientUnits="userSpaceOnUse" x1="469.2" y1="1736.7" x2="590.7" y2="1726.0"/>
<path d="M469.2 1736.7L529.9 1730.2L590.7 1726.0" stroke="url(#t784)" stroke-dasharray="0 3.93"/>
<linearGradient id="t785" href="#yg" gradientUnits="userSpaceOnUse" x1="201.5" y1="1797.2" x2="354.0" y2="1781.5"/>
<path d="M201.5 1797.2L277.7 1784.3L354.0 1781.5" stroke="url(#t785)" stroke-dasharray="0 4.96"/>
<linearGradient id="t786" href="#yg" gradientUnits="userSpaceOnUse" x1="423.1" y1="1798.5" x2="556.8" y2="1774.1"/>
<path d="M423.1 1798.5L489.9 1790.0L556.8 1774.1" stroke="url(#t786)" stroke-dasharray="0 4.39"/>
<linearGradient id="t787" href="#yg" gradientUnits="userSpaceOnUse" x1="488.6" y1="1823.0" x2="586.6" y2="1787.7"/>
<path d="M488.6 1823.0L537.6 1805.3L586.6 1787.7" stroke="url(#t787)" stroke-dasharray="0 3.36"/>
<linearGradient id="t788" href="#yg" gradientUnits="userSpaceOnUse" x1="371.0" y1="1787.6" x2="501.2" y2="1770.1"/>
<path d="M371.0 1787.6L436.1 1775.0L501.2 1770.1" stroke="url(#t788)" stroke-dasharray="0 4.24"/>
<linearGradient id="t789" href="#yg" gradientUnits="userSpaceOnUse" x1="597.6" y1="1789.0" x2="679.0" y2="1774.5"/>
<path d="M597.6 1789.0L638.3 1780.6L679.0 1774.5" stroke="url(#t789)" stroke-dasharray="0 2.67"/>
<linearGradient id="t790" href="#yg" gradientUnits="userSpaceOnUse" x1="294.6" y1="1799.4" x2="457.6" y2="1782.7"/>
<path d="M294.6 1799.4L376.1 1792.2L457.6 1782.7" stroke="url(#t790)" stroke-dasharray="0 5.29"/>
<linearGradient id="t791" href="#yg" gradientUnits="userSpaceOnUse" x1="184.1" y1="1793.3" x2="319.0" y2="1780.4"/>
<path d="M184.1 1793.3L251.5 1783.6L319.0 1780.4" stroke="url(#t791)" stroke-dasharray="0 4.38"/>
<linearGradient id="t792" href="#yg" gradientUnits="userSpaceOnUse" x1="227.5" y1="1783.0" x2="369.7" y2="1776.6"/>
<path d="M227.5 1783.0L298.6 1780.7L369.7 1776.6" stroke="url(#t792)" stroke-dasharray="0 4.59"/>
<linearGradient id="t793" href="#yg" gradientUnits="userSpaceOnUse" x1="530.4" y1="1781.2" x2="673.5" y2="1762.5"/>
<path d="M530.4 1781.2L602.0 1775.6L673.5 1762.5" stroke="url(#t793)" stroke-dasharray="0 4.66"/>
<linearGradient id="t794" href="#yg" gradientUnits="userSpaceOnUse" x1="360.4" y1="1852.0" x2="497.1" y2="1827.0"/>
<path d="M360.4 1852.0L428.7 1844.1L497.1 1827.0" stroke="url(#t794)" stroke-dasharray="0 4.49"/>
<linearGradient id="t795" href="#yg" gradientUnits="userSpaceOnUse" x1="354.7" y1="1818.3" x2="462.3" y2="1802.0"/>
<path d="M354.7 1818.3L408.5 1810.5L462.3 1802.0" stroke="url(#t795)" stroke-dasharray="0 3.51"/>
<linearGradient id="t796" href="#yg" gradientUnits="userSpaceOnUse" x1="227.1" y1="1778.7" x2="327.5" y2="1778.4"/>
<path d="M227.1 1778.7L277.3 1777.2L327.5 1778.4" stroke="url(#t796)" stroke-dasharray="0 3.24"/>
<linearGradient id="t797" href="#yg" gradientUnits="userSpaceOnUse" x1="572.6" y1="1775.2" x2="671.0" y2="1756.0"/>
<path d="M572.6 1775.2L621.8 1766.1L671.0 1756.0" stroke="url(#t797)" stroke-dasharray="0 3.23"/>
<linearGradient id="t798" href="#yg" gradientUnits="userSpaceOnUse" x1="331.0" y1="1753.6" x2="494.0" y2="1744.0"/>
<path d="M331.0 1753.6L412.5 1750.8L494.0 1744.0" stroke="url(#t798)" stroke-dasharray="0 5.27"/>
<linearGradient id="t799" href="#yg" gradientUnits="userSpaceOnUse" x1="460.2" y1="1846.2" x2="588.2" y2="1842.8"/>
<path d="M460.2 1846.2L524.2 1839.7L588.2 1842.8" stroke="url(#t799)" stroke-dasharray="0 4.14"/>
<linearGradient id="t800" href="#yg" gradientUnits="userSpaceOnUse" x1="290.8" y1="1833.9" x2="448.5" y2="1811.3"/>
<path d="M290.8 1833.9L369.7 1824.1L448.5 1811.3" stroke="url(#t800)" stroke-dasharray="0 5.14"/>
<linearGradient id="t801" href="#yg" gradientUnits="userSpaceOnUse" x1="559.1" y1="1843.1" x2="658.5" y2="1826.0"/>
<path d="M559.1 1843.1L608.8 1838.3L658.5 1826.0" stroke="url(#t801)" stroke-dasharray="0 3.26"/>
<linearGradient id="t802" href="#yg" gradientUnits="userSpaceOnUse" x1="544.9" y1="1760.1" x2="668.1" y2="1752.7"/>
<path d="M544.9 1760.1L606.5 1760.4L668.1 1752.7" stroke="url(#t802)" stroke-dasharray="0 3.99"/>
<linearGradient id="t803" href="#yg" gradientUnits="userSpaceOnUse" x1="385.7" y1="1770.8" x2="529.0" y2="1749.9"/>
<path d="M385.7 1770.8L457.3 1761.3L529.0 1749.9" stroke="url(#t803)" stroke-dasharray="0 4.67"/>
<linearGradient id="t804" href="#yg" gradientUnits="userSpaceOnUse" x1="456.3" y1="1811.6" x2="615.9" y2="1801.3"/>
<path d="M456.3 1811.6L536.1 1801.6L615.9 1801.3" stroke="url(#t804)" stroke-dasharray="0 5.17"/>
<linearGradient id="t805" href="#yg" gradientUnits="userSpaceOnUse" x1="531.9" y1="1802.6" x2="674.6" y2="1764.1"/>
<path d="M531.9 1802.6L603.3 1785.3L674.6 1764.1" stroke="url(#t805)" stroke-dasharray="0 4.77"/>
<linearGradient id="t806" href="#yg" gradientUnits="userSpaceOnUse" x1="249.2" y1="1811.1" x2="408.1" y2="1792.9"/>
<path d="M249.2 1811.1L328.7 1803.8L408.1 1792.9" stroke="url(#t806)" stroke-dasharray="0 5.16"/>
<linearGradient id="t807" href="#yg" gradientUnits="userSpaceOnUse" x1="357.0" y1="1756.0" x2="469.3" y2="1746.8"/>
<path d="M357.0 1756.0L413.2 1746.9L469.3 1746.8" stroke="url(#t807)" stroke-dasharray="0 3.65"/>
<linearGradient id="t808" href="#yg" gradientUnits="userSpaceOnUse" x1="224.8" y1="1780.6" x2="368.6" y2="1773.2"/>
<path d="M224.8 1780.6L296.7 1779.0L368.6 1773.2" stroke="url(#t808)" stroke-dasharray="0 4.65"/>
<linearGradient id="t809" href="#yg" gradientUnits="userSpaceOnUse" x1="274.0" y1="1826.0" x2="415.4" y2="1810.4"/>
<path d="M274.0 1826.0L344.7 1814.5L415.4 1810.4" stroke="url(#t809)" stroke-dasharray="0 4.60"/>
<linearGradient id="t810" href="#yg" gradientUnits="userSpaceOnUse" x1="372.2" y1="1817.8" x2="490.3" y2="1793.6"/>
<path d="M372.2 1817.8L431.3 1810.3L490.3 1793.6" stroke="url(#t810)" stroke-dasharray="0 3.90"/>
<linearGradient id="t811" href="#yg" gradientUnits="userSpaceOnUse" x1="378.2" y1="1866.0" x2="519.2" y2="1829.0"/>
<path d="M378.2 1866.0L448.7 1851.1L519.2 1829.0" stroke="url(#t811)" stroke-dasharray="0 4.71"/>
<linearGradient id="t812" href="#yg" gradientUnits="userSpaceOnUse" x1="327.0" y1="1757.1" x2="432.7" y2="1750.8"/>
<path d="M327.0 1757.1L379.9 1752.9L432.7 1750.8" stroke="url(#t812)" stroke-dasharray="0 3.42"/>
<linearGradient id="t813" href="#yg" gradientUnits="userSpaceOnUse" x1="179.2" y1="1788.3" x2="309.3" y2="1784.5"/>
<path d="M179.2 1788.3L244.2 1783.9L309.3 1784.5" stroke="url(#t813)" stroke-dasharray="0 4.20"/>
<linearGradient id="t814" href="#yg" gradientUnits="userSpaceOnUse" x1="393.8" y1="1760.1" x2="499.8" y2="1742.7"/>
<path d="M393.8 1760.1L446.8 1755.1L499.8 1742.7" stroke="url(#t814)" stroke-dasharray="0 3.47"/>
<linearGradient id="t815" href="#yg" gradientUnits="userSpaceOnUse" x1="177.4" y1="1790.5" x2="326.3" y2="1781.8"/>
<path d="M177.4 1790.5L251.9 1789.1L326.3 1781.8" stroke="url(#t815)" stroke-dasharray="0 4.81"/>
<linearGradient id="t816" href="#yg" gradientUnits="userSpaceOnUse" x1="342.3" y1="1835.7" x2="493.3" y2="1805.7"/>
<path d="M342.3 1835.7L417.8 1817.9L493.3 1805.7" stroke="url(#t816)" stroke-dasharray="0 4.97"/>
<linearGradient id="t817" href="#yg" gradientUnits="userSpaceOnUse" x1="343.8" y1="1748.1" x2="453.3" y2="1743.5"/>
<path d="M343.8 1748.1L398.5 1741.5L453.3 1743.5" stroke="url(#t817)" stroke-dasharray="0 3.54"/>
<linearGradient id="t818" href="#yg" gradientUnits="userSpaceOnUse" x1="501.8" y1="1833.4" x2="602.5" y2="1801.7"/>
<path d="M501.8 1833.4L552.1 1815.2L602.5 1801.7" stroke="url(#t818)" stroke-dasharray="0 3.41"/>
<linearGradient id="t819" href="#yg" gradientUnits="userSpaceOnUse" x1="407.4" y1="1789.1" x2="569.0" y2="1749.3"/>
<path d="M407.4 1789.1L488.2 1767.0L569.0 1749.3" stroke="url(#t819)" stroke-dasharray="0 5.37"/>
<linearGradient id="t820" href="#yg" gradientUnits="userSpaceOnUse" x1="160.4" y1="1799.8" x2="324.6" y2="1794.4"/>
<path d="M160.4 1799.8L242.5 1793.7L324.6 1794.4" stroke="url(#t820)" stroke-dasharray="0 5.30"/>
<linearGradient id="t821" href="#yg" gradientUnits="userSpaceOnUse" x1="353.1" y1="1747.3" x2="470.6" y2="1737.7"/>
<path d="M353.1 1747.3L411.9 1746.2L470.6 1737.7" stroke="url(#t821)" stroke-dasharray="0 3.81"/>
<linearGradient id="t822" href="#yg" gradientUnits="userSpaceOnUse" x1="542.5" y1="1818.2" x2="679.2" y2="1776.9"/>
<path d="M542.5 1818.2L610.8 1798.0L679.2 1776.9" stroke="url(#t822)" stroke-dasharray="0 4.61"/>
<linearGradient id="t823" href="#yg" gradientUnits="userSpaceOnUse" x1="311.7" y1="1836.2" x2="468.3" y2="1803.6"/>
<path d="M311.7 1836.2L390.0 1815.6L468.3 1803.6" stroke="url(#t823)" stroke-dasharray="0 5.17"/>
<linearGradient id="t824" href="#yg" gradientUnits="userSpaceOnUse" x1="408.8" y1="1815.9" x2="565.1" y2="1768.7"/>
<path d="M408.8 1815.9L486.9 1793.6L565.1 1768.7" stroke="url(#t824)" stroke-dasharray="0 5.27"/>
<linearGradient id="t825" href="#yg" gradientUnits="userSpaceOnUse" x1="298.1" y1="1805.6" x2="406.5" y2="1793.2"/>
<path d="M298.1 1805.6L352.3 1803.0L406.5 1793.2" stroke="url(#t825)" stroke-dasharray="0 3.52"/>
<linearGradient id="t826" href="#yg" gradientUnits="userSpaceOnUse" x1="317.9" y1="1743.5" x2="459.8" y2="1738.9"/>
<path d="M317.9 1743.5L388.8 1736.9L459.8 1738.9" stroke="url(#t826)" stroke-dasharray="0 4.59"/>
<linearGradient id="t827" href="#yg" gradientUnits="userSpaceOnUse" x1="533.3" y1="1810.1" x2="634.5" y2="1790.1"/>
<path d="M533.3 1810.1L583.9 1800.9L634.5 1790.1" stroke="url(#t827)" stroke-dasharray="0 3.33"/>
<linearGradient id="t828" href="#yg" gradientUnits="userSpaceOnUse" x1="232.4" y1="1768.8" x2="373.7" y2="1767.7"/>
<path d="M232.4 1768.8L303.0 1767.6L373.7 1767.7" stroke="url(#t828)" stroke-dasharray="0 4.56"/>
<linearGradient id="t829" href="#yg" gradientUnits="userSpaceOnUse" x1="402.7" y1="1809.6" x2="554.0" y2="1801.8"/>
<path d="M402.7 1809.6L478.4 1806.2L554.0 1801.8" stroke="url(#t829)" stroke-dasharray="0 4.89"/>
<linearGradient id="t830" href="#yg" gradientUnits="userSpaceOnUse" x1="515.5" y1="1855.6" x2="619.7" y2="1825.6"/>
<path d="M515.5 1855.6L567.6 1845.5L619.7 1825.6" stroke="url(#t830)" stroke-dasharray="0 3.51"/>
<linearGradient id="t831" href="#yg" gradientUnits="userSpaceOnUse" x1="579.2" y1="1717.9" x2="614.2" y2="1715.1"/>
<path d="M579.2 1717.9L596.7 1714.3L614.2 1715.1" stroke="url(#t831)" stroke-dasharray="0 1.14"/>
<linearGradient id="t832" href="#yg" gradientUnits="userSpaceOnUse" x1="515.6" y1="1760.1" x2="622.1" y2="1745.0"/>
<path d="M515.6 1760.1L568.8 1754.7L622.1 1745.0" stroke="url(#t832)" stroke-dasharray="0 3.47"/>
<linearGradient id="t833" href="#yg" gradientUnits="userSpaceOnUse" x1="324.1" y1="1847.8" x2="432.3" y2="1835.2"/>
<path d="M324.1 1847.8L378.2 1837.2L432.3 1835.2" stroke="url(#t833)" stroke-dasharray="0 3.53"/>
<linearGradient id="t834" href="#yg" gradientUnits="userSpaceOnUse" x1="411.1" y1="1770.3" x2="550.5" y2="1759.6"/>
<path d="M411.1 1770.3L480.8 1768.8L550.5 1759.6" stroke="url(#t834)" stroke-dasharray="0 4.52"/>
<linearGradient id="t835" href="#yg" gradientUnits="userSpaceOnUse" x1="599.3" y1="1753.0" x2="634.3" y2="1743.1"/>
<path d="M599.3 1753.0L616.8 1744.3L634.3 1743.1" stroke="url(#t835)" stroke-dasharray="0 1.20"/>
<linearGradient id="t836" href="#yg" gradientUnits="userSpaceOnUse" x1="275.3" y1="1767.1" x2="368.2" y2="1764.7"/>
<path d="M275.3 1767.1L321.7 1762.0L368.2 1764.7" stroke="url(#t836)" stroke-dasharray="0 3.01"/>
<linearGradient id="t837" href="#yg" gradientUnits="userSpaceOnUse" x1="361.1" y1="1782.8" x2="468.0" y2="1757.8"/>
<path d="M361.1 1782.8L414.6 1767.7L468.0 1757.8" stroke="url(#t837)" stroke-dasharray="0 3.55"/>
<linearGradient id="t838" href="#yg" gradientUnits="userSpaceOnUse" x1="336.4" y1="1808.1" x2="489.0" y2="1777.8"/>
<path d="M336.4 1808.1L412.7 1795.4L489.0 1777.8" stroke="url(#t838)" stroke-dasharray="0 5.02"/>
<linearGradient id="t839" href="#yg" gradientUnits="userSpaceOnUse" x1="465.9" y1="1814.1" x2="628.0" y2="1763.2"/>
<path d="M465.9 1814.1L547.0 1784.3L628.0 1763.2" stroke="url(#t839)" stroke-dasharray="0 5.49"/>
<linearGradient id="t840" href="#yg" gradientUnits="userSpaceOnUse" x1="213.2" y1="1791.8" x2="341.6" y2="1787.6"/>
<path d="M213.2 1791.8L277.4 1793.7L341.6 1787.6" stroke="url(#t840)" stroke-dasharray="0 4.15"/>
<linearGradient id="t841" href="#yg" gradientUnits="userSpaceOnUse" x1="386.6" y1="1730.2" x2="492.1" y2="1726.6"/>
<path d="M386.6 1730.2L439.4 1731.8L492.1 1726.6" stroke="url(#t841)" stroke-dasharray="0 3.41"/>
<linearGradient id="t842" href="#yg" gradientUnits="userSpaceOnUse" x1="257.3" y1="1795.1" x2="391.6" y2="1790.5"/>
<path d="M257.3 1795.1L324.5 1788.7L391.6 1790.5" stroke="url(#t842)" stroke-dasharray="0 4.34"/>
<linearGradient id="t843" href="#yg" gradientUnits="userSpaceOnUse" x1="301.6" y1="1760.4" x2="450.9" y2="1755.4"/>
<path d="M301.6 1760.4L376.2 1759.3L450.9 1755.4" stroke="url(#t843)" stroke-dasharray="0 4.82"/>
<linearGradient id="t844" href="#yg" gradientUnits="userSpaceOnUse" x1="197.7" y1="1795.1" x2="326.2" y2="1780.1"/>
<path d="M197.7 1795.1L262.0 1785.7L326.2 1780.1" stroke="url(#t844)" stroke-dasharray="0 4.17"/>
<linearGradient id="t845" href="#yg" gradientUnits="userSpaceOnUse" x1="304.4" y1="1838.4" x2="400.9" y2="1820.5"/>
<path d="M304.4 1838.4L352.7 1827.0L400.9 1820.5" stroke="url(#t845)" stroke-dasharray="0 3.17"/>
<linearGradient id="t846" href="#yg" gradientUnits="userSpaceOnUse" x1="222.8" y1="1793.2" x2="360.0" y2="1790.3"/>
<path d="M222.8 1793.2L291.4 1792.5L360.0 1790.3" stroke="url(#t846)" stroke-dasharray="0 4.43"/>
<linearGradient id="t847" href="#yg" gradientUnits="userSpaceOnUse" x1="275.3" y1="1842.9" x2="432.9" y2="1834.5"/>
<path d="M275.3 1842.9L354.1 1843.3L432.9 1834.5" stroke="url(#t847)" stroke-dasharray="0 5.10"/>
<linearGradient id="t848" href="#yg" gradientUnits="userSpaceOnUse" x1="517.5" y1="1759.3" x2="647.5" y2="1738.9"/>
<path d="M517.5 1759.3L582.5 1745.2L647.5 1738.9" stroke="url(#t848)" stroke-dasharray="0 4.25"/>
<linearGradient id="t849" href="#yg" gradientUnits="userSpaceOnUse" x1="209.4" y1="1776.1" x2="371.7" y2="1773.2"/>
<path d="M209.4 1776.1L290.6 1774.2L371.7 1773.2" stroke="url(#t849)" stroke-dasharray="0 5.23"/>
<linearGradient id="t850" href="#yg" gradientUnits="userSpaceOnUse" x1="388.8" y1="1782.1" x2="547.8" y2="1751.8"/>
<path d="M388.8 1782.1L468.3 1767.3L547.8 1751.8" stroke="url(#t850)" stroke-dasharray="0 5.22"/>
<linearGradient id="t851" href="#yg" gradientUnits="userSpaceOnUse" x1="459.5" y1="1777.6" x2="562.9" y2="1766.6"/>
<path d="M459.5 1777.6L511.2 1767.4L562.9 1766.6" stroke="url(#t851)" stroke-dasharray="0 3.37"/>
<linearGradient id="t852" href="#yg" gradientUnits="userSpaceOnUse" x1="203.7" y1="1795.5" x2="351.2" y2="1788.4"/>
<path d="M203.7 1795.5L277.5 1794.8L351.2 1788.4" stroke="url(#t852)" stroke-dasharray="0 4.77"/>
<linearGradient id="t853" href="#yg" gradientUnits="userSpaceOnUse" x1="271.2" y1="1802.1" x2="397.3" y2="1791.8"/>
<path d="M271.2 1802.1L334.3 1798.2L397.3 1791.8" stroke="url(#t853)" stroke-dasharray="0 4.08"/>
<linearGradient id="t854" href="#yg" gradientUnits="userSpaceOnUse" x1="567.4" y1="1791.4" x2="676.7" y2="1769.9"/>
<path d="M567.4 1791.4L622.0 1779.0L676.7 1769.9" stroke="url(#t854)" stroke-dasharray="0 3.59"/>
<linearGradient id="t855" href="#yg" gradientUnits="userSpaceOnUse" x1="341.9" y1="1850.8" x2="497.1" y2="1830.2"/>
<path d="M341.9 1850.8L419.5 1845.2L497.1 1830.2" stroke="url(#t855)" stroke-dasharray="0 5.06"/>
<linearGradient id="t856" href="#yg" gradientUnits="userSpaceOnUse" x1="586.3" y1="1822.0" x2="674.2" y2="1801.8"/>
<path d="M586.3 1822.0L630.2 1811.3L674.2 1801.8" stroke="url(#t856)" stroke-dasharray="0 2.91"/>
<linearGradient id="t857" href="#yg" gradientUnits="userSpaceOnUse" x1="417.7" y1="1784.4" x2="538.7" y2="1766.4"/>
<path d="M417.7 1784.4L478.2 1779.4L538.7 1766.4" stroke="url(#t857)" stroke-dasharray="0 3.95"/>
<linearGradient id="t858" href="#yg" gradientUnits="userSpaceOnUse" x1="485.7" y1="1838.3" x2="610.1" y2="1791.8"/>
<path d="M485.7 1838.3L547.9 1818.1L610.1 1791.8" stroke="url(#t858)" stroke-dasharray="0 4.29"/>
<linearGradient id="t859" href="#yg" gradientUnits="userSpaceOnUse" x1="570.5" y1="1864.6" x2="666.2" y2="1820.6"/>
<path d="M570.5 1864.6L618.3 1842.4L666.2 1820.6" stroke="url(#t859)" stroke-dasharray="0 3.40"/>
<linearGradient id="t860" href="#yg" gradientUnits="userSpaceOnUse" x1="520.9" y1="1800.7" x2="633.3" y2="1765.9"/>
<path d="M520.9 1800.7L577.1 1782.8L633.3 1765.9" stroke="url(#t860)" stroke-dasharray="0 3.80"/>
<linearGradient id="t861" href="#yg" gradientUnits="userSpaceOnUse" x1="288.5" y1="1789.2" x2="398.9" y2="1786.8"/>
<path d="M288.5 1789.2L343.7 1785.1L398.9 1786.8" stroke="url(#t861)" stroke-dasharray="0 3.57"/>
<linearGradient id="t862" href="#yg" gradientUnits="userSpaceOnUse" x1="426.5" y1="1815.8" x2="588.9" y2="1755.0"/>
<path d="M426.5 1815.8L507.7 1789.2L588.9 1755.0" stroke="url(#t862)" stroke-dasharray="0 5.60"/>
<linearGradient id="t863" href="#yg" gradientUnits="userSpaceOnUse" x1="321.6" y1="1771.0" x2="473.1" y2="1769.6"/>
<path d="M321.6 1771.0L397.3 1769.7L473.1 1769.6" stroke="url(#t863)" stroke-dasharray="0 4.89"/>
<linearGradient id="t864" href="#yg" gradientUnits="userSpaceOnUse" x1="494.1" y1="1771.6" x2="620.3" y2="1730.7"/>
<path d="M494.1 1771.6L557.2 1753.6L620.3 1730.7" stroke="url(#t864)" stroke-dasharray="0 4.28"/>
<linearGradient id="t865" href="#yg" gradientUnits="userSpaceOnUse" x1="199.2" y1="1799.7" x2="308.7" y2="1790.6"/>
<path d="M199.2 1799.7L254.0 1797.3L308.7 1790.6" stroke="url(#t865)" stroke-dasharray="0 3.54"/>
<linearGradient id="t866" href="#yg" gradientUnits="userSpaceOnUse" x1="220.9" y1="1785.7" x2="376.8" y2="1784.6"/>
<path d="M220.9 1785.7L298.8 1789.2L376.8 1784.6" stroke="url(#t866)" stroke-dasharray="0 5.04"/>
<linearGradient id="t867" href="#yg" gradientUnits="userSpaceOnUse" x1="238.4" y1="1789.0" x2="366.1" y2="1781.4"/>
<path d="M238.4 1789.0L302.3 1788.5L366.1 1781.4" stroke="url(#t867)" stroke-dasharray="0 4.13"/>
<linearGradient id="t868" href="#yg" gradientUnits="userSpaceOnUse" x1="403.9" y1="1735.8" x2="550.0" y2="1725.9"/>
<path d="M403.9 1735.8L476.9 1730.4L550.0 1725.9" stroke="url(#t868)" stroke-dasharray="0 4.72"/>
<linearGradient id="t869" href="#yg" gradientUnits="userSpaceOnUse" x1="558.9" y1="1820.1" x2="681.2" y2="1778.2"/>
<path d="M558.9 1820.1L620.1 1795.3L681.2 1778.2" stroke="url(#t869)" stroke-dasharray="0 4.18"/>
<linearGradient id="t870" href="#yg" gradientUnits="userSpaceOnUse" x1="161.6" y1="1797.8" x2="281.4" y2="1791.4"/>
<path d="M161.6 1797.8L221.5 1791.6L281.4 1791.4" stroke="url(#t870)" stroke-dasharray="0 3.87"/>
<linearGradient id="t871" href="#yg" gradientUnits="userSpaceOnUse" x1="332.6" y1="1824.7" x2="450.7" y2="1801.4"/>
<path d="M332.6 1824.7L391.6 1817.8L450.7 1801.4" stroke="url(#t871)" stroke-dasharray="0 3.89"/>
<linearGradient id="t872" href="#yg" gradientUnits="userSpaceOnUse" x1="314.0" y1="1865.2" x2="448.2" y2="1836.3"/>
<path d="M314.0 1865.2L381.1 1847.0L448.2 1836.3" stroke="url(#t872)" stroke-dasharray="0 4.43"/>
<linearGradient id="t873" href="#yg" gradientUnits="userSpaceOnUse" x1="566.2" y1="1728.5" x2="613.0" y2="1725.3"/>
<path d="M566.2 1728.5L589.6 1726.2L613.0 1725.3" stroke="url(#t873)" stroke-dasharray="0 1.52"/>
<linearGradient id="t874" href="#yg" gradientUnits="userSpaceOnUse" x1="180.2" y1="1792.9" x2="286.7" y2="1785.2"/>
<path d="M180.2 1792.9L233.4 1784.6L286.7 1785.2" stroke="url(#t874)" stroke-dasharray="0 3.46"/>
<linearGradient id="t875" href="#yg" gradientUnits="userSpaceOnUse" x1="303.6" y1="1867.5" x2="405.6" y2="1859.1"/>
<path d="M303.6 1867.5L354.6 1859.5L405.6 1859.1" stroke="url(#t875)" stroke-dasharray="0 3.31"/>
<linearGradient id="t876" href="#yg" gradientUnits="userSpaceOnUse" x1="350.6" y1="1784.7" x2="496.5" y2="1767.4"/>
<path d="M350.6 1784.7L423.6 1779.3L496.5 1767.4" stroke="url(#t876)" stroke-dasharray="0 4.75"/>
<linearGradient id="t877" href="#yg" gradientUnits="userSpaceOnUse" x1="425.5" y1="1747.9" x2="569.7" y2="1730.7"/>
<path d="M425.5 1747.9L497.6 1737.2L569.7 1730.7" stroke="url(#t877)" stroke-dasharray="0 4.69"/>
<linearGradient id="t878" href="#yg" gradientUnits="userSpaceOnUse" x1="488.2" y1="1727.4" x2="613.4" y2="1720.8"/>
<path d="M488.2 1727.4L550.8 1728.9L613.4 1720.8" stroke="url(#t878)" stroke-dasharray="0 4.06"/>
<linearGradient id="t879" href="#yg" gradientUnits="userSpaceOnUse" x1="516.3" y1="1836.4" x2="666.0" y2="1749.2"/>
<path d="M516.3 1836.4L591.1 1795.4L666.0 1749.2" stroke="url(#t879)" stroke-dasharray="0 5.59"/>
<linearGradient id="t880" href="#yg" gradientUnits="userSpaceOnUse" x1="552.0" y1="1800.4" x2="680.1" y2="1779.5"/>
<path d="M552.0 1800.4L616.0 1788.4L680.1 1779.5" stroke="url(#t880)" stroke-dasharray="0 4.19"/>
<linearGradient id="t881" href="#yg" gradientUnits="userSpaceOnUse" x1="476.1" y1="1838.8" x2="575.4" y2="1812.7"/>
<path d="M476.1 1838.8L525.8 1825.3L575.4 1812.7" stroke="url(#t881)" stroke-dasharray="0 3.31"/>
<linearGradient id="t882" href="#yg" gradientUnits="userSpaceOnUse" x1="549.9" y1="1742.9" x2="622.0" y2="1727.5"/>
<path d="M549.9 1742.9L585.9 1733.8L622.0 1727.5" stroke="url(#t882)" stroke-dasharray="0 2.38"/>
<linearGradient id="t883" href="#yg" gradientUnits="userSpaceOnUse" x1="257.0" y1="1823.6" x2="350.8" y2="1817.6"/>
<path d="M257.0 1823.6L303.9 1823.8L350.8 1817.6" stroke="url(#t883)" stroke-dasharray="0 3.04"/>
<linearGradient id="t884" href="#yg" gradientUnits="userSpaceOnUse" x1="368.0" y1="1752.6" x2="524.6" y2="1743.6"/>
<path d="M368.0 1752.6L446.3 1749.6L524.6 1743.6" stroke="url(#t884)" stroke-dasharray="0 5.06"/>
<linearGradient id="t885" href="#yg" gradientUnits="userSpaceOnUse" x1="554.0" y1="1754.6" x2="626.6" y2="1740.1"/>
<path d="M554.0 1754.6L590.3 1746.8L626.6 1740.1" stroke="url(#t885)" stroke-dasharray="0 2.39"/>
<linearGradient id="t886" href="#yg" gradientUnits="userSpaceOnUse" x1="586.7" y1="1785.5" x2="669.6" y2="1760.8"/>
<path d="M586.7 1785.5L628.2 1777.0L669.6 1760.8" stroke="url(#t886)" stroke-dasharray="0 2.80"/>
<linearGradient id="t887" href="#yg" gradientUnits="userSpaceOnUse" x1="305.5" y1="1747.3" x2="446.4" y2="1745.5"/>
<path d="M305.5 1747.3L375.9 1749.9L446.4 1745.5" stroke="url(#t887)" stroke-dasharray="0 4.55"/>
<linearGradient id="t888" href="#yg" gradientUnits="userSpaceOnUse" x1="498.2" y1="1776.8" x2="604.0" y2="1764.2"/>
<path d="M498.2 1776.8L551.1 1770.5L604.0 1764.2" stroke="url(#t888)" stroke-dasharray="0 3.44"/>
<linearGradient id="t889" href="#yg" gradientUnits="userSpaceOnUse" x1="345.4" y1="1720.1" x2="445.9" y2="1719.0"/>
<path d="M345.4 1720.1L395.6 1722.0L445.9 1719.0" stroke="url(#t889)" stroke-dasharray="0 3.24"/>
<linearGradient id="t890" href="#yg" gradientUnits="userSpaceOnUse" x1="570.2" y1="1784.6" x2="609.9" y2="1762.1"/>
<path d="M570.2 1784.6L590.1 1775.6L609.9 1762.1" stroke="url(#t890)" stroke-dasharray="0 1.48"/>
<linearGradient id="t891" href="#yg" gradientUnits="userSpaceOnUse" x1="362.4" y1="1811.4" x2="501.3" y2="1775.4"/>
<path d="M362.4 1811.4L431.8 1796.5L501.3 1775.4" stroke="url(#t891)" stroke-dasharray="0 4.63"/>
<linearGradient id="t892" href="#yg" gradientUnits="userSpaceOnUse" x1="206.4" y1="1784.8" x2="311.8" y2="1783.5"/>
<path d="M206.4 1784.8L259.1 1780.4L311.8 1783.5" stroke="url(#t892)" stroke-dasharray="0 3.41"/>
<linearGradient id="t893" href="#yg" gradientUnits="userSpaceOnUse" x1="525.6" y1="1741.2" x2="629.8" y2="1732.1"/>
<path d="M525.6 1741.2L577.7 1735.7L629.8 1732.1" stroke="url(#t893)" stroke-dasharray="0 3.37"/>
<linearGradient id="t894" href="#yg" gradientUnits="userSpaceOnUse" x1="525.8" y1="1821.9" x2="666.9" y2="1765.8"/>
<path d="M525.8 1821.9L596.3 1789.4L666.9 1765.8" stroke="url(#t894)" stroke-dasharray="0 4.91"/>
<linearGradient id="t895" href="#yg" gradientUnits="userSpaceOnUse" x1="342.6" y1="1859.4" x2="471.3" y2="1852.7"/>
<path d="M342.6 1859.4L406.9 1852.1L471.3 1852.7" stroke="url(#t895)" stroke-dasharray="0 4.17"/>
<linearGradient id="t896" href="#yg" gradientUnits="userSpaceOnUse" x1="218.6" y1="1805.1" x2="311.6" y2="1801.6"/>
<path d="M218.6 1805.1L265.1 1803.9L311.6 1801.6" stroke="url(#t896)" stroke-dasharray="0 3.00"/>
<linearGradient id="t897" href="#yg" gradientUnits="userSpaceOnUse" x1="224.2" y1="1779.4" x2="338.5" y2="1771.7"/>
<path d="M224.2 1779.4L281.3 1771.4L338.5 1771.7" stroke="url(#t897)" stroke-dasharray="0 3.71"/>
<linearGradient id="t898" href="#yg" gradientUnits="userSpaceOnUse" x1="447.1" y1="1858.8" x2="604.9" y2="1826.5"/>
<path d="M447.1 1858.8L526.0 1841.8L604.9 1826.5" stroke="url(#t898)" stroke-dasharray="0 5.20"/>
<linearGradient id="t899" href="#yg" gradientUnits="userSpaceOnUse" x1="408.2" y1="1770.9" x2="530.4" y2="1758.5"/>
<path d="M408.2 1770.9L469.3 1766.6L530.4 1758.5" stroke="url(#t899)" stroke-dasharray="0 3.96"/>
<linearGradient id="t900" href="#yg" gradientUnits="userSpaceOnUse" x1="269.8" y1="1760.4" x2="410.3" y2="1756.1"/>
<path d="M269.8 1760.4L340.1 1753.4L410.3 1756.1" stroke="url(#t900)" stroke-dasharray="0 4.55"/>
<linearGradient id="t901" href="#yg" gradientUnits="userSpaceOnUse" x1="541.9" y1="1787.7" x2="643.2" y2="1766.6"/>
<path d="M541.9 1787.7L592.6 1781.5L643.2 1766.6" stroke="url(#t901)" stroke-dasharray="0 3.35"/>
<linearGradient id="t902" href="#yg" gradientUnits="userSpaceOnUse" x1="506.7" y1="1738.4" x2="604.9" y2="1722.2"/>
<path d="M506.7 1738.4L555.8 1734.1L604.9 1722.2" stroke="url(#t902)" stroke-dasharray="0 3.22"/>
<linearGradient id="t903" href="#yg" gradientUnits="userSpaceOnUse" x1="536.3" y1="1812.9" x2="662.0" y2="1746.1"/>
<path d="M536.3 1812.9L599.1 1775.1L662.0 1746.1" stroke="url(#t903)" stroke-dasharray="0 4.60"/>
<linearGradient id="t904" href="#yg" gradientUnits="userSpaceOnUse" x1="457.3" y1="1857.6" x2="548.1" y2="1851.3"/>
<path d="M457.3 1857.6L502.7 1853.7L548.1 1851.3" stroke="url(#t904)" stroke-dasharray="0 2.94"/>
<linearGradient id="t905" href="#yg" gradientUnits="userSpaceOnUse" x1="542.7" y1="1843.6" x2="656.8" y2="1795.3"/>
<path d="M542.7 1843.6L599.7 1817.7L656.8 1795.3" stroke="url(#t905)" stroke-dasharray="0 4.00"/>
<linearGradient id="t906" href="#yg" gradientUnits="userSpaceOnUse" x1="319.8" y1="1752.2" x2="424.8" y2="1744.6"/>
<path d="M319.8 1752.2L372.3 1749.1L424.8 1744.6" stroke="url(#t906)" stroke-dasharray="0 3.40"/>
<linearGradient id="t907" href="#yg" gradientUnits="userSpaceOnUse" x1="252.0" y1="1766.9" x2="379.9" y2="1764.1"/>
<path d="M252.0 1766.9L315.9 1763.3L379.9 1764.1" stroke="url(#t907)" stroke-dasharray="0 4.13"/>
<linearGradient id="t908" href="#yg" gradientUnits="userSpaceOnUse" x1="403.8" y1="1757.9" x2="561.8" y2="1748.0"/>
<path d="M403.8 1757.9L482.8 1750.5L561.8 1748.0" stroke="url(#t908)" stroke-dasharray="0 5.11"/>
<linearGradient id="t909" href="#yg" gradientUnits="userSpaceOnUse" x1="182.3" y1="1785.9" x2="291.0" y2="1784.0"/>
<path d="M182.3 1785.9L236.7 1786.4L291.0 1784.0" stroke="url(#t909)" stroke-dasharray="0 3.51"/>
<linearGradient id="t910" href="#yg" gradientUnits="userSpaceOnUse" x1="262.7" y1="1789.2" x2="377.5" y2="1787.4"/>
<path d="M262.7 1789.2L320.1 1787.8L377.5 1787.4" stroke="url(#t910)" stroke-dasharray="0 3.71"/>
<linearGradient id="t911" href="#yg" gradientUnits="userSpaceOnUse" x1="186.5" y1="1786.1" x2="332.1" y2="1784.2"/>
<path d="M186.5 1786.1L259.3 1783.3L332.1 1784.2" stroke="url(#t911)" stroke-dasharray="0 4.70"/>
<linearGradient id="t912" href="#yg" gradientUnits="userSpaceOnUse" x1="426.4" y1="1735.5" x2="546.1" y2="1730.3"/>
<path d="M426.4 1735.5L486.3 1734.4L546.1 1730.3" stroke="url(#t912)" stroke-dasharray="0 3.87"/>
<linearGradient id="t913" href="#yg" gradientUnits="userSpaceOnUse" x1="561.3" y1="1864.2" x2="654.7" y2="1854.9"/>
<path d="M561.3 1864.2L608.0 1863.2L654.7 1854.9" stroke="url(#t913)" stroke-dasharray="0 3.04"/>
<linearGradient id="t914" href="#yg" gradientUnits="userSpaceOnUse" x1="459.8" y1="1785.3" x2="622.1" y2="1755.9"/>
<path d="M459.8 1785.3L540.9 1772.5L622.1 1755.9" stroke="url(#t914)" stroke-dasharray="0 5.32"/>
<linearGradient id="t915" href="#yg" gradientUnits="userSpaceOnUse" x1="535.6" y1="1736.3" x2="625.7" y2="1729.4"/>
<path d="M535.6 1736.3L580.6 1728.1L625.7 1729.4" stroke="url(#t915)" stroke-dasharray="0 2.93"/>
<linearGradient id="t916" href="#yg" gradientUnits="userSpaceOnUse" x1="447.8" y1="1726.2" x2="590.1" y2="1719.4"/>
<path d="M447.8 1726.2L518.9 1722.0L590.1 1719.4" stroke="url(#t916)" stroke-dasharray="0 4.60"/>
<linearGradient id="t917" href="#yg" gradientUnits="userSpaceOnUse" x1="388.3" y1="1773.7" x2="491.3" y2="1761.4"/>
<path d="M388.3 1773.7L439.8 1772.4L491.3 1761.4" stroke="url(#t917)" stroke-dasharray="0 3.36"/>
<linearGradient id="t918" href="#yg" gradientUnits="userSpaceOnUse" x1="579.8" y1="1817.9" x2="672.3" y2="1804.9"/>
<path d="M579.8 1817.9L626.0 1810.9L672.3 1804.9" stroke="url(#t918)" stroke-dasharray="0 3.01"/>
<linearGradient id="t919" href="#yg" gradientUnits="userSpaceOnUse" x1="555.2" y1="1762.7" x2="665.1" y2="1745.5"/>
<path d="M555.2 1762.7L610.2 1751.6L665.1 1745.5" stroke="url(#t919)" stroke-dasharray="0 3.59"/>
<linearGradient id="t920" href="#yg" gradientUnits="userSpaceOnUse" x1="238.6" y1="1790.3" x2="336.4" y2="1786.7"/>
<path d="M238.6 1790.3L287.5 1791.0L336.4 1786.7" stroke="url(#t920)" stroke-dasharray="0 3.16"/>
<linearGradient id="t921" href="#yg" gradientUnits="userSpaceOnUse" x1="282.0" y1="1811.6" x2="374.2" y2="1806.3"/>
<path d="M282.0 1811.6L328.1 1805.2L374.2 1806.3" stroke="url(#t921)" stroke-dasharray="0 2.99"/>
<linearGradient id="t922" href="#yg" gradientUnits="userSpaceOnUse" x1="218.1" y1="1772.9" x2="380.1" y2="1768.4"/>
<path d="M218.1 1772.9L299.1 1766.3L380.1 1768.4" stroke="url(#t922)" stroke-dasharray="0 5.23"/>
<linearGradient id="t923" href="#yg" gradientUnits="userSpaceOnUse" x1="544.2" y1="1852.0" x2="672.5" y2="1806.1"/>
<path d="M544.2 1852.0L608.4 1828.2L672.5 1806.1" stroke="url(#t923)" stroke-dasharray="0 4.39"/>
<linearGradient id="t924" href="#yg" gradientUnits="userSpaceOnUse" x1="275.5" y1="1782.3" x2="379.1" y2="1781.2"/>
<path d="M275.5 1782.3L327.3 1779.7L379.1 1781.2" stroke="url(#t924)" stroke-dasharray="0 3.35"/>
<linearGradient id="t925" href="#yg" gradientUnits="userSpaceOnUse" x1="208.5" y1="1797.7" x2="323.1" y2="1788.8"/>
<path d="M208.5 1797.7L265.8 1795.6L323.1 1788.8" stroke="url(#t925)" stroke-dasharray="0 3.71"/>
<linearGradient id="t926" href="#yg" gradientUnits="userSpaceOnUse" x1="201.8" y1="1790.4" x2="333.2" y2="1776.5"/>
<path d="M201.8 1790.4L267.5 1782.8L333.2 1776.5" stroke="url(#t926)" stroke-dasharray="0 4.26"/>
<linearGradient id="t927" href="#yg" gradientUnits="userSpaceOnUse" x1="240.9" y1="1790.4" x2="333.5" y2="1787.1"/>
<path d="M240.9 1790.4L287.2 1793.7L333.5 1787.1" stroke="url(#t927)" stroke-dasharray="0 3.00"/>
<linearGradient id="t928" href="#yg" gradientUnits="userSpaceOnUse" x1="204.1" y1="1796.6" x2="336.6" y2="1781.3"/>
<path d="M204.1 1796.6L270.4 1793.5L336.6 1781.3" stroke="url(#t928)" stroke-dasharray="0 4.31"/>
<linearGradient id="t929" href="#yg" gradientUnits="userSpaceOnUse" x1="385.8" y1="1828.5" x2="503.9" y2="1797.7"/>
<path d="M385.8 1828.5L444.9 1813.2L503.9 1797.7" stroke="url(#t929)" stroke-dasharray="0 3.94"/>
<linearGradient id="t930" href="#yg" gradientUnits="userSpaceOnUse" x1="475.1" y1="1861.2" x2="630.1" y2="1817.3"/>
<path d="M475.1 1861.2L552.6 1841.8L630.1 1817.3" stroke="url(#t930)" stroke-dasharray="0 5.20"/>
<linearGradient id="t931" href="#yg" gradientUnits="userSpaceOnUse" x1="235.2" y1="1773.1" x2="360.0" y2="1770.7"/>
<path d="M235.2 1773.1L297.6 1767.9L360.0 1770.7" stroke="url(#t931)" stroke-dasharray="0 4.04"/>
<linearGradient id="t932" href="#yg" gradientUnits="userSpaceOnUse" x1="445.6" y1="1862.4" x2="567.7" y2="1821.9"/>
<path d="M445.6 1862.4L506.6 1842.1L567.7 1821.9" stroke="url(#t932)" stroke-dasharray="0 4.15"/>
<linearGradient id="t933" href="#yg" gradientUnits="userSpaceOnUse" x1="391.9" y1="1800.7" x2="495.3" y2="1799.2"/>
<path d="M391.9 1800.7L443.6 1804.9L495.3 1799.2" stroke="url(#t933)" stroke-dasharray="0 3.35"/>
<linearGradient id="t934" href="#yg" gradientUnits="userSpaceOnUse" x1="416.6" y1="1759.0" x2="558.1" y2="1740.7"/>
<path d="M416.6 1759.0L487.4 1745.3L558.1 1740.7" stroke="url(#t934)" stroke-dasharray="0 4.61"/>
<linearGradient id="t935" href="#yg" gradientUnits="userSpaceOnUse" x1="511.0" y1="1750.4" x2="641.8" y2="1736.1"/>
<path d="M511.0 1750.4L576.4 1746.5L641.8 1736.1" stroke="url(#t935)" stroke-dasharray="0 4.25"/>
<linearGradient id="t936" href="#yg" gradientUnits="userSpaceOnUse" x1="550.5" y1="1835.1" x2="677.4" y2="1794.9"/>
<path d="M550.5 1835.1L614.0 1813.2L677.4 1794.9" stroke="url(#t936)" stroke-dasharray="0 4.30"/>
<linearGradient id="t937" href="#yg" gradientUnits="userSpaceOnUse" x1="388.3" y1="1833.6" x2="517.4" y2="1806.4"/>
<path d="M388.3 1833.6L452.8 1820.8L517.4 1806.4" stroke="url(#t937)" stroke-dasharray="0 4.26"/>
<linearGradient id="t938" href="#yg" gradientUnits="userSpaceOnUse" x1="168.8" y1="1799.7" x2="293.4" y2="1799.6"/>
<path d="M168.8 1799.7L231.1 1797.6L293.4 1799.6" stroke="url(#t938)" stroke-dasharray="0 4.02"/>
<linearGradient id="t939" href="#yg" gradientUnits="userSpaceOnUse" x1="483.5" y1="1776.6" x2="615.8" y2="1743.5"/>
<path d="M483.5 1776.6L549.6 1763.8L615.8 1743.5" stroke="url(#t939)" stroke-dasharray="0 4.41"/>
<linearGradient id="t940" href="#yg" gradientUnits="userSpaceOnUse" x1="576.9" y1="1818.0" x2="677.3" y2="1786.7"/>
<path d="M576.9 1818.0L627.1 1800.7L677.3 1786.7" stroke="url(#t940)" stroke-dasharray="0 3.40"/>
<linearGradient id="t941" href="#yg" gradientUnits="userSpaceOnUse" x1="321.3" y1="1724.8" x2="473.9" y2="1723.0"/>
<path d="M321.3 1724.8L397.6 1721.9L473.9 1723.0" stroke="url(#t941)" stroke-dasharray="0 4.92"/>
<linearGradient id="t942" href="#yg" gradientUnits="userSpaceOnUse" x1="315.2" y1="1840.8" x2="463.9" y2="1828.1"/>
<path d="M315.2 1840.8L389.5 1838.3L463.9 1828.1" stroke="url(#t942)" stroke-dasharray="0 4.82"/>
<linearGradient id="t943" href="#yg" gradientUnits="userSpaceOnUse" x1="169.4" y1="1795.8" x2="318.1" y2="1795.7"/>
<path d="M169.4 1795.8L243.8 1791.1L318.1 1795.7" stroke="url(#t943)" stroke-dasharray="0 4.81"/>
<linearGradient id="t944" href="#yg" gradientUnits="userSpaceOnUse" x1="339.4" y1="1752.1" x2="438.9" y2="1743.1"/>
<path d="M339.4 1752.1L389.1 1742.9L438.9 1743.1" stroke="url(#t944)" stroke-dasharray="0 3.24"/>
<linearGradient id="t945" href="#yg" gradientUnits="userSpaceOnUse" x1="500.5" y1="1785.4" x2="604.8" y2="1764.7"/>
<path d="M500.5 1785.4L552.6 1771.2L604.8 1764.7" stroke="url(#t945)" stroke-dasharray="0 3.44"/>
<linearGradient id="t946" href="#yg" gradientUnits="userSpaceOnUse" x1="332.1" y1="1857.3" x2="494.0" y2="1840.4"/>
<path d="M332.1 1857.3L413.1 1849.7L494.0 1840.4" stroke="url(#t946)" stroke-dasharray="0 5.25"/>
<linearGradient id="t947" href="#yg" gradientUnits="userSpaceOnUse" x1="418.2" y1="1729.0" x2="510.5" y2="1724.1"/>
<path d="M418.2 1729.0L464.4 1723.3L510.5 1724.1" stroke="url(#t947)" stroke-dasharray="0 2.99"/>
<linearGradient id="t948" href="#yg" gradientUnits="userSpaceOnUse" x1="253.5" y1="1850.8" x2="359.5" y2="1838.4"/>
<path d="M253.5 1850.8L306.5 1846.2L359.5 1838.4" stroke="url(#t948)" stroke-dasharray="0 3.44"/>
<linearGradient id="t949" href="#yg" gradientUnits="userSpaceOnUse" x1="456.1" y1="1777.5" x2="610.6" y2="1759.2"/>
<path d="M456.1 1777.5L533.3 1772.4L610.6 1759.2" stroke="url(#t949)" stroke-dasharray="0 5.02"/>
<linearGradient id="t950" href="#yg" gradientUnits="userSpaceOnUse" x1="306.1" y1="1764.0" x2="466.4" y2="1748.5"/>
<path d="M306.1 1764.0L386.2 1753.8L466.4 1748.5" stroke="url(#t950)" stroke-dasharray="0 5.20"/>
<linearGradient id="t951" href="#yg" gradientUnits="userSpaceOnUse" x1="348.0" y1="1778.8" x2="441.0" y2="1769.3"/>
<path d="M348.0 1778.8L394.5 1772.0L441.0 1769.3" stroke="url(#t951)" stroke-dasharray="0 3.02"/>
<linearGradient id="t952" href="#yg" gradientUnits="userSpaceOnUse" x1="267.1" y1="1842.6" x2="361.2" y2="1836.2"/>
<path d="M267.1 1842.6L314.2 1843.4L361.2 1836.2" stroke="url(#t952)" stroke-dasharray="0 3.05"/>
<linearGradient id="t953" href="#yg" gradientUnits="userSpaceOnUse" x1="587.5" y1="1739.6" x2="622.5" y2="1732.9"/>
<path d="M587.5 1739.6L605.0 1737.5L622.5 1732.9" stroke="url(#t953)" stroke-dasharray="0 1.15"/>
<linearGradient id="t954" href="#yg" gradientUnits="userSpaceOnUse" x1="472.8" y1="1731.2" x2="608.5" y2="1725.4"/>
<path d="M472.8 1731.2L540.7 1732.6L608.5 1725.4" stroke="url(#t954)" stroke-dasharray="0 4.39"/>
<linearGradient id="t955" href="#yg" gradientUnits="userSpaceOnUse" x1="437.6" y1="1829.4" x2="528.5" y2="1795.8"/>
<path d="M437.6 1829.4L483.0 1808.6L528.5 1795.8" stroke="url(#t955)" stroke-dasharray="0 3.13"/>
<linearGradient id="t956" href="#yg" gradientUnits="userSpaceOnUse" x1="349.2" y1="1838.4" x2="440.7" y2="1828.5"/>
<path d="M349.2 1838.4L395.0 1828.5L440.7 1828.5" stroke="url(#t956)" stroke-dasharray="0 2.99"/>
<linearGradient id="t957" href="#yg" gradientUnits="userSpaceOnUse" x1="314.0" y1="1825.3" x2="452.1" y2="1816.3"/>
<path d="M314.0 1825.3L383.1 1817.8L452.1 1816.3" stroke="url(#t957)" stroke-dasharray="0 4.47"/>
<linearGradient id="t958" href="#yg" gradientUnits="userSpaceOnUse" x1="475.0" y1="1747.8" x2="566.9" y2="1735.5"/>
<path d="M475.0 1747.8L521.0 1737.1L566.9 1735.5" stroke="url(#t958)" stroke-dasharray="0 3.00"/>
<linearGradient id="t959" href="#yg" gradientUnits="userSpaceOnUse" x1="439.1" y1="1770.4" x2="575.7" y2="1749.2"/>
<path d="M439.1 1770.4L507.4 1763.8L575.7 1749.2" stroke="url(#t959)" stroke-dasharray="0 4.47"/>
<linearGradient id="t960" href="#yg" gradientUnits="userSpaceOnUse" x1="502.7" y1="1794.6" x2="645.8" y2="1744.4"/>
<path d="M502.7 1794.6L574.2 1773.7L645.8 1744.4" stroke="url(#t960)" stroke-dasharray="0 4.90"/>
<linearGradient id="t961" href="#yg" gradientUnits="userSpaceOnUse" x1="482.8" y1="1780.0" x2="616.3" y2="1766.1"/>
<path d="M482.8 1780.0L549.6 1775.9L616.3 1766.1" stroke="url(#t961)" stroke-dasharray="0 4.33"/>
<linearGradient id="t962" href="#yg" gradientUnits="userSpaceOnUse" x1="461.7" y1="1804.8" x2="593.1" y2="1783.2"/>
<path d="M461.7 1804.8L527.4 1789.3L593.1 1783.2" stroke="url(#t962)" stroke-dasharray="0 4.30"/>
<linearGradient id="t963" href="#yg" gradientUnits="userSpaceOnUse" x1="182.9" y1="1787.7" x2="325.4" y2="1783.1"/>
<path d="M182.9 1787.7L254.1 1787.2L325.4 1783.1" stroke="url(#t963)" stroke-dasharray="0 4.60"/>
<linearGradient id="t964" href="#yg" gradientUnits="userSpaceOnUse" x1="598.8" y1="1771.4" x2="659.1" y2="1755.1"/>
<path d="M598.8 1771.4L628.9 1765.1L659.1 1755.1" stroke="url(#t964)" stroke-dasharray="0 2.02"/>
<linearGradient id="t965" href="#yg" gradientUnits="userSpaceOnUse" x1="415.4" y1="1730.6" x2="534.0" y2="1724.6"/>
<path d="M415.4 1730.6L474.7 1725.9L534.0 1724.6" stroke="url(#t965)" stroke-dasharray="0 3.83"/>
<linearGradient id="t966" href="#yg" gradientUnits="userSpaceOnUse" x1="170.4" y1="1792.3" x2="268.4" y2="1788.8"/>
<path d="M170.4 1792.3L219.4 1786.0L268.4 1788.8" stroke="url(#t966)" stroke-dasharray="0 3.18"/>
<linearGradient id="t967" href="#yg" gradientUnits="userSpaceOnUse" x1="173.0" y1="1793.8" x2="334.6" y2="1779.4"/>
<path d="M173.0 1793.8L253.8 1785.6L334.6 1779.4" stroke="url(#t967)" stroke-dasharray="0 5.23"/>
<linearGradient id="t968" href="#yg" gradientUnits="userSpaceOnUse" x1="518.4" y1="1784.3" x2="612.6" y2="1764.2"/>
<path d="M518.4 1784.3L565.5 1771.3L612.6 1764.2" stroke="url(#t968)" stroke-dasharray="0 3.11"/>
<linearGradient id="t969" href="#yg" gradientUnits="userSpaceOnUse" x1="209.7" y1="1775.5" x2="309.3" y2="1774.6"/>
<path d="M209.7 1775.5L259.5 1772.4L309.3 1774.6" stroke="url(#t969)" stroke-dasharray="0 3.22"/>
<linearGradient id="t970" href="#yg" gradientUnits="userSpaceOnUse" x1="427.4" y1="1800.0" x2="529.5" y2="1770.3"/>
<path d="M427.4 1800.0L478.4 1782.9L529.5 1770.3" stroke="url(#t970)" stroke-dasharray="0 3.43"/>
<linearGradient id="t971" href="#yg" gradientUnits="userSpaceOnUse" x1="384.7" y1="1793.0" x2="545.8" y2="1778.4"/>
<path d="M384.7 1793.0L465.2 1783.2L545.8 1778.4" stroke="url(#t971)" stroke-dasharray="0 5.22"/>
<linearGradient id="t972" href="#yg" gradientUnits="userSpaceOnUse" x1="553.4" y1="1827.9" x2="656.6" y2="1766.2"/>
<path d="M553.4 1827.9L605.0 1799.2L656.6 1766.2" stroke="url(#t972)" stroke-dasharray="0 3.88"/>
<linearGradient id="t973" href="#yg" gradientUnits="userSpaceOnUse" x1="245.4" y1="1761.3" x2="399.5" y2="1759.8"/>
<path d="M245.4 1761.3L322.4 1758.0L399.5 1759.8" stroke="url(#t973)" stroke-dasharray="0 4.97"/>
<linearGradient id="t974" href="#yg" gradientUnits="userSpaceOnUse" x1="224.2" y1="1794.4" x2="384.9" y2="1787.5"/>
<path d="M224.2 1794.4L304.6 1792.3L384.9 1787.5" stroke="url(#t974)" stroke-dasharray="0 5.19"/>
<linearGradient id="t975" href="#yg" gradientUnits="userSpaceOnUse" x1="208.1" y1="1805.0" x2="321.3" y2="1798.6"/>
<path d="M208.1 1805.0L264.7 1799.3L321.3 1798.6" stroke="url(#t975)" stroke-dasharray="0 3.66"/>
<linearGradient id="t976" href="#yg" gradientUnits="userSpaceOnUse" x1="224.7" y1="1778.1" x2="317.9" y2="1772.7"/>
<path d="M224.7 1778.1L271.3 1772.3L317.9 1772.7" stroke="url(#t976)" stroke-dasharray="0 3.02"/>
<linearGradient id="t977" href="#yg" gradientUnits="userSpaceOnUse" x1="376.0" y1="1847.7" x2="477.5" y2="1813.5"/>
<path d="M376.0 1847.7L426.8 1828.3L477.5 1813.5" stroke="url(#t977)" stroke-dasharray="0 3.46"/>
<linearGradient id="t978" href="#yg" gradientUnits="userSpaceOnUse" x1="454.0" y1="1831.5" x2="567.2" y2="1815.8"/>
<path d="M454.0 1831.5L510.6 1824.2L567.2 1815.8" stroke="url(#t978)" stroke-dasharray="0 3.69"/>
<linearGradient id="t979" href="#yg" gradientUnits="userSpaceOnUse" x1="310.9" y1="1727.8" x2="407.9" y2="1726.5"/>
<path d="M310.9 1727.8L359.4 1726.8L407.9 1726.5" stroke="url(#t979)" stroke-dasharray="0 3.13"/>
<linearGradient id="t980" href="#yg" gradientUnits="userSpaceOnUse" x1="378.7" y1="1858.2" x2="540.0" y2="1821.4"/>
<path d="M378.7 1858.2L459.4 1839.6L540.0 1821.4" stroke="url(#t980)" stroke-dasharray="0 5.34"/>
<linearGradient id="t981" href="#yg" gradientUnits="userSpaceOnUse" x1="522.3" y1="1760.0" x2="628.7" y2="1756.0"/>
<path d="M522.3 1760.0L575.5 1762.9L628.7 1756.0" stroke="url(#t981)" stroke-dasharray="0 3.45"/>
<linearGradient id="t982" href="#yg" gradientUnits="userSpaceOnUse" x1="593.9" y1="1737.2" x2="642.1" y2="1735.4"/>
<path d="M593.9 1737.2L618.0 1740.2L642.1 1735.4" stroke="url(#t982)" stroke-dasharray="0 1.57"/>
<linearGradient id="t983" href="#yg" gradientUnits="userSpaceOnUse" x1="560.3" y1="1815.2" x2="657.7" y2="1751.5"/>
<path d="M560.3 1815.2L609.0 1781.7L657.7 1751.5" stroke="url(#t983)" stroke-dasharray="0 3.75"/>
<linearGradient id="t984" href="#yg" gradientUnits="userSpaceOnUse" x1="434.1" y1="1721.7" x2="583.8" y2="1714.5"/>
<path d="M434.1 1721.7L508.9 1713.1L583.8 1714.5" stroke="url(#t984)" stroke-dasharray="0 4.84"/>
<linearGradient id="t985" href="#yg" gradientUnits="userSpaceOnUse" x1="519.6" y1="1723.3" x2="607.4" y2="1715.7"/>
<path d="M519.6 1723.3L563.5 1719.8L607.4 1715.7" stroke="url(#t985)" stroke-dasharray="0 2.84"/>
<linearGradient id="t986" href="#yg" gradientUnits="userSpaceOnUse" x1="501.1" y1="1845.5" x2="624.9" y2="1836.6"/>
<path d="M501.1 1845.5L563.0 1844.3L624.9 1836.6" stroke="url(#t986)" stroke-dasharray="0 4.01"/>
<linearGradient id="t987" href="#yg" gradientUnits="userSpaceOnUse" x1="454.9" y1="1798.9" x2="566.9" y2="1780.5"/>
<path d="M454.9 1798.9L510.9 1791.5L566.9 1780.5" stroke="url(#t987)" stroke-dasharray="0 3.66"/>
<linearGradient id="t988" href="#yg" gradientUnits="userSpaceOnUse" x1="260.5" y1="1819.8" x2="362.5" y2="1814.1"/>
<path d="M260.5 1819.8L311.5 1819.4L362.5 1814.1" stroke="url(#t988)" stroke-dasharray="0 3.30"/>
<linearGradient id="t989" href="#yg" gradientUnits="userSpaceOnUse" x1="543.8" y1="1727.0" x2="612.2" y2="1721.4"/>
<path d="M543.8 1727.0L578.0 1724.7L612.2 1721.4" stroke="url(#t989)" stroke-dasharray="0 2.21"/>
<linearGradient id="t990" href="#yg" gradientUnits="userSpaceOnUse" x1="215.8" y1="1793.3" x2="358.3" y2="1787.2"/>
<path d="M215.8 1793.3L287.0 1785.6L358.3 1787.2" stroke="url(#t990)" stroke-dasharray="0 4.61"/>
<linearGradient id="t991" href="#yg" gradientUnits="userSpaceOnUse" x1="371.0" y1="1738.7" x2="466.1" y2="1732.9"/>
<path d="M371.0 1738.7L418.6 1736.6L466.1 1732.9" stroke="url(#t991)" stroke-dasharray="0 3.07"/>
<linearGradient id="t992" href="#yg" gradientUnits="userSpaceOnUse" x1="550.4" y1="1857.9" x2="646.0" y2="1846.1"/>
<path d="M550.4 1857.9L598.2 1849.2L646.0 1846.1" stroke="url(#t992)" stroke-dasharray="0 3.11"/>
<linearGradient id="t993" href="#yg" gradientUnits="userSpaceOnUse" x1="529.3" y1="1770.6" x2="646.2" y2="1753.1"/>
<path d="M529.3 1770.6L587.7 1759.4L646.2 1753.1" stroke="url(#t993)" stroke-dasharray="0 3.82"/>
<linearGradient id="t994" href="#yg" gradientUnits="userSpaceOnUse" x1="515.0" y1="1715.5" x2="607.5" y2="1714.5"/>
<path d="M515.0 1715.5L561.2 1712.7L607.5 1714.5" stroke="url(#t994)" stroke-dasharray="0 2.99"/>
<linearGradient id="t995" href="#yg" gradientUnits="userSpaceOnUse" x1="302.8" y1="1798.6" x2="465.1" y2="1774.0"/>
<path d="M302.8 1798.6L384.0 1782.5L465.1 1774.0" stroke="url(#t995)" stroke-dasharray="0 5.30"/>
<linearGradient id="t996" href="#yg" gradientUnits="userSpaceOnUse" x1="206.9" y1="1791.6" x2="359.4" y2="1780.6"/>
<path d="M206.9 1791.6L283.2 1784.5L359.4 1780.6" stroke="url(#t996)" stroke-dasharray="0 4.94"/>
<linearGradient id="t997" href="#yg" gradientUnits="userSpaceOnUse" x1="179.9" y1="1787.7" x2="315.2" y2="1784.3"/>
<path d="M179.9 1787.7L247.5 1786.8L315.2 1784.3" stroke="url(#t997)" stroke-dasharray="0 4.37"/>
<linearGradient id="t998" href="#yg" gradientUnits="userSpaceOnUse" x1="185.1" y1="1784.3" x2="329.6" y2="1782.9"/>
<path d="M185.1 1784.3L257.3 1787.5L329.6 1782.9" stroke="url(#t998)" stroke-dasharray="0 4.67"/>
<linearGradient id="t999" href="#yg" gradientUnits="userSpaceOnUse" x1="427.3" y1="1734.8" x2="530.7" y2="1725.4"/>
<path d="M427.3 1734.8L479.0 1732.0L530.7 1725.4" stroke="url(#t999)" stroke-dasharray="0 3.35"/>
<linearGradient id="t1000" href="#yg" gradientUnits="userSpaceOnUse" x1="482.7" y1="1745.5" x2="614.5" y2="1729.7"/>
<path d="M482.7 1745.5L548.6 1737.7L614.5 1729.7" stroke="url(#t1000)" stroke-dasharray="0 4.28"/>
<linearGradient id="t1001" href="#yg" gradientUnits="userSpaceOnUse" x1="279.9" y1="1748.7" x2="417.9" y2="1746.2"/>
<path d="M279.9 1748.7L348.9 1748.4L417.9 1746.2" stroke="url(#t1001)" stroke-dasharray="0 4.45"/>
<linearGradient id="t1002" href="#yg" gradientUnits="userSpaceOnUse" x1="177.5" y1="1788.8" x2="298.2" y2="1785.4"/>
<path d="M177.5 1788.8L237.9 1782.8L298.2 1785.4" stroke="url(#t1002)" stroke-dasharray="0 3.90"/>
<linearGradient id="t1003" href="#yg" gradientUnits="userSpaceOnUse" x1="490.1" y1="1742.8" x2="607.7" y2="1718.7"/>
<path d="M490.1 1742.8L548.9 1730.4L607.7 1718.7" stroke="url(#t1003)" stroke-dasharray="0 3.87"/>
<linearGradient id="t1004" href="#yg" gradientUnits="userSpaceOnUse" x1="267.5" y1="1771.0" x2="379.0" y2="1768.9"/>
<path d="M267.5 1771.0L323.2 1765.0L379.0 1768.9" stroke="url(#t1004)" stroke-dasharray="0 3.61"/>
<linearGradient id="t1005" href="#yg" gradientUnits="userSpaceOnUse" x1="550.3" y1="1814.8" x2="683.4" y2="1777.8"/>
<path d="M550.3 1814.8L616.8 1800.1L683.4 1777.8" stroke="url(#t1005)" stroke-dasharray="0 4.46"/>
<linearGradient id="t1006" href="#yg" gradientUnits="userSpaceOnUse" x1="370.6" y1="1791.7" x2="508.7" y2="1769.4"/>
<path d="M370.6 1791.7L439.7 1785.2L508.7 1769.4" stroke="url(#t1006)" stroke-dasharray="0 4.53"/>
<linearGradient id="t1007" href="#yg" gradientUnits="userSpaceOnUse" x1="582.2" y1="1803.0" x2="617.2" y2="1785.1"/>
<path d="M582.2 1803.0L599.7 1798.7L617.2 1785.1" stroke="url(#t1007)" stroke-dasharray="0 1.30"/>
<linearGradient id="t1008" href="#yg" gradientUnits="userSpaceOnUse" x1="586.9" y1="1845.9" x2="665.4" y2="1819.0"/>
<path d="M586.9 1845.9L626.1 1829.8L665.4 1819.0" stroke="url(#t1008)" stroke-dasharray="0 2.68"/>
<linearGradient id="t1009" href="#yg" gradientUnits="userSpaceOnUse" x1="294.1" y1="1789.5" x2="439.6" y2="1781.4"/>
<path d="M294.1 1789.5L366.8 1789.6L439.6 1781.4" stroke="url(#t1009)" stroke-dasharray="0 4.71"/>
<linearGradient id="t1010" href="#yg" gradientUnits="userSpaceOnUse" x1="432.6" y1="1785.3" x2="561.7" y2="1749.1"/>
<path d="M432.6 1785.3L497.1 1763.7L561.7 1749.1" stroke="url(#t1010)" stroke-dasharray="0 4.33"/>
<linearGradient id="t1011" href="#yg" gradientUnits="userSpaceOnUse" x1="557.9" y1="1747.8" x2="617.7" y2="1735.7"/>
<path d="M557.9 1747.8L587.8 1737.2L617.7 1735.7" stroke="url(#t1011)" stroke-dasharray="0 1.99"/>
<linearGradient id="t1012" href="#yg" gradientUnits="userSpaceOnUse" x1="431.3" y1="1866.3" x2="533.0" y2="1840.7"/>
<path d="M431.3 1866.3L482.1 1852.9L533.0 1840.7" stroke="url(#t1012)" stroke-dasharray="0 3.38"/>
<linearGradient id="t1013" href="#yg" gradientUnits="userSpaceOnUse" x1="163.7" y1="1797.9" x2="266.4" y2="1790.2"/>
<path d="M163.7 1797.9L215.0 1797.7L266.4 1790.2" stroke="url(#t1013)" stroke-dasharray="0 3.33"/>
<linearGradient id="t1014" href="#yg" gradientUnits="userSpaceOnUse" x1="293.0" y1="1782.4" x2="414.3" y2="1772.7"/>
<path d="M293.0 1782.4L353.6 1775.5L414.3 1772.7" stroke="url(#t1014)" stroke-dasharray="0 3.93"/>
<linearGradient id="t1015" href="#yg" gradientUnits="userSpaceOnUse" x1="369.8" y1="1729.3" x2="521.9" y2="1725.7"/>
<path d="M369.8 1729.3L445.9 1726.2L521.9 1725.7" stroke="url(#t1015)" stroke-dasharray="0 4.91"/>
<linearGradient id="t1016" href="#yg" gradientUnits="userSpaceOnUse" x1="174.0" y1="1799.0" x2="301.6" y2="1787.7"/>
<path d="M174.0 1799.0L237.8 1791.9L301.6 1787.7" stroke="url(#t1016)" stroke-dasharray="0 4.13"/>
<linearGradient id="t1017" href="#yg" gradientUnits="userSpaceOnUse" x1="512.7" y1="1730.4" x2="612.0" y2="1721.4"/>
<path d="M512.7 1730.4L562.4 1729.0L612.0 1721.4" stroke="url(#t1017)" stroke-dasharray="0 3.22"/>
<linearGradient id="t1018" href="#yg" gradientUnits="userSpaceOnUse" x1="274.6" y1="1801.3" x2="376.7" y2="1793.6"/>
<path d="M274.6 1801.3L325.7 1794.0L376.7 1793.6" stroke="url(#t1018)" stroke-dasharray="0 3.31"/>
<linearGradient id="t1019" href="#yg" gradientUnits="userSpaceOnUse" x1="320.7" y1="1845.4" x2="468.7" y2="1816.9"/>
<path d="M320.7 1845.4L394.7 1827.7L468.7 1816.9" stroke="url(#t1019)" stroke-dasharray="0 4.86"/>
<linearGradient id="t1020" href="#yg" gradientUnits="userSpaceOnUse" x1="248.9" y1="1799.8" x2="393.8" y2="1784.8"/>
<path d="M248.9 1799.8L321.4 1790.2L393.8 1784.8" stroke="url(#t1020)" stroke-dasharray="0 4.70"/>
<linearGradient id="t1021" href="#yg" gradientUnits="userSpaceOnUse" x1="437.7" y1="1843.2" x2="533.2" y2="1826.9"/>
<path d="M437.7 1843.2L485.5 1836.2L533.2 1826.9" stroke="url(#t1021)" stroke-dasharray="0 3.13"/>
<linearGradient id="t1022" href="#yg" gradientUnits="userSpaceOnUse" x1="538.0" y1="1795.2" x2="648.3" y2="1737.3"/>
<path d="M538.0 1795.2L593.1 1767.1L648.3 1737.3" stroke="url(#t1022)" stroke-dasharray="0 4.02"/>
<linearGradient id="t1023" href="#yg" gradientUnits="userSpaceOnUse" x1="194.1" y1="1791.8" x2="338.2" y2="1789.1"/>
<path d="M194.1 1791.8L266.2 1786.5L338.2 1789.1" stroke="url(#t1023)" stroke-dasharray="0 4.66"/>
<linearGradient id="t1024" href="#yg" gradientUnits="userSpaceOnUse" x1="511.0" y1="1717.4" x2="604.1" y2="1716.6"/>
<path d="M511.0 1717.4L557.6 1718.5L604.1 1716.6" stroke="url(#t1024)" stroke-dasharray="0 3.00"/>
<linearGradient id="t1025" href="#yg" gradientUnits="userSpaceOnUse" x1="363.3" y1="1805.6" x2="527.1" y2="1798.2"/>
<path d="M363.3 1805.6L445.2 1802.6L527.1 1798.2" stroke="url(#t1025)" stroke-dasharray="0 5.29"/>
<linearGradient id="t1026" href="#yg" gradientUnits="userSpaceOnUse" x1="431.1" y1="1718.4" x2="552.0" y2="1715.7"/>
<path d="M431.1 1718.4L491.5 1717.7L552.0 1715.7" stroke="url(#t1026)" stroke-dasharray="0 3.90"/>
<linearGradient id="t1027" href="#yg" gradientUnits="userSpaceOnUse" x1="265.0" y1="1838.2" x2="360.3" y2="1836.9"/>
<path d="M265.0 1838.2L312.7 1842.2L360.3 1836.9" stroke="url(#t1027)" stroke-dasharray="0 3.09"/>
<linearGradient id="t1028" href="#yg" gradientUnits="userSpaceOnUse" x1="237.4" y1="1804.7" x2="370.1" y2="1797.3"/>
<path d="M237.4 1804.7L303.8 1803.4L370.1 1797.3" stroke="url(#t1028)" stroke-dasharray="0 4.29"/>
<linearGradient id="t1029" href="#yg" gradientUnits="userSpaceOnUse" x1="227.1" y1="1789.1" x2="323.4" y2="1785.4"/>
<path d="M227.1 1789.1L275.3 1790.0L323.4 1785.4" stroke="url(#t1029)" stroke-dasharray="0 3.11"/>
<linearGradient id="t1030" href="#yg" gradientUnits="userSpaceOnUse" x1="471.3" y1="1757.6" x2="614.6" y2="1727.0"/>
<path d="M471.3 1757.6L542.9 1737.6L614.6 1727.0" stroke="url(#t1030)" stroke-dasharray="0 4.74"/>
<linearGradient id="t1031" href="#yg" gradientUnits="userSpaceOnUse" x1="380.6" y1="1806.0" x2="539.2" y2="1771.0"/>
<path d="M380.6 1806.0L459.9 1790.9L539.2 1771.0" stroke="url(#t1031)" stroke-dasharray="0 5.24"/>
<linearGradient id="t1032" href="#yg" gradientUnits="userSpaceOnUse" x1="566.1" y1="1729.4" x2="613.8" y2="1725.0"/>
<path d="M566.1 1729.4L590.0 1728.7L613.8 1725.0" stroke="url(#t1032)" stroke-dasharray="0 1.55"/>
<linearGradient id="t1033" href="#yg" gradientUnits="userSpaceOnUse" x1="389.0" y1="1775.3" x2="489.2" y2="1748.3"/>
<path d="M389.0 1775.3L439.1 1766.6L489.2 1748.3" stroke="url(#t1033)" stroke-dasharray="0 3.36"/>
<linearGradient id="t1034" href="#yg" gradientUnits="userSpaceOnUse" x1="241.7" y1="1775.5" x2="369.5" y2="1773.7"/>
<path d="M241.7 1775.5L305.6 1773.0L369.5 1773.7" stroke="url(#t1034)" stroke-dasharray="0 4.12"/>
<linearGradient id="t1035" href="#yg" gradientUnits="userSpaceOnUse" x1="435.2" y1="1856.5" x2="546.2" y2="1822.4"/>
<path d="M435.2 1856.5L490.7 1834.6L546.2 1822.4" stroke="url(#t1035)" stroke-dasharray="0 3.76"/>
<linearGradient id="t1036" href="#yg" gradientUnits="userSpaceOnUse" x1="579.6" y1="1829.4" x2="665.2" y2="1817.4"/>
<path d="M579.6 1829.4L622.4 1820.0L665.2 1817.4" stroke="url(#t1036)" stroke-dasharray="0 2.80"/>
<linearGradient id="t1037" href="#yg" gradientUnits="userSpaceOnUse" x1="166.4" y1="1794.2" x2="302.1" y2="1792.8"/>
<path d="M166.4 1794.2L234.2 1792.5L302.1 1792.8" stroke="url(#t1037)" stroke-dasharray="0 4.38"/>
<linearGradient id="t1038" href="#yg" gradientUnits="userSpaceOnUse" x1="305.7" y1="1790.2" x2="436.3" y2="1784.4"/>
<path d="M305.7 1790.2L371.0 1785.2L436.3 1784.4" stroke="url(#t1038)" stroke-dasharray="0 4.22"/>
<linearGradient id="t1039" href="#yg" gradientUnits="userSpaceOnUse" x1="549.2" y1="1737.2" x2="619.2" y2="1727.9"/>
<path d="M549.2 1737.2L584.2 1730.4L619.2 1727.9" stroke="url(#t1039)" stroke-dasharray="0 2.28"/>
<linearGradient id="t1040" href="#yg" gradientUnits="userSpaceOnUse" x1="237.6" y1="1806.0" x2="393.0" y2="1797.5"/>
<path d="M237.6 1806.0L315.3 1803.3L393.0 1797.5" stroke="url(#t1040)" stroke-dasharray="0 5.02"/>
<linearGradient id="t1041" href="#yg" gradientUnits="userSpaceOnUse" x1="341.5" y1="1847.4" x2="479.4" y2="1822.6"/>
<path d="M341.5 1847.4L410.4 1831.3L479.4 1822.6" stroke="url(#t1041)" stroke-dasharray="0 4.53"/>
<linearGradient id="t1042" href="#yg" gradientUnits="userSpaceOnUse" x1="224.2" y1="1801.5" x2="382.9" y2="1788.8"/>
<path d="M224.2 1801.5L303.5 1794.1L382.9 1788.8" stroke="url(#t1042)" stroke-dasharray="0 5.14"/>
<linearGradient id="t1043" href="#yg" gradientUnits="userSpaceOnUse" x1="358.6" y1="1842.5" x2="473.1" y2="1814.3"/>
<path d="M358.6 1842.5L415.9 1833.1L473.1 1814.3" stroke="url(#t1043)" stroke-dasharray="0 3.81"/>
<linearGradient id="t1044" href="#yg" gradientUnits="userSpaceOnUse" x1="351.2" y1="1774.9" x2="498.7" y2="1768.2"/>
<path d="M351.2 1774.9L424.9 1768.0L498.7 1768.2" stroke="url(#t1044)" stroke-dasharray="0 4.77"/>
<linearGradient id="t1045" href="#yg" gradientUnits="userSpaceOnUse" x1="408.5" y1="1788.8" x2="523.1" y2="1761.3"/>
<path d="M408.5 1788.8L465.8 1778.2L523.1 1761.3" stroke="url(#t1045)" stroke-dasharray="0 3.81"/>
<linearGradient id="t1046" href="#yg" gradientUnits="userSpaceOnUse" x1="317.5" y1="1837.0" x2="439.6" y2="1824.3"/>
<path d="M317.5 1837.0L378.5 1834.2L439.6 1824.3" stroke="url(#t1046)" stroke-dasharray="0 3.97"/>
<linearGradient id="t1047" href="#yg" gradientUnits="userSpaceOnUse" x1="362.9" y1="1797.8" x2="520.5" y2="1781.8"/>
<path d="M362.9 1797.8L441.7 1793.0L520.5 1781.8" stroke="url(#t1047)" stroke-dasharray="0 5.12"/>
<linearGradient id="t1048" href="#yg" gradientUnits="userSpaceOnUse" x1="393.1" y1="1761.9" x2="493.8" y2="1747.7"/>
<path d="M393.1 1761.9L443.4 1755.3L493.8 1747.7" stroke="url(#t1048)" stroke-dasharray="0 3.28"/>
<linearGradient id="t1049" href="#yg" gradientUnits="userSpaceOnUse" x1="442.3" y1="1794.2" x2="578.1" y2="1741.6"/>
<path d="M442.3 1794.2L510.2 1767.0L578.1 1741.6" stroke="url(#t1049)" stroke-dasharray="0 4.70"/>
<linearGradient id="t1050" href="#yg" gradientUnits="userSpaceOnUse" x1="351.9" y1="1803.1" x2="468.0" y2="1773.2"/>
<path d="M351.9 1803.1L409.9 1788.3L468.0 1773.2" stroke="url(#t1050)" stroke-dasharray="0 3.87"/>
<linearGradient id="t1051" href="#yg" gradientUnits="userSpaceOnUse" x1="395.7" y1="1836.9" x2="553.1" y2="1793.6"/>
<path d="M395.7 1836.9L474.4 1813.1L553.1 1793.6" stroke="url(#t1051)" stroke-dasharray="0 5.27"/>
<linearGradient id="t1052" href="#yg" gradientUnits="userSpaceOnUse" x1="461.6" y1="1784.4" x2="576.9" y2="1767.1"/>
<path d="M461.6 1784.4L519.3 1775.1L576.9 1767.1" stroke="url(#t1052)" stroke-dasharray="0 3.76"/>
<linearGradient id="t1053" href="#yg" gradientUnits="userSpaceOnUse" x1="562.6" y1="1800.9" x2="609.7" y2="1769.9"/>
<path d="M562.6 1800.9L586.1 1786.5L609.7 1769.9" stroke="url(#t1053)" stroke-dasharray="0 1.82"/>
<linearGradient id="t1054" href="#yg" gradientUnits="userSpaceOnUse" x1="590.0" y1="1926.1" x2="645.3" y2="1813.1"/>
<path d="M590.0 1926.1L592.3 1912.1L600.7 1904.2" stroke="url(#t1054)" stroke-dasharray="0 4.28"/>
<linearGradient id="t1055" href="#yg" gradientUnits="userSpaceOnUse" x1="580.0" y1="1863.6" x2="627.4" y2="1720.6"/>
<path d="M580.0 1863.6L591.2 1844.1L595.3 1817.4" stroke="url(#t1055)" stroke-dasharray="0 4.95"/>
<linearGradient id="t1056" href="#yg" gradientUnits="userSpaceOnUse" x1="563.9" y1="1906.0" x2="604.8" y2="1786.4"/>
<path d="M563.9 1906.0L569.2 1888.0L575.8 1871.3" stroke="url(#t1056)" stroke-dasharray="0 4.08"/>
<linearGradient id="t1057" href="#yg" gradientUnits="userSpaceOnUse" x1="571.7" y1="1943.6" x2="621.9" y2="1854.3"/>
<path d="M571.7 1943.6L578.1 1925.3L589.5 1911.9" stroke="url(#t1057)" stroke-dasharray="0 3.36"/>
<linearGradient id="t1058" href="#yg" gradientUnits="userSpaceOnUse" x1="527.9" y1="1960.4" x2="628.7" y2="1902.7"/>
<path d="M573.4 1934.3L586.5 1921.9L605.9 1915.7" stroke="url(#t1058)" stroke-dasharray="0 3.85"/>
<linearGradient id="t1059" href="#yg" gradientUnits="userSpaceOnUse" x1="512.7" y1="1888.0" x2="587.0" y2="1823.8"/>
<path d="M531.9 1871.5L542.2 1868.4L546.3 1859.0" stroke="url(#t1059)" stroke-dasharray="0 3.49"/>
<linearGradient id="t1060" href="#yg" gradientUnits="userSpaceOnUse" x1="563.9" y1="1928.5" x2="615.3" y2="1775.2"/>
<path d="M563.9 1928.5L570.4 1918.5L572.2 1903.7" stroke="url(#t1060)" stroke-dasharray="0 5.35"/>
<linearGradient id="t1061" href="#yg" gradientUnits="userSpaceOnUse" x1="638.0" y1="1880.8" x2="700.9" y2="1823.0"/>
<path d="M638.0 1880.8L645.7 1875.0L652.2 1867.8" stroke="url(#t1061)" stroke-dasharray="0 2.77"/>
<linearGradient id="t1062" href="#yg" gradientUnits="userSpaceOnUse" x1="599.9" y1="1874.0" x2="715.7" y2="1814.0"/>
<path d="M599.9 1874.0L629.4 1866.7L648.4 1848.8" stroke="url(#t1062)" stroke-dasharray="0 4.35"/>
<linearGradient id="t1063" href="#yg" gradientUnits="userSpaceOnUse" x1="559.7" y1="1904.5" x2="659.6" y2="1801.2"/>
<path d="M559.7 1904.5L578.1 1890.1L591.9 1871.1" stroke="url(#t1063)" stroke-dasharray="0 4.68"/>
<linearGradient id="t1064" href="#yg" gradientUnits="userSpaceOnUse" x1="641.7" y1="1864.8" x2="764.3" y2="1728.9"/>
<path d="M641.7 1864.8L651.3 1861.9L653.6 1851.7" stroke="url(#t1064)" stroke-dasharray="0 6.83"/>
<linearGradient id="t1065" href="#yg" gradientUnits="userSpaceOnUse" x1="585.2" y1="1875.0" x2="725.2" y2="1819.9"/>
<path d="M585.2 1875.0L595.8 1869.8L607.8 1866.1" stroke="url(#t1065)" stroke-dasharray="0 4.87"/>
<linearGradient id="t1066" href="#yg" gradientUnits="userSpaceOnUse" x1="567.6" y1="1913.0" x2="645.3" y2="1835.5"/>
<path d="M567.6 1913.0L577.5 1900.4L590.1 1890.5" stroke="url(#t1066)" stroke-dasharray="0 3.56"/>
<linearGradient id="t1067" href="#yg" gradientUnits="userSpaceOnUse" x1="567.9" y1="1900.5" x2="642.3" y2="1792.1"/>
<path d="M567.9 1900.5L573.4 1882.5L587.1 1872.5" stroke="url(#t1067)" stroke-dasharray="0 4.47"/>
<linearGradient id="t1068" href="#yg" gradientUnits="userSpaceOnUse" x1="622.1" y1="1904.1" x2="690.3" y2="1864.7"/>
<path d="M622.1 1904.1L632.9 1906.3L633.1 1897.8" stroke="url(#t1068)" stroke-dasharray="0 3.91"/>
<linearGradient id="t1069" href="#yg" gradientUnits="userSpaceOnUse" x1="653.6" y1="1864.7" x2="720.1" y2="1755.3"/>
<path d="M653.6 1864.7L661.8 1841.7L677.2 1825.9" stroke="url(#t1069)" stroke-dasharray="0 4.23"/>
<linearGradient id="t1070" href="#yg" gradientUnits="userSpaceOnUse" x1="542.5" y1="1865.9" x2="579.7" y2="1776.0"/>
<path d="M542.5 1865.9L546.0 1857.1L549.7 1848.5" stroke="url(#t1070)" stroke-dasharray="0 3.14"/>
<linearGradient id="t1071" href="#yg" gradientUnits="userSpaceOnUse" x1="595.3" y1="1884.4" x2="707.3" y2="1836.3"/>
<path d="M595.3 1884.4L616.3 1871.8L642.3 1864.2" stroke="url(#t1071)" stroke-dasharray="0 3.96"/>
<linearGradient id="t1072" href="#yg" gradientUnits="userSpaceOnUse" x1="623.9" y1="1896.2" x2="697.9" y2="1813.4"/>
<path d="M623.9 1896.2L641.3 1878.1L657.3 1858.8" stroke="url(#t1072)" stroke-dasharray="0 3.58"/>
<linearGradient id="t1073" href="#yg" gradientUnits="userSpaceOnUse" x1="553.0" y1="1885.4" x2="619.6" y2="1824.3"/>
<path d="M553.0 1885.4L564.0 1882.0L568.0 1871.6" stroke="url(#t1073)" stroke-dasharray="0 3.24"/>
<linearGradient id="t1074" href="#yg" gradientUnits="userSpaceOnUse" x1="520.0" y1="1898.3" x2="562.3" y2="1778.9"/>
<path d="M520.0 1898.3L527.4 1877.0L535.0 1856.0" stroke="url(#t1074)" stroke-dasharray="0 4.09"/>
<linearGradient id="t1075" href="#yg" gradientUnits="userSpaceOnUse" x1="495.8" y1="1956.9" x2="595.7" y2="1842.5"/>
<path d="M560.2 1883.1L574.1 1872.8L582.8 1857.3" stroke="url(#t1075)" stroke-dasharray="0 5.01"/>
<linearGradient id="t1076" href="#yg" gradientUnits="userSpaceOnUse" x1="528.7" y1="1910.6" x2="566.7" y2="1798.2"/>
<path d="M537.3 1885.3L541.9 1860.8L552.0 1841.8" stroke="url(#t1076)" stroke-dasharray="0 3.87"/>
<linearGradient id="t1077" href="#yg" gradientUnits="userSpaceOnUse" x1="563.2" y1="1904.5" x2="613.6" y2="1792.2"/>
<path d="M582.7 1861.0L596.8 1846.3L600.6 1821.2" stroke="url(#t1077)" stroke-dasharray="0 4.16"/>
<linearGradient id="t1078" href="#yg" gradientUnits="userSpaceOnUse" x1="612.7" y1="1947.9" x2="654.7" y2="1913.6"/>
<path d="M612.7 1947.9L616.7 1947.0L618.1 1943.5" stroke="url(#t1078)" stroke-dasharray="0 1.99"/>
<linearGradient id="t1079" href="#yg" gradientUnits="userSpaceOnUse" x1="537.9" y1="1900.8" x2="644.7" y2="1804.9"/>
<path d="M537.9 1900.8L546.7 1886.8L562.0 1879.1" stroke="url(#t1079)" stroke-dasharray="0 4.81"/>
<linearGradient id="t1080" href="#yg" gradientUnits="userSpaceOnUse" x1="535.2" y1="1931.7" x2="633.9" y2="1882.8"/>
<path d="M624.4 1887.6L631.6 1887.6L633.9 1882.8" stroke="url(#t1080)" stroke-dasharray="0 4.18"/>
<linearGradient id="t1081" href="#yg" gradientUnits="userSpaceOnUse" x1="516.9" y1="1871.4" x2="647.4" y2="1805.5"/>
<path d="M516.9 1871.4L530.4 1859.5L550.6 1854.4" stroke="url(#t1081)" stroke-dasharray="0 4.85"/>
<linearGradient id="t1082" href="#yg" gradientUnits="userSpaceOnUse" x1="634.8" y1="1899.9" x2="654.2" y2="1803.3"/>
<path d="M641.1 1868.7L645.7 1864.0L644.2 1853.2" stroke="url(#t1082)" stroke-dasharray="0 3.51"/>
<linearGradient id="t1083" href="#yg" gradientUnits="userSpaceOnUse" x1="597.7" y1="2002.6" x2="657.7" y2="1882.0"/>
<path d="M644.1 1909.2L642.2 1898.6L649.9 1897.6" stroke="url(#t1083)" stroke-dasharray="0 6.22"/>
<linearGradient id="t1084" href="#yg" gradientUnits="userSpaceOnUse" x1="529.8" y1="1873.2" x2="568.5" y2="1755.3"/>
<path d="M529.8 1873.2L532.3 1855.6L539.8 1842.8" stroke="url(#t1084)" stroke-dasharray="0 4.08"/>
<linearGradient id="t1085" href="#yg" gradientUnits="userSpaceOnUse" x1="608.0" y1="1896.0" x2="707.4" y2="1843.0"/>
<path d="M608.0 1896.0L629.2 1882.8L652.9 1872.1" stroke="url(#t1085)" stroke-dasharray="0 3.64"/>
<linearGradient id="t1086" href="#yg" gradientUnits="userSpaceOnUse" x1="550.8" y1="1965.7" x2="630.0" y2="1877.6"/>
<path d="M584.0 1928.7L601.2 1913.5L614.7 1894.6" stroke="url(#t1086)" stroke-dasharray="0 3.84"/>
<linearGradient id="t1087" href="#yg" gradientUnits="userSpaceOnUse" x1="572.5" y1="1931.7" x2="648.0" y2="1837.7"/>
<path d="M572.5 1931.7L582.6 1906.3L604.2 1892.3" stroke="url(#t1087)" stroke-dasharray="0 4.09"/>
<linearGradient id="t1088" href="#yg" gradientUnits="userSpaceOnUse" x1="586.9" y1="1861.5" x2="644.4" y2="1719.2"/>
<path d="M586.9 1861.5L595.6 1841.2L603.6 1820.2" stroke="url(#t1088)" stroke-dasharray="0 4.95"/>
<linearGradient id="t1089" href="#yg" gradientUnits="userSpaceOnUse" x1="513.6" y1="1878.8" x2="630.3" y2="1747.4"/>
<path d="M513.6 1878.8L516.3 1869.5L524.9 1866.1" stroke="url(#t1089)" stroke-dasharray="0 6.28"/>
<linearGradient id="t1090" href="#yg" gradientUnits="userSpaceOnUse" x1="429.3" y1="1917.0" x2="563.2" y2="1862.1"/>
<path d="M507.0 1885.1L521.2 1871.9L545.9 1869.2" stroke="url(#t1090)" stroke-dasharray="0 4.91"/>
<linearGradient id="t1091" href="#yg" gradientUnits="userSpaceOnUse" x1="591.6" y1="1936.3" x2="641.6" y2="1834.8"/>
<path d="M614.2 1890.5L624.5 1876.3L630.3 1857.7" stroke="url(#t1091)" stroke-dasharray="0 3.70"/>
<linearGradient id="t1092" href="#yg" gradientUnits="userSpaceOnUse" x1="480.7" y1="1888.1" x2="571.8" y2="1814.7"/>
<path d="M510.1 1864.4L527.5 1857.9L536.5 1843.1" stroke="url(#t1092)" stroke-dasharray="0 3.99"/>
<linearGradient id="t1093" href="#yg" gradientUnits="userSpaceOnUse" x1="554.4" y1="1888.8" x2="617.4" y2="1806.6"/>
<path d="M554.4 1888.8L562.5 1873.6L574.7 1862.3" stroke="url(#t1093)" stroke-dasharray="0 3.39"/>
<linearGradient id="t1094" href="#yg" gradientUnits="userSpaceOnUse" x1="154.0" y1="1807.1" x2="170.8" y2="1770.7"/>
<path d="M154.0 1807.1L155.9 1792.2L160.6 1779.1L170.8 1770.7" stroke="url(#t1094)" stroke-dasharray="0 1.36"/>
<linearGradient id="t1095" href="#yg" gradientUnits="userSpaceOnUse" x1="198.9" y1="1918.8" x2="300.2" y2="1868.1"/>
<path d="M231.6 1902.4L244.6 1893.1L257.7 1889.3" stroke="url(#t1095)" stroke-dasharray="0 3.71"/>
<circle cx="274.5" cy="1881.9" r="6" fill="#a99a9a"/>
<circle cx="254.9" cy="1823.9" r="6" fill="#cf7867"/>
<circle cx="377.3" cy="1876.3" r="6" fill="#e4503a"/>
<circle cx="435.2" cy="1935.1" r="6" fill="#cf7867"/>
<circle cx="325.0" cy="1874.4" r="6" fill="#5cb8d0"/>
<circle cx="467.0" cy="1883.7" r="6" fill="#e2563f"/>
<circle cx="465.1" cy="1896.8" r="6" fill="#bf8a81"/>
<linearGradient id="t1096" href="#yg" gradientUnits="userSpaceOnUse" x1="268.9" y1="1876.3" x2="384.8" y2="1972.8"/>
<path d="M268.9 1876.3L282.0 1880.0L291.4 1894.9" stroke="url(#t1096)" stroke-dasharray="0 5.21"/>
<linearGradient id="t1097" href="#yg" gradientUnits="userSpaceOnUse" x1="277.7" y1="1871.4" x2="402.6" y2="1860.5"/>
<path d="M285.8 1870.7L298.8 1863.2L317.5 1859.4L338.1 1863.2L350.2 1865.0" stroke="url(#t1097)" stroke-dasharray="0 4.21"/>
<linearGradient id="t1098" href="#yg" gradientUnits="userSpaceOnUse" x1="248.4" y1="1850.1" x2="383.5" y2="1806.7"/>
<path d="M248.4 1850.1L267.1 1844.5L282.0 1838.9L300.7 1833.3" stroke="url(#t1098)" stroke-dasharray="0 4.58"/>
<linearGradient id="t1099" href="#yg" gradientUnits="userSpaceOnUse" x1="250.2" y1="1842.6" x2="371.9" y2="1813.7"/>
<path d="M250.2 1842.6L270.8 1837.0L289.5 1833.3" stroke="url(#t1099)" stroke-dasharray="0 4.04"/>
<linearGradient id="t1100" href="#yg" gradientUnits="userSpaceOnUse" x1="377.3" y1="1863.2" x2="587.3" y2="1841.5"/>
<path d="M377.3 1863.2L392.3 1868.8L401.6 1874.4L416.6 1863.2L431.5 1857.6" stroke="url(#t1100)" stroke-dasharray="0 7.69"/>
<linearGradient id="t1101" href="#yg" gradientUnits="userSpaceOnUse" x1="455.8" y1="1853.8" x2="421.0" y2="2010.2"/>
<path d="M455.8 1853.8L455.8 1870.7L450.2 1881.9L446.5 1893.1L444.6 1904.3" stroke="url(#t1101)" stroke-dasharray="0 5.25"/>
<linearGradient id="t1102" href="#yg" gradientUnits="userSpaceOnUse" x1="285.8" y1="1724.9" x2="445.1" y2="1717.7"/>
<path d="M285.8 1724.9L308.2 1719.3L326.9 1723.0" stroke="url(#t1102)" stroke-dasharray="0 5.27"/>
<circle cx="445.6" cy="1852.0" r="6" fill="#d4705d"/>
<circle cx="460.6" cy="1855.7" r="6" fill="#cf7867"/>
<circle cx="455.9" cy="1870.7" r="6" fill="#e2563f"/>
<circle cx="466.2" cy="1881.9" r="6" fill="#cf7867"/>
<circle cx="507.3" cy="1883.7" r="6" fill="#cf7867"/>
<circle cx="511.9" cy="1885.6" r="6" fill="#cc7b6c"/>
<circle cx="541.8" cy="1901.5" r="6" fill="#a99a9a"/>
<circle cx="544.6" cy="1925.8" r="6" fill="#a99a9a"/>
<circle cx="565.2" cy="1898.7" r="6" fill="#cf7867"/>
<circle cx="570.8" cy="1908.0" r="6" fill="#e2563f"/>
<circle cx="600.7" cy="1910.8" r="6" fill="#5cb8d0"/>
<linearGradient id="t1103" href="#yg" gradientUnits="userSpaceOnUse" x1="443.7" y1="1891.2" x2="578.9" y2="1794.7"/>
<path d="M443.7 1891.2L451.2 1880.0L456.8 1881.9" stroke="url(#t1103)" stroke-dasharray="0 6.46"/>
<linearGradient id="t1104" href="#yg" gradientUnits="userSpaceOnUse" x1="418.0" y1="1921.2" x2="503.5" y2="1868.8"/>
<path d="M445.6 1904.3L462.4 1896.8L477.4 1885.6L486.7 1874.4L503.5 1868.8" stroke="url(#t1104)" stroke-dasharray="0 3.31"/>
<linearGradient id="t1105" href="#yg" gradientUnits="userSpaceOnUse" x1="420.0" y1="1850.1" x2="514.7" y2="1850.1"/>
<path d="M481.1 1850.1L496.1 1853.8L514.7 1850.1" stroke="url(#t1105)" stroke-dasharray="0 3.13"/>
<linearGradient id="t1106" href="#yg" gradientUnits="userSpaceOnUse" x1="416.6" y1="1823.5" x2="547.0" y2="1888.6"/>
<path d="M492.3 1861.3L509.1 1869.7" stroke="url(#t1106)" stroke-dasharray="0 4.70"/>
<linearGradient id="t1107" href="#yg" gradientUnits="userSpaceOnUse" x1="507.3" y1="1842.6" x2="661.7" y2="1871.6"/>
<path d="M507.3 1842.6L522.2 1835.1L529.7 1840.8L537.2 1848.2" stroke="url(#t1107)" stroke-dasharray="0 6.10"/>
<linearGradient id="t1108" href="#yg" gradientUnits="userSpaceOnUse" x1="524.1" y1="1881.9" x2="630.3" y2="1814.3"/>
<path d="M524.1 1881.9L537.2 1872.5L548.4 1865.0L559.6 1855.7L570.8 1848.2L585.8 1842.6" stroke="url(#t1108)" stroke-dasharray="0 4.09"/>
<linearGradient id="t1109" href="#yg" gradientUnits="userSpaceOnUse" x1="449.3" y1="1908.0" x2="576.8" y2="1884.9"/>
<path d="M531.6 1893.1L540.9 1885.6L552.1 1889.3" stroke="url(#t1109)" stroke-dasharray="0 4.76"/>
<linearGradient id="t1110" href="#yg" gradientUnits="userSpaceOnUse" x1="552.1" y1="1885.6" x2="691.1" y2="1908.8"/>
<path d="M552.1 1885.6L563.3 1881.9L574.5 1889.3" stroke="url(#t1110)" stroke-dasharray="0 5.06"/>
<linearGradient id="t1111" href="#yg" gradientUnits="userSpaceOnUse" x1="552.1" y1="1908.0" x2="445.9" y2="2023.9"/>
<path d="M552.1 1908.0L546.5 1913.6L541.8 1919.2" stroke="url(#t1111)" stroke-dasharray="0 5.08"/>
<linearGradient id="t1112" href="#yg" gradientUnits="userSpaceOnUse" x1="559.6" y1="1918.3" x2="704.4" y2="1940.0"/>
<path d="M559.6 1918.3L570.8 1924.8L578.3 1921.1" stroke="url(#t1112)" stroke-dasharray="0 5.33"/>
<linearGradient id="t1113" href="#yg" gradientUnits="userSpaceOnUse" x1="580.1" y1="1870.7" x2="638.1" y2="2009.7"/>
<path d="M580.1 1870.7L585.8 1881.9L589.5 1893.1" stroke="url(#t1113)" stroke-dasharray="0 4.87"/>
<linearGradient id="t1114" href="#yg" gradientUnits="userSpaceOnUse" x1="575.8" y1="1879.4" x2="614.4" y2="1975.9"/>
<path d="M585.8 1904.3L589.5 1913.6" stroke="url(#t1114)" stroke-dasharray="0 3.35"/>
<linearGradient id="t1115" href="#yg" gradientUnits="userSpaceOnUse" x1="595.1" y1="1883.7" x2="667.5" y2="1985.1"/>
<path d="M595.1 1883.7L602.6 1889.3L604.4 1896.8" stroke="url(#t1115)" stroke-dasharray="0 4.26"/>
<linearGradient id="t1116" href="#yg" gradientUnits="userSpaceOnUse" x1="606.3" y1="1908.0" x2="693.2" y2="1980.4"/>
<path d="M606.3 1908.0L611.9 1912.7" stroke="url(#t1116)" stroke-dasharray="0 3.65"/>
<linearGradient id="t1117" href="#yg" gradientUnits="userSpaceOnUse" x1="615.7" y1="1885.6" x2="673.6" y2="1798.7"/>
<path d="M615.7 1885.6L619.4 1880.0" stroke="url(#t1117)" stroke-dasharray="0 3.37"/>
<linearGradient id="t1118" href="#yg" gradientUnits="userSpaceOnUse" x1="575.5" y1="1893.1" x2="633.4" y2="1835.1"/>
<path d="M609.1 1859.4L614.7 1853.8" stroke="url(#t1118)" stroke-dasharray="0 2.64"/>
<linearGradient id="t1119" href="#yg" gradientUnits="userSpaceOnUse" x1="545.6" y1="1741.7" x2="632.5" y2="1857.6"/>
<path d="M626.9 1850.1L632.5 1857.6" stroke="url(#t1119)" stroke-dasharray="0 4.67"/>
<linearGradient id="t1120" href="#yg" gradientUnits="userSpaceOnUse" x1="602.8" y1="1971.6" x2="635.9" y2="1855.7"/>
<path d="M623.1 1900.5L626.9 1887.5L630.6 1874.4" stroke="url(#t1120)" stroke-dasharray="0 3.89"/>
<linearGradient id="t1121" href="#yg" gradientUnits="userSpaceOnUse" x1="598.8" y1="1840.8" x2="688.5" y2="1775.4"/>
<path d="M598.8 1840.8L617.5 1822.1L636.2 1807.1L654.9 1792.2L673.6 1777.2L688.5 1775.4" stroke="url(#t1121)" stroke-dasharray="0 3.65"/>
<linearGradient id="t1122" href="#yg" gradientUnits="userSpaceOnUse" x1="645.5" y1="1842.6" x2="681.1" y2="1803.4"/>
<path d="M645.5 1842.6L654.9 1833.3L664.2 1823.9L673.6 1814.6L681.1 1803.4" stroke="url(#t1122)" stroke-dasharray="0 1.71"/>
<linearGradient id="t1123" href="#yg" gradientUnits="userSpaceOnUse" x1="582.0" y1="1844.5" x2="666.1" y2="1781.0"/>
<path d="M582.0 1844.5L608.2 1825.8L626.9 1807.1L645.5 1792.2L660.5 1784.7L666.1 1781.0" stroke="url(#t1123)" stroke-dasharray="0 3.42"/>
<linearGradient id="t1124" href="#yg" gradientUnits="userSpaceOnUse" x1="608.2" y1="1773.5" x2="673.6" y2="1752.9"/>
<path d="M608.2 1773.5L636.2 1760.4L654.9 1754.8L673.6 1752.9" stroke="url(#t1124)" stroke-dasharray="0 2.23"/>
<linearGradient id="t1125" href="#yg" gradientUnits="userSpaceOnUse" x1="589.5" y1="1751.1" x2="662.4" y2="1739.8"/>
<path d="M589.5 1751.1L617.5 1741.7L636.2 1732.4L662.4 1739.8" stroke="url(#t1125)" stroke-dasharray="0 2.50"/>
<circle cx="662.4" cy="1866.9" r="6" fill="#4dbbd5"/>
<circle cx="659.6" cy="1872.5" r="6" fill="#5cb8d0"/>
<circle cx="656.8" cy="1883.7" r="6" fill="#85acba"/>
<circle cx="652.1" cy="1887.5" r="6" fill="#8ca9b5"/>
<circle cx="651.2" cy="1898.7" r="6" fill="#a49da0"/>
<circle cx="650.2" cy="1932.3" r="6" fill="#ae9795"/>
<circle cx="649.7" cy="1934.1" r="6" fill="#ae9795"/>
<circle cx="648.4" cy="1951.5" r="6" fill="#b39490"/>
<circle cx="646.5" cy="1960.8" r="6" fill="#b7908b"/>
<circle cx="645.0" cy="1975.4" r="6" fill="#bb8d86"/>
<linearGradient id="t1126" href="#yg" gradientUnits="userSpaceOnUse" x1="614.0" y1="2092.4" x2="667.3" y2="1912.8"/>
<path d="M638.1 2011.3L636.2 2019.7L634.3 2032.2L631.5 2045.9L625.9 2045.9L623.1 2058.9L620.9 2069.2" stroke="url(#t1126)" stroke-dasharray="0 6.47"/>
<circle cx="619.4" cy="2100.4" r="6" fill="#e2563f"/>
<circle cx="606.3" cy="2142.1" r="6" fill="#e64b35"/>
<circle cx="609.1" cy="2144.9" r="6" fill="#e4503a"/>
<circle cx="614.7" cy="2141.2" r="6" fill="#e4503a"/>
<circle cx="527.8" cy="1945.9" r="6" fill="#e4503a"/>
<circle cx="534.4" cy="1938.4" r="6" fill="#e2563f"/>
<circle cx="524.5" cy="1971.5" r="6" fill="#e64b35"/>
<circle cx="542.8" cy="1968.3" r="6" fill="#de5f49"/>
<circle cx="551.2" cy="1963.6" r="6" fill="#d76c58"/>
<circle cx="574.5" cy="1935.6" r="6" fill="#e4503a"/>
<circle cx="559.6" cy="1956.2" r="6" fill="#8ca9b5"/>
<circle cx="570.8" cy="1950.6" r="6" fill="#4dbbd5"/>
<circle cx="554.0" cy="1986.1" r="6" fill="#4dbbd5"/>
<circle cx="550.8" cy="2000.6" r="6" fill="#8ca9b5"/>
<circle cx="589.5" cy="1947.8" r="6" fill="#b39490"/>
<circle cx="591.4" cy="1939.3" r="6" fill="#8ca9b5"/>
<circle cx="625.6" cy="1952.4" r="6" fill="#93a6af"/>
<circle cx="637.1" cy="1949.6" r="6" fill="#4dbbd5"/>
<circle cx="634.3" cy="1956.2" r="6" fill="#5cb8d0"/>
<circle cx="604.4" cy="1998.2" r="6" fill="#4dbbd5"/>
<circle cx="601.6" cy="2004.7" r="6" fill="#5cb8d0"/>
<circle cx="521.7" cy="2060.4" r="6" fill="#cf7867"/>
<linearGradient id="t1127" href="#yg" gradientUnits="userSpaceOnUse" x1="567.7" y1="1980.5" x2="572.5" y2="1792.2"/>
<path d="M568.9 1931.9L567.1 1941.2L567.1 1949.6L567.1 1959.0L568.0 1968.3" stroke="url(#t1127)" stroke-dasharray="0 6.11"/>
<linearGradient id="t1128" href="#yg" gradientUnits="userSpaceOnUse" x1="523.6" y1="1913.2" x2="625.0" y2="2058.0"/>
<path d="M566.1 1973.9L573.6 1976.7L582.0 1984.2L579.2 1992.6" stroke="url(#t1128)" stroke-dasharray="0 7.02"/>
<linearGradient id="t1129" href="#yg" gradientUnits="userSpaceOnUse" x1="583.0" y1="1918.8" x2="496.1" y2="2150.5"/>
<path d="M557.7 1986.1L554.9 1993.5" stroke="url(#t1129)" stroke-dasharray="0 7.98"/>
<linearGradient id="t1130" href="#yg" gradientUnits="userSpaceOnUse" x1="553.4" y1="1940.9" x2="674.0" y2="1921.6"/>
<path d="M592.3 1934.7L600.7 1942.1L608.2 1936.5L615.7 1930.9" stroke="url(#t1130)" stroke-dasharray="0 4.99"/>
<linearGradient id="t1131" href="#yg" gradientUnits="userSpaceOnUse" x1="534.8" y1="2133.6" x2="607.2" y2="1996.5"/>
<path d="M579.2 2049.6L583.9 2046.8L586.7 2036.5L589.5 2032.8L593.2 2023.1" stroke="url(#t1131)" stroke-dasharray="0 5.20"/>
<linearGradient id="t1132" href="#yg" gradientUnits="userSpaceOnUse" x1="511.9" y1="2071.1" x2="540.9" y2="2186.9"/>
<path d="M513.8 2078.6L515.7 2085.1L516.6 2089.8" stroke="url(#t1132)" stroke-dasharray="0 3.86"/>
<linearGradient id="t1133" href="#yg" gradientUnits="userSpaceOnUse" x1="465.5" y1="2047.3" x2="632.0" y2="2095.1"/>
<path d="M535.3 2067.3L540.9 2072.0L546.0 2078.6L552.1 2075.8L556.8 2073.5" stroke="url(#t1133)" stroke-dasharray="0 6.88"/>
<linearGradient id="t1134" href="#yg" gradientUnits="userSpaceOnUse" x1="380.7" y1="1978.0" x2="571.7" y2="1919.9"/>
<path d="M380.7 1978.0L388.0 1982.0L400.0 1979.0L412.0 1974.0L423.0 1968.0L430.0 1963.0" stroke="url(#t1134)" stroke-dasharray="0 6.85"/>
</g>
<polyline points="155.5,1792.7 187.2,1779.1 218.9,1765.4 250.6,1751.7 274.4,1741.3 290.2,1732.9 306.1,1725.0 321.9,1719.8 337.8,1716.6 353.6,1715.1 369.5,1713.2 385.4,1711.7 401.2,1711.2 419.6,1711.4 683.9,1711.5" fill="none" stroke="#000" stroke-width="4" stroke-linejoin="round"/>
<g>
<circle cx="1186.0" cy="31.5" r="7" fill="#374E55"/>
<circle cx="1229.9" cy="32.4" r="7" fill="#374E55"/>
<circle cx="1247.6" cy="32.0" r="7" fill="#374E55"/>
<circle cx="1257.0" cy="32.4" r="7" fill="#374E55"/>
<circle cx="1271.9" cy="33.4" r="7" fill="#374E55"/>
<circle cx="1302.7" cy="31.5" r="7" fill="#374E55"/>
<circle cx="1313.0" cy="32.4" r="7" fill="#374E55"/>
<circle cx="1326.1" cy="33.4" r="7" fill="#374E55"/>
<circle cx="1341.1" cy="32.0" r="7" fill="#374E55"/>
<circle cx="1356.9" cy="39.9" r="7" fill="#374E55"/>
<circle cx="1390.6" cy="31.5" r="7" fill="#374E55"/>
<circle cx="1391.5" cy="39.9" r="7" fill="#374E55"/>
<circle cx="1288.7" cy="50.2" r="7" fill="#374E55"/>
<circle cx="1344.8" cy="54.8" r="7" fill="#374E55"/>
<circle cx="1371.0" cy="56.7" r="7" fill="#374E55"/>
<circle cx="1337.3" cy="53.9" r="7" fill="#DF8F44"/>
<circle cx="1354.1" cy="59.5" r="7" fill="#DF8F44"/>
<circle cx="1371.0" cy="43.6" r="7" fill="#DF8F44"/>
<circle cx="1439.2" cy="32.4" r="7" fill="#374E55"/>
<circle cx="1446.7" cy="39.0" r="7" fill="#374E55"/>
<circle cx="1458.9" cy="32.4" r="7" fill="#374E55"/>
<circle cx="1463.5" cy="41.8" r="7" fill="#374E55"/>
<circle cx="1469.1" cy="38.0" r="7" fill="#374E55"/>
<circle cx="1472.9" cy="47.4" r="7" fill="#374E55"/>
<circle cx="1485.0" cy="34.3" r="7" fill="#374E55"/>
<circle cx="1491.6" cy="38.0" r="7" fill="#374E55"/>
<circle cx="1496.2" cy="30.6" r="7" fill="#374E55"/>
<circle cx="1463.5" cy="56.7" r="7" fill="#374E55"/>
<circle cx="1441.1" cy="57.7" r="7" fill="#374E55"/>
<circle cx="1429.9" cy="65.1" r="7" fill="#374E55"/>
<circle cx="1411.2" cy="36.2" r="7" fill="#374E55"/>
<circle cx="1498.1" cy="63.3" r="7" fill="#374E55"/>
<circle cx="1479.4" cy="74.5" r="7" fill="#374E55"/>
<circle cx="1508.4" cy="39.9" r="7" fill="#374E55"/>
<circle cx="1537.3" cy="39.0" r="7" fill="#374E55"/>
<circle cx="1542.0" cy="46.4" r="7" fill="#374E55"/>
<circle cx="1524.3" cy="50.2" r="7" fill="#374E55"/>
<circle cx="1536.4" cy="55.8" r="7" fill="#374E55"/>
<circle cx="1542.0" cy="60.5" r="7" fill="#374E55"/>
<circle cx="1598.1" cy="47.4" r="7" fill="#374E55"/>
<circle cx="1615.8" cy="66.1" r="7" fill="#374E55"/>
<circle cx="1564.4" cy="85.7" r="7" fill="#374E55"/>
<circle cx="1622.4" cy="88.5" r="7" fill="#374E55"/>
<circle cx="1574.7" cy="103.4" r="7" fill="#374E55"/>
<circle cx="1513.1" cy="143.6" r="7" fill="#374E55"/>
<circle cx="1603.7" cy="141.7" r="7" fill="#374E55"/>
<circle cx="1407.5" cy="32.4" r="7" fill="#DF8F44"/>
<circle cx="1407.5" cy="59.5" r="7" fill="#DF8F44"/>
<circle cx="1414.9" cy="50.2" r="7" fill="#DF8F44"/>
<circle cx="1430.8" cy="59.5" r="7" fill="#DF8F44"/>
<circle cx="1478.5" cy="54.8" r="7" fill="#DF8F44"/>
<circle cx="1483.2" cy="60.5" r="7" fill="#DF8F44"/>
<circle cx="1500.0" cy="56.7" r="7" fill="#DF8F44"/>
<circle cx="1514.0" cy="39.0" r="7" fill="#DF8F44"/>
<circle cx="1510.2" cy="78.2" r="7" fill="#DF8F44"/>
<circle cx="1527.1" cy="77.3" r="7" fill="#DF8F44"/>
<circle cx="1534.5" cy="66.1" r="7" fill="#DF8F44"/>
<circle cx="1552.3" cy="60.5" r="7" fill="#DF8F44"/>
<circle cx="1582.2" cy="53.0" r="7" fill="#DF8F44"/>
<circle cx="1578.5" cy="59.5" r="7" fill="#DF8F44"/>
<circle cx="1598.1" cy="53.0" r="7" fill="#DF8F44"/>
<circle cx="1592.5" cy="72.6" r="7" fill="#DF8F44"/>
<circle cx="1602.7" cy="70.7" r="7" fill="#DF8F44"/>
<circle cx="1576.6" cy="85.7" r="7" fill="#DF8F44"/>
<circle cx="1551.0" cy="89.4" r="7" fill="#DF8F44"/>
<circle cx="1628.9" cy="85.7" r="7" fill="#DF8F44"/>
<circle cx="1631.7" cy="108.7" r="7" fill="#DF8F44"/>
<circle cx="1545.8" cy="112.8" r="7" fill="#DF8F44"/>
<circle cx="1551.4" cy="118.4" r="7" fill="#DF8F44"/>
<circle cx="1560.3" cy="119.3" r="7" fill="#DF8F44"/>
<circle cx="1528.6" cy="120.6" r="7" fill="#DF8F44"/>
<circle cx="1550.1" cy="132.4" r="7" fill="#DF8F44"/>
<circle cx="1412.7" cy="179.1" r="7" fill="#DF8F44"/>
<circle cx="1450.5" cy="176.7" r="7" fill="#DF8F44"/>
<circle cx="1498.1" cy="194.1" r="7" fill="#DF8F44"/>
<circle cx="1510.2" cy="181.9" r="7" fill="#DF8F44"/>
<circle cx="1523.3" cy="187.5" r="7" fill="#DF8F44"/>
<circle cx="1524.3" cy="196.9" r="7" fill="#DF8F44"/>
<circle cx="1564.4" cy="193.1" r="7" fill="#DF8F44"/>
<circle cx="1575.7" cy="188.5" r="7" fill="#DF8F44"/>
<circle cx="1597.1" cy="180.0" r="7" fill="#DF8F44"/>
<circle cx="1620.5" cy="171.6" r="7" fill="#DF8F44"/>
<circle cx="1622.4" cy="153.0" r="7" fill="#DF8F44"/>
<circle cx="1603.7" cy="154.8" r="7" fill="#DF8F44"/>
<circle cx="1612.7" cy="200.2" r="7" fill="#DF8F44"/>
<circle cx="1568.2" cy="212.7" r="7" fill="#DF8F44"/>
<circle cx="1586.9" cy="228.6" r="7" fill="#DF8F44"/>
<circle cx="1602.7" cy="231.4" r="7" fill="#DF8F44"/>
<circle cx="1486.0" cy="237.0" r="7" fill="#DF8F44"/>
<circle cx="1564.4" cy="240.8" r="7" fill="#DF8F44"/>
<circle cx="1458.9" cy="266.2" r="7" fill="#374E55"/>
<circle cx="1607.4" cy="273.6" r="7" fill="#DF8F44"/>
<circle cx="1640.1" cy="419.0" r="7" fill="#DF8F44"/>
<circle cx="1528.6" cy="465.2" r="7" fill="#DF8F44"/>
<polyline points="1115.4,31.7 1644.6,31.7" fill="none" stroke="#000" stroke-width="4" stroke-linejoin="round"/>
<line x1="1577.5" y1="186.6" x2="1607.4" y2="160.4" stroke="#000000" stroke-width="1.9"/>
<line x1="1490.6" y1="217.4" x2="1522.4" y2="198.7" stroke="#000000" stroke-width="1.9"/>
<line x1="1530.8" y1="230.5" x2="1599.9" y2="232.0" stroke="#8B0000" stroke-width="1.9"/>
<g font-size="15.6" font-weight="bold">
<text x="1164.1" y="53.4" text-anchor="middle" fill="#00008B">Niger</text>
<text x="1220.8" y="29.5" text-anchor="middle" fill="#00008B">Mali</text>
<text x="1351.8" y="29.5" text-anchor="middle" fill="#00008B">Senegal</text>
<text x="1294.2" y="56.6" text-anchor="middle" fill="#00008B">Sierra Leone</text>
<text x="1358.8" y="56.6" text-anchor="start" fill="#00008B">Zimbabwe</text>
<text x="1641.1" y="151.9" text-anchor="middle" fill="#000000">Brunei Darussalam</text>
<text x="1642.5" y="163.7" text-anchor="middle" fill="#8B0000">Luxembourg</text>
<text x="1635.3" y="190.6" text-anchor="middle" fill="#000000">Japan</text>
<text x="1628.0" y="222.0" text-anchor="middle" fill="#000000">Czechia</text>
<text x="1590.6" y="222.0" text-anchor="middle" fill="#8B0000">Japan</text>
<text x="1434.7" y="197.1" text-anchor="middle" fill="#000000">Turkmenistan</text>
<text x="1443.2" y="224.2" text-anchor="middle" fill="#000000">Kazakhstan</text>
<text x="1433.4" y="256.0" text-anchor="middle" fill="#000000">Uzbekistan</text>
<text x="1436.6" y="287.4" text-anchor="middle" fill="#000000">Mongolia</text>
<text x="1533.9" y="178.5" text-anchor="middle" fill="#000000">Hungary</text>
<text x="1530.5" y="219.6" text-anchor="middle" fill="#000000">Croatia</text>
<text x="1500.2" y="236.4" text-anchor="middle" fill="#8B0000">Austria</text>
<text x="1542.5" y="262.5" text-anchor="middle" fill="#000000">Serbia</text>
<text x="1620.2" y="263.2" text-anchor="middle" fill="#8B0000">United States of America</text>
<text x="1624.2" y="252.9" text-anchor="middle" fill="#000000">Austria</text>
<text x="1619.8" y="295.4" text-anchor="middle" fill="#000000">United States of America</text>
<text x="1661.8" y="409.0" text-anchor="middle" fill="#000000">Norway</text>
<text x="1618.0" y="440.7" text-anchor="middle" fill="#8B0000">Norway</text>
<text x="1506.5" y="454.8" text-anchor="middle" fill="#000000">Georgia</text>
</g></g>
<g>
<circle cx="1186.0" cy="592.4" r="7" fill="#374E55"/>
<circle cx="1253.2" cy="592.4" r="7" fill="#374E55"/>
<circle cx="1282.2" cy="593.4" r="7" fill="#374E55"/>
<circle cx="1290.6" cy="593.4" r="7" fill="#374E55"/>
<circle cx="1299.9" cy="592.0" r="7" fill="#374E55"/>
<circle cx="1316.8" cy="592.4" r="7" fill="#374E55"/>
<circle cx="1326.1" cy="593.4" r="7" fill="#374E55"/>
<circle cx="1333.6" cy="592.4" r="7" fill="#374E55"/>
<circle cx="1346.7" cy="593.4" r="7" fill="#374E55"/>
<circle cx="1357.9" cy="610.2" r="7" fill="#374E55"/>
<circle cx="1337.3" cy="617.7" r="7" fill="#374E55"/>
<circle cx="1372.8" cy="592.4" r="7" fill="#374E55"/>
<circle cx="1382.2" cy="600.8" r="7" fill="#374E55"/>
<circle cx="1381.2" cy="623.3" r="7" fill="#374E55"/>
<circle cx="1311.2" cy="593.4" r="7" fill="#DF8F44"/>
<circle cx="1346.7" cy="602.7" r="7" fill="#DF8F44"/>
<circle cx="1353.2" cy="622.3" r="7" fill="#DF8F44"/>
<circle cx="1371.0" cy="617.7" r="7" fill="#DF8F44"/>
<circle cx="1390.6" cy="601.8" r="7" fill="#DF8F44"/>
<circle cx="1407.5" cy="594.3" r="7" fill="#374E55"/>
<circle cx="1426.2" cy="594.3" r="7" fill="#374E55"/>
<circle cx="1430.8" cy="601.8" r="7" fill="#374E55"/>
<circle cx="1437.4" cy="594.3" r="7" fill="#374E55"/>
<circle cx="1426.2" cy="613.9" r="7" fill="#374E55"/>
<circle cx="1458.9" cy="593.4" r="7" fill="#374E55"/>
<circle cx="1469.1" cy="604.6" r="7" fill="#374E55"/>
<circle cx="1464.5" cy="621.4" r="7" fill="#374E55"/>
<circle cx="1480.4" cy="616.7" r="7" fill="#374E55"/>
<circle cx="1491.6" cy="601.8" r="7" fill="#374E55"/>
<circle cx="1496.2" cy="591.5" r="7" fill="#374E55"/>
<circle cx="1509.3" cy="600.8" r="7" fill="#374E55"/>
<circle cx="1514.0" cy="603.6" r="7" fill="#374E55"/>
<circle cx="1508.4" cy="613.0" r="7" fill="#374E55"/>
<circle cx="1521.5" cy="622.3" r="7" fill="#374E55"/>
<circle cx="1528.9" cy="613.0" r="7" fill="#374E55"/>
<circle cx="1534.5" cy="618.6" r="7" fill="#374E55"/>
<circle cx="1530.8" cy="626.1" r="7" fill="#374E55"/>
<circle cx="1534.5" cy="630.7" r="7" fill="#374E55"/>
<circle cx="1537.3" cy="599.9" r="7" fill="#374E55"/>
<circle cx="1543.9" cy="610.2" r="7" fill="#374E55"/>
<circle cx="1553.2" cy="612.0" r="7" fill="#374E55"/>
<circle cx="1585.0" cy="602.7" r="7" fill="#374E55"/>
<circle cx="1582.2" cy="608.3" r="7" fill="#374E55"/>
<circle cx="1583.1" cy="616.7" r="7" fill="#374E55"/>
<circle cx="1598.1" cy="610.2" r="7" fill="#374E55"/>
<circle cx="1593.4" cy="633.5" r="7" fill="#374E55"/>
<circle cx="1551.0" cy="647.5" r="7" fill="#374E55"/>
<circle cx="1521.1" cy="656.9" r="7" fill="#374E55"/>
<circle cx="1604.6" cy="722.3" r="7" fill="#374E55"/>
<circle cx="1412.1" cy="603.6" r="7" fill="#DF8F44"/>
<circle cx="1411.2" cy="610.2" r="7" fill="#DF8F44"/>
<circle cx="1407.5" cy="621.4" r="7" fill="#DF8F44"/>
<circle cx="1429.9" cy="624.2" r="7" fill="#DF8F44"/>
<circle cx="1443.9" cy="619.5" r="7" fill="#DF8F44"/>
<circle cx="1452.3" cy="616.7" r="7" fill="#DF8F44"/>
<circle cx="1449.5" cy="601.8" r="7" fill="#DF8F44"/>
<circle cx="1461.7" cy="625.1" r="7" fill="#DF8F44"/>
<circle cx="1480.4" cy="599.9" r="7" fill="#DF8F44"/>
<circle cx="1482.2" cy="622.3" r="7" fill="#DF8F44"/>
<circle cx="1494.4" cy="619.5" r="7" fill="#DF8F44"/>
<circle cx="1501.8" cy="619.5" r="7" fill="#DF8F44"/>
<circle cx="1474.7" cy="594.3" r="7" fill="#DF8F44"/>
<circle cx="1525.2" cy="604.6" r="7" fill="#DF8F44"/>
<circle cx="1557.0" cy="619.5" r="7" fill="#DF8F44"/>
<circle cx="1577.5" cy="620.5" r="7" fill="#DF8F44"/>
<circle cx="1599.0" cy="619.5" r="7" fill="#DF8F44"/>
<circle cx="1615.8" cy="626.1" r="7" fill="#DF8F44"/>
<circle cx="1635.4" cy="637.3" r="7" fill="#DF8F44"/>
<circle cx="1510.2" cy="639.1" r="7" fill="#DF8F44"/>
<circle cx="1522.4" cy="641.9" r="7" fill="#DF8F44"/>
<circle cx="1565.4" cy="646.6" r="7" fill="#DF8F44"/>
<circle cx="1576.6" cy="651.3" r="7" fill="#DF8F44"/>
<circle cx="1614.0" cy="652.2" r="7" fill="#DF8F44"/>
<circle cx="1614.0" cy="659.7" r="7" fill="#DF8F44"/>
<circle cx="1631.7" cy="664.4" r="7" fill="#DF8F44"/>
<circle cx="1575.7" cy="662.5" r="7" fill="#DF8F44"/>
<circle cx="1575.7" cy="670.9" r="7" fill="#DF8F44"/>
<circle cx="1545.8" cy="681.2" r="7" fill="#DF8F44"/>
<circle cx="1560.7" cy="686.8" r="7" fill="#DF8F44"/>
<circle cx="1567.2" cy="695.2" r="7" fill="#DF8F44"/>
<circle cx="1550.4" cy="701.7" r="7" fill="#DF8F44"/>
<circle cx="1528.6" cy="689.6" r="7" fill="#DF8F44"/>
<circle cx="1623.3" cy="707.3" r="7" fill="#DF8F44"/>
<circle cx="1599.0" cy="719.5" r="7" fill="#DF8F44"/>
<circle cx="1513.4" cy="713.0" r="7" fill="#DF8F44"/>
<circle cx="1450.5" cy="743.8" r="7" fill="#DF8F44"/>
<circle cx="1510.2" cy="749.4" r="7" fill="#DF8F44"/>
<circle cx="1523.3" cy="757.8" r="7" fill="#DF8F44"/>
<circle cx="1524.3" cy="762.5" r="7" fill="#DF8F44"/>
<circle cx="1498.1" cy="764.3" r="7" fill="#DF8F44"/>
<circle cx="1505.6" cy="772.7" r="7" fill="#DF8F44"/>
<circle cx="1563.5" cy="761.5" r="7" fill="#DF8F44"/>
<circle cx="1575.7" cy="764.3" r="7" fill="#DF8F44"/>
<circle cx="1614.0" cy="766.2" r="7" fill="#DF8F44"/>
<circle cx="1568.2" cy="785.8" r="7" fill="#DF8F44"/>
<circle cx="1586.9" cy="797.0" r="7" fill="#DF8F44"/>
<circle cx="1486.0" cy="804.5" r="7" fill="#DF8F44"/>
<circle cx="1459.0" cy="845.4" r="7" fill="#DF8F44"/>
<circle cx="1607.5" cy="838.8" r="7" fill="#DF8F44"/>
<circle cx="1585.4" cy="848.5" r="7" fill="#DF8F44"/>
<circle cx="1573.2" cy="986.8" r="7" fill="#DF8F44"/>
<polyline points="1115.4,591.6 1644.6,591.6" fill="none" stroke="#000" stroke-width="4" stroke-linejoin="round"/>
<line x1="1516.2" y1="717.0" x2="1522.8" y2="757.2" stroke="#000000" stroke-width="1.9"/>
<line x1="1451.0" y1="775.5" x2="1502.8" y2="772.6" stroke="#000000" stroke-width="1.9"/>
<line x1="1509.9" y1="779.1" x2="1522.8" y2="765.3" stroke="#000000" stroke-width="1.9"/>
<line x1="1554.0" y1="818.1" x2="1567.8" y2="787.7" stroke="#000000" stroke-width="1.9"/>
<g font-size="15.6" font-weight="bold">
<text x="1214.9" y="589.5" text-anchor="middle" fill="#00008B">Niger</text>
<text x="1265.0" y="589.5" text-anchor="middle" fill="#00008B">Liberia</text>
<text x="1373.3" y="589.5" text-anchor="middle" fill="#00008B">Senegal</text>
<text x="1258.8" y="616.6" text-anchor="middle" fill="#00008B">Ethiopia</text>
<text x="1332.0" y="616.6" text-anchor="middle" fill="#00008B">Malawi</text>
<text x="1653.7" y="654.9" text-anchor="middle" fill="#8B0000">Germany</text>
<text x="1645.0" y="697.9" text-anchor="middle" fill="#8B0000">Netherlands</text>
<text x="1420.3" y="720.8" text-anchor="middle" fill="#000000">Bosnia and Herzegovina</text>
<text x="1461.1" y="754.4" text-anchor="middle" fill="#000000">Turkmenistan</text>
<text x="1407.5" y="781.6" text-anchor="middle" fill="#000000">Azerbaijan</text>
<text x="1507.2" y="794.5" text-anchor="middle" fill="#000000">Kazakhstan</text>
<text x="1437.0" y="826.7" text-anchor="middle" fill="#000000">Uzbekistan</text>
<text x="1437.1" y="867.6" text-anchor="middle" fill="#000000">Mongolia</text>
<text x="1558.9" y="747.1" text-anchor="middle" fill="#000000">Hungary</text>
<text x="1582.2" y="744.1" text-anchor="middle" fill="#8B0000">Lithuania</text>
<text x="1636.9" y="756.8" text-anchor="middle" fill="#000000">Canada</text>
<text x="1591.6" y="788.0" text-anchor="middle" fill="#8B0000">Canada</text>
<text x="1641.2" y="788.0" text-anchor="middle" fill="#000000">Brunei Darussalam</text>
<text x="1596.2" y="817.7" text-anchor="middle" fill="#000000">Czechia</text>
<text x="1521.9" y="826.7" text-anchor="middle" fill="#000000">Croatia</text>
<text x="1619.9" y="834.2" text-anchor="middle" fill="#000000">United States of America</text>
<text x="1585.6" y="860.3" text-anchor="middle" fill="#8B0000">United States of America</text>
<text x="1563.3" y="871.2" text-anchor="middle" fill="#000000">Greenland</text>
<text x="1550.9" y="1008.8" text-anchor="middle" fill="#000000">Italy</text>
</g></g>
<g>
<circle cx="1246.7" cy="1261.9" r="7" fill="#374E55"/>
<circle cx="1253.5" cy="1260.0" r="7" fill="#374E55"/>
<circle cx="1302.2" cy="1280.2" r="7" fill="#374E55"/>
<circle cx="1288.5" cy="1292.7" r="7" fill="#374E55"/>
<circle cx="1317.0" cy="1314.4" r="7" fill="#374E55"/>
<circle cx="1271.8" cy="1346.6" r="7" fill="#374E55"/>
<circle cx="1331.5" cy="1295.6" r="7" fill="#374E55"/>
<circle cx="1341.1" cy="1255.5" r="7" fill="#374E55"/>
<circle cx="1348.4" cy="1277.7" r="7" fill="#374E55"/>
<circle cx="1353.6" cy="1166.2" r="7" fill="#374E55"/>
<circle cx="1371.5" cy="1225.9" r="7" fill="#374E55"/>
<circle cx="1372.9" cy="1267.7" r="7" fill="#374E55"/>
<circle cx="1379.6" cy="1276.3" r="7" fill="#374E55"/>
<circle cx="1375.2" cy="1307.1" r="7" fill="#374E55"/>
<circle cx="1359.4" cy="1338.9" r="7" fill="#374E55"/>
<circle cx="1186.5" cy="1272.1" r="7" fill="#DF8F44"/>
<circle cx="1229.8" cy="1296.5" r="7" fill="#DF8F44"/>
<circle cx="1310.3" cy="1254.2" r="7" fill="#DF8F44"/>
<circle cx="1346.9" cy="1227.2" r="7" fill="#DF8F44"/>
<circle cx="1332.4" cy="1305.2" r="7" fill="#DF8F44"/>
<circle cx="1371.5" cy="1291.7" r="7" fill="#DF8F44"/>
<circle cx="1298.7" cy="1347.6" r="7" fill="#DF8F44"/>
<circle cx="1327.0" cy="1371.0" r="7" fill="#DF8F44"/>
<circle cx="1407.7" cy="1167.7" r="7" fill="#374E55"/>
<circle cx="1401.8" cy="1174.6" r="7" fill="#374E55"/>
<circle cx="1426.6" cy="1160.7" r="7" fill="#374E55"/>
<circle cx="1429.5" cy="1172.6" r="7" fill="#374E55"/>
<circle cx="1439.5" cy="1161.7" r="7" fill="#374E55"/>
<circle cx="1444.4" cy="1159.7" r="7" fill="#374E55"/>
<circle cx="1464.2" cy="1153.8" r="7" fill="#374E55"/>
<circle cx="1463.2" cy="1167.7" r="7" fill="#374E55"/>
<circle cx="1479.1" cy="1162.7" r="7" fill="#374E55"/>
<circle cx="1483.1" cy="1168.6" r="7" fill="#374E55"/>
<circle cx="1486.0" cy="1172.6" r="7" fill="#374E55"/>
<circle cx="1494.0" cy="1163.7" r="7" fill="#374E55"/>
<circle cx="1506.8" cy="1159.7" r="7" fill="#374E55"/>
<circle cx="1521.7" cy="1162.7" r="7" fill="#374E55"/>
<circle cx="1541.5" cy="1164.7" r="7" fill="#374E55"/>
<circle cx="1552.4" cy="1150.8" r="7" fill="#374E55"/>
<circle cx="1559.4" cy="1159.7" r="7" fill="#374E55"/>
<circle cx="1545.5" cy="1177.6" r="7" fill="#374E55"/>
<circle cx="1497.9" cy="1181.9" r="7" fill="#374E55"/>
<circle cx="1522.7" cy="1186.5" r="7" fill="#374E55"/>
<circle cx="1537.6" cy="1190.4" r="7" fill="#374E55"/>
<circle cx="1487.0" cy="1195.4" r="7" fill="#374E55"/>
<circle cx="1479.1" cy="1199.4" r="7" fill="#374E55"/>
<circle cx="1492.0" cy="1198.4" r="7" fill="#374E55"/>
<circle cx="1486.0" cy="1208.3" r="7" fill="#374E55"/>
<circle cx="1509.8" cy="1209.3" r="7" fill="#374E55"/>
<circle cx="1527.7" cy="1201.3" r="7" fill="#374E55"/>
<circle cx="1459.9" cy="1206.3" r="7" fill="#374E55"/>
<circle cx="1403.8" cy="1206.3" r="7" fill="#374E55"/>
<circle cx="1597.6" cy="1193.0" r="7" fill="#374E55"/>
<circle cx="1585.1" cy="1211.7" r="7" fill="#374E55"/>
<circle cx="1599.0" cy="1207.3" r="7" fill="#374E55"/>
<circle cx="1604.0" cy="1208.3" r="7" fill="#374E55"/>
<circle cx="1622.8" cy="1207.3" r="7" fill="#374E55"/>
<circle cx="1474.1" cy="1232.1" r="7" fill="#374E55"/>
<circle cx="1485.0" cy="1238.0" r="7" fill="#374E55"/>
<circle cx="1509.2" cy="1227.1" r="7" fill="#374E55"/>
<circle cx="1522.7" cy="1227.1" r="7" fill="#374E55"/>
<circle cx="1552.4" cy="1245.9" r="7" fill="#374E55"/>
<circle cx="1582.2" cy="1248.3" r="7" fill="#374E55"/>
<circle cx="1614.3" cy="1244.0" r="7" fill="#374E55"/>
<circle cx="1615.4" cy="1261.8" r="7" fill="#374E55"/>
<circle cx="1395.9" cy="1244.0" r="7" fill="#374E55"/>
<circle cx="1407.7" cy="1265.2" r="7" fill="#374E55"/>
<circle cx="1390.9" cy="1268.7" r="7" fill="#374E55"/>
<circle cx="1458.9" cy="1261.8" r="7" fill="#374E55"/>
<circle cx="1470.2" cy="1281.0" r="7" fill="#374E55"/>
<circle cx="1470.8" cy="1291.5" r="7" fill="#374E55"/>
<circle cx="1393.9" cy="1290.9" r="7" fill="#374E55"/>
<circle cx="1427.2" cy="1305.0" r="7" fill="#374E55"/>
<circle cx="1480.1" cy="1309.4" r="7" fill="#374E55"/>
<circle cx="1391.5" cy="1320.9" r="7" fill="#374E55"/>
<circle cx="1469.2" cy="1321.8" r="7" fill="#374E55"/>
<circle cx="1520.3" cy="1294.5" r="7" fill="#374E55"/>
<circle cx="1542.5" cy="1274.3" r="7" fill="#374E55"/>
<circle cx="1566.7" cy="1283.0" r="7" fill="#374E55"/>
<circle cx="1582.2" cy="1271.7" r="7" fill="#374E55"/>
<circle cx="1596.0" cy="1274.3" r="7" fill="#374E55"/>
<circle cx="1597.0" cy="1297.5" r="7" fill="#374E55"/>
<circle cx="1640.0" cy="1291.5" r="7" fill="#374E55"/>
<circle cx="1650.5" cy="1295.5" r="7" fill="#374E55"/>
<circle cx="1585.1" cy="1356.9" r="7" fill="#374E55"/>
<circle cx="1602.0" cy="1369.8" r="7" fill="#374E55"/>
<circle cx="1482.1" cy="1377.7" r="7" fill="#374E55"/>
<circle cx="1450.4" cy="1181.9" r="7" fill="#DF8F44"/>
<circle cx="1498.3" cy="1205.7" r="7" fill="#DF8F44"/>
<circle cx="1522.7" cy="1199.4" r="7" fill="#DF8F44"/>
<circle cx="1537.2" cy="1224.1" r="7" fill="#DF8F44"/>
<circle cx="1496.3" cy="1235.0" r="7" fill="#DF8F44"/>
<circle cx="1459.3" cy="1245.9" r="7" fill="#DF8F44"/>
<circle cx="1401.8" cy="1256.2" r="7" fill="#DF8F44"/>
<circle cx="1453.3" cy="1264.8" r="7" fill="#DF8F44"/>
<circle cx="1386.9" cy="1284.6" r="7" fill="#DF8F44"/>
<circle cx="1489.6" cy="1277.7" r="7" fill="#DF8F44"/>
<circle cx="1506.8" cy="1275.1" r="7" fill="#DF8F44"/>
<circle cx="1483.1" cy="1298.9" r="7" fill="#DF8F44"/>
<circle cx="1572.2" cy="1240.0" r="7" fill="#DF8F44"/>
<circle cx="1598.0" cy="1239.6" r="7" fill="#DF8F44"/>
<circle cx="1614.9" cy="1231.1" r="7" fill="#DF8F44"/>
<circle cx="1621.8" cy="1212.2" r="7" fill="#DF8F44"/>
<circle cx="1614.5" cy="1253.3" r="7" fill="#DF8F44"/>
<circle cx="1621.8" cy="1270.3" r="7" fill="#DF8F44"/>
<circle cx="1538.6" cy="1263.8" r="7" fill="#DF8F44"/>
<circle cx="1550.4" cy="1269.7" r="7" fill="#DF8F44"/>
<circle cx="1570.3" cy="1269.7" r="7" fill="#DF8F44"/>
<circle cx="1576.2" cy="1261.8" r="7" fill="#DF8F44"/>
<circle cx="1578.2" cy="1286.6" r="7" fill="#DF8F44"/>
<circle cx="1605.5" cy="1284.6" r="7" fill="#DF8F44"/>
<circle cx="1549.5" cy="1293.5" r="7" fill="#DF8F44"/>
<circle cx="1564.3" cy="1308.4" r="7" fill="#DF8F44"/>
<circle cx="1572.8" cy="1319.9" r="7" fill="#DF8F44"/>
<circle cx="1602.0" cy="1311.3" r="7" fill="#DF8F44"/>
<circle cx="1627.7" cy="1325.8" r="7" fill="#DF8F44"/>
<circle cx="1479.1" cy="1338.1" r="7" fill="#DF8F44"/>
<circle cx="1412.7" cy="1348.0" r="7" fill="#DF8F44"/>
<circle cx="1437.9" cy="1343.6" r="7" fill="#DF8F44"/>
<circle cx="1425.6" cy="1374.8" r="7" fill="#DF8F44"/>
<circle cx="1599.4" cy="1363.9" r="7" fill="#DF8F44"/>
<circle cx="1289.1" cy="1411.0" r="7" fill="#374E55"/>
<circle cx="1357.6" cy="1402.0" r="7" fill="#DF8F44"/>
<circle cx="1568.5" cy="1404.1" r="7" fill="#DF8F44"/>
<circle cx="1591.0" cy="1402.9" r="7" fill="#DF8F44"/>
<circle cx="1632.2" cy="1435.9" r="7" fill="#DF8F44"/>
<circle cx="1462.0" cy="1456.0" r="7" fill="#DF8F44"/>
<circle cx="1522.6" cy="1460.5" r="7" fill="#DF8F44"/>
<circle cx="1594.6" cy="1456.0" r="7" fill="#DF8F44"/>
<circle cx="1564.0" cy="1525.1" r="7" fill="#DF8F44"/>
<circle cx="1623.2" cy="1585.1" r="7" fill="#DF8F44"/>
<polyline points="1115.6,1310.7 1162.3,1272.1 1187.2,1249.6 1212.1,1228.5 1237.0,1204.8 1249.5,1191.1 1262.0,1177.4 1274.4,1166.2 1286.9,1159.9 1299.3,1157.2 1311.8,1158.7 1320.0,1158.7 1339.2,1157.0 1368.0,1154.6 1400.0,1151.6 1500.0,1151.6 1644.6,1151.4" fill="none" stroke="#000" stroke-width="4" stroke-linejoin="round"/>
<line x1="1494.1" y1="1482.1" x2="1521.1" y2="1462.0" stroke="#000000" stroke-width="1.9"/>
<g font-size="15.6" font-weight="bold">
<text x="1164.0" y="1262.7" text-anchor="middle" fill="#00008B">Niger</text>
<text x="1251.8" y="1318.1" text-anchor="middle" fill="#00008B">Chad</text>
<text x="1323.3" y="1249.2" text-anchor="middle" fill="#00008B">Nepal</text>
<text x="1305.0" y="1361.8" text-anchor="middle" fill="#000000">Madagascar</text>
<text x="1331.5" y="1156.2" text-anchor="start" fill="#00008B">Timor-Leste</text>
<text x="1369.0" y="1215.5" text-anchor="start" fill="#00008B">Bhutan</text>
<text x="1580.2" y="1301.6" text-anchor="middle" fill="#8B0000">Belgium</text>
<text x="1649.8" y="1347.8" text-anchor="middle" fill="#8B0000">Denmark</text>
<text x="1577.6" y="1353.8" text-anchor="middle" fill="#000000">New Zealand</text>
<text x="1447.9" y="1364.7" text-anchor="middle" fill="#000000">Morocco</text>
<text x="1379.9" y="1391.7" text-anchor="middle" fill="#000000">Yemen</text>
<text x="1503.9" y="1400.4" text-anchor="middle" fill="#000000">Colombia</text>
<text x="1580.4" y="1391.7" text-anchor="middle" fill="#8B0000">Austria</text>
<text x="1625.1" y="1391.7" text-anchor="middle" fill="#000000">Austria</text>
<text x="1629.3" y="1419.3" text-anchor="middle" fill="#000000">Cyprus</text>
<text x="1558.6" y="1427.4" text-anchor="middle" fill="#000000">Croatia</text>
<text x="1267.2" y="1432.8" text-anchor="middle" fill="#000000">Afghanistan</text>
<text x="1436.0" y="1446.3" text-anchor="middle" fill="#000000">Syrian Arab Republic</text>
<text x="1609.7" y="1458.3" text-anchor="middle" fill="#8B0000">Germany</text>
<text x="1654.7" y="1458.3" text-anchor="middle" fill="#000000">Germany</text>
<text x="1577.8" y="1485.3" text-anchor="middle" fill="#000000">Slovenia</text>
<text x="1437.8" y="1497.4" text-anchor="middle" fill="#000000">Bosnia and Herzegovina</text>
<text x="1541.5" y="1546.9" text-anchor="middle" fill="#000000">Hungary</text>
<text x="1566.7" y="1599.4" text-anchor="middle" fill="#5a0000">Netherlands</text>
</g></g>
<g>
<circle cx="1131.6" cy="1801.1" r="7" fill="#374E55"/>
<circle cx="1246.7" cy="1799.2" r="7" fill="#374E55"/>
<circle cx="1253.5" cy="1799.7" r="7" fill="#374E55"/>
<circle cx="1310.7" cy="1785.3" r="7" fill="#374E55"/>
<circle cx="1318.0" cy="1803.0" r="7" fill="#374E55"/>
<circle cx="1341.1" cy="1790.5" r="7" fill="#374E55"/>
<circle cx="1348.4" cy="1807.4" r="7" fill="#374E55"/>
<circle cx="1333.0" cy="1831.5" r="7" fill="#374E55"/>
<circle cx="1329.2" cy="1845.6" r="7" fill="#374E55"/>
<circle cx="1271.8" cy="1867.1" r="7" fill="#374E55"/>
<circle cx="1298.3" cy="1874.4" r="7" fill="#374E55"/>
<circle cx="1353.6" cy="1724.7" r="7" fill="#374E55"/>
<circle cx="1371.5" cy="1727.5" r="7" fill="#374E55"/>
<circle cx="1230.0" cy="1822.8" r="7" fill="#DF8F44"/>
<circle cx="1257.0" cy="1834.8" r="7" fill="#DF8F44"/>
<circle cx="1288.1" cy="1821.9" r="7" fill="#DF8F44"/>
<circle cx="1302.0" cy="1811.3" r="7" fill="#DF8F44"/>
<circle cx="1372.9" cy="1804.2" r="7" fill="#DF8F44"/>
<circle cx="1359.4" cy="1854.6" r="7" fill="#DF8F44"/>
<circle cx="1371.9" cy="1853.6" r="7" fill="#DF8F44"/>
<circle cx="1382.0" cy="1726.7" r="7" fill="#374E55"/>
<circle cx="1401.8" cy="1725.7" r="7" fill="#374E55"/>
<circle cx="1408.7" cy="1725.7" r="7" fill="#374E55"/>
<circle cx="1411.7" cy="1738.6" r="7" fill="#374E55"/>
<circle cx="1412.7" cy="1753.0" r="7" fill="#374E55"/>
<circle cx="1425.6" cy="1713.8" r="7" fill="#374E55"/>
<circle cx="1433.9" cy="1729.2" r="7" fill="#374E55"/>
<circle cx="1464.2" cy="1717.7" r="7" fill="#374E55"/>
<circle cx="1466.8" cy="1749.1" r="7" fill="#374E55"/>
<circle cx="1486.0" cy="1726.7" r="7" fill="#374E55"/>
<circle cx="1494.0" cy="1728.6" r="7" fill="#374E55"/>
<circle cx="1487.0" cy="1742.5" r="7" fill="#374E55"/>
<circle cx="1499.9" cy="1739.5" r="7" fill="#374E55"/>
<circle cx="1485.0" cy="1756.4" r="7" fill="#374E55"/>
<circle cx="1498.3" cy="1761.7" r="7" fill="#374E55"/>
<circle cx="1509.8" cy="1723.7" r="7" fill="#374E55"/>
<circle cx="1521.7" cy="1723.7" r="7" fill="#374E55"/>
<circle cx="1524.7" cy="1737.6" r="7" fill="#374E55"/>
<circle cx="1537.2" cy="1745.5" r="7" fill="#374E55"/>
<circle cx="1552.4" cy="1712.8" r="7" fill="#374E55"/>
<circle cx="1557.4" cy="1717.7" r="7" fill="#374E55"/>
<circle cx="1571.8" cy="1715.8" r="7" fill="#374E55"/>
<circle cx="1598.0" cy="1742.5" r="7" fill="#374E55"/>
<circle cx="1599.0" cy="1753.4" r="7" fill="#374E55"/>
<circle cx="1611.5" cy="1761.3" r="7" fill="#374E55"/>
<circle cx="1433.5" cy="1773.2" r="7" fill="#374E55"/>
<circle cx="1473.7" cy="1779.2" r="7" fill="#374E55"/>
<circle cx="1389.9" cy="1785.1" r="7" fill="#374E55"/>
<circle cx="1401.8" cy="1787.1" r="7" fill="#374E55"/>
<circle cx="1407.7" cy="1791.1" r="7" fill="#374E55"/>
<circle cx="1389.9" cy="1798.0" r="7" fill="#374E55"/>
<circle cx="1386.9" cy="1805.9" r="7" fill="#374E55"/>
<circle cx="1540.5" cy="1773.2" r="7" fill="#374E55"/>
<circle cx="1535.6" cy="1778.2" r="7" fill="#374E55"/>
<circle cx="1509.8" cy="1788.1" r="7" fill="#374E55"/>
<circle cx="1524.3" cy="1801.4" r="7" fill="#374E55"/>
<circle cx="1597.0" cy="1774.2" r="7" fill="#374E55"/>
<circle cx="1588.1" cy="1780.2" r="7" fill="#374E55"/>
<circle cx="1596.0" cy="1787.1" r="7" fill="#374E55"/>
<circle cx="1614.9" cy="1780.2" r="7" fill="#374E55"/>
<circle cx="1613.9" cy="1794.0" r="7" fill="#374E55"/>
<circle cx="1583.1" cy="1797.0" r="7" fill="#374E55"/>
<circle cx="1564.3" cy="1806.3" r="7" fill="#374E55"/>
<circle cx="1601.0" cy="1804.0" r="7" fill="#374E55"/>
<circle cx="1605.9" cy="1808.9" r="7" fill="#374E55"/>
<circle cx="1550.8" cy="1813.9" r="7" fill="#374E55"/>
<circle cx="1550.8" cy="1823.2" r="7" fill="#374E55"/>
<circle cx="1550.4" cy="1837.1" r="7" fill="#374E55"/>
<circle cx="1520.7" cy="1826.7" r="7" fill="#374E55"/>
<circle cx="1483.1" cy="1819.8" r="7" fill="#374E55"/>
<circle cx="1469.2" cy="1836.7" r="7" fill="#374E55"/>
<circle cx="1468.2" cy="1846.6" r="7" fill="#374E55"/>
<circle cx="1459.3" cy="1857.5" r="7" fill="#374E55"/>
<circle cx="1513.2" cy="1842.6" r="7" fill="#374E55"/>
<circle cx="1591.1" cy="1834.3" r="7" fill="#374E55"/>
<circle cx="1599.0" cy="1854.5" r="7" fill="#374E55"/>
<circle cx="1605.9" cy="1870.4" r="7" fill="#374E55"/>
<circle cx="1640.0" cy="1850.5" r="7" fill="#374E55"/>
<circle cx="1568.3" cy="1906.6" r="7" fill="#374E55"/>
<circle cx="1586.7" cy="1903.6" r="7" fill="#374E55"/>
<circle cx="1585.1" cy="1917.5" r="7" fill="#374E55"/>
<circle cx="1384.0" cy="1769.3" r="7" fill="#DF8F44"/>
<circle cx="1450.4" cy="1773.2" r="7" fill="#DF8F44"/>
<circle cx="1492.0" cy="1750.4" r="7" fill="#DF8F44"/>
<circle cx="1506.8" cy="1760.4" r="7" fill="#DF8F44"/>
<circle cx="1522.7" cy="1772.2" r="7" fill="#DF8F44"/>
<circle cx="1496.9" cy="1788.1" r="7" fill="#DF8F44"/>
<circle cx="1514.4" cy="1788.7" r="7" fill="#DF8F44"/>
<circle cx="1535.2" cy="1788.1" r="7" fill="#DF8F44"/>
<circle cx="1552.0" cy="1786.5" r="7" fill="#DF8F44"/>
<circle cx="1574.6" cy="1786.5" r="7" fill="#DF8F44"/>
<circle cx="1614.9" cy="1775.2" r="7" fill="#DF8F44"/>
<circle cx="1635.3" cy="1774.2" r="7" fill="#DF8F44"/>
<circle cx="1622.2" cy="1787.1" r="7" fill="#DF8F44"/>
<circle cx="1575.8" cy="1804.0" r="7" fill="#DF8F44"/>
<circle cx="1506.8" cy="1813.3" r="7" fill="#DF8F44"/>
<circle cx="1575.2" cy="1820.2" r="7" fill="#DF8F44"/>
<circle cx="1538.6" cy="1822.8" r="7" fill="#DF8F44"/>
<circle cx="1498.3" cy="1840.0" r="7" fill="#DF8F44"/>
<circle cx="1480.7" cy="1846.6" r="7" fill="#DF8F44"/>
<circle cx="1620.4" cy="1832.3" r="7" fill="#DF8F44"/>
<circle cx="1596.0" cy="1845.6" r="7" fill="#DF8F44"/>
<circle cx="1607.5" cy="1848.6" r="7" fill="#DF8F44"/>
<circle cx="1437.5" cy="1862.4" r="7" fill="#DF8F44"/>
<circle cx="1452.3" cy="1866.8" r="7" fill="#DF8F44"/>
<circle cx="1576.2" cy="1882.2" r="7" fill="#DF8F44"/>
<circle cx="1572.2" cy="1889.2" r="7" fill="#DF8F44"/>
<circle cx="1412.7" cy="1892.2" r="7" fill="#DF8F44"/>
<circle cx="1426.0" cy="1902.5" r="7" fill="#DF8F44"/>
<circle cx="1481.7" cy="1891.8" r="7" fill="#DF8F44"/>
<circle cx="1524.3" cy="1903.6" r="7" fill="#DF8F44"/>
<circle cx="1380.0" cy="1804.0" r="7" fill="#DF8F44"/>
<circle cx="1462.0" cy="1951.0" r="7" fill="#DF8F44"/>
<circle cx="1623.2" cy="1945.9" r="7" fill="#DF8F44"/>
<circle cx="1489.6" cy="1968.1" r="7" fill="#DF8F44"/>
<circle cx="1564.0" cy="2013.1" r="7" fill="#DF8F44"/>
<circle cx="1528.6" cy="2073.2" r="7" fill="#DF8F44"/>
<circle cx="1564.6" cy="2146.1" r="7" fill="#DF8F44"/>
<polyline points="1115.9,1834.3 1147.6,1813.7 1179.3,1793.1 1211.0,1772.4 1234.8,1756.6 1250.6,1743.9 1266.5,1732.0 1282.3,1724.1 1298.2,1719.3 1314.0,1717.0 1329.9,1714.1 1345.8,1711.9 1361.6,1711.1 1380.0,1711.4 1644.6,1711.6" fill="none" stroke="#000" stroke-width="4" stroke-linejoin="round"/>
<line x1="1554.4" y1="1932.2" x2="1567.3" y2="1909.0" stroke="#000000" stroke-width="1.9"/>
<g font-size="15.6" font-weight="bold">
<text x="1109.1" y="1823.3" text-anchor="middle" fill="#00008B">Somalia</text>
<text x="1269.4" y="1789.0" text-anchor="middle" fill="#00008B">Mali</text>
<text x="1305.8" y="1714.9" text-anchor="middle" fill="#00008B">Timor-Leste</text>
<text x="1349.6" y="1749.5" text-anchor="middle" fill="#00008B">Vanuatu</text>
<text x="1623.8" y="1715.6" text-anchor="end" fill="#00008B">Lao People&#39;s Democratic Republic</text>
<text x="1642.6" y="1822.6" text-anchor="middle" fill="#8B0000">Luxembourg</text>
<text x="1503.5" y="1859.3" text-anchor="middle" fill="#8B0000">United States of America</text>
<text x="1661.7" y="1872.7" text-anchor="middle" fill="#8B0000">Norway</text>
<text x="1406.8" y="1882.6" text-anchor="end" fill="#000000">Sudan</text>
<text x="1459.8" y="1881.5" text-anchor="middle" fill="#000000">Colombia</text>
<text x="1551.2" y="1878.7" text-anchor="middle" fill="#000000">Italy</text>
<text x="1583.4" y="1892.6" text-anchor="middle" fill="#8B0000">Finland</text>
<text x="1615.2" y="1893.9" text-anchor="middle" fill="#000000">Czechia</text>
<text x="1403.3" y="1924.8" text-anchor="middle" fill="#000000">Morocco</text>
<text x="1492.8" y="1914.3" text-anchor="middle" fill="#000000">Libya</text>
<text x="1522.9" y="1941.3" text-anchor="middle" fill="#000000">Croatia</text>
<text x="1604.7" y="1938.3" text-anchor="middle" fill="#000000">Greenland</text>
<text x="1645.2" y="1935.9" text-anchor="middle" fill="#8B0000">Netherlands</text>
<text x="1371.8" y="1951.8" text-anchor="middle" fill="#000000">Syrian Arab Republic</text>
<text x="1644.9" y="1967.4" text-anchor="middle" fill="#000000">Netherlands</text>
<text x="1511.8" y="1989.9" text-anchor="middle" fill="#000000">Grenada</text>
<text x="1592.4" y="2002.8" text-anchor="middle" fill="#000000">Hungary</text>
<text x="1506.3" y="2062.9" text-anchor="middle" fill="#000000">Georgia</text>
<text x="1587.0" y="2135.5" text-anchor="middle" fill="#000000">Serbia</text>
</g></g>
<line x1="87.8" y1="25.7" x2="93.9" y2="25.7" stroke="#333333" stroke-width="2.1"/>
<text x="82.8" y="32.6" text-anchor="end" font-size="20" fill="#525252">0</text>
<line x1="87.8" y1="135.2" x2="93.9" y2="135.2" stroke="#333333" stroke-width="2.1"/>
<text x="82.8" y="142.1" text-anchor="end" font-size="20" fill="#525252">20</text>
<line x1="87.8" y1="244.7" x2="93.9" y2="244.7" stroke="#333333" stroke-width="2.1"/>
<text x="82.8" y="251.6" text-anchor="end" font-size="20" fill="#525252">40</text>
<line x1="87.8" y1="354.3" x2="93.9" y2="354.3" stroke="#333333" stroke-width="2.1"/>
<text x="82.8" y="361.2" text-anchor="end" font-size="20" fill="#525252">60</text>
<line x1="87.8" y1="463.8" x2="93.9" y2="463.8" stroke="#333333" stroke-width="2.1"/>
<text x="82.8" y="470.7" text-anchor="end" font-size="20" fill="#525252">80</text>
<line x1="124.0" y1="486.7" x2="124.0" y2="492.8" stroke="#333333" stroke-width="2.1"/>
<text x="124.0" y="511.5" text-anchor="middle" font-size="20" fill="#525252">0.0</text>
<line x1="245.3" y1="486.7" x2="245.3" y2="492.8" stroke="#333333" stroke-width="2.1"/>
<text x="245.3" y="511.5" text-anchor="middle" font-size="20" fill="#525252">0.2</text>
<line x1="366.6" y1="486.7" x2="366.6" y2="492.8" stroke="#333333" stroke-width="2.1"/>
<text x="366.6" y="511.5" text-anchor="middle" font-size="20" fill="#525252">0.4</text>
<line x1="487.9" y1="486.7" x2="487.9" y2="492.8" stroke="#333333" stroke-width="2.1"/>
<text x="487.9" y="511.5" text-anchor="middle" font-size="20" fill="#525252">0.6</text>
<line x1="609.2" y1="486.7" x2="609.2" y2="492.8" stroke="#333333" stroke-width="2.1"/>
<text x="609.2" y="511.5" text-anchor="middle" font-size="20" fill="#525252">0.8</text>
<line x1="730.5" y1="486.7" x2="730.5" y2="492.8" stroke="#333333" stroke-width="2.1"/>
<text x="730.5" y="511.5" text-anchor="middle" font-size="20" fill="#525252">1.0</text>
<rect x="94.40" y="10.20" width="666.00" height="476.00" fill="none" stroke="#7f7f7f" stroke-width="2.1"/>
<text x="426.8" y="540.0" text-anchor="middle" font-size="24.5" fill="#000">SDI</text>
<text transform="translate(27.4,248.2) rotate(-90)" text-anchor="middle" font-size="24.4" fill="#000">Age-standardized incidence rate</text>
<text x="8.5" y="30.6" font-size="31.5" font-weight="bold" fill="#000">A</text>
<line x1="1048.1" y1="25.8" x2="1054.2" y2="25.8" stroke="#333333" stroke-width="2.1"/>
<text x="1043.1" y="32.7" text-anchor="end" font-size="20" fill="#525252">0</text>
<line x1="1048.1" y1="136.1" x2="1054.2" y2="136.1" stroke="#333333" stroke-width="2.1"/>
<text x="1043.1" y="143.0" text-anchor="end" font-size="20" fill="#525252">20</text>
<line x1="1048.1" y1="246.4" x2="1054.2" y2="246.4" stroke="#333333" stroke-width="2.1"/>
<text x="1043.1" y="253.3" text-anchor="end" font-size="20" fill="#525252">40</text>
<line x1="1048.1" y1="356.7" x2="1054.2" y2="356.7" stroke="#333333" stroke-width="2.1"/>
<text x="1043.1" y="363.6" text-anchor="end" font-size="20" fill="#525252">60</text>
<line x1="1048.1" y1="467.0" x2="1054.2" y2="467.0" stroke="#333333" stroke-width="2.1"/>
<text x="1043.1" y="473.9" text-anchor="end" font-size="20" fill="#525252">80</text>
<line x1="1084.4" y1="486.7" x2="1084.4" y2="492.8" stroke="#333333" stroke-width="2.1"/>
<text x="1084.4" y="511.5" text-anchor="middle" font-size="20" fill="#525252">0.0</text>
<line x1="1205.7" y1="486.7" x2="1205.7" y2="492.8" stroke="#333333" stroke-width="2.1"/>
<text x="1205.7" y="511.5" text-anchor="middle" font-size="20" fill="#525252">0.2</text>
<line x1="1327.0" y1="486.7" x2="1327.0" y2="492.8" stroke="#333333" stroke-width="2.1"/>
<text x="1327.0" y="511.5" text-anchor="middle" font-size="20" fill="#525252">0.4</text>
<line x1="1448.3" y1="486.7" x2="1448.3" y2="492.8" stroke="#333333" stroke-width="2.1"/>
<text x="1448.3" y="511.5" text-anchor="middle" font-size="20" fill="#525252">0.6</text>
<line x1="1569.6" y1="486.7" x2="1569.6" y2="492.8" stroke="#333333" stroke-width="2.1"/>
<text x="1569.6" y="511.5" text-anchor="middle" font-size="20" fill="#525252">0.8</text>
<line x1="1690.9" y1="486.7" x2="1690.9" y2="492.8" stroke="#333333" stroke-width="2.1"/>
<text x="1690.9" y="511.5" text-anchor="middle" font-size="20" fill="#525252">1.0</text>
<rect x="1054.65" y="10.20" width="666.25" height="476.00" fill="none" stroke="#7f7f7f" stroke-width="2.1"/>
<text x="1387.2" y="540.0" text-anchor="middle" font-size="24.5" fill="#000">SDI</text>
<text transform="translate(987.7,248.2) rotate(-90)" text-anchor="middle" font-size="24.4" fill="#000">Age-standardized incidence rate</text>
<text x="968.8" y="30.6" font-size="31.5" font-weight="bold" fill="#000">B</text>
<line x1="87.8" y1="587.4" x2="93.9" y2="587.4" stroke="#333333" stroke-width="2.1"/>
<text x="82.8" y="594.3" text-anchor="end" font-size="20" fill="#525252">0</text>
<line x1="87.8" y1="694.5" x2="93.9" y2="694.5" stroke="#333333" stroke-width="2.1"/>
<text x="82.8" y="701.4" text-anchor="end" font-size="20" fill="#525252">250</text>
<line x1="87.8" y1="801.7" x2="93.9" y2="801.7" stroke="#333333" stroke-width="2.1"/>
<text x="82.8" y="808.6" text-anchor="end" font-size="20" fill="#525252">500</text>
<line x1="87.8" y1="908.8" x2="93.9" y2="908.8" stroke="#333333" stroke-width="2.1"/>
<text x="82.8" y="915.7" text-anchor="end" font-size="20" fill="#525252">750</text>
<line x1="87.8" y1="1016.0" x2="93.9" y2="1016.0" stroke="#333333" stroke-width="2.1"/>
<text x="82.8" y="1022.9" text-anchor="end" font-size="20" fill="#525252">1000</text>
<line x1="124.0" y1="1046.9" x2="124.0" y2="1053.0" stroke="#333333" stroke-width="2.1"/>
<text x="124.0" y="1071.7" text-anchor="middle" font-size="20" fill="#525252">0.0</text>
<line x1="245.3" y1="1046.9" x2="245.3" y2="1053.0" stroke="#333333" stroke-width="2.1"/>
<text x="245.3" y="1071.7" text-anchor="middle" font-size="20" fill="#525252">0.2</text>
<line x1="366.6" y1="1046.9" x2="366.6" y2="1053.0" stroke="#333333" stroke-width="2.1"/>
<text x="366.6" y="1071.7" text-anchor="middle" font-size="20" fill="#525252">0.4</text>
<line x1="487.9" y1="1046.9" x2="487.9" y2="1053.0" stroke="#333333" stroke-width="2.1"/>
<text x="487.9" y="1071.7" text-anchor="middle" font-size="20" fill="#525252">0.6</text>
<line x1="609.2" y1="1046.9" x2="609.2" y2="1053.0" stroke="#333333" stroke-width="2.1"/>
<text x="609.2" y="1071.7" text-anchor="middle" font-size="20" fill="#525252">0.8</text>
<line x1="730.5" y1="1046.9" x2="730.5" y2="1053.0" stroke="#333333" stroke-width="2.1"/>
<text x="730.5" y="1071.7" text-anchor="middle" font-size="20" fill="#525252">1.0</text>
<rect x="94.40" y="569.90" width="666.00" height="476.50" fill="none" stroke="#7f7f7f" stroke-width="2.1"/>
<text x="426.8" y="1100.2" text-anchor="middle" font-size="24.5" fill="#000">SDI</text>
<text transform="translate(27.4,808.2) rotate(-90)" text-anchor="middle" font-size="24.4" fill="#000">Age-standardized prevalence rate</text>
<text x="8.5" y="590.3" font-size="31.5" font-weight="bold" fill="#000">C</text>
<line x1="1048.1" y1="587.5" x2="1054.2" y2="587.5" stroke="#333333" stroke-width="2.1"/>
<text x="1043.1" y="594.4" text-anchor="end" font-size="20" fill="#525252">0</text>
<line x1="1048.1" y1="695.5" x2="1054.2" y2="695.5" stroke="#333333" stroke-width="2.1"/>
<text x="1043.1" y="702.4" text-anchor="end" font-size="20" fill="#525252">250</text>
<line x1="1048.1" y1="803.5" x2="1054.2" y2="803.5" stroke="#333333" stroke-width="2.1"/>
<text x="1043.1" y="810.4" text-anchor="end" font-size="20" fill="#525252">500</text>
<line x1="1048.1" y1="911.5" x2="1054.2" y2="911.5" stroke="#333333" stroke-width="2.1"/>
<text x="1043.1" y="918.4" text-anchor="end" font-size="20" fill="#525252">750</text>
<line x1="1048.1" y1="1019.5" x2="1054.2" y2="1019.5" stroke="#333333" stroke-width="2.1"/>
<text x="1043.1" y="1026.4" text-anchor="end" font-size="20" fill="#525252">1000</text>
<line x1="1084.4" y1="1046.9" x2="1084.4" y2="1053.0" stroke="#333333" stroke-width="2.1"/>
<text x="1084.4" y="1071.7" text-anchor="middle" font-size="20" fill="#525252">0.0</text>
<line x1="1205.7" y1="1046.9" x2="1205.7" y2="1053.0" stroke="#333333" stroke-width="2.1"/>
<text x="1205.7" y="1071.7" text-anchor="middle" font-size="20" fill="#525252">0.2</text>
<line x1="1327.0" y1="1046.9" x2="1327.0" y2="1053.0" stroke="#333333" stroke-width="2.1"/>
<text x="1327.0" y="1071.7" text-anchor="middle" font-size="20" fill="#525252">0.4</text>
<line x1="1448.3" y1="1046.9" x2="1448.3" y2="1053.0" stroke="#333333" stroke-width="2.1"/>
<text x="1448.3" y="1071.7" text-anchor="middle" font-size="20" fill="#525252">0.6</text>
<line x1="1569.6" y1="1046.9" x2="1569.6" y2="1053.0" stroke="#333333" stroke-width="2.1"/>
<text x="1569.6" y="1071.7" text-anchor="middle" font-size="20" fill="#525252">0.8</text>
<line x1="1690.9" y1="1046.9" x2="1690.9" y2="1053.0" stroke="#333333" stroke-width="2.1"/>
<text x="1690.9" y="1071.7" text-anchor="middle" font-size="20" fill="#525252">1.0</text>
<rect x="1054.65" y="569.90" width="666.25" height="476.50" fill="none" stroke="#7f7f7f" stroke-width="2.1"/>
<text x="1387.2" y="1100.2" text-anchor="middle" font-size="24.5" fill="#000">SDI</text>
<text transform="translate(987.7,808.2) rotate(-90)" text-anchor="middle" font-size="24.4" fill="#000">Age-standardized prevalence rate</text>
<text x="968.8" y="590.3" font-size="31.5" font-weight="bold" fill="#000">D</text>
<line x1="87.8" y1="1151.3" x2="93.9" y2="1151.3" stroke="#333333" stroke-width="2.1"/>
<text x="82.8" y="1158.2" text-anchor="end" font-size="20" fill="#525252">0</text>
<line x1="87.8" y1="1242.4" x2="93.9" y2="1242.4" stroke="#333333" stroke-width="2.1"/>
<text x="82.8" y="1249.3" text-anchor="end" font-size="20" fill="#525252">1</text>
<line x1="87.8" y1="1333.5" x2="93.9" y2="1333.5" stroke="#333333" stroke-width="2.1"/>
<text x="82.8" y="1340.4" text-anchor="end" font-size="20" fill="#525252">2</text>
<line x1="87.8" y1="1424.5" x2="93.9" y2="1424.5" stroke="#333333" stroke-width="2.1"/>
<text x="82.8" y="1431.4" text-anchor="end" font-size="20" fill="#525252">3</text>
<line x1="87.8" y1="1515.6" x2="93.9" y2="1515.6" stroke="#333333" stroke-width="2.1"/>
<text x="82.8" y="1522.5" text-anchor="end" font-size="20" fill="#525252">4</text>
<line x1="87.8" y1="1606.7" x2="93.9" y2="1606.7" stroke="#333333" stroke-width="2.1"/>
<text x="82.8" y="1613.6" text-anchor="end" font-size="20" fill="#525252">5</text>
<line x1="124.0" y1="1607.3" x2="124.0" y2="1613.4" stroke="#333333" stroke-width="2.1"/>
<text x="124.0" y="1632.1" text-anchor="middle" font-size="20" fill="#525252">0.0</text>
<line x1="245.3" y1="1607.3" x2="245.3" y2="1613.4" stroke="#333333" stroke-width="2.1"/>
<text x="245.3" y="1632.1" text-anchor="middle" font-size="20" fill="#525252">0.2</text>
<line x1="366.6" y1="1607.3" x2="366.6" y2="1613.4" stroke="#333333" stroke-width="2.1"/>
<text x="366.6" y="1632.1" text-anchor="middle" font-size="20" fill="#525252">0.4</text>
<line x1="487.9" y1="1607.3" x2="487.9" y2="1613.4" stroke="#333333" stroke-width="2.1"/>
<text x="487.9" y="1632.1" text-anchor="middle" font-size="20" fill="#525252">0.6</text>
<line x1="609.2" y1="1607.3" x2="609.2" y2="1613.4" stroke="#333333" stroke-width="2.1"/>
<text x="609.2" y="1632.1" text-anchor="middle" font-size="20" fill="#525252">0.8</text>
<line x1="730.5" y1="1607.3" x2="730.5" y2="1613.4" stroke="#333333" stroke-width="2.1"/>
<text x="730.5" y="1632.1" text-anchor="middle" font-size="20" fill="#525252">1.0</text>
<rect x="94.40" y="1130.60" width="666.00" height="476.20" fill="none" stroke="#7f7f7f" stroke-width="2.1"/>
<text x="426.8" y="1660.6" text-anchor="middle" font-size="24.5" fill="#000">SDI</text>
<text transform="translate(27.4,1368.7) rotate(-90)" text-anchor="middle" font-size="24.4" fill="#000">Age-standardized deaths rate</text>
<text x="8.5" y="1151.0" font-size="31.5" font-weight="bold" fill="#000">E</text>
<line x1="1048.1" y1="1150.9" x2="1054.2" y2="1150.9" stroke="#333333" stroke-width="2.1"/>
<text x="1043.1" y="1157.8" text-anchor="end" font-size="20" fill="#525252">0.0</text>
<line x1="1048.1" y1="1268.1" x2="1054.2" y2="1268.1" stroke="#333333" stroke-width="2.1"/>
<text x="1043.1" y="1275.0" text-anchor="end" font-size="20" fill="#525252">0.5</text>
<line x1="1048.1" y1="1385.2" x2="1054.2" y2="1385.2" stroke="#333333" stroke-width="2.1"/>
<text x="1043.1" y="1392.1" text-anchor="end" font-size="20" fill="#525252">1.0</text>
<line x1="1048.1" y1="1502.4" x2="1054.2" y2="1502.4" stroke="#333333" stroke-width="2.1"/>
<text x="1043.1" y="1509.3" text-anchor="end" font-size="20" fill="#525252">1.5</text>
<line x1="1084.4" y1="1607.3" x2="1084.4" y2="1613.4" stroke="#333333" stroke-width="2.1"/>
<text x="1084.4" y="1632.1" text-anchor="middle" font-size="20" fill="#525252">0.0</text>
<line x1="1205.7" y1="1607.3" x2="1205.7" y2="1613.4" stroke="#333333" stroke-width="2.1"/>
<text x="1205.7" y="1632.1" text-anchor="middle" font-size="20" fill="#525252">0.2</text>
<line x1="1327.0" y1="1607.3" x2="1327.0" y2="1613.4" stroke="#333333" stroke-width="2.1"/>
<text x="1327.0" y="1632.1" text-anchor="middle" font-size="20" fill="#525252">0.4</text>
<line x1="1448.3" y1="1607.3" x2="1448.3" y2="1613.4" stroke="#333333" stroke-width="2.1"/>
<text x="1448.3" y="1632.1" text-anchor="middle" font-size="20" fill="#525252">0.6</text>
<line x1="1569.6" y1="1607.3" x2="1569.6" y2="1613.4" stroke="#333333" stroke-width="2.1"/>
<text x="1569.6" y="1632.1" text-anchor="middle" font-size="20" fill="#525252">0.8</text>
<line x1="1690.9" y1="1607.3" x2="1690.9" y2="1613.4" stroke="#333333" stroke-width="2.1"/>
<text x="1690.9" y="1632.1" text-anchor="middle" font-size="20" fill="#525252">1.0</text>
<rect x="1054.65" y="1130.60" width="666.25" height="476.20" fill="none" stroke="#7f7f7f" stroke-width="2.1"/>
<text x="1387.2" y="1660.6" text-anchor="middle" font-size="24.5" fill="#000">SDI</text>
<text transform="translate(987.7,1368.7) rotate(-90)" text-anchor="middle" font-size="24.4" fill="#000">Age-standardized deaths rate</text>
<text x="968.8" y="1151.0" font-size="31.5" font-weight="bold" fill="#000">F</text>
<line x1="87.8" y1="1705.1" x2="93.9" y2="1705.1" stroke="#333333" stroke-width="2.1"/>
<text x="82.8" y="1712.0" text-anchor="end" font-size="20" fill="#525252">0</text>
<line x1="87.8" y1="1812.8" x2="93.9" y2="1812.8" stroke="#333333" stroke-width="2.1"/>
<text x="82.8" y="1819.7" text-anchor="end" font-size="20" fill="#525252">20</text>
<line x1="87.8" y1="1920.5" x2="93.9" y2="1920.5" stroke="#333333" stroke-width="2.1"/>
<text x="82.8" y="1927.4" text-anchor="end" font-size="20" fill="#525252">40</text>
<line x1="87.8" y1="2028.1" x2="93.9" y2="2028.1" stroke="#333333" stroke-width="2.1"/>
<text x="82.8" y="2035.0" text-anchor="end" font-size="20" fill="#525252">60</text>
<line x1="87.8" y1="2135.8" x2="93.9" y2="2135.8" stroke="#333333" stroke-width="2.1"/>
<text x="82.8" y="2142.7" text-anchor="end" font-size="20" fill="#525252">80</text>
<line x1="124.0" y1="2167.2" x2="124.0" y2="2173.3" stroke="#333333" stroke-width="2.1"/>
<text x="124.0" y="2192.0" text-anchor="middle" font-size="20" fill="#525252">0.0</text>
<line x1="245.3" y1="2167.2" x2="245.3" y2="2173.3" stroke="#333333" stroke-width="2.1"/>
<text x="245.3" y="2192.0" text-anchor="middle" font-size="20" fill="#525252">0.2</text>
<line x1="366.6" y1="2167.2" x2="366.6" y2="2173.3" stroke="#333333" stroke-width="2.1"/>
<text x="366.6" y="2192.0" text-anchor="middle" font-size="20" fill="#525252">0.4</text>
<line x1="487.9" y1="2167.2" x2="487.9" y2="2173.3" stroke="#333333" stroke-width="2.1"/>
<text x="487.9" y="2192.0" text-anchor="middle" font-size="20" fill="#525252">0.6</text>
<line x1="609.2" y1="2167.2" x2="609.2" y2="2173.3" stroke="#333333" stroke-width="2.1"/>
<text x="609.2" y="2192.0" text-anchor="middle" font-size="20" fill="#525252">0.8</text>
<line x1="730.5" y1="2167.2" x2="730.5" y2="2173.3" stroke="#333333" stroke-width="2.1"/>
<text x="730.5" y="2192.0" text-anchor="middle" font-size="20" fill="#525252">1.0</text>
<rect x="94.40" y="1690.80" width="666.00" height="475.90" fill="none" stroke="#7f7f7f" stroke-width="2.1"/>
<text x="426.8" y="2220.5" text-anchor="middle" font-size="24.5" fill="#000">SDI</text>
<text transform="translate(27.4,1928.8) rotate(-90)" text-anchor="middle" font-size="24.4" fill="#000">Age-standardized DALYs rate</text>
<text x="8.5" y="1711.2" font-size="31.5" font-weight="bold" fill="#000">G</text>
<line x1="1048.1" y1="1701.9" x2="1054.2" y2="1701.9" stroke="#333333" stroke-width="2.1"/>
<text x="1043.1" y="1708.8" text-anchor="end" font-size="20" fill="#525252">0</text>
<line x1="1048.1" y1="1864.7" x2="1054.2" y2="1864.7" stroke="#333333" stroke-width="2.1"/>
<text x="1043.1" y="1871.6" text-anchor="end" font-size="20" fill="#525252">20</text>
<line x1="1048.1" y1="2027.4" x2="1054.2" y2="2027.4" stroke="#333333" stroke-width="2.1"/>
<text x="1043.1" y="2034.3" text-anchor="end" font-size="20" fill="#525252">40</text>
<line x1="1084.4" y1="2167.2" x2="1084.4" y2="2173.3" stroke="#333333" stroke-width="2.1"/>
<text x="1084.4" y="2192.0" text-anchor="middle" font-size="20" fill="#525252">0.0</text>
<line x1="1205.7" y1="2167.2" x2="1205.7" y2="2173.3" stroke="#333333" stroke-width="2.1"/>
<text x="1205.7" y="2192.0" text-anchor="middle" font-size="20" fill="#525252">0.2</text>
<line x1="1327.0" y1="2167.2" x2="1327.0" y2="2173.3" stroke="#333333" stroke-width="2.1"/>
<text x="1327.0" y="2192.0" text-anchor="middle" font-size="20" fill="#525252">0.4</text>
<line x1="1448.3" y1="2167.2" x2="1448.3" y2="2173.3" stroke="#333333" stroke-width="2.1"/>
<text x="1448.3" y="2192.0" text-anchor="middle" font-size="20" fill="#525252">0.6</text>
<line x1="1569.6" y1="2167.2" x2="1569.6" y2="2173.3" stroke="#333333" stroke-width="2.1"/>
<text x="1569.6" y="2192.0" text-anchor="middle" font-size="20" fill="#525252">0.8</text>
<line x1="1690.9" y1="2167.2" x2="1690.9" y2="2173.3" stroke="#333333" stroke-width="2.1"/>
<text x="1690.9" y="2192.0" text-anchor="middle" font-size="20" fill="#525252">1.0</text>
<rect x="1054.65" y="1690.80" width="666.25" height="475.90" fill="none" stroke="#7f7f7f" stroke-width="2.1"/>
<text x="1387.2" y="2220.5" text-anchor="middle" font-size="24.5" fill="#000">SDI</text>
<text transform="translate(987.7,1928.8) rotate(-90)" text-anchor="middle" font-size="24.4" fill="#000">Age-standardized DALYs rate</text>
<text x="968.8" y="1711.2" font-size="31.5" font-weight="bold" fill="#000">H</text>
<text x="817.5" y="154.6" font-size="24" fill="#000">year</text>
<rect x="817.8" y="169.6" width="38.6" height="191.5" fill="url(#gy)"/>
<text x="868.3" y="183.5" font-size="19.5" fill="#1a1a1a">2020</text>
<line x1="817.8" y1="176.6" x2="825.5" y2="176.6" stroke="#fff" stroke-opacity="0.7" stroke-width="1.2"/>
<line x1="848.7" y1="176.6" x2="856.4" y2="176.6" stroke="#fff" stroke-opacity="0.7" stroke-width="1.2"/>
<text x="868.3" y="244.9" font-size="19.5" fill="#1a1a1a">2010</text>
<line x1="817.8" y1="238.0" x2="825.5" y2="238.0" stroke="#fff" stroke-opacity="0.7" stroke-width="1.2"/>
<line x1="848.7" y1="238.0" x2="856.4" y2="238.0" stroke="#fff" stroke-opacity="0.7" stroke-width="1.2"/>
<text x="868.3" y="306.3" font-size="19.5" fill="#1a1a1a">2000</text>
<line x1="817.8" y1="299.4" x2="825.5" y2="299.4" stroke="#fff" stroke-opacity="0.7" stroke-width="1.2"/>
<line x1="848.7" y1="299.4" x2="856.4" y2="299.4" stroke="#fff" stroke-opacity="0.7" stroke-width="1.2"/>
<text x="868.3" y="367.7" font-size="19.5" fill="#1a1a1a">1990</text>
<line x1="817.8" y1="360.2" x2="825.5" y2="360.2" stroke="#fff" stroke-opacity="0.7" stroke-width="1.2"/>
<line x1="848.7" y1="360.2" x2="856.4" y2="360.2" stroke="#fff" stroke-opacity="0.7" stroke-width="1.2"/>
<text x="1757.6" y="211.9" font-size="24" fill="#000">trend</text>
<circle cx="1777" cy="246.5" r="7.4" fill="#374E55"/>
<circle cx="1777" cy="285.0" r="7.4" fill="#DF8F44"/>
<text x="1807.8" y="253.3" font-size="19.6" fill="#1a1a1a">Decrease</text>
<text x="1807.8" y="291.5" font-size="19.6" fill="#1a1a1a">Increase</text>
<text x="817.5" y="714.3" font-size="24" fill="#000">year</text>
<rect x="817.8" y="729.3" width="38.6" height="191.5" fill="url(#gy)"/>
<text x="868.3" y="743.2" font-size="19.5" fill="#1a1a1a">2020</text>
<line x1="817.8" y1="736.3" x2="825.5" y2="736.3" stroke="#fff" stroke-opacity="0.7" stroke-width="1.2"/>
<line x1="848.7" y1="736.3" x2="856.4" y2="736.3" stroke="#fff" stroke-opacity="0.7" stroke-width="1.2"/>
<text x="868.3" y="804.6" font-size="19.5" fill="#1a1a1a">2010</text>
<line x1="817.8" y1="797.7" x2="825.5" y2="797.7" stroke="#fff" stroke-opacity="0.7" stroke-width="1.2"/>
<line x1="848.7" y1="797.7" x2="856.4" y2="797.7" stroke="#fff" stroke-opacity="0.7" stroke-width="1.2"/>
<text x="868.3" y="866.0" font-size="19.5" fill="#1a1a1a">2000</text>
<line x1="817.8" y1="859.1" x2="825.5" y2="859.1" stroke="#fff" stroke-opacity="0.7" stroke-width="1.2"/>
<line x1="848.7" y1="859.1" x2="856.4" y2="859.1" stroke="#fff" stroke-opacity="0.7" stroke-width="1.2"/>
<text x="868.3" y="927.4" font-size="19.5" fill="#1a1a1a">1990</text>
<line x1="817.8" y1="919.9" x2="825.5" y2="919.9" stroke="#fff" stroke-opacity="0.7" stroke-width="1.2"/>
<line x1="848.7" y1="919.9" x2="856.4" y2="919.9" stroke="#fff" stroke-opacity="0.7" stroke-width="1.2"/>
<text x="1757.6" y="771.6" font-size="24" fill="#000">trend</text>
<circle cx="1777" cy="806.2" r="7.4" fill="#374E55"/>
<circle cx="1777" cy="844.7" r="7.4" fill="#DF8F44"/>
<text x="1807.8" y="813.0" font-size="19.6" fill="#1a1a1a">Decrease</text>
<text x="1807.8" y="851.2" font-size="19.6" fill="#1a1a1a">Increase</text>
<text x="817.5" y="1275.0" font-size="24" fill="#000">year</text>
<rect x="817.8" y="1290.0" width="38.6" height="191.5" fill="url(#gy)"/>
<text x="868.3" y="1303.9" font-size="19.5" fill="#1a1a1a">2020</text>
<line x1="817.8" y1="1297.0" x2="825.5" y2="1297.0" stroke="#fff" stroke-opacity="0.7" stroke-width="1.2"/>
<line x1="848.7" y1="1297.0" x2="856.4" y2="1297.0" stroke="#fff" stroke-opacity="0.7" stroke-width="1.2"/>
<text x="868.3" y="1365.3" font-size="19.5" fill="#1a1a1a">2010</text>
<line x1="817.8" y1="1358.4" x2="825.5" y2="1358.4" stroke="#fff" stroke-opacity="0.7" stroke-width="1.2"/>
<line x1="848.7" y1="1358.4" x2="856.4" y2="1358.4" stroke="#fff" stroke-opacity="0.7" stroke-width="1.2"/>
<text x="868.3" y="1426.7" font-size="19.5" fill="#1a1a1a">2000</text>
<line x1="817.8" y1="1419.8" x2="825.5" y2="1419.8" stroke="#fff" stroke-opacity="0.7" stroke-width="1.2"/>
<line x1="848.7" y1="1419.8" x2="856.4" y2="1419.8" stroke="#fff" stroke-opacity="0.7" stroke-width="1.2"/>
<text x="868.3" y="1488.1" font-size="19.5" fill="#1a1a1a">1990</text>
<line x1="817.8" y1="1480.6" x2="825.5" y2="1480.6" stroke="#fff" stroke-opacity="0.7" stroke-width="1.2"/>
<line x1="848.7" y1="1480.6" x2="856.4" y2="1480.6" stroke="#fff" stroke-opacity="0.7" stroke-width="1.2"/>
<text x="1757.6" y="1332.3" font-size="24" fill="#000">trend</text>
<circle cx="1777" cy="1366.9" r="7.4" fill="#374E55"/>
<circle cx="1777" cy="1405.4" r="7.4" fill="#DF8F44"/>
<text x="1807.8" y="1373.7" font-size="19.6" fill="#1a1a1a">Decrease</text>
<text x="1807.8" y="1411.9" font-size="19.6" fill="#1a1a1a">Increase</text>
<text x="817.5" y="1835.2" font-size="24" fill="#000">year</text>
<rect x="817.8" y="1850.2" width="38.6" height="191.5" fill="url(#gy)"/>
<text x="868.3" y="1864.1" font-size="19.5" fill="#1a1a1a">2020</text>
<line x1="817.8" y1="1857.2" x2="825.5" y2="1857.2" stroke="#fff" stroke-opacity="0.7" stroke-width="1.2"/>
<line x1="848.7" y1="1857.2" x2="856.4" y2="1857.2" stroke="#fff" stroke-opacity="0.7" stroke-width="1.2"/>
<text x="868.3" y="1925.5" font-size="19.5" fill="#1a1a1a">2010</text>
<line x1="817.8" y1="1918.6" x2="825.5" y2="1918.6" stroke="#fff" stroke-opacity="0.7" stroke-width="1.2"/>
<line x1="848.7" y1="1918.6" x2="856.4" y2="1918.6" stroke="#fff" stroke-opacity="0.7" stroke-width="1.2"/>
<text x="868.3" y="1986.9" font-size="19.5" fill="#1a1a1a">2000</text>
<line x1="817.8" y1="1980.0" x2="825.5" y2="1980.0" stroke="#fff" stroke-opacity="0.7" stroke-width="1.2"/>
<line x1="848.7" y1="1980.0" x2="856.4" y2="1980.0" stroke="#fff" stroke-opacity="0.7" stroke-width="1.2"/>
<text x="868.3" y="2048.3" font-size="19.5" fill="#1a1a1a">1990</text>
<line x1="817.8" y1="2040.8" x2="825.5" y2="2040.8" stroke="#fff" stroke-opacity="0.7" stroke-width="1.2"/>
<line x1="848.7" y1="2040.8" x2="856.4" y2="2040.8" stroke="#fff" stroke-opacity="0.7" stroke-width="1.2"/>
<text x="1757.6" y="1892.5" font-size="24" fill="#000">trend</text>
<circle cx="1777" cy="1927.1" r="7.4" fill="#374E55"/>
<circle cx="1777" cy="1965.6" r="7.4" fill="#DF8F44"/>
<text x="1807.8" y="1933.9" font-size="19.6" fill="#1a1a1a">Decrease</text>
<text x="1807.8" y="1972.1" font-size="19.6" fill="#1a1a1a">Increase</text>
</svg></body></html>
